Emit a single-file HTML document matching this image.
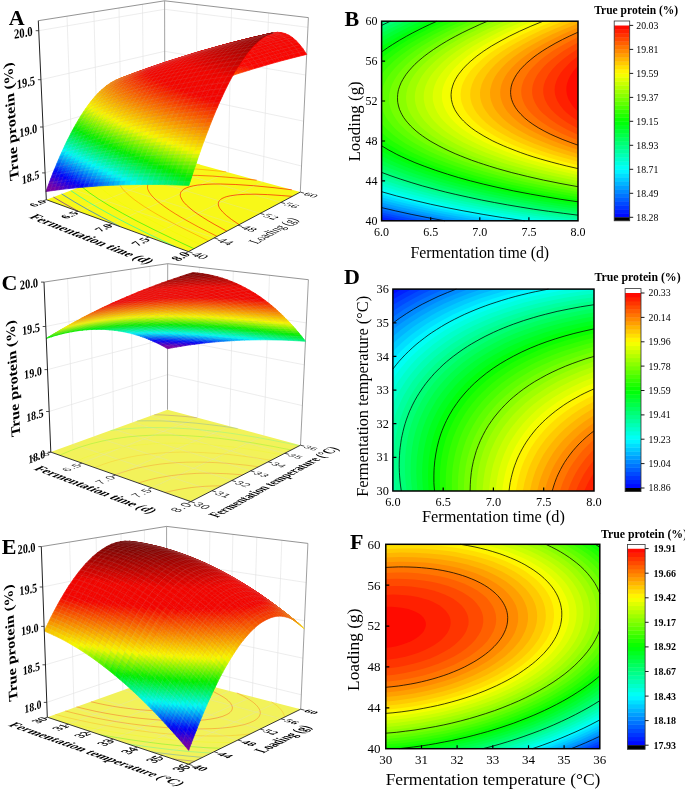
<!DOCTYPE html><html><head><meta charset="utf-8"><style>html,body{margin:0;padding:0;background:#fff}svg{display:block;will-change:transform}</style></head><body><svg width="685" height="789" viewBox="0 0 685 789" font-family="Liberation Serif, serif">
<rect width="685" height="789" fill="#fff"/>
<g>
<rect x="381.6" y="21.2" width="196.4" height="199.6" fill="#000bff"/>
<path d="M381.6,219.1L381.6,219.3 388.9,220.8 578,220.8 578,21.2 381.6,21.2 381.6,217.5Z" fill="#0020ff"/>
<path d="M391.4,219.1L399.5,220.8 578,220.8 578,21.2 381.6,21.2 381.6,217 391.4,219.1Z" fill="#0035ff"/>
<path d="M402.1,219.1L410.5,220.8 578,220.8 578,21.2 381.6,21.2 381.6,214.7 401.2,219Z" fill="#004aff"/>
<path d="M413.1,219.1L421.7,220.8 578,220.8 578,21.2 381.6,21.2 381.6,212.4 396.9,215.8 412.7,219.1Z" fill="#0060ff"/>
<path d="M424.3,219.1L433.2,220.8 578,220.8 578,21.2 381.6,21.2 381.6,210 401.2,214.5 424.2,219.1Z" fill="#0075ff"/>
<path d="M435.8,219.1L445,220.8 578,220.8 578,21.2 381.6,21.2 381.6,207.6 407.8,213.6 435.6,219.1Z" fill="#008aff"/>
<path d="M447.7,219.1L457.2,220.8 578,220.8 578,21.2 381.6,21.2 381.6,205.1 398.5,209.2 413.6,212.5 429.9,215.8 447.1,219Z" fill="#009fff"/>
<path d="M459.9,219.1L469.7,220.8 578,220.8 578,21.2 381.6,21.2 381.6,202.6 399.6,207 417.6,211 437.2,215 458.5,218.9Z" fill="#00b5ff"/>
<path d="M472.5,219.1L482.7,220.8 578,220.8 578,21.2 381.6,21.2 381.6,200 402.9,205.3 424.2,210 447.1,214.6 471.6,219Z" fill="#00caff"/>
<path d="M485.5,219.1L496.2,220.8 578,220.8 578,21.2 381.6,21.2 381.6,197.3 394.7,200.7 406.2,203.6 431.2,209.2 456.5,214.1 484.7,219Z" fill="#00dfff"/>
<path d="M499,219.1L510.1,220.8 578,220.8 578,21.2 381.6,21.2 381.6,194.5 392.4,197.5 406.2,201 419.4,204.2 434.6,207.5 451,210.8 465.1,213.5 479.8,216 497.8,218.9Z" fill="#00f4ff"/>
<path d="M513,219.1L524.7,220.8 578,220.8 578,21.2 381.6,21.2 381.6,191.7 396.3,195.8 409.4,199.2 424.2,202.7 442.2,206.7 458.5,210 476.5,213.3 492.9,216 512.5,219.1Z" fill="#00fff4"/>
<path d="M527.7,219.1L539.9,220.8 578,220.8 578,21.2 381.6,21.2 381.6,188.8 396.3,193.1 413.2,197.5 430.7,201.7 449.7,205.8 466.7,209.2 486.3,212.7 505.2,215.8 527.3,219.1Z" fill="#00ffdf"/>
<path d="M543,219.1L555.9,220.8 578,220.8 578,21.2 381.6,21.2 381.6,185.8 398.6,190.9 416,195.5 434,199.9 453.4,204.2 474.9,208.4 496.2,212.2 519.3,215.8 542,219Z" fill="#00ffca"/>
<path d="M559.1,219.1L572.9,220.8 578,220.8 578,21.2 381.6,21.2 381.6,182.6 399.6,188.2 419.2,193.6 438.9,198.5 460.2,203.1 482.7,207.5 507.6,211.8 533.8,215.8 558.4,219Z" fill="#00ffb5"/>
<path d="M576.1,219.1L578,219.4 578,21.2 381.6,21.2 381.6,179.4 391.1,182.5 401.8,185.9 420.9,191.3 432.2,194.2 445.4,197.4 468.3,202.3 494.5,207.3 519.1,211.4 546.9,215.5 574.7,219Z" fill="#00ff9f"/>
<path d="M565.8,215.8L578,217.3 578,21.2 383,21.2 381.6,21.8 381.6,176 399.6,182.1 417.8,187.5 430,190.9 440.5,193.5 463.4,198.8 486.3,203.4 510.9,207.8 537.1,211.9 564.9,215.7Z" fill="#00ff8a"/>
<path d="M569.4,214.1L578,215.2 578,21.2 390.4,21.2 381.6,25.4 381.6,172.4 391,175.9 399.6,178.9 417.6,184.5 428.4,187.5 440.5,190.7 462,195.9 485.8,200.8 513.1,205.8 540.4,210.2 568.2,214Z" fill="#00ff75"/>
<path d="M573.3,212.5L578,213.1 578,21.2 397.9,21.2 381.6,29.1 381.6,168.7 391.5,172.6 400.7,175.9 410.7,179.2 420.9,182.4 442.2,188.3 465.1,193.9 490,199.2 517.1,204.2 545.3,208.6 573.1,212.5Z" fill="#00ff60"/>
<path d="M577.3,210.8L578,210.9 578,21.2 405.6,21.2 391.6,27.9 381.6,33 381.6,164.8 389.8,168.2 399.6,172 410.7,175.9 419.2,178.7 430.7,182.1 440.5,184.9 450.3,187.5 463.8,190.9 478.2,194.1 489.6,196.5 503,199.2 517.4,201.8 545.3,206.4 576.4,210.7Z" fill="#00ff4a"/>
<path d="M568.9,207.5L578,208.7 578,21.2 413.3,21.2 406.1,24.5 395.9,29.5 381.6,37.2 381.6,160.6 389.8,164.2 397.8,167.6 406.6,170.9 416,174.2 426.1,177.6 437.1,180.9 448.9,184.2 461.8,187.5 474.9,190.7 486.3,193.2 512.5,198.5 538.7,203 568.2,207.4Z" fill="#00ff35"/>
<path d="M573.3,205.8L578,206.5 578,21.2 421.1,21.2 410.4,26.2 400.4,31.2 391.1,36.2 381.6,41.7 381.6,156.1 391.4,160.8 399.3,164.2 407.6,167.6 416.6,170.9 426.2,174.2 436.7,177.6 448,180.9 460.2,184.2 473.5,187.5 486.3,190.5 512.2,195.9 540.4,200.9 556.7,203.4 573.1,205.8Z" fill="#00ff20"/>
<path d="M578,204.2L578,21.2 429,21.2 414.8,27.9 401.8,34.5 390.2,41.2 381.6,46.6 381.6,151.2 389.8,155.5 397.5,159.3 407.8,163.7 417.6,167.6 426.8,170.9 436.7,174.2 447.5,177.6 460.2,181.2 471.8,184.2 485.6,187.5 500.6,190.9 514.2,193.6 528.9,196.4 544.9,199.2 576.4,203.9Z" fill="#00ff0b"/>
<path d="M571.1,200.8L578,201.8 578,21.2 437,21.2 422.5,27.9 412.8,32.8 406.6,36.2 399.6,40.2 392.6,44.5 387.5,47.8 381.6,52 381.6,145.8 388.1,149.7 396.6,154.3 406.2,158.8 414.9,162.6 424.2,166.2 435.6,170.3 447.5,174.2 458.5,177.5 470.6,180.9 483.7,184.2 498,187.5 510.9,190.3 524,192.9 540.1,195.9 569.8,200.6Z" fill="#0bff00"/>
<path d="M576.1,199.2L578,199.5 578,21.2 445.2,21.2 437.2,24.8 427.3,29.5 417.6,34.5 408.7,39.5 400.4,44.5 392.9,49.5 386.1,54.5 381.6,58.1 381.6,139.7 388.2,144.3 396.6,149.3 404.5,153.5 413.2,157.6 422.5,161.6 433.6,165.9 443.8,169.5 456.9,173.7 470,177.6 482.4,180.9 496,184.2 510.9,187.5 527.1,190.9 542,193.6 556.7,196.2 574.7,199Z" fill="#20ff00"/>
<path d="M570.4,195.9L578,197 578,21.2 453.4,21.2 442.3,26.2 432.1,31.2 422.5,36.2 411,42.8 402.9,48.1 394,54.5 387.8,59.5 381.6,65.3 381.6,132.6 386.5,136.7 392.3,141 399.6,145.6 406,149.3 414.3,153.6 423,157.6 430.9,160.9 442.2,165.2 453.6,169.2 463.4,172.3 475.6,175.9 488,179.2 501.1,182.4 512.5,185.1 525.6,187.8 541.2,190.9 569.8,195.8Z" fill="#35ff00"/>
<path d="M575.9,194.2L578,194.5 578,21.2 461.8,21.2 447.1,27.9 433.8,34.5 421.9,41.2 411.3,47.8 401.9,54.5 397.8,57.8 393.9,61.1 390.4,64.4 387.1,67.8 384.2,71.1 381.6,74.4 381.6,123.4 383.8,126 387,129.3 392.5,134.3 399.1,139.3 406.2,143.9 412.5,147.6 420.9,152 429.3,155.9 437.1,159.3 445.6,162.6 454.8,165.9 464.8,169.2 475.6,172.6 487.4,175.9 497.8,178.6 509.3,181.4 521.8,184.2 546.7,189.2 574.7,194Z" fill="#4aff00"/>
<path d="M571.2,190.9L578,192 578,21.2 470.2,21.2 461.8,24.9 451.9,29.5 445.3,32.8 435.9,37.8 429.1,41.7 421.9,46.1 414.5,51.1 407.9,56.1 403.9,59.5 398.4,64.4 394.7,68.3 390.9,72.8 387.4,77.8 385.4,81.1 383.1,86.1 381.6,90.9 381.6,106.9 382.9,111 384.4,114.3 386.2,117.7 388.5,121 391.1,124.3 394.2,127.7 397.7,131 401.6,134.3 406,137.6 410.9,141 416.3,144.3 422.2,147.6 428.7,150.9 435.7,154.3 448.7,159.7 456.3,162.6 465.8,165.9 483.1,171.3 502.7,176.7 524,181.8 545.3,186.2 569.8,190.6Z" fill="#60ff00"/>
<path d="M577.1,189.2L578,189.3 578,21.2 478.8,21.2 468.3,25.8 460.2,29.6 450.4,34.5 441.2,39.5 432.8,44.5 425.1,49.5 418.2,54.5 412,59.5 406.6,64.4 401.8,69.4 397.8,74.4 394.6,79.4 392,84.4 390.3,89.4 389.2,94.4 389,97.7 389.2,102.7 389.9,106 390.9,109.4 392.2,112.7 394,116 396.1,119.3 398.6,122.7 401.2,125.6 406.8,131 410.9,134.3 415.4,137.6 420.4,141 426,144.3 432.1,147.6 437.2,150.2 449.9,155.9 462.6,160.9 478.2,166.3 496.2,171.7 512.5,176 533.5,180.9 555.1,185.3 576.4,189.1Z" fill="#75ff00"/>
<path d="M573.5,185.9L578,186.7 578,21.2 487.6,21.2 479.8,24.5 469,29.5 458.9,34.5 449.7,39.5 441.2,44.5 433.5,49.5 426.5,54.5 420.3,59.5 414.8,64.4 410.1,69.4 406.1,74.4 402.9,79.4 400.4,84.4 398.6,89.4 397.7,94.4 397.5,97.7 397.6,101 398.1,104.4 399,107.7 400.2,111 401.8,114.3 403.8,117.7 406.3,121 409.1,124.3 412.4,127.7 416,130.9 422.6,136 427.5,139.3 432.3,142.3 442.1,147.6 449,150.9 455.2,153.7 469.1,159.3 483.4,164.2 499.4,169.2 515.8,173.6 532.2,177.6 551.8,181.8 573.1,185.8Z" fill="#8aff00"/>
<path d="M570.6,182.5L578,183.9 578,21.2 496.4,21.2 488.6,24.5 479.8,28.5 470.8,32.8 463.4,36.6 455.3,41.2 448.7,45.1 441.9,49.5 434.9,54.5 428.7,59.5 423.2,64.4 418.5,69.4 414.5,74.4 412.3,77.8 409.6,82.7 407.6,87.7 406.5,92.7 406.1,96 406.1,99.4 406.5,102.7 407.2,106 408.3,109.4 409.8,112.7 411.8,116 415.4,121 418.3,124.3 420.9,126.9 423.6,129.3 427.7,132.6 432.2,136 437.3,139.3 447.1,144.9 452.4,147.6 459.5,150.9 471.5,155.9 485,160.9 500.5,165.9 515.8,170.3 532.2,174.4 550.2,178.5 569.8,182.4Z" fill="#9fff00"/>
<path d="M577.1,180.9L578,181 578,21.2 505.4,21.2 490.1,27.9 483,31.2 473.1,36.2 466.7,39.6 458.3,44.5 452,48.5 445.7,52.8 440.5,56.8 435.3,61.1 430.1,66.1 425.6,71.1 421.9,76.1 419.9,79.4 417.4,84.4 416.2,87.7 415.1,92.7 414.8,96 414.9,99.4 415.3,102.7 416.1,106 417.3,109.4 418.9,112.7 420.9,116 424.6,121 427.7,124.3 430.7,127.2 433.1,129.3 437.4,132.6 442.1,136 447.1,139.1 456.3,144.3 466.5,149.3 478.3,154.3 491.8,159.3 507.2,164.2 522.4,168.6 538.7,172.8 556.7,176.8 576.4,180.7Z" fill="#b5ff00"/>
<path d="M575.2,177.6L578,178.1 578,21.2 514.6,21.2 502.7,26.2 488.5,32.8 475.7,39.5 469.9,42.8 461.7,47.8 456.8,51.1 450,56.1 444,61.1 440.4,64.4 435.7,69.4 433,72.8 430.6,76.1 427.7,81.1 425.5,86.1 424.6,89.4 423.9,92.7 423.7,96 423.8,99.4 424.3,102.7 425.1,106 426.4,109.4 429.1,114.4 431.4,117.7 434,120.9 439,126 442.9,129.3 447.1,132.5 454.8,137.6 463.4,142.6 473.7,147.6 485.4,152.6 498.8,157.6 510.9,161.6 525.4,165.9 540.4,169.8 558.4,174.1 574.7,177.5Z" fill="#caff00"/>
<path d="M573.9,174.2L578,175.1 578,21.2 523.9,21.2 507.6,28.1 497.6,32.8 490.9,36.2 478.8,42.8 473.2,46.1 465.6,51.1 461,54.5 456.7,57.8 452,61.8 447.5,66.1 443.8,70.2 440.5,74.4 438.3,77.8 436.5,81.1 434.4,86.1 433.5,89.4 432.9,92.7 432.7,96 432.8,99.4 433.4,102.7 435,107.7 437.4,112.7 440.8,117.7 443.7,121 447,124.3 452.8,129.3 459.8,134.3 468,139.3 477.6,144.3 488.6,149.3 499.4,153.6 510.9,157.7 525.6,162.3 538.7,166 555.1,170.1 573.1,174.1Z" fill="#dfff00"/>
<path d="M573.3,170.9L578,171.9 578,21.2 533.4,21.2 524,25.1 513.9,29.5 503.4,34.5 493.8,39.5 482.3,46.1 477.1,49.5 472.2,52.8 467.7,56.1 463.6,59.5 459.8,62.8 454.9,67.8 452,71.1 449.5,74.4 447.3,77.8 445.5,81.1 444,84.4 442.9,87.7 442.2,91.1 441.9,94.4 441.9,97.7 442.3,101 443.7,106 446,111 448,114.3 450.3,117.4 452,119.4 455.1,122.7 460.8,127.7 467.6,132.6 475.7,137.6 485.1,142.6 496.1,147.6 507.6,152.2 518,155.9 530.5,159.9 545.3,164.1 558.8,167.6 573.1,170.9Z" fill="#f4ff00"/>
<path d="M573.2,167.6L578,168.6 578,21.2 543.1,21.2 530.9,26.2 519.7,31.2 509.3,36.3 497.1,42.8 486.2,49.5 481.3,52.8 476.8,56.1 472.7,59.5 468.9,62.8 465.5,66.1 462.4,69.4 459.7,72.8 457.4,76.1 455.4,79.4 453.8,82.7 452.6,86.1 451.7,89.4 451.1,94.4 451.4,99.4 452.6,104.4 454.7,109.4 457.8,114.3 461.9,119.3 467,124.3 473.3,129.3 480.8,134.3 489.7,139.3 499.9,144.3 510.9,148.9 520.7,152.6 533.8,157 546.9,160.9 559.5,164.2 573.1,167.5Z" fill="#fff400"/>
<path d="M573.8,164.2L578,165.2 578,21.2 553,21.2 536.8,27.9 522.3,34.5 509.4,41.2 498.1,47.8 490.6,52.8 486.1,56.1 481.9,59.5 476.4,64.4 473.2,67.8 470.3,71.1 467.8,74.4 465.6,77.8 463.1,82.7 461.9,86.1 461.1,89.4 460.6,94.4 461,99.4 461.7,102.7 462.3,104.4 464.5,109.4 467.7,114.3 472,119.3 477.4,124.3 483.1,128.7 489,132.6 496.2,136.8 504.3,141 514.2,145.4 523.9,149.3 535.4,153.3 548.5,157.5 560.8,160.9 573.1,164.1Z" fill="#ffdf00"/>
<path d="M575,160.9L578,161.7 578,21.2 563,21.2 558.8,22.9 542.8,29.5 528.6,36.2 515.8,42.9 507.6,47.8 502.5,51.1 495.5,56.1 489.4,61.1 485.8,64.4 483.1,67.2 481.1,69.4 478.4,72.8 476.1,76.1 474.1,79.4 472,84.4 470.6,89.4 470.2,94.4 470.4,97.7 470.7,99.4 471.5,102.7 472.1,104.4 473.3,107 474.5,109.4 476.6,112.7 480.7,117.7 485.9,122.7 491.3,126.9 497.3,131 504.4,135.1 512.4,139.3 520.7,143.1 530.5,147.1 541.2,150.9 551.4,154.3 562.6,157.6 574.7,160.8Z" fill="#ffca00"/>
<path d="M576.8,157.6L578,157.9 578,21.2 573.3,21.2 556.7,27.9 541.9,34.5 531.9,39.5 522.8,44.5 514.6,49.5 507.3,54.5 500.9,59.5 495.3,64.4 490.6,69.4 486.8,74.4 483.8,79.4 481.6,84.4 480.4,89.4 480,92.7 480.1,96 480.3,97.7 481,101 481.5,102.7 482.9,106 483.7,107.7 485.8,111 489.6,115.9 492.9,119.3 497.8,123.6 503.4,127.7 510.9,132.4 517.5,136 524.3,139.3 533.8,143.4 544.6,147.6 554.3,150.9 565,154.3 576.4,157.5Z" fill="#ffb500"/>
<path d="M573.4,152.6L578,153.9 578,23.4 567,27.9 559.3,31.2 551.8,34.6 541.9,39.5 535.4,43 527.1,47.8 519.5,52.8 512.7,57.8 506.8,62.8 501.8,67.8 497.7,72.8 495.4,76.1 492.8,81.1 491.5,84.4 490.3,89.4 490,92.7 490.2,96 490.4,97.7 491.2,101 492.9,105.4 495.1,109.4 497.8,113.1 502,117.7 505.7,121 510.9,125.1 517.3,129.3 523,132.6 529.4,136 536.5,139.3 544.4,142.6 553.1,145.9 562.7,149.3 573.1,152.5Z" fill="#ff9f00"/>
<path d="M576.6,149.3L578,149.7 578,27.6 562.3,34.5 555.1,38 545.8,42.8 540,46.1 531.9,51.1 527.1,54.5 520.6,59.5 515.8,63.7 511.8,67.8 507.6,72.8 505.4,76.1 502.8,81.1 501.5,84.4 501.1,86.1 500.4,89.4 500.2,92.7 500.4,96 500.7,97.7 501.6,101 502.9,104.4 504.7,107.7 507.6,111.9 511.3,116 514.9,119.3 519,122.7 523.7,126 529,129.3 535,132.6 542,136.1 549.1,139.3 557.3,142.6 566.5,145.9 576.4,149.2Z" fill="#ff8a00"/>
<path d="M575.4,144.3L578,145.2 578,32.2 569.3,36.2 562.5,39.5 556.2,42.8 550.3,46.1 544.8,49.5 539.7,52.8 535,56.1 528.8,61.1 524,65.6 520.4,69.4 517.8,72.8 515.6,76.1 513,81.1 511.8,84.4 511,87.7 510.6,91.1 510.7,94.4 510.9,96 511.6,99.4 512.8,102.7 514.5,106 516.7,109.4 519.3,112.7 522.5,116 526.2,119.3 530.6,122.7 535.5,126 541,129.3 547.3,132.6 554.3,136 560,138.4 566.3,141 574.7,144Z" fill="#ff7500"/>
<path d="M575.6,139.3L578,140.2 578,37.1 569.9,41.2 563.7,44.5 558,47.8 552.6,51.1 547.7,54.5 543.2,57.8 539.2,61.1 535.5,64.4 532.3,67.8 529.4,71.1 527,74.4 525,77.8 523.4,81.1 522.3,84.4 521.5,87.7 521.2,91.1 521.4,94.4 522,97.7 523.1,101 524.6,104.4 526.6,107.7 528.9,110.7 530.7,112.7 534,116 537.9,119.3 542,122.3 545.3,124.5 550.5,127.7 556.7,131 561.6,133.4 567.4,136 574.7,139Z" fill="#ff6000"/>
<path d="M577,134.3L578,134.7 578,42.6 568.7,47.8 563.3,51.1 558.4,54.5 551.8,59.5 547.9,62.8 544.4,66.1 541.4,69.4 538.8,72.8 536.6,76.1 534.8,79.4 533.5,82.7 532.6,86.1 532.2,89.4 532.1,91.1 532.3,94.4 533,97.7 533.8,100 535,102.7 536.9,106 539.3,109.4 542,112.4 544,114.3 550,119.3 557.4,124.3 566.3,129.3 576.4,134Z" fill="#ff4a00"/>
<path d="M576.3,127.7L578,128.5 578,48.8 569.3,54.5 562.6,59.5 556.9,64.4 552.2,69.4 548.5,74.4 545.8,79.4 545.1,81.1 544,84.4 543.6,86.1 543.2,89.4 543.3,92.7 543.5,94.4 544.3,97.7 544.9,99.4 546.5,102.7 547.4,104.4 549.8,107.7 551.1,109.4 555.1,113.4 560.1,117.7 567.4,122.7 574.7,126.8Z" fill="#ff3500"/>
<path d="M577.8,121L578,121.1 578,56.2 571.7,61.1 568.1,64.4 563.4,69.4 560.8,72.8 557.7,77.8 556.3,81.1 555.3,84.4 554.9,86.1 554.6,89.4 554.8,92.7 555.1,94.4 556,97.7 557.4,101 560,105.3 563.3,109.4 566.6,112.7 570.6,116 576.4,120.1Z" fill="#ff2000"/>
<path d="M577.5,111L578,111.5 578,65.9 576.2,67.8 573.4,71.1 570.1,76.1 568.4,79.4 567.3,82.7 566.5,86.1 566.4,87.7 566.4,91.1 566.9,94.4 567.9,97.7 568.6,99.4 569.8,101.6 571.6,104.4 574.2,107.7 576.4,109.9Z" fill="#ff0b00"/>
<path d="M381.6,207.6L395.3,210.8 411.1,214.3 427.1,217.5 445,220.8M381.6,191.7L396.4,195.9 412.7,200 430.5,204.2 446.1,207.5 463.1,210.8 483.1,214.4 502.7,217.6 524.7,220.8M381.6,172.4L391,175.9 400.7,179.2 411.1,182.5 422.4,185.9 434.6,189.2 445.4,192 455.2,194.3 468.3,197.2 481.4,200 494.4,202.5 507.6,204.9 520.7,207.1 533.7,209.2 548.5,211.3 563.3,213.3 578,215.2M390.4,21.2L381.6,25.4M381.6,145.8L388.1,149.7 393.1,152.4 396.6,154.3 401.2,156.5 406.2,158.8 414.9,162.6 424.2,166.2 435.6,170.3 447.5,174.2 458.6,177.6 470.6,180.9 483.7,184.2 498,187.5 513.6,190.9 530.5,194.1 545.3,196.7 560.1,199.2 578,201.8M437,21.2L429.7,24.5 422.5,27.9 412.8,32.8 406.6,36.2 399.6,40.2 392.6,44.5 387.5,47.8 381.6,52M487.6,21.2L479.8,24.5 474.9,26.8 469,29.5 462.2,32.8 455.7,36.2 452,38.2 446.7,41.2 441.2,44.5 433.5,49.5 428.8,52.8 424.4,56.1 422.3,57.8 418.4,61.1 414.8,64.4 411.6,67.8 408.7,71.1 406.1,74.4 404.5,76.8 402.9,79.4 401.1,82.7 399.7,86.1 398.6,89.4 398.2,91.1 397.7,94.4 397.5,97.7 397.6,101 397.8,102.7 398.5,106 399.5,109.4 401,112.7 401.8,114.3 403.8,117.7 406.2,120.9 407.8,122.8 410.7,126 412.7,127.9 416.1,131 419.2,133.5 422.6,136 425.8,138.2 430.1,141 434,143.2 438.9,145.9 443.8,148.4 449,150.9 455.2,153.7 460.6,155.9 465.1,157.7 471.6,160.2 478.5,162.6 483.4,164.2 489.6,166.2 497.8,168.7 511.8,172.6 518.3,174.2 527.3,176.4 543.6,180.1 560,183.4 578,186.7M543.1,21.2L530.9,26.2 519.7,31.2 509.4,36.2 500,41.2 491.4,46.1 486.3,49.4 483.7,51.1 481.3,52.8 476.8,56.1 474.7,57.8 470.8,61.1 468.3,63.3 465.5,66.1 463.4,68.3 461.1,71.1 458.5,74.4 457.4,76.1 455.4,79.4 454.6,81.1 453.8,82.7 452.6,86.1 451.7,89.4 451.4,91.1 451.1,94.4 451.1,96 451.4,99.4 452,102.2 452.6,104.4 453.2,106 454.7,109.4 455.6,111 456.9,113 459,116 461.8,119.3 463.5,121 466.7,124 469,126 471.6,128.1 475.7,131 478.2,132.6 483.1,135.6 489.7,139.3 492.9,141 497.8,143.3 503.7,145.9 507.7,147.6 516.2,150.9 520.7,152.6 527.3,154.9 533.8,157 540.4,159 551.8,162.2 559.5,164.2 566.2,165.9 578,168.6M578,32.2L569.3,36.2 562.5,39.5 555.1,43.4 547.5,47.8 542.2,51.1 537.3,54.5 535,56.1 530.8,59.5 526.9,62.8 525.2,64.4 522.4,67.3 520.4,69.4 519.1,71.1 516.6,74.4 514.6,77.8 513,81.1 512.3,82.7 511.3,86.1 511,87.7 510.8,89.4 510.6,91.1 510.6,92.7 510.7,94.4 510.9,96 511.2,97.7 511.6,99.4 512.2,101 512.8,102.7 513.6,104.4 514.5,106 515.5,107.7 516.7,109.4 517.9,111 520.9,114.3 524.3,117.7 528.3,121 532.9,124.3 538.2,127.7 544.1,131 550.2,134.1 555.1,136.3 562.1,139.3 570.8,142.6 578,145.2" fill="none" stroke="#000" stroke-width="0.75"/>
</g>
<rect x="381.6" y="21.2" width="196.4" height="199.6" fill="none" stroke="#000" stroke-width="1.5"/>
<text x="381.6" y="236.3" font-size="12" text-anchor="middle" font-weight="normal" fill="#000" >6.0</text>
<text x="430.7" y="236.3" font-size="12" text-anchor="middle" font-weight="normal" fill="#000" >6.5</text>
<text x="479.8" y="236.3" font-size="12" text-anchor="middle" font-weight="normal" fill="#000" >7.0</text>
<text x="528.9" y="236.3" font-size="12" text-anchor="middle" font-weight="normal" fill="#000" >7.5</text>
<text x="578" y="236.3" font-size="12" text-anchor="middle" font-weight="normal" fill="#000" >8.0</text>
<text x="377.6" y="224.8" font-size="12" text-anchor="end" font-weight="normal" fill="#000" >40</text>
<text x="377.6" y="184.8" font-size="12" text-anchor="end" font-weight="normal" fill="#000" >44</text>
<text x="377.6" y="144.9" font-size="12" text-anchor="end" font-weight="normal" fill="#000" >48</text>
<text x="377.6" y="105" font-size="12" text-anchor="end" font-weight="normal" fill="#000" >52</text>
<text x="377.6" y="65.1" font-size="12" text-anchor="end" font-weight="normal" fill="#000" >56</text>
<text x="377.6" y="25.2" font-size="12" text-anchor="end" font-weight="normal" fill="#000" >60</text>
<path d="M430.7,220.8v-3.5M479.8,220.8v-3.5M528.9,220.8v-3.5M381.6,180.9h3.5M381.6,141h3.5M381.6,101h3.5M381.6,61.1h3.5" stroke="#000" stroke-width="1.2" fill="none"/>
<text x="479.8" y="258" font-size="15.8" text-anchor="middle" font-weight="normal" fill="#000" >Fermentation time (d)</text>
<text transform="translate(360.3,121.4) rotate(-90)" font-size="16.9" text-anchor="middle">Loading (g)</text>
<rect x="614.2" y="213.1" width="15.5" height="4.4" fill="#000bff"/>
<rect x="614.2" y="209.1" width="15.5" height="4.4" fill="#0020ff"/>
<rect x="614.2" y="205.1" width="15.5" height="4.4" fill="#0035ff"/>
<rect x="614.2" y="201.1" width="15.5" height="4.4" fill="#004aff"/>
<rect x="614.2" y="197.1" width="15.5" height="4.4" fill="#0060ff"/>
<rect x="614.2" y="193.1" width="15.5" height="4.4" fill="#0075ff"/>
<rect x="614.2" y="189.1" width="15.5" height="4.4" fill="#008aff"/>
<rect x="614.2" y="185.1" width="15.5" height="4.4" fill="#009fff"/>
<rect x="614.2" y="181.1" width="15.5" height="4.4" fill="#00b5ff"/>
<rect x="614.2" y="177.1" width="15.5" height="4.4" fill="#00caff"/>
<rect x="614.2" y="173.1" width="15.5" height="4.4" fill="#00dfff"/>
<rect x="614.2" y="169.1" width="15.5" height="4.4" fill="#00f4ff"/>
<rect x="614.2" y="165.1" width="15.5" height="4.4" fill="#00fff4"/>
<rect x="614.2" y="161.1" width="15.5" height="4.4" fill="#00ffdf"/>
<rect x="614.2" y="157.1" width="15.5" height="4.4" fill="#00ffca"/>
<rect x="614.2" y="153.1" width="15.5" height="4.4" fill="#00ffb5"/>
<rect x="614.2" y="149.1" width="15.5" height="4.4" fill="#00ff9f"/>
<rect x="614.2" y="145.1" width="15.5" height="4.4" fill="#00ff8a"/>
<rect x="614.2" y="141.1" width="15.5" height="4.4" fill="#00ff75"/>
<rect x="614.2" y="137.1" width="15.5" height="4.4" fill="#00ff60"/>
<rect x="614.2" y="133.1" width="15.5" height="4.4" fill="#00ff4a"/>
<rect x="614.2" y="129.1" width="15.5" height="4.4" fill="#00ff35"/>
<rect x="614.2" y="125.1" width="15.5" height="4.4" fill="#00ff20"/>
<rect x="614.2" y="121.2" width="15.5" height="4.4" fill="#00ff0b"/>
<rect x="614.2" y="117.2" width="15.5" height="4.4" fill="#0bff00"/>
<rect x="614.2" y="113.2" width="15.5" height="4.4" fill="#20ff00"/>
<rect x="614.2" y="109.2" width="15.5" height="4.4" fill="#35ff00"/>
<rect x="614.2" y="105.2" width="15.5" height="4.4" fill="#4aff00"/>
<rect x="614.2" y="101.2" width="15.5" height="4.4" fill="#60ff00"/>
<rect x="614.2" y="97.2" width="15.5" height="4.4" fill="#75ff00"/>
<rect x="614.2" y="93.2" width="15.5" height="4.4" fill="#8aff00"/>
<rect x="614.2" y="89.2" width="15.5" height="4.4" fill="#9fff00"/>
<rect x="614.2" y="85.2" width="15.5" height="4.4" fill="#b5ff00"/>
<rect x="614.2" y="81.2" width="15.5" height="4.4" fill="#caff00"/>
<rect x="614.2" y="77.2" width="15.5" height="4.4" fill="#dfff00"/>
<rect x="614.2" y="73.2" width="15.5" height="4.4" fill="#f4ff00"/>
<rect x="614.2" y="69.2" width="15.5" height="4.4" fill="#fff400"/>
<rect x="614.2" y="65.2" width="15.5" height="4.4" fill="#ffdf00"/>
<rect x="614.2" y="61.2" width="15.5" height="4.4" fill="#ffca00"/>
<rect x="614.2" y="57.2" width="15.5" height="4.4" fill="#ffb500"/>
<rect x="614.2" y="53.2" width="15.5" height="4.4" fill="#ff9f00"/>
<rect x="614.2" y="49.2" width="15.5" height="4.4" fill="#ff8a00"/>
<rect x="614.2" y="45.2" width="15.5" height="4.4" fill="#ff7500"/>
<rect x="614.2" y="41.2" width="15.5" height="4.4" fill="#ff6000"/>
<rect x="614.2" y="37.2" width="15.5" height="4.4" fill="#ff4a00"/>
<rect x="614.2" y="33.2" width="15.5" height="4.4" fill="#ff3500"/>
<rect x="614.2" y="29.2" width="15.5" height="4.4" fill="#ff2000"/>
<rect x="614.2" y="25.2" width="15.5" height="4.4" fill="#ff0b00"/>
<rect x="614.2" y="21" width="15.5" height="4.4" fill="#fff"/>
<rect x="614.2" y="217.3" width="15.5" height="3.5" fill="#000"/>
<rect x="614.2" y="21" width="15.5" height="199.8" fill="none" stroke="#333" stroke-width="0.8"/>
<text x="636.3" y="28.7" font-size="9.8" text-anchor="start" font-weight="normal" fill="#000" >20.03</text>
<text x="636.3" y="52.7" font-size="9.8" text-anchor="start" font-weight="normal" fill="#000" >19.81</text>
<text x="636.3" y="76.7" font-size="9.8" text-anchor="start" font-weight="normal" fill="#000" >19.59</text>
<text x="636.3" y="100.7" font-size="9.8" text-anchor="start" font-weight="normal" fill="#000" >19.37</text>
<text x="636.3" y="124.7" font-size="9.8" text-anchor="start" font-weight="normal" fill="#000" >19.15</text>
<text x="636.3" y="148.7" font-size="9.8" text-anchor="start" font-weight="normal" fill="#000" >18.93</text>
<text x="636.3" y="172.7" font-size="9.8" text-anchor="start" font-weight="normal" fill="#000" >18.71</text>
<text x="636.3" y="196.6" font-size="9.8" text-anchor="start" font-weight="normal" fill="#000" >18.49</text>
<text x="636.3" y="220.6" font-size="9.8" text-anchor="start" font-weight="normal" fill="#000" >18.28</text>
<path d="M629.7,25.4h3.5M629.7,49.4h3.5M629.7,73.4h3.5M629.7,97.4h3.5M629.7,121.3h3.5M629.7,145.3h3.5M629.7,169.3h3.5M629.7,193.3h3.5M629.7,217.3h3.5" stroke="#000" stroke-width="0.9" fill="none"/>
<text x="594.3" y="13.6" font-size="11.5" text-anchor="start" font-weight="bold" fill="#000" >True protein (%)</text>
<text x="344.5" y="26.3" font-size="22" text-anchor="start" font-weight="bold" fill="#000" >B</text>
<g>
<rect x="392.9" y="289.1" width="201.1" height="201.9" fill="#000bff"/>
<path d="M392.9,491L594,491 594,289.1 402.2,289.1 392.9,294.2 392.9,489.3Z" fill="#0020ff"/>
<path d="M392.9,491L594,491 594,289.1 412.2,289.1 402.3,294.1 392.9,299.5 392.9,489.3Z" fill="#0035ff"/>
<path d="M392.9,491L594,491 594,289.1 422.5,289.1 414.7,292.8 406.3,297.2 399.6,301 392.9,305.1 392.9,489.3Z" fill="#004aff"/>
<path d="M392.9,491L594,491 594,289.1 433.2,289.1 422.1,294.1 412.2,299.2 403,304.5 392.9,310.9 392.9,489.3Z" fill="#0060ff"/>
<path d="M392.9,491L594,491 594,289.1 444.5,289.1 436.5,292.4 429.8,295.5 423.1,298.7 416.4,302.2 409.8,305.9 404.2,309.3 399,312.7 392.9,316.9 392.9,489.3Z" fill="#0075ff"/>
<path d="M392.9,491L594,491 594,289.1 456.3,289.1 447.6,292.5 438.1,296.5 429.8,300.5 422.4,304.2 413.4,309.3 406.3,313.7 399.6,318.2 392.9,323.1 392.9,489.3Z" fill="#008aff"/>
<path d="M392.9,491L594,491 594,289.1 468.8,289.1 458.3,292.9 446.9,297.5 436.5,302.3 426.4,307.4 417.1,312.7 409.1,317.7 401.3,323.1 392.9,329.6 392.9,489.3Z" fill="#009fff"/>
<path d="M392.9,491L594,491 594,289.1 482.1,289.1 468.3,293.7 456.6,298.2 444.9,303.3 432.8,309.3 421.4,315.7 411.3,322.2 406.3,325.7 401.3,329.5 392.9,336.5 392.9,489.3Z" fill="#00b5ff"/>
<path d="M392.9,491L594,491 594,289.1 496.4,289.1 488.4,291.4 480,294.1 465,299.6 457.7,302.6 450,305.9 443,309.3 436.5,312.6 430.4,316 424.7,319.4 419.4,322.8 413,327.1 407.6,331.2 403,334.8 397.4,339.6 392.9,343.8 392.9,489.3Z" fill="#00caff"/>
<path d="M392.9,491L594,491 594,289.1 511.9,289.1 495.1,293.7 480,298.6 473.3,301.1 465,304.3 451.6,310.3 444.9,313.6 438.1,317.2 431.4,321 426.4,324.1 416.1,331.2 411.3,334.8 405.5,339.6 401.3,343.3 396.4,348 392.9,351.6 392.9,489.3Z" fill="#00dfff"/>
<path d="M392.9,491L594,491 594,289.1 529.1,289.1 520.3,291.1 510.2,293.7 501.8,296 493.4,298.6 478.4,303.8 465,309.2 453.2,314.6 447.2,317.7 441.1,321.1 430,327.8 425,331.2 419.7,334.9 414.7,338.8 409.8,342.9 406,346.3 401.3,350.8 397.5,354.7 392.9,359.9 392.9,489.3Z" fill="#00f4ff"/>
<path d="M392.9,491L594,491 594,289.1 548.5,289.1 533.7,292.1 518.6,295.7 505.2,299.4 491.8,303.6 478.4,308.6 466.6,313.5 454.3,319.4 443.2,325.5 434.1,331.2 424.5,337.9 416,344.6 411.3,348.8 406.9,353 399.6,360.8 396.2,364.8 392.9,369 392.9,489.3Z" fill="#00fff4"/>
<path d="M392.9,491L594,491 594,289.1 571.6,289.1 560.5,290.8 548.8,292.9 532,296.5 516.9,300.3 503.5,304.3 488.9,309.3 476.7,314.1 465,319.4 454.9,324.5 444.9,330.3 435.7,336.2 426.5,342.9 418.5,349.7 411.3,356.4 406.3,361.7 401.3,367.6 396.9,373.2 392.9,379.1 392.9,489.3Z" fill="#00ffdf"/>
<path d="M392.9,491L594,491 594,289.9 578.9,291.8 565.5,293.8 552.1,296.2 538,299.2 525.3,302.3 512.6,305.9 501.8,309.4 490.1,313.6 480,317.7 468.9,322.8 459.1,327.8 449.9,333.1 441.5,338.5 433.1,344.6 424.8,351.4 417.5,358.1 411.1,364.8 408,368.5 404.2,373.2 398.2,381.6 395.1,386.7 392.9,390.6 392.9,489.3Z" fill="#00ffca"/>
<path d="M392.9,491L594,491 594,293.5 580.6,295.3 566.4,297.5 553.8,299.9 540.4,302.8 527.8,305.9 516.1,309.3 505.2,312.8 493.4,317.1 483.4,321.3 473,326.1 463.3,331.1 454.5,336.2 446.5,341.4 438.1,347.5 431.2,353 423.8,359.8 418.9,364.8 414.3,369.9 410.2,374.9 406.3,380.2 403,385.2 399,391.7 395.5,398.5 392.9,404.3 392.9,489.3Z" fill="#00ffb5"/>
<path d="M392.9,491L594,491 594,297.2 580.6,299 568.9,301 555.5,303.5 543.7,306.2 532,309.1 520.3,312.5 509.5,316 498.5,320.1 487.9,324.4 478.4,328.8 468.3,334 459.9,338.9 451.6,344.3 444.1,349.7 436.5,355.8 430.2,361.4 423.5,368.2 418,374.4 412.5,381.6 408,388.4 404,395.1 399.8,403.5 396.3,411.9 393.5,420.3 392.9,422.6 392.9,489.3Z" fill="#00ff9f"/>
<path d="M396,491L594,491 594,300.9 582.3,302.6 568.9,304.9 555.6,307.6 543.7,310.4 532,313.5 521.9,316.5 510.2,320.5 500.2,324.3 490.1,328.6 481.2,332.8 471.7,337.9 463.3,342.9 455.5,348 448.2,353.3 441.5,358.8 434.8,364.8 429.8,369.9 423.9,376.6 418.6,383.3 414,390.1 409.7,397.3 405.7,405.2 402.8,411.9 399.8,420.3 397.5,428.7 395.7,437.2 394.5,445.6 393.8,454 393.6,462.4 393.8,470.8 394.4,479.2 395.7,489.3Z" fill="#00ff8a"/>
<path d="M401.1,489.3L401.3,491 594,491 594,304.7 580.6,306.8 568.9,309 557.1,311.4 545.4,314.3 533.7,317.5 523.6,320.6 513.6,324.1 504,327.8 495.1,331.6 485.5,336.2 478.4,340 470,344.8 462.5,349.7 454.9,355.1 448.2,360.4 441.3,366.5 436.2,371.5 430.1,378.3 424.7,385 420.1,391.7 415.9,398.5 412.4,405.2 409.3,411.9 406.2,420.3 404.1,427.1 402.1,435.5 400.6,443.9 399.7,452.3 399.3,460.7 399.3,469.1 399.7,477.5 400.8,487.6Z" fill="#00ff75"/>
<path d="M406.7,491L594,491 594,308.6 582.3,310.5 570.5,312.7 558.8,315.3 547.1,318.2 536.9,321.1 526.3,324.4 516.8,327.8 506.9,331.7 496.8,336.2 488.4,340.3 480,344.9 472.1,349.7 464.6,354.7 457.8,359.8 451.6,364.9 444.9,371.1 439.5,376.6 433.6,383.3 428.5,390.1 424.7,395.6 421.1,401.8 417.6,408.6 414.6,415.3 411.5,423.7 409.5,430.4 407.5,438.8 406.1,447.3 405.3,455.7 404.9,464.1 405,472.5 405.5,480.9 406.5,489.3Z" fill="#00ff60"/>
<path d="M412.1,491L594,491 594,312.5 582.3,314.5 570.5,316.9 559.6,319.4 548.8,322.2 538.7,325.1 528.6,328.4 518.6,332.1 510.2,335.5 501.1,339.6 493.4,343.4 485,348 476.7,353 469.3,358.1 462.5,363.1 456.4,368.2 450.9,373.2 444.9,379.4 439.8,385.2 434.7,391.7 430.2,398.5 426.2,405.2 422.8,411.9 419.8,418.7 417.4,425.4 415.3,432.1 413.3,440.5 412.1,447.3 411.1,455.7 410.7,464.1 410.6,472.5 411.1,480.9 411.9,489.3Z" fill="#00ff4a"/>
<path d="M417.6,491L594,491 594,316.5 582.3,318.6 572.2,320.8 562.2,323.1 550.9,326.1 540.4,329.3 530.3,332.7 521.1,336.2 513,339.6 505.2,343.1 496.8,347.4 489.6,351.4 481.4,356.4 474,361.4 467.3,366.5 461.3,371.5 455.8,376.6 449.9,382.7 445,388.4 441.1,393.4 436.4,400.1 432.4,406.9 428.9,413.6 425.9,420.3 423.3,427.1 421.2,433.8 419.2,442.2 418,448.9 416.9,457.4 416.5,464.1 416.3,472.5 416.7,480.9 417.4,489.3Z" fill="#00ff35"/>
<path d="M423,489.3L423.2,491 594,491 594,320.6 583.9,322.5 573.9,324.7 563.8,327.1 553.8,329.9 544.2,332.8 534.4,336.2 525.5,339.6 516.9,343.2 508.5,347.1 500.3,351.4 493.5,355.2 486.1,359.8 478.8,364.8 472.2,369.9 466.2,374.9 460.8,380 454.9,386.1 450.1,391.7 446.2,396.8 441.6,403.5 438.1,409.3 435,415.3 431.9,422 429.3,428.7 427.2,435.5 425.5,442.2 424.1,448.9 423,457.4 422.4,464.1 422.1,472.5 422.3,479.2 422.8,487.6Z" fill="#00ff20"/>
<path d="M428.8,491L594,491 594,324.7 582.3,327.1 572.2,329.5 562.2,332.1 553.8,334.6 543.7,337.9 535.3,340.9 527,344.2 518.6,347.9 511.4,351.4 503.5,355.5 496.2,359.8 490.1,363.7 483.7,368.2 477.1,373.2 471.2,378.3 465.8,383.3 461,388.4 456.6,393.4 451.6,399.9 447.9,405.2 444.8,410.2 441.2,417 438.1,423.7 435.4,430.4 433.2,437.2 431.5,443.9 430.1,450.6 428.8,459 428.3,465.8 428,474.2 428.1,480.9 428.6,489.3Z" fill="#00ff0b"/>
<path d="M434.5,491L594,491 594,328.9 583.9,331.1 573.9,333.5 564.1,336.2 555.5,338.8 547.1,341.6 538.7,344.7 530.7,348 523.1,351.4 515.2,355.2 506.9,359.7 500.2,363.7 493.4,368.1 486.7,372.9 481.7,376.9 476.2,381.6 470.9,386.7 466.1,391.7 461.6,397 456.7,403.5 453.2,408.6 449.9,414.1 446.6,420.3 443.5,427.1 440.9,433.8 438.8,440.5 437.1,447.3 435.8,454 434.8,460.7 434.2,467.4 433.9,474.2 433.9,480.9 434.3,489.3Z" fill="#0bff00"/>
<path d="M440.2,491L594,491 594,333.3 583.9,335.6 574.8,337.9 565.5,340.5 557.1,343.2 548.8,346.1 540.4,349.3 532,352.9 525.3,356 517.8,359.8 511.7,363.1 505.2,367 498.3,371.5 491.8,376.3 486.7,380.3 481.4,385 476.1,390.1 471.4,395.1 466.6,400.7 462,406.9 458.6,411.9 454.9,418.2 452.1,423.7 449.8,428.7 447.1,435.5 445.4,440.5 443.6,447.3 442.1,454 441,460.7 440.3,467.4 439.9,474.2 439.8,480.9 440.1,489.3Z" fill="#20ff00"/>
<path d="M446,491L594,491 594,337.7 585.6,339.7 575.6,342.4 567.2,344.9 558.8,347.6 550.4,350.6 543.7,353.3 536.5,356.4 528.6,360.1 521.9,363.6 515.2,367.3 508.5,371.5 503.4,374.9 496.8,379.7 491.8,383.8 486.6,388.4 481.4,393.4 476.6,398.5 472.4,403.5 468.6,408.6 465,413.8 461.6,419.4 458.4,425.4 456.1,430.4 453.3,437.2 451.6,442.4 449.7,448.9 448.2,455.7 447.1,462.4 446.3,469.1 445.9,475.9 445.7,482.6 445.9,489.3Z" fill="#35ff00"/>
<path d="M451.9,491L594,491 594,342.2 585.6,344.3 577.2,346.7 568.9,349.3 560.5,352.1 553.5,354.7 545.4,358 538.7,361 532,364.3 525.3,367.9 518.9,371.5 513.5,374.9 506.9,379.5 501.7,383.3 495.6,388.4 491.8,391.8 486.7,396.8 482,401.8 477.8,406.9 474,411.9 470.6,417 467.6,422 464.8,427.1 462.4,432.1 459.6,438.8 457.9,443.9 455.9,450.6 454.7,455.7 453.4,462.4 452.5,469.1 452,475.9 451.8,482.6 451.9,489.3Z" fill="#4aff00"/>
<path d="M457.9,491L594,491 594,346.8 585.6,349.1 577.9,351.4 570.5,353.7 563,356.4 555.5,359.3 548.8,362.2 542,365.2 535.3,368.6 529.9,371.5 523.6,375.2 516.9,379.5 511.5,383.3 506.9,386.8 500.9,391.7 496.8,395.5 491.8,400.4 487.4,405.2 483.4,410.1 479.5,415.3 476.7,419.5 473.1,425.4 470.5,430.4 468.1,435.5 466,440.5 464.2,445.6 462.2,452.3 460.9,457.4 459.6,464.1 458.9,469.1 458.2,475.9 457.9,482.6 457.9,489.3Z" fill="#60ff00"/>
<path d="M464,491L594,491 594,351.5 585.6,353.9 577.8,356.4 563.8,361.4 557.1,364.2 550.4,367.1 544.7,369.9 538.2,373.2 532.2,376.6 526.7,380 521.5,383.3 515.2,387.8 510.3,391.7 505.2,396.1 500.9,400.1 496.8,404.3 492.9,408.6 488.8,413.6 485.1,418.7 481.8,423.7 478.8,428.7 476.2,433.8 473.8,438.8 471.8,443.9 470,448.9 468.5,454 467.2,459 465.8,465.8 465,471.7 464.4,477.5 464.1,482.6 463.9,489.3Z" fill="#75ff00"/>
<path d="M470.1,491L594,491 594,356.4 585.6,358.9 578.9,361.2 565.5,366.2 558.8,369.1 552.1,372.2 546.7,374.9 540.5,378.3 534.7,381.6 529.4,385 524.5,388.4 520,391.7 515.2,395.5 510.2,399.9 506.4,403.5 501.8,408.2 498.5,412 494.4,417 491.8,420.6 488.4,425.5 485.5,430.4 482.8,435.5 480.4,440.5 478.3,445.6 476.4,450.6 474.9,455.7 473.3,461.6 472.1,467.4 471.3,472.5 470.7,477.5 470.4,482.6 470.1,489.3Z" fill="#8aff00"/>
<path d="M476.4,491L594,491 594,361.4 580.6,365.9 573.9,368.4 567.2,371.2 555.4,376.6 549,380 543.7,382.9 533.7,389.2 528.6,392.7 523.6,396.6 519.3,400.1 515.2,403.7 510.3,408.6 507.1,411.9 503.5,416.1 500.1,420.3 496.8,424.9 494.3,428.7 491.8,432.9 489.4,437.2 487,442.2 484.8,447.3 482.9,452.3 481.3,457.4 479.9,462.4 478.8,467.4 477.9,472.5 477.2,477.5 476.7,482.6 476.4,489.3Z" fill="#9fff00"/>
<path d="M482.7,491L594,491 594,366.5 580.6,371.3 568.9,376.2 557.7,381.6 547.1,387.6 538,393.4 533.3,396.8 528.6,400.4 524.9,403.5 520.3,407.7 516,411.9 512.8,415.3 509.9,418.7 505.9,423.7 503.4,427.1 500.2,432 498.1,435.5 495.3,440.5 491.4,448.9 489.5,454 487.8,459 486.4,464.1 485.2,469.1 484.3,474.2 483.6,479.2 482.7,489.3Z" fill="#b5ff00"/>
<path d="M489.1,491L594,491 594,371.8 581.5,376.6 570.5,381.4 560.5,386.5 551.4,391.7 542,397.9 533.7,404.3 528.7,408.6 525.3,411.7 518.6,418.7 513,425.4 510.2,429.1 507,433.8 504.9,437.2 502.1,442.2 498.1,450.6 495,459 493.4,464.1 492.1,469.1 491.1,474.2 490.2,479.2 489.6,484.3 489.2,489.3Z" fill="#caff00"/>
<path d="M495.6,491L594,491 594,377.3 583.2,381.6 572.3,386.7 562.8,391.7 553.8,397.2 544.8,403.5 537,409.7 530.3,415.9 523.6,423 517.6,430.4 513,437.2 510.2,441.8 508.1,445.6 504.2,454 501.1,462.4 498.7,470.8 497,479.2 496.3,484.3 495.8,489.3Z" fill="#dfff00"/>
<path d="M502.3,491L594,491 594,383 583.9,387.3 574.9,391.7 565.8,396.8 557.1,402.3 548.8,408.3 542,413.8 535.1,420.3 528.9,427.1 523.6,433.8 519,440.5 515.1,447.3 511,455.7 507.8,464.1 505.4,472.5 503.6,480.9 502.4,489.3Z" fill="#f4ff00"/>
<path d="M509,491L594,491 594,388.9 584.2,393.4 575.6,398 567.2,402.9 560.5,407.4 553.8,412.4 546.4,418.7 540.4,424.5 535,430.4 529.7,437.2 525.3,443.6 521.2,450.6 518,457.4 515.2,464.1 512.5,472.5 510.5,480.9 509.2,489.3Z" fill="#fff400"/>
<path d="M515.9,491L594,491 594,395 585.6,399.2 577.8,403.5 570.5,408.1 563.8,412.7 557.1,418 550.7,423.7 545.6,428.7 540.4,434.7 535.8,440.5 531.3,447.3 527.5,454 524.2,460.7 521.5,467.4 519.4,474.2 517.7,480.9 516.1,489.3Z" fill="#ffdf00"/>
<path d="M522.9,491L594,491 594,401.4 586.9,405.2 578.9,410 572.2,414.5 566.6,418.7 560.5,423.7 555.5,428.4 550.3,433.8 545.9,438.8 542,443.9 537.6,450.6 534.7,455.7 531.3,462.4 528.5,469.1 526.3,475.9 524.5,482.6 523.1,489.3Z" fill="#ffca00"/>
<path d="M530,491L594,491 594,408.1 587.5,411.9 582.2,415.3 575.6,420 570.5,423.9 564.9,428.7 559.7,433.8 555.1,438.8 550.9,443.9 547.2,448.9 543.7,454.3 540.4,460.3 537.7,465.8 535.3,471.5 533.3,477.5 531.8,482.6 530.3,489.3Z" fill="#ffb500"/>
<path d="M537.3,491L594,491 594,415.2 588.6,418.7 583.8,422 578.9,425.7 573.2,430.4 568.9,434.4 564.5,438.8 560.5,443.3 557.1,447.5 553.6,452.3 550.4,457.4 547.5,462.4 545,467.4 542.8,472.5 540.9,477.5 539.3,482.6 537.6,489.3Z" fill="#ff9f00"/>
<path d="M544.7,491L594,491 594,422.8 589,426.3 583.9,430.2 579.7,433.8 576,437.2 572.6,440.5 568.9,444.5 565.5,448.5 562.5,452.3 560.1,455.7 556.9,460.7 554,465.8 552.1,469.6 550.1,474.2 548.1,479.2 546.5,484.3 545.1,489.3Z" fill="#ff8a00"/>
<path d="M552.2,491L594,491 594,430.9 586.2,437.2 579.1,443.9 573.1,450.6 567.9,457.4 563.5,464.1 561.6,467.4 559,472.5 555.4,480.9 552.7,489.3Z" fill="#ff7500"/>
<path d="M560,491L594,491 594,439.6 587.5,445.6 582.7,450.6 578.4,455.7 573.4,462.4 569.2,469.1 565.7,475.9 562.8,482.6 560.5,489.3Z" fill="#ff6000"/>
<path d="M567.9,491L594,491 594,449.2 589.5,454 585.6,458.5 582.3,462.9 578.9,467.7 576,472.5 573.4,477.5 570.5,483.8 568.4,489.3Z" fill="#ff4a00"/>
<path d="M576,491L594,491 594,460.1 590.8,464.1 588.3,467.4 583.9,474.2 580.3,480.9 578.7,484.3 576.6,489.3Z" fill="#ff3500"/>
<path d="M584.3,491L594,491 594,472.7 590.9,477.5 589,480.9 587.3,484.3 585,489.3Z" fill="#ff2000"/>
<path d="M592.9,491L594,491 594,488.5 593.6,489.3Z" fill="#ff0b00"/>
<path d="M456.3,289.1L447.6,292.5 438.1,296.5 429.8,300.5 422.4,304.2 418,306.6 413.4,309.3 406.3,313.7 399.6,318.2 392.9,323.1M548.5,289.1L535.3,291.7 528.6,293.2 521.9,294.8 515.2,296.5 508.5,298.4 501.8,300.4 496.8,302 490.1,304.2 485.3,305.9 480,307.9 475,309.9 470,312 464.7,314.3 459.9,316.6 454.3,319.4 449.9,321.7 445,324.4 441.5,326.5 436.5,329.6 431.5,332.8 428.1,335.2 424.5,337.9 419.7,341.6 416,344.6 412.2,348 408.6,351.4 405.2,354.7 402,358.1 399,361.4 396.2,364.8 392.9,369M594,304.7L580.6,306.8 568.9,309 557.1,311.4 545.4,314.3 538.9,316 533.7,317.5 523.6,320.6 513.6,324.1 508.3,326.1 503.5,328 498.5,330.1 493.4,332.4 485.1,336.4 480,339.1 476.1,341.3 471.7,343.8 467.6,346.3 463.3,349.1 460,351.4 453.2,356.4 449.9,359 446.5,361.8 443.1,364.8 439.6,368.2 434.6,373.2 431.6,376.6 428.7,380 426,383.3 423.5,386.7 421.2,390.1 419,393.4 416.9,396.8 414.7,400.7 412.4,405.2 410.8,408.6 409.3,411.9 408,415.3 406.3,419.9 405.1,423.7 404.1,427.1 403,431.5 402.1,435.5 401.4,438.8 400.9,442.2 400.2,447.3 399.8,450.6 399.5,455.7 399.3,459 399.2,464.1 399.2,467.4 399.4,472.5 399.6,475.9 400,480.9 400.6,486 401.3,491M594,328.9L583.9,331.1 573.9,333.5 564.1,336.2 555.5,338.8 547.1,341.6 538.7,344.7 530.3,348.1 521.9,351.9 513.6,356.1 506.8,359.8 500.2,363.7 493.3,368.2 490.1,370.5 486.4,373.2 480.1,378.3 474.4,383.3 470,387.6 467.7,390.1 465,393 460.4,398.5 456.7,403.5 453.2,408.6 449.9,414.1 448.3,417 446.5,420.5 445,423.7 443.5,427.1 442.2,430.4 440.9,433.8 439.8,437.2 438.8,440.5 437.1,447.3 435.8,454 434.8,460.7 434.2,467.4 434,470.8 433.9,475.9 433.9,482.6 434.1,486 434.5,491M594,356.4L585.6,358.9 578.9,361.2 572.2,363.6 565.5,366.2 558.8,369.1 552.1,372.2 546.7,374.9 540.5,378.3 534.7,381.6 529.4,385 523.6,389 518.6,392.8 513.7,396.8 509.9,400.1 505.2,404.7 501.5,408.6 498.5,412 494.4,417 491.8,420.6 488.4,425.5 485.5,430.4 482.8,435.5 480.4,440.5 478.3,445.6 476.4,450.6 474.9,455.7 473.3,461.6 472.1,467.4 471.3,472.5 470.6,479.2 470.3,484.3 470.1,491M594,388.9L589,391.1 584.2,393.4 580.6,395.2 575.6,398 571.8,400.1 567.2,402.9 563.7,405.2 558.9,408.6 555.5,411.1 552.1,413.8 548.3,417 545.4,419.6 542.8,422 539.5,425.4 536.4,428.7 533.7,432 530.9,435.5 528.5,438.8 526.2,442.2 524.1,445.6 522.2,448.9 520.4,452.3 518.7,455.7 517.2,459 515.9,462.4 514.6,465.8 513.5,469.1 512.1,474.2 511.3,477.5 510.2,482.6 509.7,486 509,491M594,430.9L590.2,433.8 586.2,437.2 582.6,440.5 579.1,443.9 576,447.3 573.1,450.6 570.4,454 567.2,458.4 564.5,462.4 562.5,465.8 560.5,469.5 558.2,474.2 556.7,477.5 554.8,482.6 553.7,486 552.2,491" fill="none" stroke="#000" stroke-width="0.75"/>
</g>
<rect x="392.9" y="289.1" width="201.1" height="201.9" fill="none" stroke="#000" stroke-width="1.5"/>
<text x="392.9" y="505.5" font-size="12.3" text-anchor="middle" font-weight="normal" fill="#000" >6.0</text>
<text x="443.2" y="505.5" font-size="12.3" text-anchor="middle" font-weight="normal" fill="#000" >6.5</text>
<text x="493.4" y="505.5" font-size="12.3" text-anchor="middle" font-weight="normal" fill="#000" >7.0</text>
<text x="543.7" y="505.5" font-size="12.3" text-anchor="middle" font-weight="normal" fill="#000" >7.5</text>
<text x="594" y="505.5" font-size="12.3" text-anchor="middle" font-weight="normal" fill="#000" >8.0</text>
<text x="388.9" y="495.1" font-size="12.3" text-anchor="end" font-weight="normal" fill="#000" >30</text>
<text x="388.9" y="461.4" font-size="12.3" text-anchor="end" font-weight="normal" fill="#000" >31</text>
<text x="388.9" y="427.8" font-size="12.3" text-anchor="end" font-weight="normal" fill="#000" >32</text>
<text x="388.9" y="394.1" font-size="12.3" text-anchor="end" font-weight="normal" fill="#000" >33</text>
<text x="388.9" y="360.5" font-size="12.3" text-anchor="end" font-weight="normal" fill="#000" >34</text>
<text x="388.9" y="326.8" font-size="12.3" text-anchor="end" font-weight="normal" fill="#000" >35</text>
<text x="388.9" y="293.2" font-size="12.3" text-anchor="end" font-weight="normal" fill="#000" >36</text>
<path d="M443.2,491v-3.5M493.4,491v-3.5M543.7,491v-3.5M392.9,457.4h3.5M392.9,423.7h3.5M392.9,390.1h3.5M392.9,356.4h3.5M392.9,322.8h3.5" stroke="#000" stroke-width="1.2" fill="none"/>
<text x="493.4" y="522.2" font-size="16.3" text-anchor="middle" font-weight="normal" fill="#000" >Fermentation time (d)</text>
<text transform="translate(367.6,396.4) rotate(-90)" font-size="16.3" text-anchor="middle">Fermentation temperature (°C)</text>
<rect x="625.1" y="483.7" width="15.9" height="4.5" fill="#000bff"/>
<rect x="625.1" y="479.7" width="15.9" height="4.5" fill="#0020ff"/>
<rect x="625.1" y="475.6" width="15.9" height="4.5" fill="#0035ff"/>
<rect x="625.1" y="471.6" width="15.9" height="4.5" fill="#004aff"/>
<rect x="625.1" y="467.5" width="15.9" height="4.5" fill="#0060ff"/>
<rect x="625.1" y="463.4" width="15.9" height="4.5" fill="#0075ff"/>
<rect x="625.1" y="459.4" width="15.9" height="4.5" fill="#008aff"/>
<rect x="625.1" y="455.3" width="15.9" height="4.5" fill="#009fff"/>
<rect x="625.1" y="451.2" width="15.9" height="4.5" fill="#00b5ff"/>
<rect x="625.1" y="447.2" width="15.9" height="4.5" fill="#00caff"/>
<rect x="625.1" y="443.1" width="15.9" height="4.5" fill="#00dfff"/>
<rect x="625.1" y="439.1" width="15.9" height="4.5" fill="#00f4ff"/>
<rect x="625.1" y="435" width="15.9" height="4.5" fill="#00fff4"/>
<rect x="625.1" y="430.9" width="15.9" height="4.5" fill="#00ffdf"/>
<rect x="625.1" y="426.9" width="15.9" height="4.5" fill="#00ffca"/>
<rect x="625.1" y="422.8" width="15.9" height="4.5" fill="#00ffb5"/>
<rect x="625.1" y="418.7" width="15.9" height="4.5" fill="#00ff9f"/>
<rect x="625.1" y="414.7" width="15.9" height="4.5" fill="#00ff8a"/>
<rect x="625.1" y="410.6" width="15.9" height="4.5" fill="#00ff75"/>
<rect x="625.1" y="406.6" width="15.9" height="4.5" fill="#00ff60"/>
<rect x="625.1" y="402.5" width="15.9" height="4.5" fill="#00ff4a"/>
<rect x="625.1" y="398.4" width="15.9" height="4.5" fill="#00ff35"/>
<rect x="625.1" y="394.4" width="15.9" height="4.5" fill="#00ff20"/>
<rect x="625.1" y="390.3" width="15.9" height="4.5" fill="#00ff0b"/>
<rect x="625.1" y="386.2" width="15.9" height="4.5" fill="#0bff00"/>
<rect x="625.1" y="382.2" width="15.9" height="4.5" fill="#20ff00"/>
<rect x="625.1" y="378.1" width="15.9" height="4.5" fill="#35ff00"/>
<rect x="625.1" y="374.1" width="15.9" height="4.5" fill="#4aff00"/>
<rect x="625.1" y="370" width="15.9" height="4.5" fill="#60ff00"/>
<rect x="625.1" y="365.9" width="15.9" height="4.5" fill="#75ff00"/>
<rect x="625.1" y="361.9" width="15.9" height="4.5" fill="#8aff00"/>
<rect x="625.1" y="357.8" width="15.9" height="4.5" fill="#9fff00"/>
<rect x="625.1" y="353.7" width="15.9" height="4.5" fill="#b5ff00"/>
<rect x="625.1" y="349.7" width="15.9" height="4.5" fill="#caff00"/>
<rect x="625.1" y="345.6" width="15.9" height="4.5" fill="#dfff00"/>
<rect x="625.1" y="341.6" width="15.9" height="4.5" fill="#f4ff00"/>
<rect x="625.1" y="337.5" width="15.9" height="4.5" fill="#fff400"/>
<rect x="625.1" y="333.4" width="15.9" height="4.5" fill="#ffdf00"/>
<rect x="625.1" y="329.4" width="15.9" height="4.5" fill="#ffca00"/>
<rect x="625.1" y="325.3" width="15.9" height="4.5" fill="#ffb500"/>
<rect x="625.1" y="321.2" width="15.9" height="4.5" fill="#ff9f00"/>
<rect x="625.1" y="317.2" width="15.9" height="4.5" fill="#ff8a00"/>
<rect x="625.1" y="313.1" width="15.9" height="4.5" fill="#ff7500"/>
<rect x="625.1" y="309.1" width="15.9" height="4.5" fill="#ff6000"/>
<rect x="625.1" y="305" width="15.9" height="4.5" fill="#ff4a00"/>
<rect x="625.1" y="300.9" width="15.9" height="4.5" fill="#ff3500"/>
<rect x="625.1" y="296.9" width="15.9" height="4.5" fill="#ff2000"/>
<rect x="625.1" y="292.8" width="15.9" height="4.5" fill="#ff0b00"/>
<rect x="625.1" y="288.6" width="15.9" height="4.4" fill="#fff"/>
<rect x="625.1" y="488" width="15.9" height="3.6" fill="#000"/>
<rect x="625.1" y="288.6" width="15.9" height="203" fill="none" stroke="#333" stroke-width="0.8"/>
<text x="648.6" y="296.3" font-size="9.8" text-anchor="start" font-weight="normal" fill="#000" >20.33</text>
<text x="648.6" y="320.7" font-size="9.8" text-anchor="start" font-weight="normal" fill="#000" >20.14</text>
<text x="648.6" y="345.1" font-size="9.8" text-anchor="start" font-weight="normal" fill="#000" >19.96</text>
<text x="648.6" y="369.5" font-size="9.8" text-anchor="start" font-weight="normal" fill="#000" >19.78</text>
<text x="648.6" y="393.8" font-size="9.8" text-anchor="start" font-weight="normal" fill="#000" >19.59</text>
<text x="648.6" y="418.2" font-size="9.8" text-anchor="start" font-weight="normal" fill="#000" >19.41</text>
<text x="648.6" y="442.6" font-size="9.8" text-anchor="start" font-weight="normal" fill="#000" >19.23</text>
<text x="648.6" y="467" font-size="9.8" text-anchor="start" font-weight="normal" fill="#000" >19.04</text>
<text x="648.6" y="491.3" font-size="9.8" text-anchor="start" font-weight="normal" fill="#000" >18.86</text>
<path d="M641,293h3.5M641,317.4h3.5M641,341.8h3.5M641,366.1h3.5M641,390.5h3.5M641,414.9h3.5M641,439.2h3.5M641,463.6h3.5M641,488h3.5" stroke="#000" stroke-width="0.9" fill="none"/>
<text x="594.5" y="281" font-size="11.8" text-anchor="start" font-weight="bold" fill="#000" >True protein (%)</text>
<text x="344" y="284.3" font-size="22" text-anchor="start" font-weight="bold" fill="#000" >D</text>
<g>
<rect x="385.8" y="544.3" width="214" height="204.4" fill="#000bff"/>
<path d="M385.8,748.7L599.1,748.7 599.8,748.4 599.8,544.3 385.8,544.3 385.8,747Z" fill="#0020ff"/>
<path d="M385.8,748.7L593.8,748.7 599.8,746.1 599.8,544.3 385.8,544.3 385.8,747Z" fill="#0035ff"/>
<path d="M385.8,748.7L588.3,748.7 599.8,743.7 599.8,544.3 385.8,544.3 385.8,747Z" fill="#004aff"/>
<path d="M385.8,748.7L582.8,748.7 599.8,741.3 599.8,544.3 385.8,544.3 385.8,747Z" fill="#0060ff"/>
<path d="M385.8,748.7L577.1,748.7 589.1,743.6 599.8,738.8 599.8,544.3 385.8,544.3 385.8,747Z" fill="#0075ff"/>
<path d="M385.8,748.7L571.2,748.7 585.5,742.8 599.8,736.3 599.8,544.3 385.8,544.3 385.8,747Z" fill="#008aff"/>
<path d="M385.8,748.7L565.2,748.7 582,741.9 590.9,737.9 599.8,733.7 599.8,544.3 385.8,544.3 385.8,747Z" fill="#009fff"/>
<path d="M385.8,748.7L559.1,748.7 569.5,744.6 580.1,740.2 590.9,735.3 599.8,731.1 599.8,544.3 385.8,544.3 385.8,747Z" fill="#00b5ff"/>
<path d="M385.8,748.7L552.7,748.7 566,743.6 578.2,738.5 589.6,733.4 599.8,728.4 599.8,544.3 385.8,544.3 385.8,747Z" fill="#00caff"/>
<path d="M385.8,748.7L546.1,748.7 559.8,743.6 573,738.2 587.3,731.8 599.8,725.6 599.8,544.3 385.8,544.3 385.8,747Z" fill="#00dfff"/>
<path d="M385.8,748.7L539.4,748.7 555.2,742.9 570.3,736.8 585.5,730 599.8,722.8 599.8,544.3 385.8,544.3 385.8,747Z" fill="#00f4ff"/>
<path d="M385.8,748.7L532.3,748.7 542.2,745.3 551.4,741.9 568.2,735.1 583.8,728.1 590.9,724.6 599.8,719.9 599.8,544.3 385.8,544.3 385.8,747Z" fill="#00fff4"/>
<path d="M385.8,748.7L525.1,748.7 535.2,745.3 544.7,741.9 553.6,738.5 564.1,734.2 573.8,730 582,726.1 591.4,721.4 599.8,717 599.8,544.3 385.8,544.3 385.8,747Z" fill="#00ffdf"/>
<path d="M385.8,748.7L517.4,748.7 528,745.3 539.2,741.4 549.9,737.4 560.6,733 571.5,728.3 582,723.3 590.9,718.8 599.8,713.9 599.8,544.3 385.8,544.3 385.8,747Z" fill="#00ffca"/>
<path d="M385.8,748.7L509.5,748.7 523.1,744.4 535.5,740.2 546.3,736.1 557.4,731.7 569.1,726.6 579.9,721.4 589.8,716.3 599.8,710.8 599.8,544.3 385.8,544.3 385.8,747Z" fill="#00ffb5"/>
<path d="M385.8,748.7L501.1,748.7 514.2,744.8 528.5,740.1 542.2,735.1 555,730 566.6,724.9 578.4,719.2 590.4,712.9 599.8,707.5 599.8,544.3 385.8,544.3 385.8,747Z" fill="#00ff9f"/>
<path d="M385.8,748.7L492.3,748.7 507.1,744.5 521.3,739.9 535.6,734.9 549.9,729.3 562.4,723.9 574.8,718 587.7,711.2 599.8,704.2 599.8,544.3 385.8,544.3 385.8,747Z" fill="#00ff8a"/>
<path d="M385.8,748.7L482.9,748.7 499.9,744.1 516,739.1 532,733.5 546.3,728 561.4,721.4 575.4,714.6 588,707.8 599.8,700.7 599.8,544.3 385.8,544.3 385.8,747Z" fill="#00ff75"/>
<path d="M385.8,748.7L472.8,748.7 475,748.2 492.7,743.6 509.8,738.5 526.7,732.8 542.8,726.6 558.6,719.7 572.5,712.9 580.2,708.9 587.3,704.8 593.6,701 599.8,697 599.8,544.3 385.8,544.3 385.8,747Z" fill="#00ff60"/>
<path d="M385.8,748.7L461.8,748.7 471.4,746.5 482.1,743.9 499.9,738.9 517.2,733.4 532,728 548,721.4 562.8,714.6 576,707.8 587.8,701 599.8,693.2 599.8,544.3 385.8,544.3 385.8,747Z" fill="#00ff4a"/>
<path d="M385.8,748.7L449.7,748.7 467.8,744.8 478.5,742.2 487.5,739.8 503.6,735.1 519,730 533.8,724.4 548.9,718 563.2,711.2 576,704.4 587.4,697.6 592.7,694.2 599.8,689.3 599.8,544.3 385.8,544.3 385.8,747Z" fill="#00ff35"/>
<path d="M385.8,748.7L436,748.7 451.8,745.7 466,742.6 480.3,739.1 494.7,735.1 510.6,730 525.1,724.9 539.2,719.2 553.1,712.9 566.6,706.1 578.6,699.3 589.4,692.5 599.8,685.1 599.8,544.3 385.8,544.3 385.8,747Z" fill="#00ff20"/>
<path d="M385.8,748.7L419.8,748.7 428.6,747.4 448.2,743.9 466,740 485.2,735.1 501.7,730.1 517.1,724.9 530.4,719.7 542.7,714.5 556.7,707.8 569.4,701 580.2,694.6 590.9,687.4 599.8,680.6 599.8,544.3 385.8,544.3 385.8,747Z" fill="#00ff0b"/>
<path d="M385.8,748.7L398.9,748.7 405.4,748 425,745.3 444.6,741.9 461,738.5 476.7,734.6 492.8,730 507.1,725.4 521.3,720.2 535.1,714.6 548.1,708.7 559.8,702.7 571.8,695.9 582,689.4 591.9,682.3 599.8,675.9 599.8,547.3 595.4,544.3 385.8,544.3 385.8,747Z" fill="#0bff00"/>
<path d="M385.8,747L385.8,747.3 396.5,746.3 416.1,744 432.2,741.5 448.4,738.5 464.3,734.9 480.3,730.8 494.6,726.6 509.8,721.4 523.3,716.3 535.6,711.1 549.7,704.4 560.6,698.6 570.9,692.5 581.2,685.7 590.3,678.9 594.5,675.5 599.8,670.7 599.8,552.4 593.3,547.7 588.1,544.3 385.8,544.3 385.8,745.3Z" fill="#20ff00"/>
<path d="M385.8,743.6L385.8,744.6 403.6,742.9 423.2,740.2 441.1,737.2 457.1,733.8 472.7,730 487.5,725.8 501,721.4 515.1,716.3 527.7,711.2 539.2,706.1 551.6,699.8 561.5,694.2 572.4,687.4 582,680.6 590.9,673.4 596.2,668.6 599.8,665.1 599.8,558 595.5,554.5 591,551.1 586,547.7 580.5,544.3 385.8,544.3 385.8,741.9Z" fill="#35ff00"/>
<path d="M385.8,740.2L385.8,741.9 403.2,740.2 414.3,738.8 425,737.2 435.7,735.3 445.9,733.4 462.5,729.6 480.3,724.9 496.4,719.9 511.1,714.6 524.9,709 538.7,702.7 551.7,695.9 563.2,689.1 573.3,682.3 578.4,678.5 583.7,674.3 592,666.9 595.4,663.5 599.8,658.8 599.8,564.3 594.5,559.4 587.3,553.8 581,549.4 572.5,544.3 385.8,544.3 385.8,738.5Z" fill="#4aff00"/>
<path d="M385.8,738.5L385.8,739.1 391.1,738.6 403.6,737.3 414.3,735.9 432.2,733.1 441.1,731.4 451.8,729.2 469.5,724.9 485.7,720.2 501.7,714.8 515.5,709.5 523.5,706.1 530.2,703.1 542.7,696.8 549.9,692.9 555.2,689.8 565.9,682.9 571.5,678.9 576,675.5 580.2,672 585.5,667.2 592.7,660.1 596.2,656 599.8,651.5 599.8,571.6 596.7,568.1 592.7,564.1 587.6,559.6 583.7,556.6 578.4,552.8 574.8,550.5 570.2,547.7 564.1,544.3 385.8,544.3 385.8,736.8Z" fill="#60ff00"/>
<path d="M385.8,735.1L385.8,736.2 398.3,735 412,733.4 423.2,731.7 432.2,730.2 442.1,728.3 451.8,726.2 460.7,724 470.6,721.4 487.5,716.4 503.5,710.8 511.1,707.8 519.2,704.4 526.7,701 533.7,697.6 546.4,690.8 557.5,684 564.1,679.4 569.4,675.5 573.7,672 578.4,668 583.1,663.5 586.4,660.1 590.9,655.1 593.7,651.6 597.4,646.5 599.8,642.6 599.8,580.5 596.2,575.5 592.7,571.3 588,566.4 582.2,561.3 576.6,557 570.4,552.8 562.4,548 555.2,544.3 385.8,544.3 385.8,733.4Z" fill="#75ff00"/>
<path d="M385.8,731.7L385.8,733.2 398.3,732.1 410.8,730.6 423.2,728.7 434,726.8 444.6,724.7 455.3,722.2 465.1,719.7 475,717 483.9,714.2 492.8,711.2 502.1,707.8 510.6,704.4 518.5,701 524.9,698 532.6,694.2 538.9,690.8 544.8,687.4 551.6,683.1 558,678.9 562.7,675.5 567.7,671.5 573,666.9 578.4,661.8 582,658.1 586.1,653.3 590,648.2 592.7,644.2 595.3,639.7 597.9,634.6 599.8,629.7 599.8,593.4 598.5,590.3 596.9,586.9 593.9,581.8 590.2,576.7 585.8,571.6 580.7,566.4 574.6,561.3 567.7,556.4 562.1,552.8 553.4,548 545.8,544.3 385.8,544.3 385.8,730Z" fill="#8aff00"/>
<path d="M385.8,730L385.8,730.2 389.4,729.9 403.6,728.4 414.3,727 425,725.3 435.7,723.3 444.9,721.4 455.3,719 465.6,716.3 475,713.6 483.9,710.8 492.5,707.8 501.7,704.3 509.8,701 517.8,697.4 526.7,693.1 534.2,689.1 541,685.2 548.3,680.6 553.4,677.1 560.1,672 565.9,667.3 570,663.5 575.2,658.4 579.7,653.3 583.6,648.2 587.1,643.1 590,638 592.3,632.9 594.2,627.8 595.6,622.7 596.4,617.5 596.7,612.4 596.5,607.3 595.8,602.2 594.5,597.1 593.3,593.7 591,588.6 588.1,583.5 585.5,579.8 581.7,575 576.8,569.8 573,566.4 567.7,562.2 561.6,557.9 556.2,554.5 549.9,551 543.3,547.7 535.6,544.3 385.8,544.3 385.8,728.3Z" fill="#9fff00"/>
<path d="M385.8,726.6L385.8,727.1 398.3,725.9 409,724.6 421.5,722.7 432.2,720.8 442.9,718.6 452.7,716.3 462.5,713.8 471.4,711.2 482.1,707.8 491,704.7 498.1,702 505.3,699 514.2,695.1 522.9,690.8 529.3,687.4 535.6,683.8 543.4,678.9 549.9,674.4 555.2,670.3 560.6,665.9 565,661.8 570,656.7 574.4,651.6 578.3,646.5 580.6,643.1 583.5,638 585.9,632.9 587.8,627.8 589.1,622.7 589.9,617.5 590.2,612.4 590,607.3 589.2,602.2 587.8,597.1 585.8,592 583.1,586.9 580.2,582.4 577.1,578.4 573,573.8 569,569.8 564.1,565.8 558.1,561.3 552.9,557.9 547,554.5 540.4,551.1 533,547.7 524.5,544.3 385.8,544.3 385.8,724.9Z" fill="#b5ff00"/>
<path d="M385.8,723.2L385.8,723.8 394.7,723 407.2,721.6 419.7,719.7 429.2,718 439.3,716 450,713.6 459.1,711.2 467.8,708.7 476.7,705.9 486.1,702.7 494.6,699.5 503.3,695.9 510.8,692.5 517.7,689.1 524.9,685.3 532,681.1 538.3,677.2 544.5,672.8 550,668.6 555.2,664.3 559.7,660.1 564.6,655 569,649.9 571.5,646.5 574.9,641.4 577.7,636.3 579.9,631.2 581.6,626.1 582.8,621 583.4,615.8 583.5,612.4 583.2,607.3 582.3,602.2 580.8,597.1 578.6,592 575.8,586.9 572.3,581.8 568,576.7 564.6,573.3 558.8,568.2 554.2,564.7 549.2,561.3 543.5,557.9 537.2,554.5 530,551.1 521.8,547.7 514.2,544.9 512.3,544.3 385.8,544.3 385.8,721.4Z" fill="#caff00"/>
<path d="M385.8,719.7L385.8,720.5 392.9,719.8 405.4,718.4 417.9,716.6 428.6,714.7 437.5,712.9 446.4,710.9 457.1,708.1 466,705.6 475,702.7 489.2,697.6 497.5,694.2 505.2,690.8 512.2,687.4 519.5,683.5 526.7,679.4 532.9,675.5 539.2,671.1 544.5,667 549.9,662.4 554.2,658.4 558.8,653.6 561.9,649.9 564.5,646.5 567.9,641.4 569.9,638 572.4,632.9 573.7,629.5 575.2,624.4 576.2,619.2 576.6,614.1 576.4,609 575.6,603.9 574.7,600.5 572.8,595.4 570.3,590.3 567.7,586.1 564.5,581.8 560.6,577.4 556.2,573.3 552.2,569.8 547.6,566.4 541,562.1 533.8,558.1 528.5,555.4 521.3,552.2 514.2,549.4 507.1,546.9 498.4,544.3 385.8,544.3 385.8,718Z" fill="#dfff00"/>
<path d="M385.8,716.3L385.8,717 393.3,716.3 405.4,714.9 417.9,713.1 428.2,711.2 436.4,709.5 446.4,707.2 455.4,704.9 462.8,702.7 471.4,700 478.5,697.5 487.3,694.2 495.4,690.8 502.9,687.4 509.7,684 516,680.6 521.8,677.2 527.2,673.8 532.1,670.3 538.8,665.2 542.9,661.8 548.3,656.7 551.6,653.3 555.9,648.2 558.8,644.4 561.8,639.7 564.1,635.3 565.9,631.2 567.6,626.1 568.5,622.7 569.2,617.5 569.3,614.1 569.1,609 568.6,605.6 567.7,602 566,597.1 564.1,593.2 561.5,588.6 558.8,584.8 554.7,580.1 549.9,575.3 545.3,571.6 540.7,568.1 535.6,564.9 529.5,561.3 523.1,558.1 517.8,555.7 510.6,552.8 503.5,550.3 496.4,548.1 489.2,546.1 481.9,544.3 385.8,544.3 385.8,714.6Z" fill="#f4ff00"/>
<path d="M385.8,712.9L385.8,713.4 396.5,712.4 407.2,711 417.1,709.5 426.6,707.8 434.8,706.1 442.9,704.2 451.8,701.9 466.2,697.6 475,694.6 482.1,691.9 488.9,689.1 496.6,685.7 503.5,682.3 509.9,678.9 515.7,675.5 521.1,672 526.1,668.6 532,664.1 536.8,660.1 540.5,656.7 544.5,652.6 548.3,648.2 551.6,643.8 554.3,639.7 557,634.6 558.5,631.2 560.2,626.1 561,622.7 561.7,617.5 561.8,614.1 561.5,609 560.9,605.6 559.4,600.5 558.1,597.1 556.4,593.7 553.4,588.9 550.6,585.2 547.6,581.8 544.2,578.4 540.2,575 535.8,571.6 530.7,568.1 524.9,564.7 519.5,561.9 514.2,559.4 507.1,556.4 496.9,552.8 485.2,549.4 473.2,546.6 460.4,544.3 385.8,544.3 385.8,711.2Z" fill="#fff400"/>
<path d="M385.8,709.5L385.8,709.6 391.1,709.2 401.8,708 410.8,706.7 419.7,705.2 435.7,702 444.6,699.8 451.8,697.8 458.9,695.7 467.8,692.8 475,690.2 482,687.4 489.2,684.2 494.6,681.7 500.2,678.9 506.4,675.5 512,672 517.2,668.6 522,665.2 526.4,661.8 530.4,658.4 534,655 537.4,651.6 541.7,646.5 544.2,643.1 546.5,639.7 548.4,636.3 550.8,631.2 552,627.8 553.3,622.7 553.9,617.5 554,614.1 553.6,609 552.9,605.6 551.9,602.2 550.6,598.8 548.9,595.4 546.9,592 544.5,588.6 541,584.4 537.4,580.8 533.8,577.7 530.2,574.9 525.5,571.6 519.9,568.1 516,566 510.6,563.4 505.3,561 498.1,558.2 492.8,556.4 486.8,554.5 480.3,552.7 473.2,551 465.5,549.4 457.1,548 450,546.9 442,546 434,545.3 417.9,544.5 401.8,544.4 385.8,545.1 385.8,707.8Z" fill="#ffdf00"/>
<path d="M385.8,704.4L385.8,705.7 398.3,704.4 409,703 417.9,701.5 426.8,699.8 435.7,697.8 443.3,695.9 450,694 458.9,691.3 466,688.8 473.2,686.1 478.5,684 486.2,680.6 492.8,677.3 498.1,674.4 507.8,668.6 512.9,665.2 517.8,661.6 521.6,658.4 526.7,653.8 530.4,649.9 533.4,646.5 536,643.1 539.2,638.2 541.1,634.6 542.6,631.2 544.4,626.1 545.1,622.7 545.6,619.2 545.8,615.8 545.5,610.7 544.9,607.3 544,603.9 542.7,600.5 541,597.1 539,593.7 536.6,590.3 533.8,586.9 530.4,583.5 526.7,580.1 523.1,577.4 519.7,575 514.3,571.6 510.6,569.5 505.3,566.8 499.9,564.4 492.8,561.6 487.4,559.8 481.5,557.9 475.2,556.2 462.5,553.4 455.4,552.1 448.2,551 433.7,549.4 425,548.8 417.9,548.5 401.8,548.4 385.8,549.1 385.8,702.7Z" fill="#ffca00"/>
<path d="M385.8,701L385.8,701.5 392.9,700.9 403.6,699.6 412.6,698.2 421.5,696.6 428.6,695.1 442.9,691.5 456.4,687.4 462.5,685.3 470.3,682.3 481.9,677.2 487.5,674.4 492.8,671.5 497.7,668.6 503.1,665.2 507.9,661.8 512.3,658.4 516.3,655 519.9,651.6 523.1,648.2 525.9,644.8 528.5,641.4 530.7,638 532.5,634.6 534.1,631.2 535.6,626.8 536.6,622.7 537,619.2 537.2,615.8 537,612.4 536.4,609 535.6,605.6 534.3,602.2 532.7,598.8 530.7,595.4 528.2,592 525.3,588.6 521.9,585.2 518,581.8 514.2,579 510.8,576.7 507.1,574.4 501.8,571.6 492.8,567.4 485.9,564.7 480.8,563 469.6,559.8 457.1,557.1 450,555.8 442.9,554.8 428.6,553.4 414.3,552.7 400.1,552.6 385.8,553.2 385.8,699.3Z" fill="#ffb500"/>
<path d="M385.8,695.9L385.8,697.1 396.5,696 405.4,694.8 412.6,693.7 421.5,692 428.6,690.4 437.5,688.2 444.6,686.2 451.6,684 462.5,680.1 473.4,675.5 480.3,672.1 485.7,669.3 489.7,666.9 495.1,663.5 500,660.1 503.5,657.5 506.5,655 510.3,651.6 513.6,648.2 516.6,644.8 519.3,641.4 521.5,638 523.4,634.6 525,631.2 526.3,627.8 527.2,624.4 527.8,621 528,617.5 527.9,614.1 527.4,610.7 526.6,607.3 525.4,603.9 523.8,600.5 521.8,597.1 517.9,592 514.6,588.6 512.4,586.6 508.6,583.5 505.3,581.1 498.1,576.7 492.8,573.9 487.5,571.5 482.1,569.3 476.7,567.4 466,564.3 460.7,562.9 453.6,561.4 441.1,559.4 427.8,557.9 414.3,557.2 400.1,557.1 385.8,557.6 385.8,694.2Z" fill="#ff9f00"/>
<path d="M385.8,690.8L385.8,692.4 400.1,690.9 409,689.5 416.1,688.2 425,686.3 432.2,684.6 444.6,680.9 455.5,677.2 460.7,675.1 467.7,672 477.9,666.9 483.8,663.5 487.5,661.2 491.5,658.4 495.9,655 501.8,649.9 505.1,646.5 508.1,643.1 510.6,639.7 512.8,636.3 514.6,632.9 516,629.6 517.5,624.4 518.1,621 518.2,617.5 518,614.1 517.5,610.7 515.9,605.6 514.2,602.2 512.4,599.2 510.6,596.7 508.2,593.7 505.3,590.8 502.8,588.6 499.9,586.3 496,583.5 491,580.5 487.5,578.5 479.7,575 475,573.1 469.6,571.2 459,568.1 448.2,565.8 437.5,564 425,562.6 412.5,561.9 400.1,561.8 385.8,562.3 385.8,689.1Z" fill="#ff8a00"/>
<path d="M385.8,685.7L385.8,687.3 396.5,686.2 403.6,685.2 411,684 419.4,682.3 426.8,680.5 438.6,677.2 450,673.2 461,668.6 466,666.2 471.1,663.5 479.5,658.4 486.6,653.3 492.8,647.9 495.8,644.8 498.7,641.4 502.3,636.3 504.1,632.9 505.6,629.5 507.1,624.4 507.6,621 507.7,617.5 507.4,614.1 506.7,610.7 505.5,607.3 504.7,605.6 503.5,603.3 501.7,600.5 499.9,598.1 497.5,595.4 492.8,591.1 487.1,586.9 480.3,582.9 475,580.3 471.4,578.8 462.5,575.5 453.6,572.9 442.9,570.5 432.2,568.8 421.5,567.7 409,567 398.3,566.9 385.8,567.4 385.8,684Z" fill="#ff7500"/>
<path d="M385.8,680.6L385.8,681.8 397,680.6 403.6,679.6 410.8,678.3 423.4,675.5 435.1,672 444.8,668.6 453.6,664.9 463.1,660.1 469.6,656.2 476.2,651.6 482.2,646.5 487,641.4 490.7,636.3 493.5,631.2 494.8,627.8 495.7,624.4 496.1,621 496.2,619.2 495.9,615.8 495.7,614.1 494.7,610.7 494.1,609 492.8,606.3 491.4,603.9 489.2,601 487.4,598.8 485.7,597.1 482.1,594 476.9,590.3 471.1,586.9 463.8,583.5 455.3,580.4 448.2,578.3 439.3,576.2 428.6,574.4 417.9,573.2 407.2,572.6 396.5,572.5 385.8,573 385.8,678.9Z" fill="#ff6000"/>
<path d="M385.8,675.5L385.8,675.6 392.9,674.9 403.6,673.3 414.3,671.1 423.2,668.8 430.4,666.6 438.9,663.5 446.8,660.1 453.6,656.7 460.7,652.4 466.5,648.2 471.4,643.9 475.3,639.7 478.5,635.3 480.8,631.2 482.1,627.8 482.6,626.1 483.2,622.7 483.3,621 483.2,617.5 482.9,615.8 482,612.4 480.5,609 479.5,607.3 476.7,603.5 474,600.5 472.1,598.8 467.6,595.4 462,592 455.3,588.8 448.2,586.1 439.3,583.5 431.6,581.8 423.2,580.4 414.3,579.4 405.4,578.9 396.5,578.8 385.8,579.1 385.8,673.8Z" fill="#ff4a00"/>
<path d="M385.8,666.9L385.8,668.5 391.1,668 398.3,667 403.6,666 414.3,663.6 421.5,661.5 430.3,658.4 438.1,655 444.6,651.6 450.1,648.2 454.7,644.8 458.9,641 461.7,638 463,636.3 464.3,634.5 466,631.4 467.5,627.8 468.4,624.4 468.6,621 468.2,617.5 467.8,615.8 466.5,612.4 464.5,609 461.7,605.6 458,602.2 453.6,599.1 450,597 444.6,594.5 438.1,592 432.3,590.3 425,588.6 417.9,587.4 410.8,586.6 401.8,586 394.7,585.9 385.8,586.2 385.8,665.2Z" fill="#ff3500"/>
<path d="M385.8,658.4L385.8,659.9 396.5,658.5 405.4,656.7 411.5,655 417.9,652.9 425,650 430.4,647.3 434.7,644.8 439.3,641.5 441.5,639.7 444.8,636.3 447.4,632.9 449.2,629.5 450.3,626.1 450.7,622.7 450.4,619.2 449.9,617.5 449.2,615.8 448.2,614 445.8,610.7 442.9,608 439.7,605.6 437,603.9 432.2,601.6 428.6,600.1 423.2,598.4 417.9,597.1 410.8,595.8 405.4,595.2 398.3,594.7 392.9,594.6 385.8,594.9 385.8,656.7Z" fill="#ff2000"/>
<path d="M385.8,646.5L385.8,648 391.1,647.2 396.5,646.2 401.7,644.8 406.6,643.1 410.5,641.4 413.8,639.7 416.6,638 418.9,636.3 420.8,634.6 422.4,632.9 423.7,631.2 425,628.6 425.8,626.1 425.9,624.4 425.8,622.7 425.3,621 424.5,619.2 423.4,617.5 421.8,615.8 419.7,614.1 416.9,612.4 414.3,611.2 412.5,610.4 408.3,609 401.8,607.7 394.7,606.9 391.1,606.7 385.8,606.8 385.8,644.8Z" fill="#ff0b00"/>
<path d="M571.2,748.7L579.6,745.3 585.5,742.8 592.7,739.6 599.8,736.3M532.3,748.7L542.2,745.3 551.4,741.9 560.1,738.5 568.2,735.1 576,731.7 583.8,728.1 590.9,724.6 599.8,719.9M482.9,748.7L491,746.6 499.9,744.1 507.2,741.9 516,739.1 523.1,736.7 532,733.5 539.2,730.8 546.3,728 553.7,724.9 561.4,721.4 568.6,718 575.4,714.6 581.8,711.2 588,707.8 593.8,704.4 599.8,700.7M398.9,748.7L413.4,747 421.5,745.9 428.6,744.8 435.7,743.6 444.6,741.9 451.8,740.5 458.9,738.9 466,737.3 473.2,735.5 480.3,733.6 487.3,731.7 499.9,727.8 507.1,725.4 513.6,723.2 519.5,720.9 526.9,718 533.8,715.2 539,712.9 544.5,710.4 549.9,707.8 556.6,704.4 562.4,701.3 566,699.3 571.8,695.9 577.2,692.5 582.4,689.1 587.3,685.7 591.9,682.3 596.2,678.9 599.8,675.9M599.8,547.3L595.4,544.3M385.8,733.2L396.5,732.3 405.4,731.2 415,730 425,728.4 435.3,726.6 443.8,724.9 451.8,723.1 460.7,720.9 469.6,718.5 477.1,716.3 485.7,713.6 494.6,710.6 502.1,707.8 510.6,704.4 518.5,701 525.8,697.6 532.6,694.2 539.2,690.6 546.3,686.5 553,682.3 558.8,678.3 564.9,673.8 569.5,670 574.8,665.3 578.4,661.8 583.2,656.7 587.3,651.8 590,648.2 592.7,644.2 595.3,639.7 596.2,638 597.9,634.6 599.8,629.7M599.8,593.4L598.5,590.3 596.9,586.9 595,583.5 592.7,580 590.2,576.7 587.4,573.3 584.2,569.8 580.7,566.4 576.7,563 573,560.2 569.5,557.6 564.8,554.5 560.6,551.9 556.1,549.4 551.6,547.1 545.8,544.3M385.8,713.4L392.9,712.8 401.8,711.8 409,710.8 416.1,709.7 423.2,708.4 430.4,707 437.5,705.5 444.6,703.8 451.8,701.9 458.9,699.9 466,697.7 471.4,695.9 478.5,693.3 484.9,690.8 491,688.2 496.6,685.7 501.7,683.2 507.1,680.4 512.9,677.2 518.5,673.8 523.6,670.3 528.4,666.9 532.8,663.5 535.6,661.2 540.5,656.7 543.9,653.3 546.9,649.9 549.7,646.5 552.1,643.1 554.3,639.7 556.2,636.3 557.8,632.9 559.1,629.5 559.7,627.8 560.6,624.7 561.3,621 561.7,617.5 561.8,614.1 561.7,610.7 561.2,607.3 560.5,603.9 559.4,600.5 558.1,597.1 556.4,593.7 554.4,590.3 552,586.9 549.9,584.3 547.6,581.8 544.2,578.4 541,575.6 538.1,573.3 533.8,570.2 530.2,567.9 524.9,564.7 521.3,562.8 516,560.2 510.6,557.9 505.3,555.8 499.9,553.8 492.8,551.6 487.5,550 480.3,548.2 475,547 467.8,545.6 460.4,544.3M385.8,687.3L391.1,686.8 398.3,686 403.6,685.2 410.8,684 416.1,683 421.5,681.8 426.8,680.5 432.9,678.9 438.6,677.2 443.8,675.5 448.6,673.8 453.6,671.8 458.9,669.6 464.3,667.1 467.9,665.2 473.2,662.3 476.9,660.1 482,656.7 485.7,654 488.7,651.6 491,649.6 494.2,646.5 496.4,644.2 498.7,641.4 500,639.7 502.3,636.3 504.1,632.9 505.6,629.5 506.7,626.1 507.1,624.4 507.6,621 507.7,617.5 507.6,615.8 507.4,614.1 507.1,612.4 506.7,610.7 506.1,609 505.5,607.3 504.7,605.6 503.5,603.3 501.7,600.5 499.9,598.1 497.5,595.4 495.8,593.7 492.8,591.1 489.6,588.6 487.1,586.9 484.4,585.2 480.3,582.9 475,580.3 471.4,578.8 466,576.7 462.5,575.5 458.9,574.4 453.6,572.9 448.2,571.6 442.9,570.5 437.5,569.6 432.2,568.8 426.8,568.2 421.5,567.7 416.1,567.3 409,567 403.6,566.9 398.3,566.9 392.9,567.1 385.8,567.4" fill="none" stroke="#000" stroke-width="0.75"/>
</g>
<rect x="385.8" y="544.3" width="214" height="204.4" fill="none" stroke="#000" stroke-width="1.5"/>
<text x="385.8" y="764" font-size="13" text-anchor="middle" font-weight="normal" fill="#000" >30</text>
<text x="421.5" y="764" font-size="13" text-anchor="middle" font-weight="normal" fill="#000" >31</text>
<text x="457.1" y="764" font-size="13" text-anchor="middle" font-weight="normal" fill="#000" >32</text>
<text x="492.8" y="764" font-size="13" text-anchor="middle" font-weight="normal" fill="#000" >33</text>
<text x="528.5" y="764" font-size="13" text-anchor="middle" font-weight="normal" fill="#000" >34</text>
<text x="564.1" y="764" font-size="13" text-anchor="middle" font-weight="normal" fill="#000" >35</text>
<text x="599.8" y="764" font-size="13" text-anchor="middle" font-weight="normal" fill="#000" >36</text>
<text x="380.5" y="753" font-size="13" text-anchor="end" font-weight="normal" fill="#000" >40</text>
<text x="380.5" y="712.1" font-size="13" text-anchor="end" font-weight="normal" fill="#000" >44</text>
<text x="380.5" y="671.2" font-size="13" text-anchor="end" font-weight="normal" fill="#000" >48</text>
<text x="380.5" y="630.3" font-size="13" text-anchor="end" font-weight="normal" fill="#000" >52</text>
<text x="380.5" y="589.5" font-size="13" text-anchor="end" font-weight="normal" fill="#000" >56</text>
<text x="380.5" y="548.6" font-size="13" text-anchor="end" font-weight="normal" fill="#000" >60</text>
<path d="M421.5,748.7v-3.5M457.1,748.7v-3.5M492.8,748.7v-3.5M528.5,748.7v-3.5M564.1,748.7v-3.5M385.8,707.8h3.5M385.8,666.9h3.5M385.8,626.1h3.5M385.8,585.2h3.5" stroke="#000" stroke-width="1.2" fill="none"/>
<text x="493" y="784.6" font-size="17.4" text-anchor="middle" font-weight="normal" fill="#000" >Fermentation temperature (°C)</text>
<text transform="translate(358.8,649.7) rotate(-90)" font-size="17.4" text-anchor="middle">Loading (g)</text>
<rect x="627.4" y="740.9" width="17.7" height="4.5" fill="#000bff"/>
<rect x="627.4" y="736.8" width="17.7" height="4.5" fill="#0020ff"/>
<rect x="627.4" y="732.7" width="17.7" height="4.5" fill="#0035ff"/>
<rect x="627.4" y="728.6" width="17.7" height="4.5" fill="#004aff"/>
<rect x="627.4" y="724.5" width="17.7" height="4.5" fill="#0060ff"/>
<rect x="627.4" y="720.4" width="17.7" height="4.5" fill="#0075ff"/>
<rect x="627.4" y="716.3" width="17.7" height="4.5" fill="#008aff"/>
<rect x="627.4" y="712.2" width="17.7" height="4.5" fill="#009fff"/>
<rect x="627.4" y="708.1" width="17.7" height="4.5" fill="#00b5ff"/>
<rect x="627.4" y="704" width="17.7" height="4.5" fill="#00caff"/>
<rect x="627.4" y="699.9" width="17.7" height="4.5" fill="#00dfff"/>
<rect x="627.4" y="695.9" width="17.7" height="4.5" fill="#00f4ff"/>
<rect x="627.4" y="691.8" width="17.7" height="4.5" fill="#00fff4"/>
<rect x="627.4" y="687.7" width="17.7" height="4.5" fill="#00ffdf"/>
<rect x="627.4" y="683.6" width="17.7" height="4.5" fill="#00ffca"/>
<rect x="627.4" y="679.5" width="17.7" height="4.5" fill="#00ffb5"/>
<rect x="627.4" y="675.4" width="17.7" height="4.5" fill="#00ff9f"/>
<rect x="627.4" y="671.3" width="17.7" height="4.5" fill="#00ff8a"/>
<rect x="627.4" y="667.2" width="17.7" height="4.5" fill="#00ff75"/>
<rect x="627.4" y="663.1" width="17.7" height="4.5" fill="#00ff60"/>
<rect x="627.4" y="659" width="17.7" height="4.5" fill="#00ff4a"/>
<rect x="627.4" y="654.9" width="17.7" height="4.5" fill="#00ff35"/>
<rect x="627.4" y="650.8" width="17.7" height="4.5" fill="#00ff20"/>
<rect x="627.4" y="646.7" width="17.7" height="4.5" fill="#00ff0b"/>
<rect x="627.4" y="642.6" width="17.7" height="4.5" fill="#0bff00"/>
<rect x="627.4" y="638.5" width="17.7" height="4.5" fill="#20ff00"/>
<rect x="627.4" y="634.4" width="17.7" height="4.5" fill="#35ff00"/>
<rect x="627.4" y="630.3" width="17.7" height="4.5" fill="#4aff00"/>
<rect x="627.4" y="626.2" width="17.7" height="4.5" fill="#60ff00"/>
<rect x="627.4" y="622.1" width="17.7" height="4.5" fill="#75ff00"/>
<rect x="627.4" y="618" width="17.7" height="4.5" fill="#8aff00"/>
<rect x="627.4" y="613.9" width="17.7" height="4.5" fill="#9fff00"/>
<rect x="627.4" y="609.8" width="17.7" height="4.5" fill="#b5ff00"/>
<rect x="627.4" y="605.7" width="17.7" height="4.5" fill="#caff00"/>
<rect x="627.4" y="601.6" width="17.7" height="4.5" fill="#dfff00"/>
<rect x="627.4" y="597.5" width="17.7" height="4.5" fill="#f4ff00"/>
<rect x="627.4" y="593.5" width="17.7" height="4.5" fill="#fff400"/>
<rect x="627.4" y="589.4" width="17.7" height="4.5" fill="#ffdf00"/>
<rect x="627.4" y="585.3" width="17.7" height="4.5" fill="#ffca00"/>
<rect x="627.4" y="581.2" width="17.7" height="4.5" fill="#ffb500"/>
<rect x="627.4" y="577.1" width="17.7" height="4.5" fill="#ff9f00"/>
<rect x="627.4" y="573" width="17.7" height="4.5" fill="#ff8a00"/>
<rect x="627.4" y="568.9" width="17.7" height="4.5" fill="#ff7500"/>
<rect x="627.4" y="564.8" width="17.7" height="4.5" fill="#ff6000"/>
<rect x="627.4" y="560.7" width="17.7" height="4.5" fill="#ff4a00"/>
<rect x="627.4" y="556.6" width="17.7" height="4.5" fill="#ff3500"/>
<rect x="627.4" y="552.5" width="17.7" height="4.5" fill="#ff2000"/>
<rect x="627.4" y="548.4" width="17.7" height="4.5" fill="#ff0b00"/>
<rect x="627.4" y="544.5" width="17.7" height="4.1" fill="#fff"/>
<rect x="627.4" y="745.2" width="17.7" height="4.1" fill="#000"/>
<rect x="627.4" y="544.5" width="17.7" height="204.8" fill="none" stroke="#333" stroke-width="0.8"/>
<text x="653.5" y="552" font-size="10" text-anchor="start" font-weight="bold" fill="#000" >19.91</text>
<text x="653.5" y="576.6" font-size="10" text-anchor="start" font-weight="bold" fill="#000" >19.66</text>
<text x="653.5" y="601.1" font-size="10" text-anchor="start" font-weight="bold" fill="#000" >19.42</text>
<text x="653.5" y="625.7" font-size="10" text-anchor="start" font-weight="bold" fill="#000" >19.17</text>
<text x="653.5" y="650.3" font-size="10" text-anchor="start" font-weight="bold" fill="#000" >18.92</text>
<text x="653.5" y="674.9" font-size="10" text-anchor="start" font-weight="bold" fill="#000" >18.67</text>
<text x="653.5" y="699.5" font-size="10" text-anchor="start" font-weight="bold" fill="#000" >18.43</text>
<text x="653.5" y="724" font-size="10" text-anchor="start" font-weight="bold" fill="#000" >18.18</text>
<text x="653.5" y="748.6" font-size="10" text-anchor="start" font-weight="bold" fill="#000" >17.93</text>
<path d="M645.1,548.6h3.5M645.1,573.2h3.5M645.1,597.8h3.5M645.1,622.3h3.5M645.1,646.9h3.5M645.1,671.5h3.5M645.1,696.1h3.5M645.1,720.6h3.5M645.1,745.2h3.5" stroke="#000" stroke-width="0.9" fill="none"/>
<text x="601" y="537.5" font-size="11.8" text-anchor="start" font-weight="bold" fill="#000" >True protein (%)</text>
<text x="350" y="548.7" font-size="22" text-anchor="start" font-weight="bold" fill="#000" >F</text>
<g id="pA">
<path d="M73.1,189.6L67,16.2M98.2,180.1L93.9,12M121.8,171.2L119,8M144,162.8L142.5,4.3M195.6,163.4L197,4.6M228.2,172.3L231.5,8.6M263,181.9L268.6,12.9M45.1,172.9L164.9,131.7M164.9,131.7L301.5,166M43,127L164.8,92M164.8,92L303.6,121.2M40.9,79.7L164.7,51.3M164.7,51.3L305.7,75M38.7,30.7L164.6,9.3M164.6,9.3L307.9,27.3" stroke="#e0e0e0" stroke-width="0.6" fill="none"/>
<path d="M38.3,20.7L164.6,0.8M164.6,0.8L308.4,17.6" stroke="#666" stroke-width="0.7" fill="none"/>
<path d="M164.9,155L164.6,0.8" stroke="#999" stroke-width="0.9" fill="none" />
<path d="M300.3,192.1L308.4,17.6" stroke="#888" stroke-width="0.8" fill="none" />
<path d="M46.3,199.7L188.5,251.6 300.3,192.1 164.9,155Z" fill="#f8f818"/>
<path d="M73.1,189.6L214.2,237.9M98.2,180.1L238.1,225.2M121.8,171.2L260.3,213.4M144,162.8L280.9,202.4M77.9,211.2L195.6,163.4M112,223.6L228.2,172.3M148.7,237L263,181.9" stroke="#dcdcc8" stroke-opacity="0.65" stroke-width="0.5" fill="none"/>
<path d="M53.4,197L64.8,203.8 78,211.2" stroke="#5d00c0" stroke-width="0.7" stroke-opacity="0.9" fill="none"/>
<path d="M61.6,193.9L74.1,201.7 87.4,209.4 101.9,217.2 119.9,226.5" stroke="#005fff" stroke-width="0.7" stroke-opacity="0.9" fill="none"/>
<path d="M70.7,190.5L79.8,196.6 88.7,202.2 99.5,208.5 112.6,215.8 126.3,223 140.3,230 158.5,238.8 175.7,246.9" stroke="#00fdc5" stroke-width="0.7" stroke-opacity="0.9" fill="none"/>
<path d="M81.4,186.4L85.1,189.4 89.6,192.9 98.7,199.1 109.1,205.6 122.7,213.4 137,221.1 154,229.7 172.4,238.6 193.9,248.7M175.8,158L160.5,156.6" stroke="#16f600" stroke-width="0.7" stroke-opacity="0.9" fill="none"/>
<path d="M95.3,181.2L97.5,184.2 100.1,187 102.6,189.4 106.7,192.8 111.4,196.4 115.8,199.5 122.8,204.1 129,207.9 143.1,216.1 160.3,225.2 179.8,234.9 201,244.9M199.7,164.5L185.6,163.2 172.7,162.2 160.8,161.5 148.9,161" stroke="#f0fe00" stroke-width="0.7" stroke-opacity="0.9" fill="none"/>
<path d="M226.3,171.8L202.1,169.5 192.9,168.8 181.4,168.2 173.8,167.9 163.8,167.7 157.6,167.7 149.2,168 141.8,168.6 137.3,169.2 131.5,170.3 128.2,171.2 125.4,172.3 124.1,172.9 122,174.2 121.1,174.9 120.1,176 119.2,177.4 118.9,178.3 118.7,179.3 118.6,180.9 118.9,182.5 119.3,183.7 120.7,186.2 122.7,189.1 125.7,192.3 129.6,195.8 134,199.4 138.5,202.6 144.3,206.6 152.1,211.4 158.9,215.4 167.6,220.2 176.3,224.9 186.3,230 208.6,240.9" stroke="#ff9900" stroke-width="0.7" stroke-opacity="0.9" fill="none"/>
<path d="M256.7,180.2L235.5,177.9 225.8,177.1 212.8,176.1 197.3,175.4 190.4,175.3 181,175.4 172.7,175.8 167.8,176.3 163.5,176.9 159.6,177.7 154.7,179.2 152.1,180.4 150.1,181.8 148.6,183.4 148.1,184.3 147.7,185.2 147.5,186.2 147.5,187.3 147.6,188.4 147.9,189.5 149.1,192.1 151.1,194.9 154,198.1 157.2,201 160.4,203.6 165,207 169.5,210.1 175.1,213.7 182.3,218 189.4,222 198.7,227.1 217.1,236.4" stroke="#fc2f00" stroke-width="0.7" stroke-opacity="0.9" fill="none"/>
<path d="M291.8,189.8L274,187.7 253.5,185.7 235.8,184.5 220.7,184 214,184 208,184.2 202.5,184.6 197.6,185.1 193.3,185.8 189.6,186.7 186.5,187.8 183.9,189.1 182.1,190.6 181.4,191.4 180.8,192.3 180.5,193.4 180.3,194.3 180.3,195.4 180.5,196.5 181,197.7 182.4,200.4 184,202.5 186.5,205.1 190,208.2 193,210.7 197.2,213.7 202.8,217.4 208.1,220.7 214.1,224.2 226.8,231.2" stroke="#f90500" stroke-width="0.7" stroke-opacity="0.9" fill="none"/>
<path d="M292.2,196.4L281.2,195.5 267.7,194.6 256,194.2 245.8,194.3 237.3,194.8 230.2,195.8 226.4,196.7 224.7,197.3 222,198.5 220.6,199.5 219.2,200.9 218.7,201.8 218.4,202.8 218.3,203.8 218.4,204.9 218.7,206.2 219.3,207.5 220.1,208.9 222.6,211.9 226.3,215.4 231.4,219.4 239.1,224.6" stroke="#f70500" stroke-width="0.7" stroke-opacity="0.9" fill="none"/>
<g fill="currentColor" stroke="currentColor" stroke-width="0.7" stroke-linejoin="round">
<path d="M163.5,98.9l2.3-.9 1.2 1.7-2.2 .9z" color="#1cf600"/>
<path d="M162.2,97.3l2.3-.9 1.3 1.6-2.3 .9z" color="#3cf700"/>
<path d="M165.8,98l2.2-1 1.3 1.7-2.3 1z" color="#32f700"/>
<path d="M160.9,95.7l2.3-.9 1.3 1.6-2.3 .9z" color="#5af900"/>
<path d="M164.5,96.4l2.2-1 1.3 1.6-2.2 1z" color="#52f800"/>
<path d="M168,97l2.3-.9 1.3 1.7-2.3 .9z" color="#48f800"/>
<path d="M159,93.5l2.2-.9 2 2.2-2.3 .9z" color="#7ffa00"/>
<path d="M163.2,94.8l2.2-.9 1.3 1.5-2.2 1z" color="#70f900"/>
<path d="M166.7,95.4l2.3-.9 1.3 1.6-2.3 .9z" color="#68f900"/>
<path d="M170.3,96.1l2.3-.9 1.3 1.7-2.3 .9z" color="#5ef900"/>
<path d="M161.2,92.6l2.3-1 1.9 2.3-2.2 .9z" color="#95fb00"/>
<path d="M165.4,93.9l2.3-1 1.3 1.6-2.3 .9z" color="#86fa00"/>
<path d="M157,91.4l2.3-.9 1.9 2.1-2.2 .9z" color="#a9fc00"/>
<path d="M169,94.5l2.3-1 1.3 1.7-2.3 .9z" color="#7efa00"/>
<path d="M172.6,95.2l4.6-1.9 1.3 1.7-4.6 1.9z" color="#7ffa00"/>
<path d="M167.7,92.9l2.3-.9 1.3 1.5-2.3 1z" color="#9cfb00"/>
<path d="M159.3,90.5l2.2-1 2 2.1-2.3 1z" color="#befc00"/>
<path d="M163.5,91.6l4.6-1.9 1.9 2.3-4.6 1.9z" color="#b5fc00"/>
<path d="M171.3,93.5l4.6-1.8 1.3 1.6-4.6 1.9z" color="#9efb00"/>
<path d="M155,89.5l4.5-1.9 2 1.9-4.5 1.9z" color="#dbfe00"/>
<path d="M170,92l4.6-1.9 1.3 1.6-4.6 1.8z" color="#bcfc00"/>
<path d="M161.5,89.5l4.6-1.9 2 2.1-4.6 1.9z" color="#dffe00"/>
<path d="M177.2,93.3l4.7-1.8 1.2 1.7-4.6 1.8z" color="#aafc00"/>
<path d="M153,87.6l4.5-1.9 2 1.9-4.5 1.9z" color="#fffe00"/>
<path d="M168.1,89.7l4.6-1.8 1.9 2.2-4.6 1.9z" color="#e0fe00"/>
<path d="M175.9,91.7l4.7-1.9 1.3 1.7-4.7 1.8z" color="#c9fd00"/>
<path d="M159.5,87.6l4.6-1.9 2 1.9-4.6 1.9z" color="#fffb00"/>
<path d="M151,86l4.5-1.9 2 1.6-4.5 1.9z" color="#ffed00"/>
<path d="M174.6,90.1l4.7-1.8 1.3 1.5-4.7 1.9z" color="#e7fe00"/>
<path d="M166.1,87.6l4.6-1.8 2 2.1-4.6 1.8z" color="#fffa00"/>
<path d="M181.9,91.5l4.7-1.9 1.2 1.7-4.7 1.9z" color="#d5fd00"/>
<path d="M157.5,85.7l4.6-1.8 2 1.8-4.6 1.9z" color="#ffe900"/>
<path d="M149,84.4l4.5-1.9 2 1.6-4.5 1.9z" color="#ffdd00"/>
<path d="M172.7,87.9l4.7-1.9 1.9 2.3-4.7 1.8z" color="#fff900"/>
<path d="M180.6,89.8l4.7-1.8 1.3 1.6-4.7 1.9z" color="#f4ff00"/>
<path d="M164.1,85.7l4.7-1.9 1.9 2-4.6 1.8z" color="#ffe600"/>
<path d="M155.5,84.1l4.6-1.9 2 1.7-4.6 1.8z" color="#ffd800"/>
<path d="M146.9,83l4.6-1.9 2 1.4-4.5 1.9z" color="#ffce00"/>
<path d="M179.3,88.3l4.7-1.9 1.3 1.6-4.7 1.8z" color="#fff600"/>
<path d="M170.7,85.8l4.7-1.9 2 2.1-4.7 1.9z" color="#ffe400"/>
<path d="M186.6,89.6l4.8-1.8 1.2 1.7-4.8 1.8z" color="#ffff00"/>
<path d="M162.1,83.9l4.7-1.9 2 1.8-4.7 1.9z" color="#ffd400"/>
<path d="M153.5,82.5l4.6-1.9 2 1.6-4.6 1.9z" color="#ffc800"/>
<path d="M177.4,86l4.7-1.8 1.9 2.2-4.7 1.9z" color="#ffe400"/>
<path d="M144.9,81.8l4.5-1.9 2.1 1.2-4.6 1.9z" color="#ffc000"/>
<path d="M185.3,88l4.8-1.8 1.3 1.6-4.8 1.8z" color="#fff000"/>
<path d="M168.8,83.8l4.7-1.9 1.9 2-4.7 1.9z" color="#ffd100"/>
<path d="M160.1,82.2l4.7-1.9 2 1.7-4.7 1.9z" color="#ffc300"/>
<path d="M151.5,81.1l4.6-1.8 2 1.3-4.6 1.9z" color="#ffb900"/>
<path d="M184,86.4l4.8-1.8 1.3 1.6-4.8 1.8z" color="#ffe100"/>
<path d="M175.4,83.9l4.8-1.9 1.9 2.2-4.7 1.8z" color="#ffd000"/>
<path d="M142.8,80.7l4.6-1.9 2 1.1-4.5 1.9z" color="#ffb300"/>
<path d="M191.4,87.8l4.8-1.8 1.2 1.7-4.8 1.8z" color="#ffea00"/>
<path d="M166.8,82l4.7-1.9 2 1.8-4.7 1.9z" color="#ffbf00"/>
<path d="M158.1,80.6l4.7-1.8 2 1.5-4.7 1.9z" color="#ffb300"/>
<path d="M182.1,84.2l4.8-1.9 1.9 2.3-4.8 1.8z" color="#ffcf00"/>
<path d="M149.4,79.9l4.6-1.9 2.1 1.3-4.6 1.8z" color="#ffab00"/>
<path d="M190.1,86.2l4.8-1.9 1.3 1.7-4.8 1.8z" color="#ffdb00"/>
<path d="M140.7,79.7l4.6-1.8 2.1 .9-4.6 1.9z" color="#ffa800"/>
<path d="M173.5,81.9l4.7-1.8 2 1.9-4.8 1.9z" color="#ffbc00"/>
<path d="M164.8,80.3l4.7-1.9 2 1.7-4.7 1.9z" color="#ffae00"/>
<path d="M188.8,84.6l4.9-1.8 1.2 1.5-4.8 1.9z" color="#ffcc00"/>
<path d="M156.1,79.3l4.6-1.9 2.1 1.4-4.7 1.8z" color="#ffa400"/>
<path d="M180.2,82l4.8-1.8 1.9 2.1-4.8 1.9z" color="#ffbb00"/>
<path d="M196.2,86l4.9-1.8 1.2 1.7-4.9 1.8z" color="#ffd600"/>
<path d="M147.4,78.8l4.6-1.9 2 1.1-4.6 1.9z" color="#ff9e00"/>
<path d="M171.5,80.1l4.7-1.8 2 1.8-4.7 1.8z" color="#ffaa00"/>
<path d="M162.8,78.8l4.7-1.9 2 1.5-4.7 1.9z" color="#ff9e00"/>
<path d="M186.9,82.3l4.8-1.8 2 2.3-4.9 1.8z" color="#ffbb00"/>
<path d="M136.5,78.3l4.6-1.9 4.2 1.5-4.6 1.8z" color="#ff9900"/>
<path d="M194.9,84.3l4.9-1.8 1.3 1.7-4.9 1.8z" color="#ffc600"/>
<path d="M154,78l4.7-1.9 2 1.3-4.6 1.9z" color="#ff9600"/>
<path d="M178.2,80.1l4.8-1.9 2 2-4.8 1.8z" color="#ffa800"/>
<path d="M145.3,77.9l4.6-1.9 2.1 .9-4.6 1.9z" color="#ff9300"/>
<path d="M169.5,78.4l4.8-1.8 1.9 1.7-4.7 1.8z" color="#ff9900"/>
<path d="M193.7,82.8l4.9-1.9 1.2 1.6-4.9 1.8z" color="#ffb800"/>
<path d="M160.7,77.4l4.8-1.9 2 1.4-4.7 1.9z" color="#ff8f00"/>
<path d="M185,80.2l4.8-1.8 1.9 2.1-4.8 1.8z" color="#ffa600"/>
<path d="M201.1,84.2l4.9-1.8 1.2 1.7-4.9 1.8z" color="#ffc100"/>
<path d="M152,76.9l4.7-1.9 2 1.1-4.7 1.9z" color="#ff8a00"/>
<path d="M176.2,78.3l4.8-1.9 2 1.8-4.8 1.9z" color="#ff9600"/>
<path d="M191.7,80.5l4.9-1.8 2 2.2-4.9 1.9z" color="#ffa600"/>
<path d="M167.5,76.9l4.7-1.9 2.1 1.6-4.8 1.8z" color="#ff8a00"/>
<path d="M199.8,82.5l5-1.8 1.2 1.7-4.9 1.8z" color="#ffb200"/>
<path d="M141.1,76.4l4.6-1.8 4.2 1.4-4.6 1.9z" color="#ff8400"/>
<path d="M158.7,76.1l4.7-1.8 2.1 1.2-4.8 1.9z" color="#ff8200"/>
<path d="M132.3,77.5l4.6-1.9 4.2 .8-4.6 1.9z" color="#ff8900"/>
<path d="M183,78.2l4.9-1.8 1.9 2-4.8 1.8z" color="#ff9300"/>
<path d="M149.9,76l4.7-1.9 2.1 .9-4.7 1.9z" color="#ff7e00"/>
<path d="M174.3,76.6l4.8-1.9 1.9 1.7-4.8 1.9z" color="#ff8500"/>
<path d="M198.6,80.9l4.9-1.8 1.3 1.6-5 1.8z" color="#ffa400"/>
<path d="M206,82.4l5-1.8 1.2 1.7-5 1.8z" color="#ffad00"/>
<path d="M189.8,78.4l4.9-1.8 1.9 2.1-4.9 1.8z" color="#ff9200"/>
<path d="M165.5,75.5l4.7-1.8 2 1.3-4.7 1.9z" color="#ff7b00"/>
<path d="M156.7,75l4.7-1.8 2 1.1-4.7 1.8z" color="#ff7600"/>
<path d="M181,76.4l4.9-1.8 2 1.8-4.9 1.8z" color="#ff8200"/>
<path d="M196.6,78.7l5-1.8 1.9 2.2-4.9 1.8z" color="#ff9200"/>
<path d="M204.8,80.7l5-1.7 1.2 1.6-5 1.8z" color="#ff9e00"/>
<path d="M172.2,75l4.9-1.8 2 1.5-4.8 1.9z" color="#ff7600"/>
<path d="M145.7,74.6l4.7-1.9 4.2 1.4-4.7 1.9z" color="#fe7100"/>
<path d="M163.4,74.3l4.8-1.9 2 1.3-4.7 1.8z" color="#fe6e00"/>
<path d="M187.9,76.4l4.9-1.8 1.9 2-4.9 1.8z" color="#ff7f00"/>
<path d="M136.9,75.6l4.6-1.8 4.2 .8-4.6 1.8z" color="#ff7500"/>
<path d="M154.6,74.1l4.7-1.8 2.1 .9-4.7 1.8z" color="#fe6b00"/>
<path d="M128,77.3l4.6-1.9 4.3 .2-4.6 1.9z" color="#ff7d00"/>
<path d="M203.5,79.1l5-1.7 1.3 1.6-5 1.7z" color="#ff9000"/>
<path d="M179.1,74.7l4.8-1.8 2 1.7-4.9 1.8z" color="#fe7100"/>
<path d="M211,80.6l5.1-1.8 1.2 1.8-5.1 1.7z" color="#ff9900"/>
<path d="M194.7,76.6l5-1.8 1.9 2.1-5 1.8z" color="#ff7e00"/>
<path d="M170.2,73.7l4.9-1.9 2 1.4-4.9 1.8z" color="#fe6800"/>
<path d="M161.4,73.2l4.8-1.9 2 1.1-4.8 1.9z" color="#fe6200"/>
<path d="M185.9,74.6l4.9-1.8 2 1.8-4.9 1.8z" color="#fe6e00"/>
<path d="M201.6,76.9l5-1.8 1.9 2.3-5 1.7z" color="#ff7e00"/>
<path d="M209.8,79l5-1.8 1.3 1.6-5.1 1.8z" color="#ff8a00"/>
<path d="M177.1,73.2l4.8-1.8 2 1.5-4.8 1.8z" color="#fe6200"/>
<path d="M192.8,74.6l5-1.8 1.9 2-5 1.8z" color="#fe6c00"/>
<path d="M168.2,72.4l4.8-1.8 2.1 1.2-4.9 1.9z" color="#fd5b00"/>
<path d="M150.4,72.7l4.8-1.8 4.1 1.4-4.7 1.8z" color="#fe5d00"/>
<path d="M141.5,73.8l4.7-1.9 4.2 .8-4.7 1.9z" color="#fe6100"/>
<path d="M208.5,77.4l5.1-1.8 1.2 1.6-5 1.8z" color="#ff7c00"/>
<path d="M159.3,72.3l4.8-1.9 2.1 .9-4.8 1.9z" color="#fd5800"/>
<path d="M183.9,72.9l5-1.8 1.9 1.7-4.9 1.8z" color="#fe5e00"/>
<path d="M132.6,75.4l4.6-1.8 4.3 .2-4.6 1.8z" color="#fe6a00"/>
<path d="M216.1,78.8l5.1-1.7 1.2 1.7-5.1 1.8z" color="#ff8600"/>
<path d="M123.7,77.7l4.6-1.8 4.3-.5-4.6 1.9z" color="#ff7700"/>
<path d="M199.7,74.8l5-1.8 1.9 2.1-5 1.8z" color="#fe6b00"/>
<path d="M175.1,71.8l4.8-1.8 2 1.4-4.8 1.8z" color="#fd5500"/>
<path d="M190.8,72.8l5-1.8 2 1.8-5 1.8z" color="#fe5b00"/>
<path d="M166.2,71.3l4.8-1.8 2 1.1-4.8 1.8z" color="#fd4f00"/>
<path d="M206.6,75.1l5.1-1.8 1.9 2.3-5.1 1.8z" color="#fe6b00"/>
<path d="M214.8,77.2l5.1-1.8 1.3 1.7-5.1 1.7z" color="#ff7700"/>
<path d="M181.9,71.4l5-1.9 2 1.6-5 1.8z" color="#fd4f00"/>
<path d="M197.8,72.8l5-1.8 1.9 2-5 1.8z" color="#fd5900"/>
<path d="M173,70.6l4.9-1.8 2 1.2-4.8 1.8z" color="#fd4800"/>
<path d="M155.2,70.9l4.7-1.9 4.2 1.4-4.8 1.9z" color="#fd4a00"/>
<path d="M213.6,75.6l5.1-1.8 1.2 1.6-5.1 1.8z" color="#fe6900"/>
<path d="M146.2,71.9l4.7-1.8 4.3 .8-4.8 1.8z" color="#fd4e00"/>
<path d="M164.1,70.4l4.8-1.8 2.1 .9-4.8 1.8z" color="#fd4400"/>
<path d="M188.9,71.1l5-1.8 1.9 1.7-5 1.8z" color="#fd4b00"/>
<path d="M221.2,77.1l5.1-1.8 1.3 1.8-5.2 1.7z" color="#fe7300"/>
<path d="M137.2,73.6l4.7-1.8 4.3 .1-4.7 1.9z" color="#fd5700"/>
<path d="M204.7,73l5.1-1.8 1.9 2.1-5.1 1.8z" color="#fd5800"/>
<path d="M128.3,75.9l4.6-1.8 4.3-.5-4.6 1.8z" color="#fe6300"/>
<path d="M119.3,78.8l4.6-1.8 4.4-1.1-4.6 1.8z" color="#ff7400"/>
<path d="M179.9,70l5-1.8 2 1.3-5 1.9z" color="#fc4200"/>
<path d="M195.8,71l5.1-1.8 1.9 1.8-5 1.8z" color="#fd4800"/>
<path d="M171,69.5l4.9-1.8 2 1.1-4.9 1.8z" color="#fc3c00"/>
<path d="M211.7,73.3l5.1-1.7 1.9 2.2-5.1 1.8z" color="#fd5900"/>
<path d="M219.9,75.4l5.2-1.7 1.2 1.6-5.1 1.8z" color="#fe6500"/>
<path d="M186.9,69.5l5-1.8 2 1.6-5 1.8z" color="#fc3d00"/>
<path d="M202.8,71l5.1-1.8 1.9 2-5.1 1.8z" color="#fd4700"/>
<path d="M177.9,68.8l5-1.9 2 1.3-5 1.8z" color="#fc3500"/>
<path d="M218.7,73.8l5.2-1.7 1.2 1.6-5.2 1.7z" color="#fd5700"/>
<path d="M159.9,69l4.9-1.8 4.1 1.4-4.8 1.8z" color="#fc3700"/>
<path d="M193.9,69.3l5-1.8 2 1.7-5.1 1.8z" color="#fc3900"/>
<path d="M168.9,68.6l4.9-1.8 2.1 .9-4.9 1.8z" color="#fc3200"/>
<path d="M150.9,70.1l4.8-1.8 4.2 .7-4.7 1.9z" color="#fc3b00"/>
<path d="M225.7,74.5l5.3-1.7 1.8 2.6-5.2 1.7z" color="#fe5d00"/>
<path d="M209.8,71.2l5.1-1.8 1.9 2.2-5.1 1.7z" color="#fd4600"/>
<path d="M141.9,71.8l4.8-1.8 4.2 .1-4.7 1.8z" color="#fd4400"/>
<path d="M184.9,68.2l5-1.8 2 1.3-5 1.8z" color="#fc2f00"/>
<path d="M132.9,74.1l4.7-1.8 4.3-.5-4.7 1.8z" color="#fd5000"/>
<path d="M123.9,77l4.6-1.7 4.4-1.2-4.6 1.8z" color="#fe6100"/>
<path d="M114.9,80.6l4.6-1.8 4.4-1.8-4.6 1.8z" color="#f77300"/>
<path d="M200.9,69.2l5.1-1.8 1.9 1.8-5.1 1.8z" color="#fc3600"/>
<path d="M216.8,71.6l5.2-1.8 1.9 2.3-5.2 1.7z" color="#fd4600"/>
<path d="M191.9,67.7l5-1.8 2 1.6-5 1.8z" color="#fc2a00"/>
<path d="M207.9,69.2l5.1-1.8 1.9 2-5.1 1.8z" color="#fc3400"/>
<path d="M223.9,72.1l5.2-1.7 1.9 2.4-5.3 1.7z" color="#fd4800"/>
<path d="M173.8,66.8l5-1.8 4.1 1.9-5 1.9z" color="#fb2500"/>
<path d="M182.9,66.9l5-1.8 2 1.3-5 1.8z" color="#fb2200"/>
<path d="M164.8,67.2l4.9-1.8 4.1 1.4-4.9 1.8z" color="#fb2400"/>
<path d="M198.9,67.5l5.1-1.8 2 1.7-5.1 1.8z" color="#fb2600"/>
<path d="M231,72.8l5.3-1.7 1.8 2.5-5.3 1.8z" color="#fd4b00"/>
<path d="M214.9,69.4l5.2-1.7 1.9 2.1-5.2 1.8z" color="#fc3300"/>
<path d="M155.7,68.3l4.9-1.8 4.2 .7-4.9 1.8z" color="#fb2900"/>
<path d="M146.7,70l4.8-1.8 4.2 .1-4.8 1.8z" color="#fc3100"/>
<path d="M189.9,66.4l5-1.8 2 1.3-5 1.8z" color="#fb1c00"/>
<path d="M137.6,72.3l4.8-1.8 4.3-.5-4.8 1.8z" color="#fc3e00"/>
<path d="M206,67.4l5.1-1.8 1.9 1.8-5.1 1.8z" color="#fb2300"/>
<path d="M222,69.8l5.3-1.7 1.8 2.3-5.2 1.7z" color="#fc3400"/>
<path d="M128.5,75.3l4.7-1.8 4.4-1.2-4.7 1.8z" color="#fd4f00"/>
<path d="M119.5,78.8l4.6-1.7 4.4-1.8-4.6 1.7z" color="#f66100"/>
<path d="M110.5,83l4.6-1.7 4.4-2.5-4.6 1.8z" color="#f77a00"/>
<path d="M196.9,65.9l5.1-1.7 2 1.5-5.1 1.8z" color="#fb1800"/>
<path d="M229.1,70.4l5.3-1.8 1.9 2.5-5.3 1.7z" color="#fc3600"/>
<path d="M213,67.4l5.2-1.7 1.9 2-5.2 1.7z" color="#fb2200"/>
<path d="M178.8,65l5-1.8 4.1 1.9-5 1.8z" color="#fb1200"/>
<path d="M187.9,65.1l5-1.7 2 1.2-5 1.8z" color="#fa1000"/>
<path d="M236.3,71.1l5.3-1.7 1.8 2.6-5.3 1.6z" color="#fc3900"/>
<path d="M204,65.7l5.2-1.8 1.9 1.7-5.1 1.8z" color="#fb1400"/>
<path d="M169.7,65.4l5-1.8 4.1 1.4-5 1.8z" color="#fb1200"/>
<path d="M220.1,67.7l5.3-1.8 1.9 2.2-5.3 1.7z" color="#fb2100"/>
<path d="M160.6,66.5l4.9-1.8 4.2 .7-4.9 1.8z" color="#fb1600"/>
<path d="M194.9,64.6l5.2-1.8 1.9 1.4-5.1 1.7z" color="#fa0a00"/>
<path d="M151.5,68.2l4.8-1.8 4.3 .1-4.9 1.8z" color="#fb1f00"/>
<path d="M227.3,68.1l5.3-1.8 1.8 2.3-5.3 1.8z" color="#fb2200"/>
<path d="M211.1,65.6l5.2-1.7 1.9 1.8-5.2 1.7z" color="#fa1100"/>
<path d="M142.4,70.5l4.8-1.7 4.3-.6-4.8 1.8z" color="#fc2b00"/>
<path d="M133.2,73.5l4.8-1.8 4.4-1.2-4.8 1.8z" color="#fc3c00"/>
<path d="M124.1,77.1l4.7-1.7 4.4-1.9-4.7 1.8z" color="#f64f00"/>
<path d="M234.4,68.6l5.4-1.7 1.8 2.5-5.3 1.7z" color="#fb2400"/>
<path d="M202,64.2l5.2-1.8 2 1.5-5.2 1.8z" color="#fa0500"/>
<path d="M115.1,81.3l4.6-1.7 4.4-2.5-4.6 1.7z" color="#f76800"/>
<path d="M106,86.1l4.6-1.7 4.5-3.1-4.6 1.7z" color="#f78500"/>
<path d="M218.2,65.7l5.3-1.8 1.9 2-5.3 1.8z" color="#fa1000"/>
<path d="M183.8,63.2l5.1-1.8 4 2-5 1.7z" color="#fa0500"/>
<path d="M241.6,69.4l5.5-1.7 1.7 2.6-5.4 1.7z" color="#fb2700"/>
<path d="M192.9,63.4l5.2-1.8 2 1.2-5.2 1.8z" color="#fa0500"/>
<path d="M225.4,65.9l5.3-1.7 1.9 2.1-5.3 1.8z" color="#fa0f00"/>
<path d="M209.2,63.9l5.2-1.7 1.9 1.7-5.2 1.7z" color="#fa0500"/>
<path d="M174.7,63.6l5-1.8 4.1 1.4-5 1.8z" color="#fa0500"/>
<path d="M165.5,64.7l5-1.8 4.2 .7-5 1.8z" color="#fa0500"/>
<path d="M200.1,62.8l5.1-1.8 2 1.4-5.2 1.8z" color="#fa0500"/>
<path d="M232.6,66.3l5.4-1.7 1.8 2.3-5.4 1.7z" color="#fa1000"/>
<path d="M216.3,63.9l5.3-1.8 1.9 1.8-5.3 1.8z" color="#fa0500"/>
<path d="M156.3,66.4l5-1.7 4.2 0-4.9 1.8z" color="#fa0c00"/>
<path d="M147.2,68.8l4.8-1.8 4.3-.6-4.8 1.8z" color="#fb1900"/>
<path d="M239.8,66.9l5.4-1.7 1.9 2.5-5.5 1.7z" color="#fb1200"/>
<path d="M207.2,62.4l5.2-1.8 2 1.6-5.2 1.7z" color="#fa0500"/>
<path d="M223.5,63.9l5.4-1.7 1.8 2-5.3 1.7z" color="#fa0500"/>
<path d="M138,71.7l4.8-1.7 4.4-1.2-4.8 1.7z" color="#fc2a00"/>
<path d="M128.8,75.4l4.8-1.8 4.4-1.9-4.8 1.8z" color="#f53d00"/>
<path d="M119.7,79.6l4.7-1.7 4.4-2.5-4.7 1.7z" color="#f65600"/>
<path d="M110.6,84.4l4.6-1.6 4.5-3.2-4.6 1.7z" color="#f77300"/>
<path d="M101.5,89.9l4.6-1.6 4.5-3.9-4.6 1.7z" color="#f79500"/>
<path d="M247.1,67.7l5.4-1.7 1.8 2.6-5.5 1.7z" color="#fb1500"/>
<path d="M188.9,61.4l5.1-1.8 4.1 2-5.2 1.8z" color="#fa0500"/>
<path d="M198.1,61.6l5.1-1.8 2 1.2-5.1 1.8z" color="#fa0500"/>
<path d="M230.7,64.2l5.4-1.7 1.9 2.1-5.4 1.7z" color="#fa0500"/>
<path d="M214.4,62.2l5.3-1.8 1.9 1.7-5.3 1.8z" color="#fa0500"/>
<path d="M179.7,61.8l5.1-1.7 4.1 1.3-5.1 1.8z" color="#fa0500"/>
<path d="M238,64.6l5.4-1.7 1.8 2.3-5.4 1.7z" color="#fa0500"/>
<path d="M205.2,61l5.3-1.7 1.9 1.3-5.2 1.8z" color="#fa0500"/>
<path d="M170.5,62.9l5-1.7 4.2 .6-5 1.8z" color="#fa0500"/>
<path d="M221.6,62.1l5.4-1.7 1.9 1.8-5.4 1.7z" color="#fa0500"/>
<path d="M161.3,64.7l4.9-1.8 4.3 0-5 1.8z" color="#fa0500"/>
<path d="M245.2,65.2l5.5-1.6 1.8 2.4-5.4 1.7z" color="#fa0500"/>
<path d="M228.9,62.2l5.4-1.7 1.8 2-5.4 1.7z" color="#fa0500"/>
<path d="M212.4,60.6l5.3-1.7 2 1.5-5.3 1.8z" color="#f90500"/>
<path d="M152,67l4.9-1.7 4.4-.6-5 1.7z" color="#fa0700"/>
<path d="M99.2,92.1l4.6-1.6 2.3-2.2-4.6 1.6z" color="#f7a300"/>
<path d="M142.8,70l4.9-1.7 4.3-1.3-4.8 1.8z" color="#fb1800"/>
<path d="M252.5,66l5.6-1.6 1.8 2.6-5.6 1.6z" color="#fa0500"/>
<path d="M133.6,73.6l4.8-1.7 4.4-1.9-4.8 1.7z" color="#f42c00"/>
<path d="M194,59.6l5.2-1.7 4 1.9-5.1 1.8z" color="#f90500"/>
<path d="M236.1,62.5l5.5-1.7 1.8 2.1-5.4 1.7z" color="#fa0500"/>
<path d="M124.4,77.9l4.7-1.7 4.5-2.6-4.8 1.8z" color="#f54500"/>
<path d="M203.2,59.8l5.3-1.7 2 1.2-5.3 1.7z" color="#f90500"/>
<path d="M219.7,60.4l5.3-1.7 2 1.7-5.4 1.7z" color="#f90500"/>
<path d="M115.2,82.8l4.7-1.7 4.5-3.2-4.7 1.7z" color="#f66100"/>
<path d="M106.1,88.3l4.6-1.6 4.5-3.9-4.6 1.6z" color="#f78300"/>
<path d="M184.8,60.1l5.1-1.8 4.1 1.3-5.1 1.8z" color="#f90500"/>
<path d="M243.4,62.9l5.5-1.6 1.8 2.3-5.5 1.6z" color="#fa0500"/>
<path d="M96.9,94.4l4.6-1.5 2.3-2.4-4.6 1.6z" color="#f7ae00"/>
<path d="M227,60.4l5.4-1.7 1.9 1.8-5.4 1.7z" color="#f90500"/>
<path d="M175.5,61.2l5.1-1.8 4.2 .7-5.1 1.7z" color="#f90500"/>
<path d="M250.7,63.6l5.6-1.7 1.8 2.5-5.6 1.6z" color="#fa0500"/>
<path d="M166.2,62.9l5.1-1.7 4.2 0-5 1.7z" color="#fa0500"/>
<path d="M234.3,60.5l5.4-1.7 1.9 2-5.5 1.7z" color="#f90500"/>
<path d="M208.5,58.1l5.3-1.8 3.9 2.6-5.3 1.7z" color="#f90500"/>
<path d="M217.7,58.9l5.4-1.7 1.9 1.5-5.3 1.7z" color="#f90500"/>
<path d="M258.1,64.4l5.6-1.7 1.8 2.6-5.6 1.7z" color="#fa0500"/>
<path d="M156.9,65.3l5-1.7 4.3-.7-4.9 1.8z" color="#fa0500"/>
<path d="M94.7,96.9l4.5-1.5 2.3-2.5-4.6 1.5z" color="#f7bb00"/>
<path d="M241.6,60.8l5.5-1.7 1.8 2.2-5.5 1.6z" color="#f90500"/>
<path d="M103.8,90.5l4.6-1.6 2.3-2.2-4.6 1.6z" color="#f79100"/>
<path d="M147.7,68.3l4.9-1.7 4.3-1.3-4.9 1.7z" color="#fa0600"/>
<path d="M199.2,57.9l5.3-1.8 4 2-5.3 1.7z" color="#f90500"/>
<path d="M138.4,71.9l4.9-1.6 4.4-2-4.9 1.7z" color="#f31b00"/>
<path d="M129.1,76.2l4.9-1.6 4.4-2.7-4.8 1.7z" color="#f43300"/>
<path d="M119.9,81.1l4.8-1.6 4.4-3.3-4.7 1.7z" color="#f65000"/>
<path d="M248.9,61.3l5.6-1.7 1.8 2.3-5.6 1.7z" color="#f90500"/>
<path d="M110.7,86.7l4.7-1.6 4.5-4-4.7 1.7z" color="#f77100"/>
<path d="M189.9,58.3l5.2-1.7 4.1 1.3-5.2 1.7z" color="#f90500"/>
<path d="M232.4,58.7l5.4-1.7 1.9 1.8-5.4 1.7z" color="#f90500"/>
<path d="M223.1,57.2l5.4-1.7 3.9 3.2-5.4 1.7z" color="#f90500"/>
<path d="M256.3,61.9l5.6-1.6 1.8 2.4-5.6 1.7z" color="#f90500"/>
<path d="M92.4,99.6l4.5-1.5 2.3-2.7-4.5 1.5z" color="#f7c800"/>
<path d="M180.6,59.4l5.2-1.7 4.1 .6-5.1 1.8z" color="#f90500"/>
<path d="M101.5,92.9l4.6-1.6 2.3-2.4-4.6 1.6z" color="#f79d00"/>
<path d="M263.7,62.7l5.7-1.6 1.7 2.6-5.6 1.6z" color="#f90500"/>
<path d="M213.8,56.3l5.4-1.7 3.9 2.6-5.4 1.7z" color="#f90500"/>
<path d="M171.3,61.2l5.1-1.8 4.2 0-5.1 1.8z" color="#f90500"/>
<path d="M247.1,59.1l5.6-1.6 1.8 2.1-5.6 1.7z" color="#f90500"/>
<path d="M161.9,63.6l5.1-1.8 4.3-.6-5.1 1.7z" color="#f90500"/>
<path d="M237.8,57l5.6-1.7 3.7 3.8-5.5 1.7z" color="#f90500"/>
<path d="M204.5,56.1l5.3-1.7 4 1.9-5.3 1.8z" color="#f90500"/>
<path d="M152.6,66.6l5-1.7 4.3-1.3-5 1.7z" color="#fa0500"/>
<path d="M90.1,102.5l4.6-1.5 2.2-2.9-4.5 1.5z" color="#f7d700"/>
<path d="M99.2,95.4l4.7-1.5 2.2-2.6-4.6 1.6z" color="#f7a900"/>
<path d="M108.4,88.9l4.7-1.6 2.3-2.2-4.7 1.6z" color="#f78000"/>
<path d="M143.3,70.3l4.9-1.7 4.4-2-4.9 1.7z" color="#f30a00"/>
<path d="M134,74.6l4.8-1.7 4.5-2.6-4.9 1.6z" color="#f42200"/>
<path d="M195.1,56.6l5.3-1.7 4.1 1.2-5.3 1.8z" color="#f90500"/>
<path d="M228.5,55.5l5.5-1.7 3.8 3.2-5.4 1.7z" color="#f90500"/>
<path d="M124.7,79.5l4.8-1.6 4.5-3.3-4.9 1.6z" color="#f53f00"/>
<path d="M261.9,60.3l5.7-1.7 1.8 2.5-5.7 1.6z" color="#f90500"/>
<path d="M115.4,85.1l4.7-1.6 4.6-4-4.8 1.6z" color="#f66000"/>
<path d="M252.7,57.5l5.6-1.7 3.6 4.5-5.6 1.6z" color="#f90500"/>
<path d="M185.8,57.7l5.2-1.7 4.1 .6-5.2 1.7z" color="#f90500"/>
<path d="M87.8,105.6l4.6-1.5 2.3-3.1-4.6 1.5z" color="#f7e700"/>
<path d="M96.9,98.1l4.7-1.5 2.3-2.7-4.7 1.5z" color="#f7b700"/>
<path d="M219.2,54.6l5.4-1.7 3.9 2.6-5.4 1.7z" color="#f90500"/>
<path d="M106.1,91.3l4.7-1.5 2.3-2.5-4.7 1.6z" color="#f78b00"/>
<path d="M176.4,59.4l5.1-1.7 4.3 0-5.2 1.7z" color="#f90500"/>
<path d="M243.4,55.3l5.6-1.7 3.7 3.9-5.6 1.6z" color="#f90500"/>
<path d="M267.6,58.6l5.8-1.6 3.5 5.1-5.8 1.6z" color="#f90500"/>
<path d="M167,61.8l5.1-1.6 4.3-.8-5.1 1.8z" color="#f90500"/>
<path d="M209.8,54.4l5.4-1.7 4 1.9-5.4 1.7z" color="#f90500"/>
<path d="M157.6,64.9l5-1.7 4.4-1.4-5.1 1.8z" color="#f90500"/>
<path d="M85.5,108.8l4.5-1.4 2.4-3.3-4.6 1.5z" color="#f6f700"/>
<path d="M94.7,101l4.6-1.4 2.3-3-4.7 1.5z" color="#f7c600"/>
<path d="M113.1,87.3l4.8-1.5 2.2-2.3-4.7 1.6z" color="#f76f00"/>
<path d="M103.9,93.9l4.6-1.5 2.3-2.6-4.7 1.5z" color="#f79800"/>
<path d="M148.2,68.6l5-1.7 4.4-2-5 1.7z" color="#f20500"/>
<path d="M234,53.8l5.6-1.7 3.8 3.2-5.6 1.7z" color="#f80500"/>
<path d="M200.4,54.9l5.3-1.7 4.1 1.2-5.3 1.7z" color="#f90500"/>
<path d="M138.8,72.9l5-1.6 4.4-2.7-4.9 1.7z" color="#f31200"/>
<path d="M258.3,55.8l5.8-1.6 3.5 4.4-5.7 1.7z" color="#f90500"/>
<path d="M129.5,77.9l4.8-1.6 4.5-3.4-4.8 1.7z" color="#f42e00"/>
<path d="M120.1,83.5l4.8-1.5 4.6-4.1-4.8 1.6z" color="#f64f00"/>
<path d="M191,56l5.3-1.7 4.1 .6-5.3 1.7z" color="#f90500"/>
<path d="M224.6,52.9l5.5-1.7 3.9 2.6-5.5 1.7z" color="#f80500"/>
<path d="M83.2,112.2l4.5-1.4 2.3-3.4-4.5 1.4z" color="#d2f600"/>
<path d="M181.5,57.7l5.3-1.7 4.2 0-5.2 1.7z" color="#f90500"/>
<path d="M273.4,57l5.9-1.6 3.4 5.1-5.8 1.6z" color="#f90500"/>
<path d="M92.4,104.1l4.6-1.4 2.3-3.1-4.6 1.4z" color="#f7d600"/>
<path d="M249,53.6l5.7-1.6 3.6 3.8-5.6 1.7z" color="#f80500"/>
<path d="M101.6,96.6l4.7-1.4 2.2-2.8-4.6 1.5z" color="#f7a600"/>
<path d="M110.8,89.8l4.8-1.6 2.3-2.4-4.8 1.5z" color="#f77a00"/>
<path d="M215.2,52.7l5.5-1.7 3.9 1.9-5.4 1.7z" color="#f80500"/>
<path d="M172.1,60.2l5.2-1.7 4.2-.8-5.1 1.7z" color="#f90500"/>
<path d="M162.6,63.2l5.1-1.6 4.4-1.4-5.1 1.6z" color="#f90500"/>
<path d="M239.6,52.1l5.6-1.6 3.8 3.1-5.6 1.7z" color="#f80500"/>
<path d="M264.1,54.2l5.8-1.6 3.5 4.4-5.8 1.6z" color="#f80500"/>
<path d="M205.7,53.2l5.4-1.7 4.1 1.2-5.4 1.7z" color="#f80500"/>
<path d="M80.9,115.8l4.5-1.3 2.3-3.7-4.5 1.4z" color="#acf400"/>
<path d="M153.2,66.9l5-1.6 4.4-2.1-5 1.7z" color="#f20500"/>
<path d="M90,107.4l4.7-1.4 2.3-3.3-4.6 1.4z" color="#f7e700"/>
<path d="M117.9,85.8l4.8-1.5 2.2-2.3-4.8 1.5z" color="#f65e00"/>
<path d="M99.3,99.6l4.7-1.5 2.3-2.9-4.7 1.4z" color="#f7b400"/>
<path d="M108.5,92.4l4.8-1.5 2.3-2.7-4.8 1.6z" color="#f78700"/>
<path d="M143.8,71.3l4.9-1.6 4.5-2.8-5 1.7z" color="#f20500"/>
<path d="M196.3,54.3l5.3-1.7 4.1 .6-5.3 1.7z" color="#f80500"/>
<path d="M134.3,76.3l5-1.6 4.5-3.4-5 1.6z" color="#f41e00"/>
<path d="M230.1,51.2l5.6-1.6 3.9 2.5-5.6 1.7z" color="#f80500"/>
<path d="M124.9,82l4.9-1.6 4.5-4.1-4.8 1.6z" color="#f53f00"/>
<path d="M279.3,55.4l5.9-1.5 3.4 5.1-5.9 1.5z" color="#f90500"/>
<path d="M254.7,52l5.7-1.6 3.7 3.8-5.8 1.6z" color="#f80500"/>
<path d="M186.8,56l5.3-1.6 4.2-.1-5.3 1.7z" color="#f80500"/>
<path d="M78.6,119.6l4.5-1.3 2.3-3.8-4.5 1.3z" color="#83f300"/>
<path d="M87.7,110.8l4.6-1.3 2.4-3.5-4.7 1.4z" color="#f5f700"/>
<path d="M220.7,51l5.5-1.6 3.9 1.8-5.5 1.7z" color="#f80500"/>
<path d="M97,102.7l4.6-1.4 2.4-3.2-4.7 1.5z" color="#f7c400"/>
<path d="M115.6,88.2l4.8-1.5 2.3-2.4-4.8 1.5z" color="#f76900"/>
<path d="M106.3,95.2l4.7-1.5 2.3-2.8-4.8 1.5z" color="#f79400"/>
<path d="M177.3,58.5l5.2-1.7 4.3-.8-5.3 1.7z" color="#f90500"/>
<path d="M245.2,50.5l5.7-1.7 3.8 3.2-5.7 1.6z" color="#f80500"/>
<path d="M269.9,52.6l5.8-1.6 3.6 4.4-5.9 1.6z" color="#f80500"/>
<path d="M167.7,61.6l5.2-1.7 4.4-1.4-5.2 1.7z" color="#f10500"/>
<path d="M211.1,51.5l5.5-1.7 4.1 1.2-5.5 1.7z" color="#f80500"/>
<path d="M77,122.2l4.5-1.3 1.6-2.6-4.5 1.3z" color="#60f100"/>
<path d="M158.2,65.3l5.2-1.6 4.3-2.1-5.1 1.6z" color="#f20500"/>
<path d="M85.4,114.5l4.6-1.4 2.3-3.6-4.6 1.3z" color="#cef600"/>
<path d="M122.7,84.3l4.8-1.6 2.3-2.3-4.9 1.6z" color="#f54e00"/>
<path d="M285.2,53.9l5.9-1.6 3.4 5.1-5.9 1.6z" color="#f80500"/>
<path d="M94.7,106l4.6-1.4 2.3-3.3-4.6 1.4z" color="#f7d600"/>
<path d="M235.7,49.6l5.7-1.7 3.8 2.6-5.6 1.6z" color="#f80500"/>
<path d="M113.3,90.9l4.8-1.5 2.3-2.7-4.8 1.5z" color="#f77600"/>
<path d="M148.7,69.7l5.1-1.6 4.4-2.8-5 1.6z" color="#f20500"/>
<path d="M104,98.1l4.7-1.4 2.3-3-4.7 1.5z" color="#f7a400"/>
<path d="M201.6,52.6l5.4-1.7 4.1 .6-5.4 1.7z" color="#f80500"/>
<path d="M260.4,50.4l5.8-1.7 3.7 3.9-5.8 1.6z" color="#f80500"/>
<path d="M139.3,74.7l5-1.5 4.4-3.5-4.9 1.6z" color="#f30e00"/>
<path d="M75.5,124.9l4.5-1.3 1.5-2.7-4.5 1.3z" color="#42f000"/>
<path d="M129.8,80.4l4.9-1.5 4.6-4.2-5 1.6z" color="#f42f00"/>
<path d="M192.1,54.4l5.3-1.7 4.2-.1-5.3 1.7z" color="#f80500"/>
<path d="M226.2,49.4l5.6-1.7 3.9 1.9-5.6 1.6z" color="#f80500"/>
<path d="M275.7,51l6-1.6 3.5 4.5-5.9 1.5z" color="#f80500"/>
<path d="M83.1,118.3l4.6-1.3 2.3-3.9-4.6 1.4z" color="#a5f400"/>
<path d="M73.9,127.7l4.5-1.3 1.6-2.8-4.5 1.3z" color="#23ef00"/>
<path d="M250.9,48.8l5.8-1.6 3.7 3.2-5.7 1.6z" color="#f80500"/>
<path d="M182.5,56.8l5.3-1.6 4.3-.8-5.3 1.6z" color="#f80500"/>
<path d="M92.3,109.5l4.7-1.4 2.3-3.5-4.6 1.4z" color="#f7e800"/>
<path d="M120.4,86.7l4.9-1.4 2.2-2.6-4.8 1.6z" color="#f65900"/>
<path d="M101.6,101.3l4.8-1.4 2.3-3.2-4.7 1.4z" color="#f7b400"/>
<path d="M111,93.7l4.8-1.4 2.3-2.9-4.8 1.5z" color="#f78400"/>
<path d="M216.6,49.8l5.5-1.6 4.1 1.2-5.5 1.6z" color="#f80500"/>
<path d="M172.9,59.9l5.3-1.6 4.3-1.5-5.2 1.7z" color="#f10500"/>
<path d="M291.1,52.3l6.1-1.5 3.4 5.1-6.1 1.5z" color="#f80500"/>
<path d="M72.4,130.5l4.5-1.2 1.5-2.9-4.5 1.3z" color="#04ee00"/>
<path d="M163.4,63.7l5.1-1.6 4.4-2.2-5.2 1.7z" color="#f20500"/>
<path d="M241.4,47.9l5.7-1.6 3.8 2.5-5.7 1.7z" color="#f80500"/>
<path d="M81.5,120.9l4.6-1.2 1.6-2.7-4.6 1.3z" color="#81f300"/>
<path d="M266.2,48.7l5.9-1.6 3.6 3.9-5.8 1.6z" color="#f80500"/>
<path d="M207,50.9l5.5-1.6 4.1 .5-5.5 1.7z" color="#f80500"/>
<path d="M153.8,68.1l5.1-1.6 4.5-2.8-5.2 1.6z" color="#f20500"/>
<path d="M127.5,82.7l5-1.5 2.2-2.3-4.9 1.5z" color="#f53d00"/>
<path d="M90,113.1l4.7-1.3 2.3-3.7-4.7 1.4z" color="#eff700"/>
<path d="M118.1,89.4l4.9-1.4 2.3-2.7-4.9 1.4z" color="#f66600"/>
<path d="M99.3,104.6l4.8-1.3 2.3-3.4-4.8 1.4z" color="#f7c500"/>
<path d="M108.7,96.7l4.8-1.4 2.3-3-4.8 1.4z" color="#f79300"/>
<path d="M144.3,73.2l5-1.6 4.5-3.5-5.1 1.6z" color="#f20500"/>
<path d="M70.8,133.5l4.5-1.2 1.6-3-4.5 1.2z" color="#00ef1d"/>
<path d="M197.4,52.7l5.4-1.6 4.2-.2-5.4 1.7z" color="#f80500"/>
<path d="M231.8,47.7l5.6-1.6 4 1.8-5.7 1.7z" color="#f70500"/>
<path d="M134.7,78.9l5-1.5 4.6-4.2-5 1.5z" color="#f41e00"/>
<path d="M80,123.6l4.6-1.2 1.5-2.7-4.6 1.2z" color="#63f200"/>
<path d="M281.7,49.4l6-1.6 3.4 4.5-5.9 1.6z" color="#f80500"/>
<path d="M256.7,47.2l5.8-1.6 3.7 3.1-5.8 1.7z" color="#f70500"/>
<path d="M187.8,55.2l5.4-1.7 4.2-.8-5.3 1.7z" color="#f80500"/>
<path d="M69.3,136.5l4.5-1.1 1.5-3.1-4.5 1.2z" color="#00f03f"/>
<path d="M222.1,48.2l5.7-1.7 4 1.2-5.6 1.7z" color="#f70500"/>
<path d="M297.2,50.8l6.1-1.6 3.4 5.2-6.1 1.5z" color="#f80500"/>
<path d="M87.7,117l4.7-1.3 2.3-3.9-4.7 1.3z" color="#c6f500"/>
<path d="M125.3,85.3l4.9-1.5 2.3-2.6-5 1.5z" color="#f54900"/>
<path d="M78.4,126.4l4.6-1.2 1.6-2.8-4.6 1.2z" color="#45f000"/>
<path d="M97,108.1l4.7-1.3 2.4-3.5-4.8 1.3z" color="#f7d700"/>
<path d="M115.8,92.3l4.9-1.5 2.3-2.8-4.9 1.4z" color="#f77300"/>
<path d="M106.4,99.9l4.8-1.4 2.3-3.2-4.8 1.4z" color="#f7a300"/>
<path d="M178.2,58.3l5.3-1.6 4.3-1.5-5.3 1.6z" color="#f10500"/>
<path d="M247.1,46.3l5.8-1.6 3.8 2.5-5.8 1.6z" color="#f70500"/>
<path d="M272.1,47.1l6-1.5 3.6 3.8-6 1.6z" color="#f70500"/>
<path d="M67.7,139.6l4.5-1.1 1.6-3.1-4.5 1.1z" color="#00f161"/>
<path d="M168.5,62.1l5.3-1.6 4.4-2.2-5.3 1.6z" color="#f10500"/>
<path d="M212.5,49.3l5.5-1.7 4.1 .6-5.5 1.6z" color="#f80500"/>
<path d="M76.9,129.3l4.6-1.1 1.5-3-4.6 1.2z" color="#25ef00"/>
<path d="M86.1,119.7l4.7-1.3 1.6-2.7-4.7 1.3z" color="#a2f400"/>
<path d="M158.9,66.5l5.2-1.5 4.4-2.9-5.1 1.6z" color="#f20500"/>
<path d="M132.5,81.2l5-1.4 2.2-2.4-5 1.5z" color="#f42e00"/>
<path d="M287.7,47.8l6.1-1.5 3.4 4.5-6.1 1.5z" color="#f70500"/>
<path d="M237.4,46.1l5.8-1.7 3.9 1.9-5.7 1.6z" color="#f70500"/>
<path d="M123,88l4.9-1.5 2.3-2.7-4.9 1.5z" color="#f65600"/>
<path d="M94.7,111.8l4.7-1.3 2.3-3.7-4.7 1.3z" color="#f7eb00"/>
<path d="M202.8,51.1l5.5-1.7 4.2-.1-5.5 1.6z" color="#f80500"/>
<path d="M149.3,71.6l5.1-1.5 4.5-3.6-5.1 1.6z" color="#f20500"/>
<path d="M113.5,95.3l4.8-1.4 2.4-3.1-4.9 1.5z" color="#f78200"/>
<path d="M104.1,103.3l4.8-1.4 2.3-3.4-4.8 1.4z" color="#f7b400"/>
<path d="M66.1,142.8l4.6-1.1 1.5-3.2-4.5 1.1z" color="#00f385"/>
<path d="M262.5,45.6l5.9-1.6 3.7 3.1-5.9 1.6z" color="#f70500"/>
<path d="M139.7,77.4l5.1-1.5 4.5-4.3-5 1.6z" color="#f30f00"/>
<path d="M75.3,132.3l4.6-1.1 1.6-3-4.6 1.1z" color="#04ee00"/>
<path d="M84.6,122.4l4.6-1.2 1.6-2.8-4.7 1.3z" color="#84f300"/>
<path d="M193.2,53.5l5.4-1.6 4.2-.8-5.4 1.6z" color="#f80500"/>
<path d="M227.8,46.5l5.6-1.6 4 1.2-5.6 1.6z" color="#f70500"/>
<path d="M64.6,146.1l4.5-1.1 1.6-3.3-4.6 1.1z" color="#00f4aa"/>
<path d="M278.1,45.6l6-1.6 3.6 3.8-6 1.6z" color="#f70500"/>
<path d="M252.9,44.7l5.8-1.6 3.8 2.5-5.8 1.6z" color="#f70500"/>
<path d="M73.8,135.4l4.6-1.2 1.5-3-4.6 1.1z" color="#00ef1e"/>
<path d="M130.2,83.8l5-1.5 2.3-2.5-5 1.4z" color="#f53900"/>
<path d="M183.5,56.7l5.3-1.6 4.4-1.6-5.4 1.7z" color="#eb0500"/>
<path d="M92.4,115.7l4.7-1.2 2.3-4-4.7 1.3z" color="#e7f700"/>
<path d="M120.7,90.8l4.9-1.4 2.3-2.9-4.9 1.5z" color="#f66400"/>
<path d="M101.7,106.8l4.8-1.3 2.4-3.6-4.8 1.4z" color="#f7c700"/>
<path d="M111.2,98.5l4.8-1.3 2.3-3.3-4.8 1.4z" color="#f79300"/>
<path d="M83,125.2l4.7-1.1 1.5-2.9-4.6 1.2z" color="#65f200"/>
<path d="M218,47.6l5.7-1.6 4.1 .5-5.7 1.7z" color="#f70500"/>
<path d="M200.7,51.4l2.8-.8 2.1-.3-2.8 .8z" color="#f80500"/>
<path d="M173.8,60.5l5.3-1.6 4.4-2.2-5.3 1.6z" color="#f10500"/>
<path d="M63,149.4l4.5-1 1.6-3.4-4.5 1.1z" color="#00f6cf"/>
<path d="M293.8,46.3l6.1-1.5 3.4 4.4-6.1 1.6z" color="#f70500"/>
<path d="M72.2,138.5l4.6-1.1 1.6-3.2-4.6 1.2z" color="#00f041"/>
<path d="M243.2,44.4l5.8-1.6 3.9 1.9-5.8 1.6z" color="#f70500"/>
<path d="M164.1,65l5.2-1.6 4.5-2.9-5.3 1.6z" color="#f10500"/>
<path d="M268.4,44l6-1.6 3.7 3.2-6 1.5z" color="#f70500"/>
<path d="M81.5,128.2l4.6-1.2 1.6-2.9-4.7 1.1z" color="#45f000"/>
<path d="M208.3,49.4l5.6-1.6 4.1-.2-5.5 1.7z" color="#f70500"/>
<path d="M137.5,79.8l5-1.5 2.3-2.4-5.1 1.5z" color="#f41e00"/>
<path d="M90.8,118.4l4.7-1.2 1.6-2.7-4.7 1.2z" color="#c3f500"/>
<path d="M154.4,70.1l5.2-1.5 4.5-3.6-5.2 1.5z" color="#f20500"/>
<path d="M127.9,86.5l5-1.4 2.3-2.8-5 1.5z" color="#f54600"/>
<path d="M61.5,152.8l4.5-1 1.5-3.4-4.5 1z" color="#00f7f6"/>
<path d="M118.3,93.9l5-1.4 2.3-3.1-4.9 1.4z" color="#f77200"/>
<path d="M99.4,110.5l4.8-1.2 2.3-3.8-4.8 1.3z" color="#f7db00"/>
<path d="M108.9,101.9l4.8-1.3 2.3-3.4-4.8 1.3z" color="#f7a400"/>
<path d="M203.5,50.6l2.7-.8 2.1-.4-2.7 .9z" color="#f80500"/>
<path d="M144.8,75.9l5.1-1.5 4.5-4.3-5.1 1.5z" color="#f20500"/>
<path d="M191,54.2l5.4-1.6 2.2-.7-5.4 1.6z" color="#e30500"/>
<path d="M70.7,141.7l4.5-1.1 1.6-3.2-4.6 1.1z" color="#00f265"/>
<path d="M233.4,44.9l5.8-1.6 4 1.1-5.8 1.7z" color="#f70500"/>
<path d="M284.1,44l6.1-1.5 3.6 3.8-6.1 1.5z" color="#f70500"/>
<path d="M79.9,131.2l4.7-1.2 1.5-3-4.6 1.2z" color="#24ef00"/>
<path d="M198.6,51.9l2.7-.8 2.2-.5-2.8 .8z" color="#f80500"/>
<path d="M258.7,43.1l5.9-1.6 3.8 2.5-5.9 1.6z" color="#f70500"/>
<path d="M89.2,121.2l4.8-1.2 1.5-2.8-4.7 1.2z" color="#a5f400"/>
<path d="M59.9,156.3l4.5-.9 1.6-3.6-4.5 1z" color="#00d1f7"/>
<path d="M69.1,145l4.6-1 1.5-3.4-4.5 1.1z" color="#00f389"/>
<path d="M135.2,82.3l5-1.4 2.3-2.6-5 1.5z" color="#f42a00"/>
<path d="M223.7,46l5.7-1.6 4 .5-5.6 1.6z" color="#f70500"/>
<path d="M125.6,89.4l5-1.4 2.3-2.9-5 1.4z" color="#f65400"/>
<path d="M78.4,134.2l4.6-1.1 1.6-3.1-4.7 1.2z" color="#02ee00"/>
<path d="M97.1,114.5l4.8-1.3 2.3-3.9-4.8 1.2z" color="#f7ef00"/>
<path d="M116,97.2l4.9-1.4 2.4-3.3-5 1.4z" color="#f78300"/>
<path d="M106.5,105.5l4.9-1.3 2.3-3.6-4.8 1.3z" color="#f7b700"/>
<path d="M87.7,124.1l4.7-1.2 1.6-2.9-4.8 1.2z" color="#86f300"/>
<path d="M179.1,58.9l5.4-1.5 4.3-2.3-5.3 1.6z" color="#ee0500"/>
<path d="M274.4,42.4l6.1-1.6 3.6 3.2-6 1.6z" color="#f70500"/>
<path d="M249,42.8l5.8-1.6 3.9 1.9-5.8 1.6z" color="#f70500"/>
<path d="M58.4,159.9l4.5-.9 1.5-3.6-4.5 .9z" color="#00a8f7"/>
<path d="M206.9,49.7l5.6-1.6 1.4-.3-5.6 1.6z" color="#f70500"/>
<path d="M201.3,51.1l2.8-.8 2.1-.5-2.7 .8z" color="#f80500"/>
<path d="M188.8,55.1l5.5-1.6 2.1-.9-5.4 1.6z" color="#e40500"/>
<path d="M67.5,148.4l4.6-1 1.6-3.4-4.6 1z" color="#00f5af"/>
<path d="M213.9,47.8l5.6-1.6 4.2-.2-5.7 1.6z" color="#f70500"/>
<path d="M169.3,63.4l5.4-1.5 4.4-3-5.3 1.6z" color="#f10500"/>
<path d="M196.4,52.6l2.8-.8 2.1-.7-2.7 .8z" color="#dd0400"/>
<path d="M76.8,137.4l4.6-1.1 1.6-3.2-4.6 1.1z" color="#00ef21"/>
<path d="M142.5,78.3l5.1-1.4 2.3-2.5-5.1 1.5z" color="#f30e00"/>
<path d="M86.1,127l4.7-1.1 1.6-3-4.7 1.2z" color="#66f200"/>
<path d="M159.6,68.6l5.3-1.5 4.4-3.7-5.2 1.6z" color="#f20500"/>
<path d="M290.2,42.5l6.2-1.6 3.5 3.9-6.1 1.5z" color="#f70500"/>
<path d="M56.8,163.6l4.5-.9 1.6-3.7-4.5 .9z" color="#007ef7"/>
<path d="M95.5,117.2l4.8-1.2 1.6-2.8-4.8 1.3z" color="#e3f700"/>
<path d="M132.9,85.1l5-1.4 2.3-2.8-5 1.4z" color="#f53700"/>
<path d="M239.2,43.3l5.8-1.6 4 1.1-5.8 1.6z" color="#f70500"/>
<path d="M123.3,92.5l4.9-1.3 2.4-3.2-5 1.4z" color="#f66300"/>
<path d="M205.5,50l5.6-1.6 1.4-.3-5.6 1.6z" color="#f70500"/>
<path d="M264.6,41.5l6-1.6 3.8 2.5-6 1.6z" color="#f70500"/>
<path d="M149.9,74.4l5.2-1.4 4.5-4.4-5.2 1.5z" color="#f20500"/>
<path d="M113.7,100.6l4.9-1.3 2.3-3.5-4.9 1.4z" color="#f79400"/>
<path d="M104.2,109.3l4.8-1.3 2.4-3.8-4.9 1.3z" color="#f7cb00"/>
<path d="M66,151.8l4.6-.9 1.5-3.5-4.6 1z" color="#00f6d6"/>
<path d="M75.2,140.6l4.7-1 1.5-3.3-4.6 1.1z" color="#00f045"/>
<path d="M199.2,51.8l2.7-.7 2.2-.8-2.8 .8z" color="#d90400"/>
<path d="M84.6,130l4.7-1.1 1.5-3-4.7 1.1z" color="#44f000"/>
<path d="M55.3,167.4l4.4-.9 1.6-3.8-4.5 .9z" color="#0054f7"/>
<path d="M94,120l4.7-1.2 1.6-2.8-4.8 1.2z" color="#c5f500"/>
<path d="M229.4,44.4l5.7-1.6 4.1 .5-5.8 1.6z" color="#f70500"/>
<path d="M194.3,53.5l2.7-.8 2.2-.9-2.8 .8z" color="#de0400"/>
<path d="M280.5,40.8l6.1-1.5 3.6 3.2-6.1 1.5z" color="#f60500"/>
<path d="M64.4,155.4l4.6-1 1.6-3.5-4.6 .9z" color="#00f1f7"/>
<path d="M204.1,50.3l5.6-1.5 1.4-.4-5.6 1.6z" color="#f70500"/>
<path d="M140.2,80.9l5.1-1.4 2.3-2.6-5.1 1.4z" color="#f31a00"/>
<path d="M254.8,41.2l6-1.5 3.8 1.8-5.9 1.6z" color="#f70500"/>
<path d="M73.7,144l4.6-1 1.6-3.4-4.7 1z" color="#00f26a"/>
<path d="M130.6,88l5-1.3 2.3-3-5 1.4z" color="#f54500"/>
<path d="M184.5,57.4l5.4-1.6 4.4-2.3-5.5 1.6z" color="#e60500"/>
<path d="M212.5,48.1l5.6-1.6 1.4-.3-5.6 1.6z" color="#f70500"/>
<path d="M54.1,170.2l4.5-.8 1.1-2.9-4.4 .9z" color="#002df7"/>
<path d="M120.9,95.8l5-1.3 2.3-3.3-4.9 1.3z" color="#f77300"/>
<path d="M101.9,113.2l4.8-1.2 2.3-4-4.8 1.3z" color="#f7df00"/>
<path d="M111.4,104.2l4.9-1.2 2.3-3.7-4.9 1.3z" color="#f7a700"/>
<path d="M83,133.1l4.7-1 1.6-3.2-4.7 1.1z" color="#22ef00"/>
<path d="M92.4,122.9l4.8-1.2 1.5-2.9-4.7 1.2z" color="#a6f400"/>
<path d="M219.5,46.2l5.7-1.5 4.2-.3-5.7 1.6z" color="#f70500"/>
<path d="M63.3,158.1l4.5-.9 1.2-2.8-4.6 1z" color="#00cdf7"/>
<path d="M174.7,61.9l5.3-1.5 4.5-3-5.4 1.5z" color="#f10500"/>
<path d="M52.9,173.1l4.5-.8 1.2-2.9-4.5 .8z" color="#000cf7"/>
<path d="M197,52.7l2.8-.7 2.1-.9-2.7 .7z" color="#da0400"/>
<path d="M245,41.7l5.9-1.6 3.9 1.1-5.8 1.6z" color="#f70500"/>
<path d="M72.1,147.4l4.6-1 1.6-3.4-4.6 1z" color="#00f390"/>
<path d="M270.6,39.9l6.1-1.5 3.8 2.4-6.1 1.6z" color="#f60500"/>
<path d="M147.6,76.9l5.2-1.5 2.3-2.4-5.2 1.4z" color="#f20500"/>
<path d="M164.9,67.1l5.3-1.5 4.5-3.7-5.4 1.5z" color="#f10500"/>
<path d="M81.4,136.3l4.7-1 1.6-3.2-4.7 1z" color="#00ee01"/>
<path d="M62.1,160.8l4.5-.8 1.2-2.8-4.5 .9z" color="#00aef7"/>
<path d="M211.1,48.4l5.6-1.6 1.4-.3-5.6 1.6z" color="#f70500"/>
<path d="M137.9,83.7l5.1-1.4 2.3-2.8-5.1 1.4z" color="#f42700"/>
<path d="M90.8,125.9l4.8-1.2 1.6-3-4.8 1.2z" color="#85f300"/>
<path d="M100.3,116l4.8-1.2 1.6-2.8-4.8 1.2z" color="#f7f200"/>
<path d="M51.8,176.1l4.4-.8 1.2-3-4.5 .8z" color="#1100ec"/>
<path d="M155.1,73l5.2-1.5 4.6-4.4-5.3 1.5z" color="#f20500"/>
<path d="M128.2,91.2l5.1-1.4 2.3-3.1-5 1.3z" color="#f65400"/>
<path d="M118.6,99.3l5-1.3 2.3-3.5-5 1.3z" color="#f78400"/>
<path d="M109,108l4.9-1.2 2.4-3.8-4.9 1.2z" color="#f7bb00"/>
<path d="M70.6,150.9l4.6-1 1.5-3.5-4.6 1z" color="#00f5b7"/>
<path d="M60.9,163.6l4.6-.8 1.1-2.8-4.5 .8z" color="#008ef7"/>
<path d="M286.6,39.3l6.2-1.5 3.6 3.1-6.2 1.6z" color="#f60500"/>
<path d="M235.1,42.8l5.8-1.5 4.1 .4-5.8 1.6z" color="#f70500"/>
<path d="M199.8,52l5.6-1.6 4.3-1.6-5.6 1.5z" color="#d40400"/>
<path d="M79.9,139.6l4.7-1 1.5-3.3-4.7 1z" color="#00ef25"/>
<path d="M260.8,39.7l6-1.6 3.8 1.8-6 1.6z" color="#f60500"/>
<path d="M50.6,179.1l4.5-.8 1.1-3-4.4 .8z" color="#2a00db"/>
<path d="M89.3,128.9l4.7-1.1 1.6-3.1-4.8 1.2z" color="#64f200"/>
<path d="M209.7,48.8l5.6-1.6 1.4-.4-5.6 1.6z" color="#cc0400"/>
<path d="M98.7,118.8l4.9-1.1 1.5-2.9-4.8 1.2z" color="#e4f700"/>
<path d="M218.5,46.4l5.7-1.5 1-.2-5.7 1.5z" color="#f70500"/>
<path d="M59.7,166.5l4.6-.8 1.2-2.9-4.6 .8z" color="#006ef7"/>
<path d="M145.3,79.5l5.2-1.4 2.3-2.7-5.2 1.5z" color="#f30b00"/>
<path d="M189.9,55.8l5.5-1.5 4.4-2.3-5.5 1.5z" color="#de0400"/>
<path d="M69,154.4l4.6-.9 1.6-3.6-4.6 1z" color="#00f6df"/>
<path d="M49.4,182.2l4.5-.8 1.2-3.1-4.5 .8z" color="#4500c9"/>
<path d="M135.6,86.7l5.1-1.4 2.3-3-5.1 1.4z" color="#f43500"/>
<path d="M225.2,44.7l5.8-1.6 4.1-.3-5.7 1.6z" color="#f70500"/>
<path d="M125.9,94.5l5.1-1.3 2.3-3.4-5.1 1.4z" color="#f66400"/>
<path d="M78.3,143l4.7-1 1.6-3.4-4.7 1z" color="#00f14a"/>
<path d="M116.3,103l5-1.3 2.3-3.7-5 1.3z" color="#f79700"/>
<path d="M106.7,112l4.9-1.1 2.3-4.1-4.9 1.2z" color="#f7d000"/>
<path d="M276.7,38.4l6.2-1.6 3.7 2.5-6.1 1.5z" color="#f60500"/>
<path d="M180,60.4l5.5-1.5 4.4-3.1-5.4 1.6z" color="#eb0500"/>
<path d="M87.7,132.1l4.8-1.1 1.5-3.2-4.7 1.1z" color="#42f000"/>
<path d="M58.6,169.4l4.5-.8 1.2-2.9-4.6 .8z" color="#004df7"/>
<path d="M250.9,40.1l5.9-1.5 4 1.1-6 1.5z" color="#f60500"/>
<path d="M217.4,46.6l5.7-1.5 1.1-.2-5.7 1.5z" color="#f70500"/>
<path d="M97.2,121.7l4.8-1.1 1.6-2.9-4.9 1.1z" color="#c5f500"/>
<path d="M48.3,185.2l4.4-.7 1.2-3.1-4.5 .8z" color="#6000b6"/>
<path d="M67.8,157.2l4.6-.9 1.2-2.8-4.6 .9z" color="#00ecf7"/>
<path d="M170.2,65.6l5.4-1.4 4.4-3.8-5.3 1.5z" color="#f10500"/>
<path d="M152.8,75.4l5.2-1.4 2.3-2.5-5.2 1.5z" color="#f20500"/>
<path d="M57.4,172.3l4.5-.8 1.2-2.9-4.5 .8z" color="#002bf7"/>
<path d="M76.7,146.4l4.7-1 1.6-3.4-4.7 1z" color="#00f270"/>
<path d="M143,82.3l5.2-1.3 2.3-2.9-5.2 1.4z" color="#f31800"/>
<path d="M216.4,46.9l5.7-1.6 1-.2-5.7 1.5z" color="#f70500"/>
<path d="M47.1,188.4l4.5-.7 1.1-3.2-4.4 .7z" color="#7400a7"/>
<path d="M86.1,135.3l4.8-1 1.6-3.3-4.8 1.1z" color="#1eef00"/>
<path d="M160.3,71.5l5.3-1.4 4.6-4.5-5.3 1.5z" color="#f20500"/>
<path d="M66.6,160l4.6-.9 1.2-2.8-4.6 .9z" color="#00cdf7"/>
<path d="M240.9,41.3l6-1.6 4 .4-5.9 1.6z" color="#f60500"/>
<path d="M95.6,124.7l4.8-1 1.6-3.1-4.8 1.1z" color="#a5f400"/>
<path d="M133.3,89.8l5.1-1.3 2.3-3.2-5.1 1.4z" color="#f54500"/>
<path d="M114.7,105.5l5-1.2 1.6-2.6-5 1.3z" color="#f7a800"/>
<path d="M105.1,114.8l4.9-1.1 1.6-2.8-4.9 1.1z" color="#f7e200"/>
<path d="M266.8,38.1l6.1-1.5 3.8 1.8-6.1 1.5z" color="#f60500"/>
<path d="M205.4,50.4l5.6-1.5 4.3-1.7-5.6 1.6z" color="#cd0400"/>
<path d="M123.6,98l5-1.2 2.4-3.6-5.1 1.3z" color="#f77500"/>
<path d="M56.2,175.3l4.6-.7 1.1-3.1-4.5 .8z" color="#0009f7"/>
<path d="M45.9,191.6l4.5-.7 1.2-3.2-4.5 .7z" color="#78009e"/>
<path d="M75.2,149.9l4.6-.9 1.6-3.6-4.7 1z" color="#00f497"/>
<path d="M224.2,44.9l5.7-1.6 1.1-.2-5.8 1.6z" color="#f70500"/>
<path d="M215.3,47.2l5.7-1.5 1.1-.4-5.7 1.6z" color="#c40400"/>
<path d="M65.5,162.8l4.6-.9 1.1-2.8-4.6 .9z" color="#00adf7"/>
<path d="M84.6,138.6l4.7-1 1.6-3.3-4.8 1z" color="#00ee06"/>
<path d="M195.4,54.3l5.6-1.5 4.4-2.4-5.6 1.6z" color="#d70400"/>
<path d="M231,43.1l5.8-1.5 4.1-.3-5.8 1.5z" color="#f60500"/>
<path d="M94,127.8l4.9-1 1.5-3.1-4.8 1z" color="#83f300"/>
<path d="M55.1,178.3l4.5-.7 1.2-3-4.6 .7z" color="#1300ea"/>
<path d="M113.2,108.1l4.9-1.1 1.6-2.7-5 1.2z" color="#f7b600"/>
<path d="M150.5,78.1l5.3-1.4 2.2-2.7-5.2 1.4z" color="#f20500"/>
<path d="M103.6,117.7l4.9-1.1 1.5-2.9-4.9 1.1z" color="#f7f100"/>
<path d="M282.9,36.8l6.2-1.5 3.7 2.5-6.2 1.5z" color="#f60500"/>
<path d="M256.8,38.6l6.1-1.6 3.9 1.1-6 1.6z" color="#f60500"/>
<path d="M140.7,85.3l5.2-1.3 2.3-3-5.2 1.3z" color="#f42700"/>
<path d="M64.3,165.7l4.6-.9 1.2-2.9-4.6 .9z" color="#008df7"/>
<path d="M223.1,45.1l5.8-1.6 1-.2-5.7 1.6z" color="#f70500"/>
<path d="M185.5,58.9l5.5-1.5 4.4-3.1-5.5 1.5z" color="#e30500"/>
<path d="M73.6,153.5l4.7-.9 1.5-3.6-4.6 .9z" color="#00f5c0"/>
<path d="M131,93.2l5.1-1.3 2.3-3.4-5.1 1.3z" color="#f65500"/>
<path d="M53.9,181.4l4.5-.7 1.2-3.1-4.5 .7z" color="#2e00d8"/>
<path d="M121.3,101.7l5-1.2 2.3-3.7-5 1.2z" color="#f78800"/>
<path d="M83,142l4.7-1 1.6-3.4-4.7 1z" color="#00ef2b"/>
<path d="M92.5,131l4.8-1 1.6-3.2-4.9 1z" color="#61f100"/>
<path d="M102,120.6l4.9-1.1 1.6-2.9-4.9 1.1z" color="#e4f700"/>
<path d="M111.6,110.9l5-1.2 1.5-2.7-4.9 1.1z" color="#f7c400"/>
<path d="M63.1,168.6l4.6-.8 1.2-3-4.6 .9z" color="#006cf7"/>
<path d="M175.6,64.2l5.4-1.5 4.5-3.8-5.5 1.5z" color="#f10500"/>
<path d="M158,74l5.4-1.3 2.2-2.6-5.3 1.4z" color="#f20500"/>
<path d="M222.1,45.3l5.7-1.5 1.1-.3-5.8 1.6z" color="#f70500"/>
<path d="M52.7,184.5l4.5-.6 1.2-3.2-4.5 .7z" color="#4900c6"/>
<path d="M246.9,39.7l5.9-1.5 4 .4-5.9 1.5z" color="#f60500"/>
<path d="M272.9,36.6l6.2-1.5 3.8 1.7-6.2 1.6z" color="#f60500"/>
<path d="M72.4,156.3l4.7-.9 1.2-2.8-4.7 .9z" color="#00f7e4"/>
<path d="M148.2,81l5.2-1.4 2.4-2.9-5.3 1.4z" color="#f30900"/>
<path d="M165.6,70.1l5.4-1.4 4.6-4.5-5.4 1.4z" color="#f10500"/>
<path d="M211,48.9l5.7-1.5 4.3-1.7-5.7 1.5z" color="#c50400"/>
<path d="M81.4,145.4l4.8-.9 1.5-3.5-4.7 1z" color="#00f151"/>
<path d="M61.9,171.5l4.6-.7 1.2-3-4.6 .8z" color="#004af7"/>
<path d="M138.4,88.5l5.2-1.3 2.3-3.2-5.2 1.3z" color="#f43600"/>
<path d="M90.9,134.3l4.8-1 1.6-3.3-4.8 1z" color="#3df000"/>
<path d="M119.7,104.3l5-1.2 1.6-2.6-5 1.2z" color="#f79800"/>
<path d="M100.4,123.7l4.9-1.1 1.6-3.1-4.9 1.1z" color="#c3f500"/>
<path d="M110,113.7l5-1.2 1.6-2.8-5 1.2z" color="#f7d300"/>
<path d="M51.6,187.7l4.5-.6 1.1-3.2-4.5 .6z" color="#6400b4"/>
<path d="M71.2,159.1l4.7-.8 1.2-2.9-4.7 .9z" color="#00ecf7"/>
<path d="M229.9,43.3l5.9-1.5 1-.2-5.8 1.5z" color="#f60500"/>
<path d="M128.6,96.8l5.1-1.3 2.4-3.6-5.1 1.3z" color="#f66600"/>
<path d="M221,45.7l5.8-1.6 1-.3-5.7 1.5z" color="#bd0400"/>
<path d="M236.8,41.6l5.9-1.5 4.2-.4-6 1.6z" color="#f60500"/>
<path d="M60.8,174.6l4.6-.8 1.1-3-4.6 .7z" color="#0028f7"/>
<path d="M201,52.8l5.6-1.4 4.4-2.5-5.6 1.5z" color="#d00400"/>
<path d="M262.9,37l6.1-1.5 3.9 1.1-6.1 1.5z" color="#f60500"/>
<path d="M79.8,149l4.8-.9 1.6-3.6-4.8 .9z" color="#00f279"/>
<path d="M50.4,190.9l4.5-.6 1.2-3.2-4.5 .6z" color="#7500a5"/>
<path d="M70.1,161.9l4.6-.8 1.2-2.8-4.7 .8z" color="#00ccf7"/>
<path d="M155.8,76.7l5.3-1.3 2.3-2.7-5.4 1.3z" color="#f20500"/>
<path d="M89.3,137.6l4.8-1 1.6-3.3-4.8 1z" color="#19ef00"/>
<path d="M228.9,43.5l5.8-1.5 1.1-.2-5.9 1.5z" color="#f60500"/>
<path d="M118.1,107l5.1-1.2 1.5-2.7-5 1.2z" color="#f7a600"/>
<path d="M98.9,126.8l4.8-1.1 1.6-3.1-4.9 1.1z" color="#a2f400"/>
<path d="M108.5,116.6l4.9-1.1 1.6-3-5 1.2z" color="#f7e200"/>
<path d="M59.6,177.6l4.6-.7 1.2-3.1-4.6 .8z" color="#0005f7"/>
<path d="M145.9,84l5.2-1.3 2.3-3.1-5.2 1.4z" color="#f31800"/>
<path d="M191,57.4l5.6-1.4 4.4-3.2-5.6 1.5z" color="#dc0400"/>
<path d="M136.1,91.9l5.1-1.2 2.4-3.5-5.2 1.3z" color="#f54600"/>
<path d="M68.9,164.8l4.6-.7 1.2-3-4.6 .8z" color="#00abf7"/>
<path d="M126.3,100.5l5.1-1.2 2.3-3.8-5.1 1.3z" color="#f77900"/>
<path d="M279.1,35.1l6.2-1.5 3.8 1.7-6.2 1.5z" color="#f60500"/>
<path d="M78.3,152.6l4.7-.8 1.6-3.7-4.8 .9z" color="#00f4a1"/>
<path d="M252.8,38.2l6.1-1.5 4 .3-6.1 1.6z" color="#f60500"/>
<path d="M227.8,43.8l5.9-1.5 1-.3-5.8 1.5z" color="#b60400"/>
<path d="M181,62.7l5.5-1.4 4.5-3.9-5.5 1.5z" color="#eb0500"/>
<path d="M58.4,180.7l4.6-.7 1.2-3.1-4.6 .7z" color="#1700e8"/>
<path d="M87.7,141l4.8-.9 1.6-3.5-4.8 1z" color="#00ee0d"/>
<path d="M97.3,130l4.9-1 1.5-3.3-4.8 1.1z" color="#7ff300"/>
<path d="M116.6,109.7l5-1.1 1.6-2.8-5.1 1.2z" color="#f7b500"/>
<path d="M163.4,72.7l5.3-1.4 2.3-2.6-5.4 1.4z" color="#f20500"/>
<path d="M106.9,119.5l4.9-1 1.6-3-4.9 1.1z" color="#f7f200"/>
<path d="M67.7,167.8l4.7-.8 1.1-2.9-4.6 .7z" color="#008af7"/>
<path d="M216.7,47.4l5.8-1.5 4.3-1.8-5.8 1.6z" color="#be0400"/>
<path d="M171,68.7l5.5-1.3 4.5-4.7-5.4 1.5z" color="#f10500"/>
<path d="M153.4,79.6l5.4-1.3 2.3-2.9-5.3 1.3z" color="#f20500"/>
<path d="M236,41.7l5.9-1.5 .8-.1-5.9 1.5z" color="#f60500"/>
<path d="M77.1,155.4l4.7-.8 1.2-2.8-4.7 .8z" color="#00f5c5"/>
<path d="M57.2,183.9l4.6-.7 1.2-3.2-4.6 .7z" color="#3200d6"/>
<path d="M226.8,44.1l5.8-1.5 1.1-.3-5.9 1.5z" color="#b60400"/>
<path d="M143.6,87.2l5.2-1.2 2.3-3.3-5.2 1.3z" color="#f42700"/>
<path d="M86.2,144.5l4.8-.9 1.5-3.5-4.8 .9z" color="#00f033"/>
<path d="M242.7,40.1l6-1.5 4.1-.4-5.9 1.5z" color="#f60500"/>
<path d="M124.7,103.1l5.1-1.2 1.6-2.6-5.1 1.2z" color="#f78900"/>
<path d="M269,35.5l6.2-1.5 3.9 1.1-6.2 1.5z" color="#f60500"/>
<path d="M66.5,170.8l4.7-.7 1.2-3.1-4.7 .8z" color="#0068f7"/>
<path d="M95.7,133.3l4.9-1 1.6-3.3-4.9 1z" color="#5cf100"/>
<path d="M133.7,95.5l5.2-1.2 2.3-3.6-5.1 1.2z" color="#f65800"/>
<path d="M115,112.5l5-1.1 1.6-2.8-5 1.1z" color="#f7c400"/>
<path d="M105.3,122.6l5-1.1 1.5-3-4.9 1z" color="#e2f600"/>
<path d="M206.6,51.4l5.8-1.5 4.3-2.5-5.7 1.5z" color="#c80400"/>
<path d="M235.2,41.9l5.9-1.5 .8-.2-5.9 1.5z" color="#f60500"/>
<path d="M75.9,158.3l4.7-.9 1.2-2.8-4.7 .8z" color="#00f7e5"/>
<path d="M56.1,187.1l4.5-.7 1.2-3.2-4.6 .7z" color="#4d00c3"/>
<path d="M161.1,75.4l5.3-1.4 2.3-2.7-5.3 1.4z" color="#f20500"/>
<path d="M65.4,173.8l4.6-.7 1.2-3-4.7 .7z" color="#0046f7"/>
<path d="M84.6,148.1l4.8-.9 1.6-3.6-4.8 .9z" color="#00f15b"/>
<path d="M196.6,56l5.6-1.4 4.4-3.2-5.6 1.4z" color="#d50400"/>
<path d="M234.3,42.1l5.9-1.5 .9-.2-5.9 1.5z" color="#af0400"/>
<path d="M123.2,105.8l5.1-1.2 1.5-2.7-5.1 1.2z" color="#f79700"/>
<path d="M74.7,161.1l4.8-.7 1.1-3-4.7 .9z" color="#00eaf7"/>
<path d="M54.9,190.3l4.6-.6 1.1-3.3-4.5 .7z" color="#6900b0"/>
<path d="M94.1,136.6l4.9-.9 1.6-3.4-4.9 1z" color="#37f000"/>
<path d="M151.1,82.7l5.3-1.3 2.4-3.1-5.4 1.3z" color="#f30900"/>
<path d="M113.4,115.5l5-1.1 1.6-3-5 1.1z" color="#f7d300"/>
<path d="M103.7,125.7l5-1 1.6-3.2-5 1.1z" color="#c0f500"/>
<path d="M258.9,36.7l6.1-1.5 4 .3-6.1 1.5z" color="#f60500"/>
<path d="M141.2,90.7l5.3-1.3 2.3-3.4-5.2 1.2z" color="#f53800"/>
<path d="M64.2,176.9l4.6-.7 1.2-3.1-4.6 .7z" color="#0023f7"/>
<path d="M186.5,61.3l5.6-1.4 4.5-3.9-5.6 1.4z" color="#e40500"/>
<path d="M131.4,99.3l5.2-1.2 2.3-3.8-5.2 1.2z" color="#f76a00"/>
<path d="M233.5,42.4l5.9-1.5 .8-.3-5.9 1.5z" color="#af0400"/>
<path d="M73.5,164.1l4.8-.8 1.2-2.9-4.8 .7z" color="#00c9f7"/>
<path d="M83,151.8l4.8-.9 1.6-3.7-4.8 .9z" color="#00f383"/>
<path d="M222.5,45.9l5.9-1.4 4.2-1.9-5.8 1.5z" color="#b70400"/>
<path d="M241.9,40.2l6-1.5 .8-.1-6 1.5z" color="#f60500"/>
<path d="M92.5,140.1l4.9-.9 1.6-3.5-4.9 .9z" color="#11ee00"/>
<path d="M121.6,108.6l5.1-1.2 1.6-2.8-5.1 1.2z" color="#f7a600"/>
<path d="M102.2,129l4.9-1 1.6-3.3-5 1z" color="#9df400"/>
<path d="M111.8,118.5l5.1-1.1 1.5-3-5 1.1z" color="#f7e300"/>
<path d="M63,180l4.6-.6 1.2-3.2-4.6 .7z" color="#0000f7"/>
<path d="M176.5,67.4l5.5-1.4 4.5-4.7-5.5 1.4z" color="#f10500"/>
<path d="M275.2,34l6.3-1.4 3.8 1-6.2 1.5z" color="#f50500"/>
<path d="M158.8,78.3l5.3-1.3 2.3-3-5.3 1.4z" color="#f20500"/>
<path d="M232.6,42.6l6-1.4 .8-.3-5.9 1.5z" color="#af0400"/>
<path d="M248.7,38.6l6.1-1.5 4.1-.4-6.1 1.5z" color="#f60500"/>
<path d="M72.4,167l4.7-.7 1.2-3-4.8 .8z" color="#00a8f7"/>
<path d="M166.4,74l5.5-1.3 4.6-5.3-5.5 1.3z" color="#f20500"/>
<path d="M148.8,86l5.3-1.3 2.3-3.3-5.3 1.3z" color="#f31900"/>
<path d="M81.8,154.6l4.8-.8 1.2-2.9-4.8 .9z" color="#00f4a7"/>
<path d="M241.1,40.4l6-1.5 .8-.2-6 1.5z" color="#f60500"/>
<path d="M212.4,49.9l5.8-1.4 4.3-2.6-5.8 1.5z" color="#c10400"/>
<path d="M61.8,183.2l4.7-.6 1.1-3.2-4.6 .6z" color="#1b00e5"/>
<path d="M129.8,101.9l5.2-1.1 1.6-2.7-5.2 1.2z" color="#f77b00"/>
<path d="M138.9,94.3l5.2-1.2 2.4-3.7-5.3 1.3z" color="#f54900"/>
<path d="M91,143.6l4.8-.9 1.6-3.5-4.9 .9z" color="#00ee15"/>
<path d="M120,111.4l5.1-1.1 1.6-2.9-5.1 1.2z" color="#f7b500"/>
<path d="M100.6,132.3l4.9-1 1.6-3.3-4.9 1z" color="#79f200"/>
<path d="M110.3,121.5l5-1 1.6-3.1-5.1 1.1z" color="#f7f300"/>
<path d="M71.2,170.1l4.7-.8 1.2-3-4.7 .7z" color="#0086f7"/>
<path d="M240.2,40.6l6-1.4 .9-.3-6 1.5z" color="#a80300"/>
<path d="M80.6,157.4l4.8-.7 1.2-2.9-4.8 .8z" color="#00f5c7"/>
<path d="M202.2,54.6l5.8-1.4 4.4-3.3-5.8 1.5z" color="#ce0400"/>
<path d="M60.6,186.4l4.7-.5 1.2-3.3-4.7 .6z" color="#3700d2"/>
<path d="M265,35.2l6.2-1.5 4 .3-6.2 1.5z" color="#f50500"/>
<path d="M70,173.1l4.7-.7 1.2-3.1-4.7 .8z" color="#0064f7"/>
<path d="M156.4,81.4l5.4-1.2 2.3-3.2-5.3 1.3z" color="#f20500"/>
<path d="M128.3,104.6l5.1-1.1 1.6-2.7-5.2 1.1z" color="#f78900"/>
<path d="M89.4,147.2l4.8-.8 1.6-3.7-4.8 .9z" color="#00f03d"/>
<path d="M118.4,114.4l5.1-1.1 1.6-3-5.1 1.1z" color="#f7c400"/>
<path d="M99,135.7l4.9-.9 1.6-3.5-4.9 1z" color="#55f100"/>
<path d="M239.4,40.9l6-1.5 .8-.2-6 1.4z" color="#a80300"/>
<path d="M108.7,124.7l5-1 1.6-3.2-5 1z" color="#def600"/>
<path d="M79.5,160.4l4.7-.8 1.2-2.9-4.8 .7z" color="#00f7e7"/>
<path d="M192.1,59.9l5.7-1.3 4.4-4-5.6 1.4z" color="#dc0400"/>
<path d="M59.5,189.7l4.6-.6 1.2-3.2-4.7 .5z" color="#5300bf"/>
<path d="M146.5,89.4l5.3-1.2 2.3-3.5-5.3 1.3z" color="#f42a00"/>
<path d="M228.4,44.5l5.9-1.5 4.3-1.8-6 1.4z" color="#b00400"/>
<path d="M248.1,38.7l6-1.5 .7-.1-6.1 1.5z" color="#f60500"/>
<path d="M136.6,98.1l5.2-1.1 2.3-3.9-5.2 1.2z" color="#f65c00"/>
<path d="M68.8,176.2l4.7-.6 1.2-3.2-4.7 .7z" color="#0041f7"/>
<path d="M254.8,37.1l6.2-1.5 4-.4-6.1 1.5z" color="#f60500"/>
<path d="M238.6,41.2l6-1.5 .8-.3-6 1.5z" color="#a80300"/>
<path d="M182,66l5.6-1.3 4.5-4.8-5.6 1.4z" color="#ed0500"/>
<path d="M78.3,163.3l4.7-.7 1.2-3-4.7 .8z" color="#00e7f7"/>
<path d="M87.8,150.9l4.9-.8 1.5-3.7-4.8 .8z" color="#00f266"/>
<path d="M247.4,38.9l6-1.5 .7-.2-6 1.5z" color="#f60500"/>
<path d="M126.7,107.4l5.1-1 1.6-2.9-5.1 1.1z" color="#f79700"/>
<path d="M97.4,139.2l4.9-.9 1.6-3.5-4.9 .9z" color="#2fef00"/>
<path d="M116.9,117.4l5-1 1.6-3.1-5.1 1.1z" color="#f7d400"/>
<path d="M164.1,77l5.5-1.3 2.3-3-5.5 1.3z" color="#f20500"/>
<path d="M107.1,128l5-1 1.6-3.3-5 1z" color="#bbf500"/>
<path d="M218.2,48.5l5.8-1.5 4.4-2.5-5.9 1.4z" color="#ba0400"/>
<path d="M67.6,179.4l4.7-.6 1.2-3.2-4.7 .6z" color="#001df7"/>
<path d="M171.9,72.7l5.5-1.3 4.6-5.4-5.5 1.4z" color="#f10500"/>
<path d="M154.1,84.7l5.4-1.2 2.3-3.3-5.4 1.2z" color="#f30b00"/>
<path d="M246.7,39l6-1.4 .7-.2-6 1.5z" color="#a10300"/>
<path d="M77.1,166.3l4.8-.7 1.1-3-4.7 .7z" color="#00c5f7"/>
<path d="M86.6,153.8l4.9-.8 1.2-2.9-4.9 .8z" color="#00f38a"/>
<path d="M135,100.8l5.2-1.1 1.6-2.7-5.2 1.1z" color="#f76c00"/>
<path d="M144.1,93.1l5.3-1.2 2.4-3.7-5.3 1.2z" color="#f53b00"/>
<path d="M271.2,33.7l6.3-1.4 4 .3-6.3 1.4z" color="#f50500"/>
<path d="M125.1,110.3l5.2-1 1.5-2.9-5.1 1z" color="#f7a600"/>
<path d="M66.5,182.6l4.6-.6 1.2-3.2-4.7 .6z" color="#0500f4"/>
<path d="M95.8,142.7l5-.8 1.5-3.6-4.9 .9z" color="#08ee00"/>
<path d="M115.3,120.5l5.1-1 1.5-3.1-5 1z" color="#f7e500"/>
<path d="M208,53.2l5.8-1.4 4.4-3.3-5.8 1.4z" color="#c70400"/>
<path d="M105.5,131.3l5-.9 1.6-3.4-5 1z" color="#97f400"/>
<path d="M246,39.2l6-1.4 .7-.2-6 1.4z" color="#a10300"/>
<path d="M75.9,169.3l4.8-.6 1.2-3.1-4.8 .7z" color="#00a3f7"/>
<path d="M85.4,156.7l4.9-.8 1.2-2.9-4.9 .8z" color="#00f4aa"/>
<path d="M161.8,80.2l5.5-1.3 2.3-3.2-5.5 1.3z" color="#f20500"/>
<path d="M245.3,39.5l6.1-1.5 .6-.2-6 1.4z" color="#a10300"/>
<path d="M65.3,185.9l4.7-.6 1.1-3.3-4.6 .6z" color="#2100e1"/>
<path d="M254.1,37.2l6.2-1.4 .7-.2-6.2 1.5z" color="#f60500"/>
<path d="M133.4,103.5l5.2-1.1 1.6-2.7-5.2 1.1z" color="#f77a00"/>
<path d="M234.3,43l6-1.4 4.3-1.9-6 1.5z" color="#a90300"/>
<path d="M197.8,58.6l5.7-1.4 4.5-4-5.8 1.4z" color="#d50400"/>
<path d="M123.5,113.3l5.2-1 1.6-3-5.2 1z" color="#f7b600"/>
<path d="M74.7,172.4l4.8-.6 1.2-3.1-4.8 .6z" color="#0081f7"/>
<path d="M94.2,146.4l5-.8 1.6-3.7-5 .8z" color="#00ef20"/>
<path d="M151.8,88.2l5.3-1.2 2.4-3.5-5.4 1.2z" color="#f31c00"/>
<path d="M261,35.6l6.2-1.4 4-.5-6.2 1.5z" color="#f50500"/>
<path d="M113.7,123.7l5.1-.9 1.6-3.3-5.1 1z" color="#f7f600"/>
<path d="M103.9,134.8l5-.9 1.6-3.5-5 .9z" color="#72f200"/>
<path d="M84.2,159.6l4.9-.7 1.2-3-4.9 .8z" color="#00f6ca"/>
<path d="M244.6,39.7l6.1-1.4 .7-.3-6.1 1.5z" color="#a10300"/>
<path d="M253.4,37.4l6.2-1.4 .7-.2-6.2 1.4z" color="#9a0300"/>
<path d="M141.8,97l5.3-1.2 2.3-3.9-5.3 1.2z" color="#f54e00"/>
<path d="M64.1,189.1l4.7-.5 1.2-3.3-4.7 .6z" color="#3d00ce"/>
<path d="M187.6,64.7l5.6-1.3 4.6-4.8-5.7 1.3z" color="#e60500"/>
<path d="M73.5,175.6l4.8-.6 1.2-3.2-4.8 .6z" color="#005ef7"/>
<path d="M224,47l6-1.4 4.3-2.6-5.9 1.5z" color="#b40400"/>
<path d="M169.6,75.7l5.5-1.2 2.3-3.1-5.5 1.3z" color="#f20500"/>
<path d="M131.8,106.4l5.3-1.1 1.5-2.9-5.2 1.1z" color="#f78900"/>
<path d="M252.7,37.6l6.2-1.5 .7-.1-6.2 1.4z" color="#9a0300"/>
<path d="M83,162.6l4.9-.7 1.2-3-4.9 .7z" color="#00f7eb"/>
<path d="M92.7,150.1l4.9-.8 1.6-3.7-5 .8z" color="#00f049"/>
<path d="M121.9,116.4l5.2-1 1.6-3.1-5.2 1z" color="#f7c600"/>
<path d="M102.3,138.3l5-.9 1.6-3.5-5 .9z" color="#4cf100"/>
<path d="M112.1,127l5.1-.9 1.6-3.3-5.1 .9z" color="#d8f600"/>
<path d="M177.4,71.4l5.6-1.2 4.6-5.5-5.6 1.3z" color="#f10500"/>
<path d="M159.5,83.5l5.4-1.2 2.4-3.4-5.5 1.3z" color="#f20500"/>
<path d="M72.3,178.8l4.8-.6 1.2-3.2-4.8 .6z" color="#003af7"/>
<path d="M252,37.8l6.2-1.4 .7-.3-6.2 1.5z" color="#9a0300"/>
<path d="M149.4,91.9l5.4-1.1 2.3-3.8-5.3 1.2z" color="#f42d00"/>
<path d="M213.8,51.8l5.8-1.4 4.4-3.4-5.8 1.5z" color="#c00400"/>
<path d="M140.2,99.7l5.3-1.1 1.6-2.8-5.3 1.2z" color="#f65e00"/>
<path d="M81.9,165.6l4.8-.7 1.2-3-4.9 .7z" color="#00e2f7"/>
<path d="M91.5,153l4.9-.8 1.2-2.9-4.9 .8z" color="#00f26d"/>
<path d="M130.3,109.3l5.2-1.1 1.6-2.9-5.3 1.1z" color="#f79800"/>
<path d="M120.4,119.5l5.1-.9 1.6-3.2-5.2 1z" color="#f7d600"/>
<path d="M100.8,141.9l4.9-.8 1.6-3.7-5 .9z" color="#25ef00"/>
<path d="M251.4,38l6.1-1.4 .7-.2-6.2 1.4z" color="#9b0300"/>
<path d="M110.5,130.4l5.1-.9 1.6-3.4-5.1 .9z" color="#b4f500"/>
<path d="M260.3,35.8l6.2-1.4 .7-.2-6.2 1.4z" color="#f50500"/>
<path d="M71.1,182l4.8-.6 1.2-3.2-4.8 .6z" color="#0016f7"/>
<path d="M240.3,41.6l6.1-1.4 4.3-1.9-6.1 1.4z" color="#a30300"/>
<path d="M267.2,34.2l6.3-1.4 4-.5-6.3 1.4z" color="#f50500"/>
<path d="M80.7,168.7l4.8-.7 1.2-3.1-4.8 .7z" color="#00c0f7"/>
<path d="M167.3,78.9l5.5-1.2 2.3-3.2-5.5 1.2z" color="#f20500"/>
<path d="M203.5,57.2l5.8-1.3 4.5-4.1-5.8 1.4z" color="#ce0400"/>
<path d="M90.3,155.9l4.9-.7 1.2-3-4.9 .8z" color="#00f38d"/>
<path d="M250.7,38.3l6.1-1.5 .7-.2-6.1 1.4z" color="#9b0300"/>
<path d="M259.6,36l6.2-1.5 .7-.1-6.2 1.4z" color="#940300"/>
<path d="M138.6,102.4l5.3-1 1.6-2.8-5.3 1.1z" color="#f76c00"/>
<path d="M70,185.3l4.7-.5 1.2-3.4-4.8 .6z" color="#0b00f0"/>
<path d="M157.1,87l5.5-1.1 2.3-3.6-5.4 1.2z" color="#f30e00"/>
<path d="M128.7,112.3l5.2-1 1.6-3.1-5.2 1.1z" color="#f7a700"/>
<path d="M118.8,122.8l5.1-1 1.6-3.2-5.1 .9z" color="#f7e700"/>
<path d="M99.2,145.6l4.9-.8 1.6-3.7-4.9 .8z" color="#00ee03"/>
<path d="M108.9,133.9l5.1-.9 1.6-3.5-5.1 .9z" color="#8ff300"/>
<path d="M79.5,171.8l4.8-.6 1.2-3.2-4.8 .7z" color="#009ef7"/>
<path d="M193.2,63.4l5.8-1.3 4.5-4.9-5.7 1.4z" color="#df0500"/>
<path d="M147.1,95.8l5.3-1.1 2.4-3.9-5.4 1.1z" color="#f54000"/>
<path d="M230,45.6l6-1.3 4.3-2.7-6 1.4z" color="#ad0400"/>
<path d="M258.9,36.1l6.2-1.4 .7-.2-6.2 1.5z" color="#940300"/>
<path d="M89.1,158.9l4.9-.7 1.2-3-4.9 .7z" color="#00f4ad"/>
<path d="M68.8,188.6l4.7-.5 1.2-3.3-4.7 .5z" color="#2700dd"/>
<path d="M137.1,105.3l5.2-1.1 1.6-2.8-5.3 1z" color="#f77a00"/>
<path d="M183,70.2l5.7-1.3 4.5-5.5-5.6 1.3z" color="#f10500"/>
<path d="M78.3,175l4.8-.6 1.2-3.2-4.8 .6z" color="#007af7"/>
<path d="M258.2,36.4l6.2-1.5 .7-.2-6.2 1.4z" color="#940300"/>
<path d="M127.1,115.4l5.2-1 1.6-3.1-5.2 1z" color="#f7b800"/>
<path d="M164.9,82.3l5.5-1.2 2.4-3.4-5.5 1.2z" color="#f20500"/>
<path d="M87.9,161.9l4.9-.7 1.2-3-4.9 .7z" color="#00f6ce"/>
<path d="M97.6,149.3l5-.7 1.5-3.8-4.9 .8z" color="#00ef2c"/>
<path d="M117.2,126.1l5.1-.9 1.6-3.4-5.1 1z" color="#f4f700"/>
<path d="M107.3,137.4l5.1-.8 1.6-3.6-5.1 .9z" color="#68f200"/>
<path d="M219.6,50.4l6-1.3 4.4-3.5-6 1.4z" color="#b90400"/>
<path d="M172.8,77.7l5.6-1.2 4.6-6.3-5.6 1.2z" color="#f20500"/>
<path d="M266.6,34.3l6.3-1.4 .6-.1-6.3 1.4z" color="#8d0300"/>
<path d="M154.8,90.8l5.4-1.1 2.4-3.8-5.5 1.1z" color="#f42000"/>
<path d="M257.5,36.6l6.3-1.4 .6-.3-6.2 1.5z" color="#940300"/>
<path d="M145.5,98.6l5.4-1.1 1.5-2.8-5.3 1.1z" color="#f65100"/>
<path d="M77.1,178.2l4.8-.6 1.2-3.2-4.8 .6z" color="#0057f7"/>
<path d="M246.4,40.2l6.2-1.4 4.2-2-6.1 1.5z" color="#9c0300"/>
<path d="M86.7,164.9l4.9-.6 1.2-3.1-4.9 .7z" color="#00f7f0"/>
<path d="M135.5,108.2l5.3-1 1.5-3-5.2 1.1z" color="#f78a00"/>
<path d="M96.4,152.2l5-.7 1.2-2.9-5 .7z" color="#00f151"/>
<path d="M266,34.5l6.3-1.4 .6-.2-6.3 1.4z" color="#8d0300"/>
<path d="M125.5,118.6l5.2-1 1.6-3.2-5.2 1z" color="#f7c800"/>
<path d="M209.3,55.9l5.9-1.3 4.4-4.2-5.8 1.4z" color="#c80400"/>
<path d="M256.8,36.8l6.3-1.4 .7-.2-6.3 1.4z" color="#940300"/>
<path d="M115.6,129.5l5.1-.9 1.6-3.4-5.1 .9z" color="#d0f600"/>
<path d="M105.7,141.1l5.1-.8 1.6-3.7-5.1 .8z" color="#41f000"/>
<path d="M75.9,181.4l4.8-.5 1.2-3.3-4.8 .6z" color="#0032f7"/>
<path d="M265.4,34.6l6.3-1.4 .6-.1-6.3 1.4z" color="#8d0300"/>
<path d="M85.5,168l4.9-.6 1.2-3.1-4.9 .6z" color="#00ddf7"/>
<path d="M143.9,101.4l5.4-1.1 1.6-2.8-5.4 1.1z" color="#f65f00"/>
<path d="M95.2,155.2l5-.7 1.2-3-5 .7z" color="#00f271"/>
<path d="M162.6,85.9l5.5-1.2 2.3-3.6-5.5 1.2z" color="#f20500"/>
<path d="M236,44.3l6.1-1.4 4.3-2.7-6.1 1.4z" color="#a60300"/>
<path d="M199,62.1l5.8-1.3 4.5-4.9-5.8 1.3z" color="#d80400"/>
<path d="M133.9,111.3l5.3-1 1.6-3.1-5.3 1z" color="#f79900"/>
<path d="M264.8,34.8l6.4-1.4 .5-.2-6.3 1.4z" color="#8d0300"/>
<path d="M123.9,121.8l5.2-.9 1.6-3.3-5.2 1z" color="#f7d900"/>
<path d="M74.7,184.8l4.8-.6 1.2-3.3-4.8 .5z" color="#000df7"/>
<path d="M152.4,94.7l5.5-1 2.3-4-5.4 1.1z" color="#f43300"/>
<path d="M114,133l5.1-.8 1.6-3.6-5.1 .9z" color="#abf400"/>
<path d="M104.1,144.8l5.1-.8 1.6-3.7-5.1 .8z" color="#19ef00"/>
<path d="M84.3,171.2l4.9-.6 1.2-3.2-4.9 .6z" color="#00baf7"/>
<path d="M94,158.2l5-.7 1.2-3-5 .7z" color="#00f391"/>
<path d="M264.2,35l6.4-1.4 .6-.2-6.4 1.4z" color="#8e0300"/>
<path d="M188.7,68.9l5.7-1.2 4.6-5.6-5.8 1.3z" color="#eb0500"/>
<path d="M142.3,104.2l5.4-1 1.6-2.9-5.4 1.1z" color="#f76d00"/>
<path d="M225.6,49.1l6-1.3 4.4-3.5-6 1.3z" color="#b30400"/>
<path d="M73.5,188.1l4.8-.5 1.2-3.4-4.8 .6z" color="#1200eb"/>
<path d="M170.4,81.1l5.6-1.1 2.4-3.5-5.6 1.2z" color="#f20500"/>
<path d="M132.3,114.4l5.3-1 1.6-3.1-5.3 1z" color="#f7aa00"/>
<path d="M263.7,35.2l6.3-1.4 .6-.2-6.4 1.4z" color="#8e0300"/>
<path d="M83.1,174.4l4.9-.6 1.2-3.2-4.9 .6z" color="#0096f7"/>
<path d="M122.3,125.2l5.2-.9 1.6-3.4-5.2 .9z" color="#f7eb00"/>
<path d="M178.4,76.5l5.6-1.2 4.7-6.4-5.7 1.3z" color="#f10500"/>
<path d="M102.6,148.6l5-.7 1.6-3.9-5.1 .8z" color="#00ee10"/>
<path d="M112.4,136.6l5.1-.8 1.6-3.6-5.1 .8z" color="#85f300"/>
<path d="M252.6,38.8l6.2-1.3 4.3-2.1-6.3 1.4z" color="#960300"/>
<path d="M92.8,161.2l5-.7 1.2-3-5 .7z" color="#00f5b2"/>
<path d="M160.2,89.7l5.5-1.1 2.4-3.9-5.5 1.2z" color="#f31200"/>
<path d="M150.9,97.5l5.4-1.1 1.6-2.7-5.5 1z" color="#f54300"/>
<path d="M263.1,35.4l6.3-1.3 .6-.3-6.3 1.4z" color="#8e0300"/>
<path d="M215.2,54.6l5.9-1.3 4.5-4.2-6 1.3z" color="#c10400"/>
<path d="M140.8,107.2l5.3-1 1.6-3-5.4 1z" color="#f77c00"/>
<path d="M81.9,177.6l4.9-.5 1.2-3.3-4.9 .6z" color="#0073f7"/>
<path d="M91.6,164.3l5-.6 1.2-3.2-5 .7z" color="#00f6d4"/>
<path d="M130.7,117.6l5.3-.9 1.6-3.3-5.3 1z" color="#f7ba00"/>
<path d="M101.4,151.5l5-.7 1.2-2.9-5 .7z" color="#00f035"/>
<path d="M120.7,128.6l5.2-.8 1.6-3.5-5.2 .9z" color="#ecf700"/>
<path d="M110.8,140.3l5.1-.8 1.6-3.7-5.1 .8z" color="#5df100"/>
<path d="M242.1,42.9l6.2-1.3 4.3-2.8-6.2 1.4z" color="#a00300"/>
<path d="M204.8,60.8l5.9-1.2 4.5-5-5.9 1.3z" color="#d20400"/>
<path d="M80.7,180.9l4.9-.5 1.2-3.3-4.9 .5z" color="#004ef7"/>
<path d="M168.1,84.7l5.6-1.1 2.3-3.6-5.6 1.1z" color="#f20500"/>
<path d="M149.3,100.3l5.4-1 1.6-2.9-5.4 1.1z" color="#f65100"/>
<path d="M90.4,167.4l4.9-.6 1.3-3.1-5 .6z" color="#00f7f6"/>
<path d="M100.2,154.5l5-.7 1.2-3-5 .7z" color="#00f155"/>
<path d="M139.2,110.3l5.3-1 1.6-3.1-5.3 1z" color="#f78b00"/>
<path d="M157.9,93.7l5.5-1.1 2.3-4-5.5 1.1z" color="#f42500"/>
<path d="M129.1,120.9l5.3-.9 1.6-3.3-5.3 .9z" color="#f7cb00"/>
<path d="M119.1,132.2l5.2-.9 1.6-3.5-5.2 .8z" color="#c7f500"/>
<path d="M109.2,144l5.1-.7 1.6-3.8-5.1 .8z" color="#35f000"/>
<path d="M194.4,67.7l5.8-1.2 4.6-5.7-5.8 1.3z" color="#e50500"/>
<path d="M79.5,184.2l4.9-.4 1.2-3.4-4.9 .5z" color="#0029f7"/>
<path d="M231.6,47.8l6.1-1.3 4.4-3.6-6.1 1.4z" color="#ac0300"/>
<path d="M89.2,170.6l4.9-.6 1.2-3.2-4.9 .6z" color="#00d6f7"/>
<path d="M99,157.5l5-.7 1.2-3-5 .7z" color="#00f275"/>
<path d="M258.8,37.5l6.4-1.4 4.2-2-6.3 1.3z" color="#8f0300"/>
<path d="M147.7,103.2l5.4-1 1.6-2.9-5.4 1z" color="#f66000"/>
<path d="M176,80l5.7-1.2 2.3-3.5-5.6 1.2z" color="#f20500"/>
<path d="M137.6,113.4l5.3-.9 1.6-3.2-5.3 1z" color="#f79c00"/>
<path d="M184,75.3l5.8-1.1 4.6-6.5-5.7 1.2z" color="#f10500"/>
<path d="M78.3,187.6l4.9-.4 1.2-3.4-4.9 .4z" color="#0004f7"/>
<path d="M127.5,124.3l5.3-.9 1.6-3.4-5.3 .9z" color="#f7dd00"/>
<path d="M165.7,88.6l5.6-1.1 2.4-3.9-5.6 1.1z" color="#f30500"/>
<path d="M88,173.8l4.9-.5 1.2-3.3-4.9 .6z" color="#00b2f7"/>
<path d="M117.5,135.8l5.2-.8 1.6-3.7-5.2 .9z" color="#a0f400"/>
<path d="M107.6,147.9l5.1-.7 1.6-3.9-5.1 .7z" color="#0cee00"/>
<path d="M221.1,53.3l6.1-1.3 4.4-4.2-6 1.3z" color="#bb0400"/>
<path d="M97.8,160.5l5-.6 1.2-3.1-5 .7z" color="#00f497"/>
<path d="M156.3,96.4l5.5-1 1.6-2.8-5.5 1.1z" color="#f53600"/>
<path d="M146.1,106.2l5.4-.9 1.6-3.1-5.4 1z" color="#f76e00"/>
<path d="M248.3,41.6l6.3-1.3 4.2-2.8-6.2 1.3z" color="#990300"/>
<path d="M86.8,177.1l4.9-.5 1.2-3.3-4.9 .5z" color="#008ef7"/>
<path d="M136,116.7l5.3-.9 1.6-3.3-5.3 .9z" color="#f7ad00"/>
<path d="M96.6,163.7l5-.6 1.2-3.2-5 .6z" color="#00f5b8"/>
<path d="M125.9,127.8l5.3-.8 1.6-3.6-5.3 .9z" color="#f7ef00"/>
<path d="M106.4,150.8l5.1-.7 1.2-2.9-5.1 .7z" color="#00ef19"/>
<path d="M210.7,59.6l5.9-1.3 4.5-5-5.9 1.3z" color="#cb0400"/>
<path d="M115.9,139.5l5.2-.8 1.6-3.7-5.2 .8z" color="#79f200"/>
<path d="M173.7,83.6l5.6-1.1 2.4-3.7-5.7 1.2z" color="#f20500"/>
<path d="M154.7,99.3l5.5-1 1.6-2.9-5.5 1z" color="#f54400"/>
<path d="M85.6,180.4l4.9-.5 1.2-3.3-4.9 .5z" color="#006af7"/>
<path d="M144.5,109.3l5.4-.9 1.6-3.1-5.4 .9z" color="#f77e00"/>
<path d="M163.4,92.6l5.6-1 2.3-4.1-5.6 1.1z" color="#f31800"/>
<path d="M95.3,166.8l5.1-.6 1.2-3.1-5 .6z" color="#00f6db"/>
<path d="M237.7,46.5l6.2-1.3 4.4-3.6-6.2 1.3z" color="#a60300"/>
<path d="M105.2,153.8l5.1-.7 1.2-3-5.1 .7z" color="#00f039"/>
<path d="M200.2,66.5l5.9-1.1 4.6-5.8-5.9 1.2z" color="#de0400"/>
<path d="M134.4,120l5.3-.8 1.6-3.4-5.3 .9z" color="#f7be00"/>
<path d="M124.3,131.3l5.3-.7 1.6-3.6-5.3 .8z" color="#e2f700"/>
<path d="M114.3,143.3l5.2-.7 1.6-3.9-5.2 .8z" color="#50f100"/>
<path d="M84.4,183.8l4.9-.5 1.2-3.4-4.9 .5z" color="#0044f7"/>
<path d="M181.7,78.8l5.7-1.1 2.4-3.5-5.8 1.1z" color="#f20500"/>
<path d="M153.1,102.2l5.5-.9 1.6-3-5.5 1z" color="#f65300"/>
<path d="M94.1,170l5.1-.5 1.2-3.3-5.1 .6z" color="#00f1f7"/>
<path d="M189.8,74.2l5.8-1.1 4.6-6.6-5.8 1.2z" color="#f10500"/>
<path d="M104,156.8l5.1-.6 1.2-3.1-5.1 .7z" color="#00f15a"/>
<path d="M142.9,112.5l5.4-.9 1.6-3.2-5.4 .9z" color="#f78e00"/>
<path d="M227.2,52l6.1-1.2 4.4-4.3-6.1 1.3z" color="#b40400"/>
<path d="M171.3,87.5l5.7-1.1 2.3-3.9-5.6 1.1z" color="#f20500"/>
<path d="M132.8,123.4l5.3-.8 1.6-3.4-5.3 .8z" color="#f7d000"/>
<path d="M83.2,187.2l4.9-.4 1.2-3.5-4.9 .5z" color="#001ff7"/>
<path d="M161.8,95.4l5.6-1 1.6-2.8-5.6 1z" color="#f42900"/>
<path d="M254.6,40.3l6.3-1.3 4.3-2.9-6.4 1.4z" color="#930300"/>
<path d="M122.7,135l5.3-.8 1.6-3.6-5.3 .7z" color="#bbf500"/>
<path d="M112.7,147.2l5.2-.7 1.6-3.9-5.2 .7z" color="#27ef00"/>
<path d="M92.9,173.3l5.1-.5 1.2-3.3-5.1 .5z" color="#00cdf7"/>
<path d="M102.8,159.9l5.1-.6 1.2-3.1-5.1 .6z" color="#00f27b"/>
<path d="M151.5,105.3l5.5-1 1.6-3-5.5 .9z" color="#f66100"/>
<path d="M216.6,58.3l6.1-1.2 4.5-5.1-6.1 1.3z" color="#c50400"/>
<path d="M141.3,115.8l5.4-.9 1.6-3.3-5.4 .9z" color="#f79f00"/>
<path d="M91.7,176.6l5.1-.5 1.2-3.3-5.1 .5z" color="#00a9f7"/>
<path d="M179.3,82.5l5.8-1 2.3-3.8-5.7 1.1z" color="#f20500"/>
<path d="M131.2,127l5.3-.8 1.6-3.6-5.3 .8z" color="#f7e200"/>
<path d="M101.6,163.1l5.1-.6 1.2-3.2-5.1 .6z" color="#00f49d"/>
<path d="M111.5,150.1l5.2-.6 1.2-3-5.2 .7z" color="#02ee00"/>
<path d="M121.1,138.7l5.3-.7 1.6-3.8-5.3 .8z" color="#94f300"/>
<path d="M160.2,98.3l5.6-1 1.6-2.9-5.6 1z" color="#f53700"/>
<path d="M243.9,45.2l6.3-1.3 4.4-3.6-6.3 1.3z" color="#a00300"/>
<path d="M206.1,65.4l5.9-1.2 4.6-5.9-5.9 1.3z" color="#d80400"/>
<path d="M169,91.6l5.6-1 2.4-4.2-5.7 1.1z" color="#f30b00"/>
<path d="M149.9,108.4l5.5-.9 1.6-3.2-5.5 1z" color="#f77100"/>
<path d="M90.5,179.9l5-.4 1.3-3.4-5.1 .5z" color="#0085f7"/>
<path d="M100.4,166.2l5.1-.5 1.2-3.2-5.1 .6z" color="#00f5c0"/>
<path d="M139.7,119.2l5.4-.9 1.6-3.4-5.4 .9z" color="#f7b000"/>
<path d="M110.3,153.1l5.2-.6 1.2-3-5.2 .6z" color="#00ef1e"/>
<path d="M129.6,130.6l5.3-.8 1.6-3.6-5.3 .8z" color="#f7f500"/>
<path d="M119.5,142.6l5.2-.7 1.7-3.9-5.3 .7z" color="#6bf200"/>
<path d="M195.6,73.1l5.8-1.1 4.7-6.6-5.9 1.1z" color="#ec0500"/>
<path d="M158.6,101.3l5.6-1 1.6-3-5.6 1z" color="#f54600"/>
<path d="M233.3,50.8l6.2-1.2 4.4-4.4-6.2 1.3z" color="#ae0400"/>
<path d="M89.3,183.3l5-.4 1.2-3.4-5 .4z" color="#005ff7"/>
<path d="M99.2,169.5l5-.5 1.3-3.3-5.1 .5z" color="#00f7e3"/>
<path d="M148.3,111.6l5.5-.9 1.6-3.2-5.5 .9z" color="#f78100"/>
<path d="M109.1,156.2l5.2-.6 1.2-3.1-5.2 .6z" color="#00f03f"/>
<path d="M177,86.4l5.7-1 2.4-3.9-5.8 1z" color="#f20500"/>
<path d="M185.1,81.5l5.8-1.1 4.7-7.3-5.8 1.1z" color="#f10500"/>
<path d="M167.4,94.4l5.6-1 1.6-2.8-5.6 1z" color="#f31c00"/>
<path d="M138.1,122.6l5.4-.8 1.6-3.5-5.4 .9z" color="#f7c200"/>
<path d="M128,134.2l5.3-.7 1.6-3.7-5.3 .8z" color="#d6f600"/>
<path d="M222.7,57.1l6.1-1.1 4.5-5.2-6.1 1.2z" color="#bf0400"/>
<path d="M88.1,186.8l5-.4 1.2-3.5-5 .4z" color="#0039f7"/>
<path d="M117.9,146.5l5.2-.7 1.6-3.9-5.2 .7z" color="#42f000"/>
<path d="M157,104.3l5.6-.9 1.6-3.1-5.6 1z" color="#f65500"/>
<path d="M98,172.8l5-.5 1.2-3.3-5 .5z" color="#00e8f7"/>
<path d="M107.9,159.3l5.1-.5 1.3-3.2-5.2 .6z" color="#00f161"/>
<path d="M250.2,43.9l6.4-1.2 4.3-3.7-6.3 1.3z" color="#990300"/>
<path d="M146.7,114.9l5.5-.8 1.6-3.4-5.5 .9z" color="#f79200"/>
<path d="M136.5,126.2l5.4-.8 1.6-3.6-5.4 .8z" color="#f7d500"/>
<path d="M165.8,97.3l5.6-.9 1.6-3-5.6 1z" color="#f42a00"/>
<path d="M212,64.2l6.1-1.1 4.6-6-6.1 1.2z" color="#d10400"/>
<path d="M96.8,176.1l5-.4 1.2-3.4-5 .5z" color="#00c4f7"/>
<path d="M116.7,149.5l5.2-.6 1.2-3.1-5.2 .7z" color="#1def00"/>
<path d="M126.4,138l5.3-.7 1.6-3.8-5.3 .7z" color="#aef400"/>
<path d="M106.7,162.5l5.1-.5 1.2-3.2-5.1 .5z" color="#00f383"/>
<path d="M174.6,90.6l5.7-1 2.4-4.2-5.7 1z" color="#f20500"/>
<path d="M155.4,107.5l5.6-.9 1.6-3.2-5.6 .9z" color="#f66400"/>
<path d="M239.5,49.6l6.3-1.2 4.4-4.5-6.3 1.3z" color="#a80300"/>
<path d="M145.1,118.3l5.5-.8 1.6-3.4-5.5 .8z" color="#f7a300"/>
<path d="M95.5,179.5l5.1-.4 1.2-3.4-5 .4z" color="#009ff7"/>
<path d="M201.4,72l6-1.1 4.6-6.7-5.9 1.2z" color="#e60500"/>
<path d="M115.5,152.5l5.2-.6 1.2-3-5.2 .6z" color="#00ee04"/>
<path d="M105.5,165.7l5.1-.5 1.2-3.2-5.1 .5z" color="#00f4a5"/>
<path d="M134.9,129.8l5.4-.7 1.6-3.7-5.4 .8z" color="#f7e800"/>
<path d="M164.2,100.3l5.6-.9 1.6-3-5.6 .9z" color="#f53900"/>
<path d="M124.7,141.9l5.4-.7 1.6-3.9-5.3 .7z" color="#86f300"/>
<path d="M182.7,85.4l5.8-1 2.4-4-5.8 1.1z" color="#f20500"/>
<path d="M153.8,110.7l5.6-.8 1.6-3.3-5.6 .9z" color="#f77400"/>
<path d="M94.3,182.9l5.1-.4 1.2-3.4-5.1 .4z" color="#007af7"/>
<path d="M190.9,80.4l5.8-1 4.7-7.4-5.8 1.1z" color="#f10500"/>
<path d="M114.3,155.6l5.2-.5 1.2-3.2-5.2 .6z" color="#00ef25"/>
<path d="M104.2,169l5.2-.5 1.2-3.3-5.1 .5z" color="#00f6c9"/>
<path d="M173,93.4l5.7-.9 1.6-2.9-5.7 1z" color="#f31000"/>
<path d="M228.8,56l6.2-1.2 4.5-5.2-6.2 1.2z" color="#b80400"/>
<path d="M143.5,121.8l5.5-.8 1.6-3.5-5.5 .8z" color="#f7b500"/>
<path d="M133.3,133.5l5.4-.7 1.6-3.7-5.4 .7z" color="#f0f700"/>
<path d="M162.6,103.4l5.6-.9 1.6-3.1-5.6 .9z" color="#f54800"/>
<path d="M123.1,145.8l5.3-.6 1.7-4-5.4 .7z" color="#5cf100"/>
<path d="M93.1,186.4l5.1-.4 1.2-3.5-5.1 .4z" color="#0054f7"/>
<path d="M103,172.3l5.2-.4 1.2-3.4-5.2 .5z" color="#00f7ec"/>
<path d="M113,158.8l5.3-.6 1.2-3.1-5.2 .5z" color="#00f047"/>
<path d="M152.2,114.1l5.6-.8 1.6-3.4-5.6 .8z" color="#f78500"/>
<path d="M218.1,63.1l6.1-1.1 4.6-6-6.1 1.1z" color="#cb0400"/>
<path d="M171.4,96.4l5.8-1 1.5-2.9-5.7 .9z" color="#f41e00"/>
<path d="M141.9,125.4l5.5-.7 1.6-3.7-5.5 .8z" color="#f7c800"/>
<path d="M180.3,89.6l5.8-1 2.4-4.2-5.8 1z" color="#f20500"/>
<path d="M131.7,137.3l5.4-.6 1.6-3.9-5.4 .7z" color="#c8f600"/>
<path d="M121.9,148.9l5.3-.6 1.2-3.1-5.3 .6z" color="#37f000"/>
<path d="M101.8,175.7l5.2-.4 1.2-3.4-5.2 .4z" color="#00def7"/>
<path d="M111.8,162l5.3-.5 1.2-3.3-5.3 .6z" color="#00f269"/>
<path d="M245.8,48.4l6.3-1.2 4.5-4.5-6.4 1.2z" color="#a20300"/>
<path d="M161,106.6l5.6-.8 1.6-3.3-5.6 .9z" color="#f65800"/>
<path d="M207.4,70.9l6-1 4.7-6.8-6.1 1.1z" color="#e00500"/>
<path d="M150.6,117.5l5.6-.8 1.6-3.4-5.6 .8z" color="#f79600"/>
<path d="M169.8,99.4l5.8-.9 1.6-3.1-5.8 1z" color="#f42d00"/>
<path d="M120.7,151.9l5.3-.5 1.2-3.1-5.3 .6z" color="#16ef00"/>
<path d="M100.6,179.1l5.2-.4 1.2-3.4-5.2 .4z" color="#00b9f7"/>
<path d="M140.3,129.1l5.5-.7 1.6-3.7-5.5 .7z" color="#f7db00"/>
<path d="M110.6,165.2l5.2-.5 1.3-3.2-5.3 .5z" color="#00f38b"/>
<path d="M188.5,84.4l5.9-.9 2.3-4.1-5.8 1z" color="#f20500"/>
<path d="M130.1,141.2l5.3-.6 1.7-3.9-5.4 .6z" color="#9ff400"/>
<path d="M235,54.8l6.3-1.1 4.5-5.3-6.3 1.2z" color="#b20400"/>
<path d="M196.7,79.4l6-1 4.7-7.5-6 1.1z" color="#f10500"/>
<path d="M159.4,109.9l5.6-.8 1.6-3.3-5.6 .8z" color="#f76800"/>
<path d="M178.7,92.5l5.8-1 1.6-2.9-5.8 1z" color="#f20500"/>
<path d="M119.5,155.1l5.3-.6 1.2-3.1-5.3 .5z" color="#00ee0b"/>
<path d="M99.4,182.5l5.1-.3 1.3-3.5-5.2 .4z" color="#0094f7"/>
<path d="M149,121l5.6-.7 1.6-3.6-5.6 .8z" color="#f7a800"/>
<path d="M109.4,168.5l5.2-.4 1.2-3.4-5.2 .5z" color="#00f5af"/>
<path d="M168.2,102.5l5.8-.8 1.6-3.2-5.8 .9z" color="#f53c00"/>
<path d="M138.7,132.8l5.5-.6 1.6-3.8-5.5 .7z" color="#f7ee00"/>
<path d="M128.4,145.2l5.4-.5 1.6-4.1-5.3 .6z" color="#76f200"/>
<path d="M224.2,62l6.2-1.1 4.6-6.1-6.2 1.2z" color="#c50400"/>
<path d="M157.8,113.3l5.6-.8 1.6-3.4-5.6 .8z" color="#f77800"/>
<path d="M98.2,186l5.1-.3 1.2-3.5-5.1 .3z" color="#006ef7"/>
<path d="M118.3,158.2l5.3-.4 1.2-3.3-5.3 .6z" color="#00ef2d"/>
<path d="M108.2,171.9l5.2-.5 1.2-3.3-5.2 .4z" color="#00f6d3"/>
<path d="M177.2,95.4l5.7-.8 1.6-3.1-5.8 1z" color="#f31200"/>
<path d="M147.4,124.7l5.5-.7 1.7-3.7-5.6 .7z" color="#f7bb00"/>
<path d="M186.1,88.6l5.9-.9 2.4-4.2-5.9 .9z" color="#f20500"/>
<path d="M137.1,136.7l5.4-.6 1.7-3.9-5.5 .6z" color="#e2f700"/>
<path d="M166.6,105.8l5.7-.9 1.7-3.2-5.8 .8z" color="#f54b00"/>
<path d="M127.2,148.3l5.4-.6 1.2-3-5.4 .5z" color="#50f100"/>
<path d="M213.4,69.9l6.2-1.1 4.6-6.8-6.1 1.1z" color="#da0400"/>
<path d="M117.1,161.5l5.2-.5 1.3-3.2-5.3 .4z" color="#00f14f"/>
<path d="M107,175.3l5.2-.4 1.2-3.5-5.2 .5z" color="#00f7f7"/>
<path d="M156.2,116.7l5.6-.7 1.6-3.5-5.6 .8z" color="#f78a00"/>
<path d="M175.6,98.5l5.7-.8 1.6-3.1-5.7 .8z" color="#f42100"/>
<path d="M241.3,53.7l6.3-1.1 4.5-5.4-6.3 1.2z" color="#ac0400"/>
<path d="M194.4,83.5l5.9-1 2.4-4.1-6 1z" color="#f20500"/>
<path d="M145.8,128.4l5.5-.7 1.6-3.7-5.5 .7z" color="#f7ce00"/>
<path d="M126,151.4l5.4-.5 1.2-3.2-5.4 .6z" color="#30f000"/>
<path d="M202.7,78.4l6-.9 4.7-7.6-6 1z" color="#f10500"/>
<path d="M115.8,164.7l5.3-.4 1.2-3.3-5.2 .5z" color="#00f272"/>
<path d="M105.8,178.7l5.2-.4 1.2-3.4-5.2 .4z" color="#00d3f7"/>
<path d="M135.4,140.6l5.5-.6 1.6-3.9-5.4 .6z" color="#b9f500"/>
<path d="M165,109.1l5.7-.8 1.6-3.4-5.7 .9z" color="#f65c00"/>
<path d="M184.5,91.5l5.9-.8 1.6-3-5.9 .9z" color="#f20500"/>
<path d="M154.6,120.3l5.6-.7 1.6-3.6-5.6 .7z" color="#f79c00"/>
<path d="M124.8,154.5l5.4-.4 1.2-3.2-5.4 .5z" color="#0eee00"/>
<path d="M174,101.7l5.7-.8 1.6-3.2-5.7 .8z" color="#f43000"/>
<path d="M114.6,168.1l5.3-.4 1.2-3.4-5.3 .4z" color="#00f495"/>
<path d="M230.4,60.9l6.3-1 4.6-6.2-6.3 1.1z" color="#bf0400"/>
<path d="M104.5,182.2l5.2-.3 1.3-3.6-5.2 .4z" color="#00adf7"/>
<path d="M144.2,132.2l5.5-.7 1.6-3.8-5.5 .7z" color="#f7e200"/>
<path d="M133.8,144.7l5.5-.6 1.6-4.1-5.5 .6z" color="#8ff300"/>
<path d="M163.4,112.5l5.7-.8 1.6-3.4-5.7 .8z" color="#f76c00"/>
<path d="M182.9,94.6l5.9-.9 1.6-3-5.9 .8z" color="#f30600"/>
<path d="M123.6,157.8l5.3-.5 1.3-3.2-5.4 .4z" color="#00ee14"/>
<path d="M192,87.7l6-.9 2.3-4.3-5.9 1z" color="#f20500"/>
<path d="M103.3,185.7l5.2-.3 1.2-3.5-5.2 .3z" color="#0087f7"/>
<path d="M113.4,171.4l5.3-.3 1.2-3.4-5.3 .4z" color="#00f5b9"/>
<path d="M152.9,124l5.7-.7 1.6-3.7-5.6 .7z" color="#f7ae00"/>
<path d="M219.6,68.8l6.2-1 4.6-6.9-6.2 1.1z" color="#d40400"/>
<path d="M172.3,104.9l5.8-.7 1.6-3.3-5.7 .8z" color="#f53f00"/>
<path d="M142.5,136.1l5.6-.6 1.6-4-5.5 .7z" color="#f7f600"/>
<path d="M132.6,147.7l5.4-.5 1.3-3.1-5.5 .6z" color="#69f200"/>
<path d="M122.3,161l5.4-.4 1.2-3.3-5.3 .5z" color="#00f036"/>
<path d="M112.2,174.9l5.3-.4 1.2-3.4-5.3 .3z" color="#00f6de"/>
<path d="M161.8,116l5.7-.7 1.6-3.6-5.7 .8z" color="#f77d00"/>
<path d="M181.3,97.7l5.9-.9 1.6-3.1-5.9 .9z" color="#f31500"/>
<path d="M208.7,77.5l6.2-1 4.7-7.7-6.2 1.1z" color="#eb0500"/>
<path d="M151.3,127.7l5.6-.6 1.7-3.8-5.7 .7z" color="#f7c200"/>
<path d="M131.4,150.9l5.4-.5 1.2-3.2-5.4 .5z" color="#49f000"/>
<path d="M190.4,90.7l6-.9 1.6-3-6 .9z" color="#f20500"/>
<path d="M170.7,108.3l5.8-.8 1.6-3.3-5.8 .7z" color="#f65000"/>
<path d="M121.1,164.3l5.4-.4 1.2-3.3-5.4 .4z" color="#00f159"/>
<path d="M140.9,140l5.5-.5 1.7-4-5.6 .6z" color="#d2f600"/>
<path d="M111,178.3l5.2-.3 1.3-3.5-5.3 .4z" color="#00ecf7"/>
<path d="M236.7,59.9l6.4-1 4.5-6.3-6.3 1.1z" color="#b90400"/>
<path d="M198,86.8l6-.9 4.7-8.4-6 .9z" color="#f10500"/>
<path d="M160.2,119.6l5.7-.7 1.6-3.6-5.7 .7z" color="#f79000"/>
<path d="M179.7,100.9l5.9-.8 1.6-3.3-5.9 .9z" color="#f42400"/>
<path d="M130.2,154.1l5.4-.5 1.2-3.2-5.4 .5z" color="#27ef00"/>
<path d="M119.9,167.7l5.4-.4 1.2-3.4-5.4 .4z" color="#00f37d"/>
<path d="M149.7,131.5l5.6-.6 1.6-3.8-5.6 .6z" color="#f7d500"/>
<path d="M109.7,181.9l5.3-.3 1.2-3.6-5.2 .3z" color="#00c6f7"/>
<path d="M188.8,93.7l6-.8 1.6-3.1-6 .9z" color="#f20500"/>
<path d="M169.1,111.7l5.8-.7 1.6-3.5-5.8 .8z" color="#f66000"/>
<path d="M139.3,144.1l5.5-.5 1.6-4.1-5.5 .5z" color="#a8f400"/>
<path d="M225.8,67.8l6.2-.9 4.7-7-6.3 1z" color="#ce0400"/>
<path d="M217.2,72.6l6.2-1 2.4-3.8-6.2 1z" color="#e10500"/>
<path d="M128.9,157.3l5.5-.4 1.2-3.3-5.4 .5z" color="#05ee00"/>
<path d="M158.6,123.3l5.7-.7 1.6-3.7-5.7 .7z" color="#f7a200"/>
<path d="M118.7,171.1l5.3-.4 1.3-3.4-5.4 .4z" color="#00f4a1"/>
<path d="M108.5,185.4l5.3-.2 1.2-3.6-5.3 .3z" color="#00a0f7"/>
<path d="M178.1,104.2l5.9-.8 1.6-3.3-5.9 .8z" color="#f43400"/>
<path d="M148.1,135.5l5.6-.6 1.6-4-5.6 .6z" color="#f7e900"/>
<path d="M138,147.2l5.6-.5 1.2-3.1-5.5 .5z" color="#82f300"/>
<path d="M187.2,96.8l6-.8 1.6-3.1-6 .8z" color="#f30900"/>
<path d="M167.5,115.3l5.8-.7 1.6-3.6-5.8 .7z" color="#f77200"/>
<path d="M127.7,160.6l5.4-.4 1.3-3.3-5.5 .4z" color="#00ef1d"/>
<path d="M117.5,174.5l5.3-.3 1.2-3.5-5.3 .4z" color="#00f5c5"/>
<path d="M156.9,127.1l5.7-.7 1.7-3.8-5.7 .7z" color="#f7b500"/>
<path d="M196.4,89.8l6-.8 1.6-3.1-6 .9z" color="#f20500"/>
<path d="M176.5,107.5l5.9-.7 1.6-3.4-5.9 .8z" color="#f54400"/>
<path d="M136.8,150.4l5.5-.5 1.3-3.2-5.6 .5z" color="#61f100"/>
<path d="M146.4,139.5l5.6-.6 1.7-4-5.6 .6z" color="#eaf700"/>
<path d="M204,85.9l6.1-.8 4.8-8.6-6.2 1z" color="#f10500"/>
<path d="M126.5,163.9l5.4-.4 1.2-3.3-5.4 .4z" color="#00f040"/>
<path d="M214.9,76.5l6.2-.9 2.3-4-6.2 1z" color="#ea0500"/>
<path d="M116.2,178l5.4-.2 1.2-3.6-5.3 .3z" color="#00f7eb"/>
<path d="M165.9,118.9l5.8-.6 1.6-3.7-5.8 .7z" color="#f78300"/>
<path d="M185.6,100.1l6-.8 1.6-3.3-6 .8z" color="#f31800"/>
<path d="M135.6,153.6l5.5-.4 1.2-3.3-5.5 .5z" color="#40f000"/>
<path d="M155.3,130.9l5.7-.5 1.6-4-5.7 .7z" color="#f7c900"/>
<path d="M194.8,92.9l6-.8 1.6-3.1-6 .8z" color="#f20500"/>
<path d="M125.3,167.3l5.4-.3 1.2-3.5-5.4 .4z" color="#00f264"/>
<path d="M232,66.9l6.4-.9 4.7-7.1-6.4 1z" color="#c80400"/>
<path d="M174.9,111l5.9-.7 1.6-3.5-5.9 .7z" color="#f65500"/>
<path d="M115,181.6l5.3-.3 1.3-3.5-5.4 .2z" color="#00def7"/>
<path d="M223.4,71.6l6.3-.9 2.3-3.8-6.2 .9z" color="#db0400"/>
<path d="M144.8,143.6l5.6-.5 1.6-4.2-5.6 .6z" color="#c0f500"/>
<path d="M164.3,122.6l5.7-.6 1.7-3.7-5.8 .6z" color="#f79600"/>
<path d="M184,103.4l5.9-.7 1.7-3.4-6 .8z" color="#f42800"/>
<path d="M134.4,156.9l5.5-.4 1.2-3.3-5.5 .4z" color="#1def00"/>
<path d="M124,170.7l5.4-.3 1.3-3.4-5.4 .3z" color="#00f388"/>
<path d="M113.8,185.2l5.3-.2 1.2-3.7-5.3 .3z" color="#00b8f7"/>
<path d="M153.7,134.9l5.6-.5 1.7-4-5.7 .5z" color="#f7dd00"/>
<path d="M193.2,96l6-.7 1.6-3.2-6 .8z" color="#f20500"/>
<path d="M143.6,146.7l5.6-.4 1.2-3.2-5.6 .5z" color="#9af400"/>
<path d="M173.3,114.6l5.8-.7 1.7-3.6-5.9 .7z" color="#f66600"/>
<path d="M133.1,160.2l5.5-.4 1.3-3.3-5.5 .4z" color="#00ee05"/>
<path d="M202.4,89l6.1-.9 1.6-3-6.1 .8z" color="#f20500"/>
<path d="M122.8,174.2l5.4-.3 1.2-3.5-5.4 .3z" color="#00f4ad"/>
<path d="M162.6,126.4l5.8-.5 1.6-3.9-5.7 .6z" color="#f7a900"/>
<path d="M182.4,106.8l5.9-.7 1.6-3.4-5.9 .7z" color="#f53800"/>
<path d="M221.1,75.6l6.2-.8 2.4-4.1-6.3 .9z" color="#e40500"/>
<path d="M210.1,85.1l6.2-.8 4.8-8.7-6.2 .9z" color="#f10500"/>
<path d="M142.3,149.9l5.6-.4 1.3-3.2-5.6 .4z" color="#79f200"/>
<path d="M152,138.9l5.7-.4 1.6-4.1-5.6 .5z" color="#f7f200"/>
<path d="M131.9,163.5l5.5-.3 1.2-3.4-5.5 .4z" color="#00ef28"/>
<path d="M191.6,99.3l6-.7 1.6-3.3-6 .7z" color="#f30d00"/>
<path d="M171.7,118.3l5.8-.7 1.6-3.7-5.8 .7z" color="#f77800"/>
<path d="M121.6,177.8l5.4-.3 1.2-3.6-5.4 .3z" color="#00f6d2"/>
<path d="M200.8,92.1l6.1-.8 1.6-3.2-6.1 .9z" color="#f20500"/>
<path d="M229.7,70.7l6.4-.9 2.3-3.8-6.4 .9z" color="#d50400"/>
<path d="M161,130.4l5.7-.6 1.7-3.9-5.8 .5z" color="#f7bd00"/>
<path d="M141.1,153.2l5.6-.4 1.2-3.3-5.6 .4z" color="#58f100"/>
<path d="M180.8,110.3l5.9-.6 1.6-3.6-5.9 .7z" color="#f54900"/>
<path d="M130.7,167l5.5-.3 1.2-3.5-5.5 .3z" color="#00f14c"/>
<path d="M120.3,181.3l5.4-.2 1.3-3.6-5.4 .3z" color="#00f6f7"/>
<path d="M150.4,143.1l5.7-.5 1.6-4.1-5.7 .4z" color="#d8f600"/>
<path d="M189.9,102.7l6.1-.7 1.6-3.4-6 .7z" color="#f31d00"/>
<path d="M170,122l5.9-.6 1.6-3.8-5.8 .7z" color="#f78a00"/>
<path d="M139.9,156.5l5.6-.4 1.2-3.3-5.6 .4z" color="#35f000"/>
<path d="M199.2,95.3l6.1-.8 1.6-3.2-6.1 .8z" color="#f20500"/>
<path d="M129.4,170.4l5.5-.2 1.3-3.5-5.5 .3z" color="#00f270"/>
<path d="M159.3,134.4l5.8-.5 1.6-4.1-5.7 .6z" color="#f7d100"/>
<path d="M119.1,185l5.4-.2 1.2-3.7-5.4 .2z" color="#00d0f7"/>
<path d="M179.1,113.9l6-.6 1.6-3.6-5.9 .6z" color="#f65b00"/>
<path d="M149.2,146.3l5.6-.5 1.3-3.2-5.7 .5z" color="#b2f500"/>
<path d="M138.6,159.8l5.6-.3 1.3-3.4-5.6 .4z" color="#13ee00"/>
<path d="M227.3,74.8l6.4-.9 2.4-4.1-6.4 .9z" color="#de0400"/>
<path d="M207.7,89.7l6.2-.8 2.4-4.6-6.2 .8z" color="#f20500"/>
<path d="M216.3,84.3l6.3-.8 4.7-8.7-6.2 .8z" color="#f10500"/>
<path d="M188.3,106.1l6-.6 1.7-3.5-6.1 .7z" color="#f42d00"/>
<path d="M168.4,125.9l5.8-.6 1.7-3.9-5.9 .6z" color="#f79e00"/>
<path d="M128.2,173.9l5.5-.2 1.2-3.5-5.5 .2z" color="#00f495"/>
<path d="M147.9,149.5l5.7-.4 1.2-3.3-5.6 .5z" color="#91f300"/>
<path d="M197.6,98.6l6.1-.7 1.6-3.4-6.1 .8z" color="#f20500"/>
<path d="M157.7,138.5l5.8-.5 1.6-4.1-5.8 .5z" color="#f7e600"/>
<path d="M177.5,117.6l5.9-.5 1.7-3.8-6 .6z" color="#f76c00"/>
<path d="M137.4,163.2l5.6-.3 1.2-3.4-5.6 .3z" color="#00ee11"/>
<path d="M127,177.5l5.5-.2 1.2-3.6-5.5 .2z" color="#00f5bb"/>
<path d="M186.7,109.7l6-.7 1.6-3.5-6 .6z" color="#f53e00"/>
<path d="M166.7,129.8l5.9-.5 1.6-4-5.8 .6z" color="#f7b200"/>
<path d="M146.7,152.8l5.7-.4 1.2-3.3-5.7 .4z" color="#6ff200"/>
<path d="M136.2,166.7l5.5-.3 1.3-3.5-5.6 .3z" color="#00f035"/>
<path d="M156.1,142.6l5.7-.4 1.7-4.2-5.8 .5z" color="#eff700"/>
<path d="M196,102l6.1-.7 1.6-3.4-6.1 .7z" color="#f31200"/>
<path d="M125.7,181.1l5.5-.1 1.3-3.7-5.5 .2z" color="#00f6e1"/>
<path d="M205.3,94.5l6.2-.7 2.4-4.9-6.2 .8z" color="#f20500"/>
<path d="M175.9,121.4l5.9-.5 1.6-3.8-5.9 .5z" color="#f77f00"/>
<path d="M145.5,156.1l5.6-.3 1.3-3.4-5.7 .4z" color="#4df100"/>
<path d="M165.1,133.9l5.8-.5 1.7-4.1-5.9 .5z" color="#f7c600"/>
<path d="M185.1,113.3l6-.6 1.6-3.7-6 .7z" color="#f65000"/>
<path d="M134.9,170.2l5.6-.3 1.2-3.5-5.5 .3z" color="#00f159"/>
<path d="M124.5,184.8l5.5-.1 1.2-3.7-5.5 .1z" color="#00e7f7"/>
<path d="M154.8,145.8l5.8-.3 1.2-3.3-5.7 .4z" color="#c9f600"/>
<path d="M222.6,83.5l6.3-.7 4.8-8.9-6.4 .9z" color="#ed0500"/>
<path d="M213.9,88.9l6.3-.7 2.4-4.7-6.3 .8z" color="#f10500"/>
<path d="M194.3,105.5l6.1-.7 1.7-3.5-6.1 .7z" color="#f42200"/>
<path d="M174.2,125.3l5.9-.5 1.7-3.9-5.9 .5z" color="#f79200"/>
<path d="M144.2,159.5l5.7-.3 1.2-3.4-5.6 .3z" color="#2aef00"/>
<path d="M133.7,173.7l5.6-.2 1.2-3.6-5.6 .3z" color="#00f37e"/>
<path d="M203.7,97.9l6.2-.7 1.6-3.4-6.2 .7z" color="#f20500"/>
<path d="M163.5,138l5.8-.4 1.6-4.2-5.8 .5z" color="#f7db00"/>
<path d="M153.6,149.1l5.7-.4 1.3-3.2-5.8 .3z" color="#a8f400"/>
<path d="M183.4,117.1l6-.6 1.7-3.8-6 .6z" color="#f66100"/>
<path d="M143,162.9l5.6-.3 1.3-3.4-5.7 .3z" color="#06ee00"/>
<path d="M192.7,109l6.1-.6 1.6-3.6-6.1 .7z" color="#f43300"/>
<path d="M132.5,177.3l5.5-.2 1.3-3.6-5.6 .2z" color="#00f4a4"/>
<path d="M172.6,129.3l5.9-.5 1.6-4-5.9 .5z" color="#f7a600"/>
<path d="M152.4,152.4l5.7-.3 1.2-3.4-5.7 .4z" color="#86f300"/>
<path d="M202.1,101.3l6.1-.6 1.7-3.5-6.2 .7z" color="#f30700"/>
<path d="M211.5,93.8l6.3-.7 2.4-4.9-6.3 .7z" color="#f20500"/>
<path d="M161.8,142.2l5.8-.4 1.7-4.2-5.8 .4z" color="#f7f000"/>
<path d="M141.7,166.4l5.7-.2 1.2-3.6-5.6 .3z" color="#00ef1e"/>
<path d="M181.8,120.9l6-.5 1.6-3.9-6 .6z" color="#f77400"/>
<path d="M131.2,181l5.6-.2 1.2-3.7-5.5 .2z" color="#00f6ca"/>
<path d="M171.4,132.4l5.9-.5 1.2-3.1-5.9 .5z" color="#f7b800"/>
<path d="M151.1,155.8l5.7-.3 1.3-3.4-5.7 .3z" color="#64f200"/>
<path d="M191.1,112.7l6.1-.5 1.6-3.8-6.1 .6z" color="#f54500"/>
<path d="M140.5,169.9l5.6-.2 1.3-3.5-5.7 .2z" color="#00f042"/>
<path d="M160.6,145.5l5.8-.4 1.2-3.3-5.8 .4z" color="#e0f600"/>
<path d="M200.4,104.8l6.2-.6 1.6-3.5-6.1 .6z" color="#f31700"/>
<path d="M130,184.7l5.5-.1 1.3-3.8-5.6 .2z" color="#00f7f1"/>
<path d="M180.1,124.8l6-.5 1.7-3.9-6 .5z" color="#f78700"/>
<path d="M170.1,135.5l5.9-.4 1.3-3.2-5.9 .5z" color="#f7c700"/>
<path d="M149.9,159.2l5.7-.3 1.2-3.4-5.7 .3z" color="#41f000"/>
<path d="M209.9,97.2l6.2-.6 1.7-3.5-6.3 .7z" color="#f20500"/>
<path d="M139.3,173.5l5.6-.2 1.2-3.6-5.6 .2z" color="#00f267"/>
<path d="M217.8,93.1l6.3-.6 4.8-9.7-6.3 .7z" color="#f10500"/>
<path d="M189.4,116.5l6.1-.5 1.7-3.8-6.1 .5z" color="#f65700"/>
<path d="M159.3,148.7l5.9-.3 1.2-3.3-5.8 .4z" color="#bef500"/>
<path d="M198.8,108.4l6.2-.5 1.6-3.7-6.2 .6z" color="#f42800"/>
<path d="M168.9,138.6l5.9-.4 1.2-3.1-5.9 .4z" color="#f7d700"/>
<path d="M148.6,162.6l5.8-.2 1.2-3.5-5.7 .3z" color="#1def00"/>
<path d="M178.5,128.8l6-.4 1.6-4.1-6 .5z" color="#f79b00"/>
<path d="M138,177.1l5.7-.1 1.2-3.7-5.6 .2z" color="#00f38d"/>
<path d="M208.2,100.7l6.3-.6 1.6-3.5-6.2 .6z" color="#f20500"/>
<path d="M158.1,152.1l5.8-.3 1.3-3.4-5.9 .3z" color="#9df400"/>
<path d="M187.8,120.4l6.1-.5 1.6-3.9-6.1 .5z" color="#f76900"/>
<path d="M147.4,166.2l5.7-.2 1.3-3.6-5.8 .2z" color="#00ee07"/>
<path d="M167.6,141.8l5.9-.3 1.3-3.3-5.9 .4z" color="#f7e800"/>
<path d="M136.8,180.8l5.6-.1 1.3-3.7-5.7 .1z" color="#00f5b3"/>
<path d="M197.2,112.2l6.1-.6 1.7-3.7-6.2 .5z" color="#f53a00"/>
<path d="M177.3,131.9l6-.4 1.2-3.1-6 .4z" color="#f7ad00"/>
<path d="M156.8,155.5l5.9-.3 1.2-3.4-5.8 .3z" color="#7af200"/>
<path d="M206.6,104.2l6.3-.5 1.6-3.6-6.3 .6z" color="#f30d00"/>
<path d="M146.1,169.7l5.8-.1 1.2-3.6-5.7 .2z" color="#00ef2c"/>
<path d="M166.4,145.1l5.9-.3 1.2-3.3-5.9 .3z" color="#f6f700"/>
<path d="M186.1,124.3l6.1-.4 1.7-4-6.1 .5z" color="#f77c00"/>
<path d="M216.1,96.6l6.4-.7 1.6-3.4-6.3 .6z" color="#f20500"/>
<path d="M135.5,184.6l5.7-.1 1.2-3.8-5.6 .1z" color="#00f6da"/>
<path d="M176,135.1l6-.4 1.3-3.2-6 .4z" color="#f7bc00"/>
<path d="M155.6,158.9l5.8-.2 1.3-3.5-5.9 .3z" color="#57f100"/>
<path d="M195.5,116l6.2-.5 1.6-3.9-6.1 .6z" color="#f54c00"/>
<path d="M144.9,173.3l5.7-.1 1.3-3.6-5.8 .1z" color="#00f151"/>
<path d="M165.2,148.4l5.8-.3 1.3-3.3-5.9 .3z" color="#d5f600"/>
<path d="M205,107.9l6.2-.5 1.7-3.7-6.3 .5z" color="#f41e00"/>
<path d="M174.8,138.2l6-.3 1.2-3.2-6 .4z" color="#f7cc00"/>
<path d="M154.4,162.4l5.8-.2 1.2-3.5-5.8 .2z" color="#33f000"/>
<path d="M184.5,128.4l6.1-.4 1.6-4.1-6.1 .4z" color="#f79000"/>
<path d="M214.5,100.1l6.4-.6 1.6-3.6-6.4 .7z" color="#f20500"/>
<path d="M143.7,177l5.7-.1 1.2-3.7-5.7 .1z" color="#00f277"/>
<path d="M163.9,151.8l5.9-.3 1.2-3.4-5.8 .3z" color="#b3f500"/>
<path d="M193.9,119.9l6.1-.5 1.7-3.9-6.2 .5z" color="#f65f00"/>
<path d="M173.5,141.5l6-.3 1.3-3.3-6 .3z" color="#f7dd00"/>
<path d="M153.1,166l5.8-.2 1.3-3.6-5.8 .2z" color="#0fee00"/>
<path d="M203.3,111.6l6.3-.5 1.6-3.7-6.2 .5z" color="#f43000"/>
<path d="M183.3,131.5l6-.4 1.3-3.1-6.1 .4z" color="#f7a200"/>
<path d="M142.4,180.7l5.7 0 1.3-3.8-5.7 .1z" color="#00f49d"/>
<path d="M162.7,155.2l5.8-.2 1.3-3.5-5.9 .3z" color="#90f300"/>
<path d="M212.9,103.7l6.3-.6 1.7-3.6-6.4 .6z" color="#f20500"/>
<path d="M172.3,144.8l6-.3 1.2-3.3-6 .3z" color="#f7ed00"/>
<path d="M151.9,169.6l5.8-.2 1.2-3.6-5.8 .2z" color="#00ef16"/>
<path d="M192.2,123.9l6.2-.4 1.6-4.1-6.1 .5z" color="#f77200"/>
<path d="M182,134.7l6.1-.4 1.2-3.2-6 .4z" color="#f7b200"/>
<path d="M141.2,184.5l5.7 0 1.2-3.8-5.7 0z" color="#00f5c4"/>
<path d="M201.7,115.5l6.3-.5 1.6-3.9-6.3 .5z" color="#f54200"/>
<path d="M161.4,158.7l5.9-.2 1.2-3.5-5.8 .2z" color="#6df200"/>
<path d="M211.2,107.4l6.4-.5 1.6-3.8-6.3 .6z" color="#f31400"/>
<path d="M171,148.1l6-.2 1.3-3.4-6 .3z" color="#eaf700"/>
<path d="M150.6,173.2l5.8-.1 1.3-3.7-5.8 .2z" color="#00f03b"/>
<path d="M180.8,137.9l6-.3 1.3-3.3-6.1 .4z" color="#f7c200"/>
<path d="M190.6,128l6.1-.4 1.7-4.1-6.2 .4z" color="#f78500"/>
<path d="M160.2,162.2l5.8-.1 1.3-3.6-5.9 .2z" color="#49f100"/>
<path d="M200,119.4l6.3-.4 1.7-4-6.3 .5z" color="#f65400"/>
<path d="M169.8,151.5l6-.2 1.2-3.4-6 .2z" color="#c8f500"/>
<path d="M149.4,176.9l5.7 0 1.3-3.8-5.8 .1z" color="#00f161"/>
<path d="M179.5,141.2l6.1-.3 1.2-3.3-6 .3z" color="#f7d200"/>
<path d="M209.6,111.1l6.3-.4 1.7-3.8-6.4 .5z" color="#f42500"/>
<path d="M158.9,165.8l5.9-.1 1.2-3.6-5.8 .1z" color="#25ef00"/>
<path d="M189.3,131.1l6.2-.3 1.2-3.2-6.1 .4z" color="#f79700"/>
<path d="M148.1,180.7l5.8-.1 1.2-3.7-5.7 0z" color="#00f388"/>
<path d="M168.5,155l6-.2 1.3-3.5-6 .2z" color="#a5f400"/>
<path d="M198.4,123.5l6.2-.4 1.7-4.1-6.3 .4z" color="#f76700"/>
<path d="M178.3,144.5l6-.2 1.3-3.4-6.1 .3z" color="#f7e200"/>
<path d="M157.7,169.4l5.8-.1 1.3-3.6-5.9 .1z" color="#00ee00"/>
<path d="M188.1,134.3l6.1-.3 1.3-3.2-6.2 .3z" color="#f7a700"/>
<path d="M208,115l6.3-.4 1.6-3.9-6.3 .4z" color="#f53800"/>
<path d="M146.9,184.5l5.7 0 1.3-3.9-5.8 .1z" color="#00f4af"/>
<path d="M167.3,158.5l6-.1 1.2-3.6-6 .2z" color="#82f300"/>
<path d="M177,147.9l6.1-.2 1.2-3.4-6 .2z" color="#f7f300"/>
<path d="M156.4,173.1l5.9 0 1.2-3.8-5.8 .1z" color="#00ef26"/>
<path d="M186.8,137.6l6.2-.3 1.2-3.3-6.1 .3z" color="#f7b700"/>
<path d="M196.7,127.6l6.3-.3 1.6-4.2-6.2 .4z" color="#f77b00"/>
<path d="M166,162.1l6-.2 1.3-3.5-6 .1z" color="#5ef100"/>
<path d="M206.3,119l6.3-.3 1.7-4.1-6.3 .4z" color="#f54a00"/>
<path d="M175.8,151.3l6-.2 1.3-3.4-6.1 .2z" color="#ddf600"/>
<path d="M155.1,176.9l5.9-.1 1.3-3.7-5.9 0z" color="#00f14c"/>
<path d="M185.6,140.9l6.1-.2 1.3-3.4-6.2 .3z" color="#f7c700"/>
<path d="M195.5,130.8l6.2-.3 1.3-3.2-6.3 .3z" color="#f78d00"/>
<path d="M164.8,165.7l5.9-.1 1.3-3.7-6 .2z" color="#3af000"/>
<path d="M174.5,154.8l6.1-.1 1.2-3.6-6 .2z" color="#baf500"/>
<path d="M153.9,180.6l5.8 .1 1.3-3.9-5.9 .1z" color="#00f272"/>
<path d="M204.6,123.1l6.4-.3 1.6-4.1-6.3 .3z" color="#f65d00"/>
<path d="M184.3,144.3l6.2-.2 1.2-3.4-6.1 .2z" color="#f7d800"/>
<path d="M194.2,134l6.3-.2 1.2-3.3-6.2 .3z" color="#f79d00"/>
<path d="M163.5,169.3l6 0 1.2-3.7-5.9 .1z" color="#15ee00"/>
<path d="M173.3,158.4l6-.2 1.3-3.5-6.1 .1z" color="#97f400"/>
<path d="M152.6,184.5l5.9 0 1.2-3.8-5.8-.1z" color="#00f49a"/>
<path d="M183.1,147.7l6.1-.2 1.3-3.4-6.2 .2z" color="#f7e900"/>
<path d="M203,127.3l6.3-.3 1.7-4.2-6.4 .3z" color="#f77100"/>
<path d="M193,137.3l6.2-.2 1.3-3.3-6.3 .2z" color="#f7ad00"/>
<path d="M162.3,173.1l5.9 0 1.3-3.8-6 0z" color="#00ee11"/>
<path d="M172,161.9l6 0 1.3-3.7-6 .2z" color="#73f200"/>
<path d="M181.8,151.1l6.2-.1 1.2-3.5-6.1 .2z" color="#f2f700"/>
<path d="M161,176.8l5.9 .1 1.3-3.8-5.9 0z" color="#00f037"/>
<path d="M191.7,140.7l6.3-.2 1.2-3.4-6.2 .2z" color="#f7bd00"/>
<path d="M201.7,130.5l6.4-.2 1.2-3.3-6.3 .3z" color="#f78300"/>
<path d="M170.7,165.6l6.1 0 1.2-3.7-6 0z" color="#4ef100"/>
<path d="M180.6,154.7l6.1-.1 1.3-3.6-6.2 .1z" color="#cff600"/>
<path d="M159.7,180.7l6 0 1.2-3.8-5.9-.1z" color="#00f15e"/>
<path d="M190.5,144.1l6.2-.2 1.3-3.4-6.3 .2z" color="#f7ce00"/>
<path d="M200.5,133.8l6.3-.2 1.3-3.3-6.4 .2z" color="#f79300"/>
<path d="M169.5,169.3l6 0 1.3-3.7-6.1 0z" color="#29ef00"/>
<path d="M179.3,158.2l6.1 0 1.3-3.6-6.1 .1z" color="#abf400"/>
<path d="M158.5,184.5l5.9 .1 1.3-3.9-6 0z" color="#00f385"/>
<path d="M189.2,147.5l6.2-.1 1.3-3.5-6.2 .2z" color="#f7df00"/>
<path d="M199.2,137.1l6.3-.2 1.3-3.3-6.3 .2z" color="#f7a300"/>
<path d="M168.2,173.1l6 0 1.3-3.8-6 0z" color="#03ee00"/>
<path d="M178,161.9l6.2-.1 1.2-3.6-6.1 0z" color="#87f300"/>
<path d="M188,151l6.2-.1 1.2-3.5-6.2 .1z" color="#f7f000"/>
<path d="M198,140.5l6.3-.2 1.2-3.4-6.3 .2z" color="#f7b300"/>
<path d="M166.9,176.9l6.1 0 1.2-3.8-6 0z" color="#00ef23"/>
<path d="M176.8,165.6l6.1 0 1.3-3.8-6.2 .1z" color="#62f200"/>
<path d="M186.7,154.6l6.2-.1 1.3-3.6-6.2 .1z" color="#e3f700"/>
<path d="M196.7,143.9l6.3-.1 1.3-3.5-6.3 .2z" color="#f7c400"/>
<path d="M165.7,180.7l6 .1 1.3-3.9-6.1 0z" color="#00f14a"/>
<path d="M175.5,169.3l6.1 0 1.3-3.7-6.1 0z" color="#3df000"/>
<path d="M185.4,158.2l6.2-.1 1.3-3.6-6.2 .1z" color="#bff500"/>
<path d="M195.4,147.4l6.3-.1 1.3-3.5-6.3 .1z" color="#f7d500"/>
<path d="M164.4,184.6l6 .2 1.3-4-6-.1z" color="#00f271"/>
<path d="M174.2,173.1l6.1 .1 1.3-3.9-6.1 0z" color="#17ef00"/>
<path d="M184.2,161.8l6.2 0 1.2-3.7-6.2 .1z" color="#9bf400"/>
<path d="M194.2,150.9l6.3-.1 1.2-3.5-6.3 .1z" color="#f7e600"/>
<path d="M173,176.9l6.1 .1 1.2-3.8-6.1-.1z" color="#00ee0f"/>
<path d="M182.9,165.6l6.2 0 1.3-3.8-6.2 0z" color="#76f200"/>
<path d="M192.9,154.5l6.3 0 1.3-3.7-6.3 .1z" color="#f6f700"/>
<path d="M171.7,180.8l6.1 .2 1.3-4-6.1-.1z" color="#00f036"/>
<path d="M181.6,169.3l6.2 .1 1.3-3.8-6.2 0z" color="#51f100"/>
<path d="M191.6,158.1l6.3 .1 1.3-3.7-6.3 0z" color="#d3f600"/>
<path d="M170.4,184.8l6.1 .2 1.3-4-6.1-.2z" color="#00f15d"/>
<path d="M180.3,173.2l6.2 .1 1.3-3.9-6.2-.1z" color="#2bef00"/>
<path d="M190.4,161.8l6.3 .1 1.2-3.7-6.3-.1z" color="#aef400"/>
<path d="M179.1,177l6.2 .2 1.2-3.9-6.2-.1z" color="#04ee00"/>
<path d="M189.1,165.6l6.3 .1 1.3-3.8-6.3-.1z" color="#89f300"/>
<path d="M177.8,181l6.2 .2 1.3-4-6.2-.2z" color="#00ef23"/>
<path d="M187.8,169.4l6.3 .1 1.3-3.8-6.3-.1z" color="#64f200"/>
<path d="M176.5,185l6.2 .2 1.3-4-6.2-.2z" color="#00f14a"/>
<path d="M186.5,173.3l6.3 .1 1.3-3.9-6.3-.1z" color="#3ef000"/>
<path d="M185.3,177.2l6.2 .2 1.3-4-6.3-.1z" color="#17ef00"/>
<path d="M184,181.2l6.2 .2 1.3-4-6.2-.2z" color="#00ee10"/>
<path d="M182.7,185.2l6.2 .3 1.3-4.1-6.2-.2z" color="#00f038"/>
</g>
<path d="M49.9,191L58.5,168.7 67,148.7 71.2,139.7 75.5,131.3 79.7,123.5 85.4,114 89.6,107.6 93.8,101.8 97.9,96.5 102.1,91.9 106.2,87.9 110.3,84.5 114.4,81.6 119.8,78.6M54,190.4L62.5,167.9 66.8,157.6 72.5,144.7 76.8,135.8 81,127.5 85.3,119.8 90.9,110.6 95.1,104.3 99.3,98.6 103.5,93.6 109,87.7 113.1,84.1 118.6,80.1 122.6,77.7 128,75.5M58.1,189.9L66.7,167.2 75.2,147 79.5,137.8 83.8,129.2 88,121.2 93.7,111.6 97.9,105.1 102.1,99.1 106.3,93.8 111.8,87.7 116,83.8 120.1,80.4 124.1,77.7 129.5,74.9M62.2,189.4L70.8,166.5 79.4,146.1 83.7,136.8 88,128.2 92.2,120.2 97.9,110.4 102.1,103.8 106.4,97.9 110.5,92.5 114.7,87.7 118.8,83.6 123,80 127,77 132.4,74M135.1,72.8L136.4,72.3M66.4,188.9L75,165.8 79.4,155.2 85.1,142.1 89.4,132.9 93.7,124.4 97.9,116.5 103.6,107 107.8,100.5 112,94.7 116.2,89.5 121.8,83.5 125.9,79.7 130,76.5 134,73.8 139.4,71.2M70.7,188.4L79.3,165.2 83.6,154.5 89.4,141.2 93.7,132 98,123.4 102.3,115.5 107.9,105.8 112.2,99.3 116.4,93.4 120.6,88.2 126.1,82.1 130.2,78.3 135.7,74 139.7,71.6 145.1,69.2M75,188L83.6,164.5 88,153.8 93.7,140.4 98,131.1 102.3,122.4 106.6,114.4 112.3,104.7 116.6,98.1 120.8,92.2 125,86.9 130.5,80.7 134.6,76.8 140.1,72.6 144.1,70.1 149.5,67.6M79.3,187.5L88,163.9 92.3,153.1 98.1,139.6 102.5,130.2 108.2,118.7 112.5,110.8 118.2,101.3 122.4,94.9 128,87.3 132.2,82.3 137.7,76.7 141.8,73.1 147.3,69.4 151.3,67.2 156.6,65.3M83.7,187.1L92.4,163.3 96.8,152.4 102.6,138.8 106.9,129.3 111.2,120.5 115.5,112.4 121.2,102.5 125.5,95.8 129.7,89.7 133.9,84.3 139.5,78 143.6,74 149,69.7 153.1,67.1 158.4,64.6M88.1,186.8L96.9,162.8 101.3,151.7 107.1,138 111.4,128.5 117.2,116.8 121.5,108.8 127.2,99 131.4,92.5 137.1,84.8 141.2,79.7 146.8,73.9 150.9,70.3 156.3,66.4 160.3,64.2 165.6,62.2M92.6,186.4L101.4,162.2 105.8,151.1 111.6,137.3 116,127.7 121.7,115.9 126.1,107.7 131.8,98 136,91.4 140.3,85.4 144.5,80.1 150,73.9 154.1,70.1 159.6,65.9 163.6,63.4 168.9,61.1M97.2,186.1L106,161.7 110.4,150.5 116.2,136.6 120.6,126.9 126.4,114.9 130.7,106.8 136.4,96.9 140.7,90.2 146.3,82.3 150.5,77.2 156,71.3 160.1,67.5 165.6,63.6 169.6,61.3 174.9,59.2M101.8,185.8L110.6,161.2 115,149.9 120.9,135.8 125.2,126.1 131,114 135.4,105.8 141.1,95.8 145.4,89.1 149.6,83 153.8,77.6 159.4,71.3 163.5,67.4 168.9,63.1 172.9,60.5 178.2,58.1M106.4,185.6L115.3,160.8 119.7,149.4 125.6,135.2 130,125.3 135.8,113.2 140.1,104.9 145.9,94.8 150.1,88 155.8,80 160,74.7 165.5,68.6 169.6,64.8 175,60.8 180.4,57.8 183,56.7 185.6,55.8M111.1,185.3L120,160.3 124.5,148.8 130.3,134.5 134.7,124.6 140.6,112.3 144.9,103.9 150.7,93.8 154.9,86.9 160.6,78.8 164.8,73.5 170.3,67.3 174.4,63.5 179.8,59.4 183.8,57 189.1,54.8M115.9,185.1L124.8,159.9 129.3,148.3 135.2,133.9 139.6,123.8 145.4,111.5 149.8,103 155.5,92.8 159.8,85.8 165.4,77.6 169.6,72.3 175.2,66.1 179.3,62.2 184.7,58 190,54.9 192.7,53.8 195.3,52.9M120.7,184.9L129.7,159.5 134.1,147.8 140,133.3 144.5,123.1 150.3,110.7 154.7,102.1 160.4,91.8 164.7,84.8 170.4,76.5 174.6,71.1 180.1,64.8 184.2,60.9 189.6,56.6 194.9,53.5 197.6,52.3 200.2,51.5M237.5,70L239.7,73.1M125.6,184.8L134.6,159.2 139,147.4 145,132.7 149.4,122.5 155.3,109.9 159.6,101.3 165.4,90.8 169.7,83.8 175.3,75.4 179.6,69.9 185.1,63.6 189.2,59.6 194.6,55.3 199.9,52.1 202.5,50.9 205.1,50M240.1,65.6L244.5,71.6M130.5,184.7L135,171.4 141,154.8 145.5,143.1 151.5,128.6 155.9,118.5 161.7,106.2 166.1,97.7 171.9,87.4 176.1,80.5 181.8,72.4 186,67 191.5,60.9 195.6,57.1 201,53.1 206.3,50.1 208.9,49 211.5,48.3M242.8,61.4L246.1,65.5 249.4,70.1M135.5,184.6L140.1,171.2 146.1,154.4 150.6,142.7 156.5,128 160.9,117.9 166.8,105.4 171.2,96.8 177,86.5 181.2,79.5 186.9,71.3 191.1,65.9 196.6,59.7 200.7,55.9 206.1,51.7 211.3,48.7 213.9,47.7 216.5,46.8M245.5,57.4L250,62.6 254.3,68.6M140.6,184.5L145.1,171 151.2,154.1 155.7,142.3 161.6,127.5 166.1,117.3 172,104.7 176.3,96 182.1,85.6 186.4,78.5 192,70.2 196.2,64.8 201.8,58.5 205.8,54.6 211.2,50.4 216.5,47.4 219.1,46.3 221.7,45.5M248.3,53.7L250.6,55.9 253.9,59.7 259.3,67.1M145.7,184.5L150.3,170.9 156.3,153.8 160.8,141.9 166.8,127 171.3,116.6 177.1,103.9 181.5,95.2 187.3,84.7 191.6,77.6 197.3,69.2 201.5,63.6 207,57.3 211.1,53.4 216.4,49.1 221.7,46 224.3,44.9 226.9,44.1M251.1,50.2L254.5,53.3 257.9,56.9 261.1,61 264.3,65.7M150.9,184.5L160,157.8 164.5,145.5 170.6,130.1 175,119.5 180.9,106.3 185.3,97.3 191.1,86.3 195.5,78.9 201.1,70.1 205.3,64.3 210.9,57.7 215,53.4 220.4,48.8 225.6,45.4 228.2,44.1 230.8,43.1M254,47L257.4,49.7 261.9,54.2 265.2,58.1 269.4,64.2M156.1,184.5L165.3,157.6 169.8,145.2 175.8,129.7 180.3,118.9 186.3,105.7 190.7,96.6 196.5,85.5 200.8,78 206.5,69.1 210.7,63.3 216.2,56.5 220.3,52.3 225.7,47.6 231,44.1 233.6,42.8 236.1,41.8M256.9,44L261.5,47.3 266,51.5 270.3,56.7 274.6,62.8M161.4,184.6L166,170.7 172.1,153.2 176.7,140.9 182.7,125.6 187.2,115 193.1,101.9 197.5,93 203.3,82.1 207.6,74.8 213.3,66.1 217.5,60.4 223,53.9 227.1,49.8 232.4,45.4 237.6,42.1 240.2,40.9 242.8,40M259.9,41.3L264.5,44.1 266.8,45.8 270.1,48.9 274.5,53.9 279.8,61.3M166.8,184.7L171.4,170.6 177.5,153 182.1,140.6 188.1,125.2 192.6,114.5 198.6,101.3 203,92.2 208.8,81.3 213.1,73.9 218.8,65.1 222.9,59.4 228.5,52.8 232.5,48.6 237.9,44.2 243.1,40.9 245.7,39.6 248.2,38.7M262.9,39L265.3,39.9 268.7,41.9 271,43.5 274.4,46.4 276.6,48.6 279.8,52.4 285,59.9M172.2,184.8L176.9,170.7 183,152.9 187.6,140.4 193.6,124.8 198.1,114 204.1,100.7 208.5,91.6 214.3,80.5 218.6,73 224.3,64.2 228.5,58.4 234,51.7 238,47.5 243.4,43 248.6,39.6 251.2,38.4 253.7,37.4M266,36.9L268.4,37.6 271.9,39.1 275.3,41.2 278.6,44 280.8,46.1 284.1,49.7 287.3,53.8 290.4,58.5M177.7,185L182.4,170.7 188.6,152.8 193.1,140.2 199.2,124.5 203.7,113.6 209.7,100.1 214.1,90.9 219.9,79.7 224.2,72.2 229.9,63.3 235.5,55.6 240.9,49.1 245,45.1 250.3,40.8 255.5,37.7 258,36.6 260.5,35.7M269.1,35.1L272.7,35.8 276.2,37.1 279.6,39.1 283,41.6 286.3,44.7 289.5,48.3 292.7,52.4 295.7,57.1M183.3,185.2L188,170.8 194.2,152.7 198.8,140 204.8,124.2 209.4,113.1 215.3,99.6 221.2,87.3 227,76.4 231.3,69 237,60.3 242.5,52.8 248,46.6 253.3,41.7 258.5,37.9 261.1,36.5 263.6,35.3 266.2,34.5 268.6,33.9M272.3,33.6L275.9,33.9 279.4,34.8 282.9,36.4 287.4,39.3 290.7,42.2 293.9,45.6 297.1,49.6 301.2,55.7M49.1,183.1L65.6,180.6 82.9,178.4 99.5,176.8 116.8,175.6 134.9,174.7 153.9,174.3 173.6,174.2 192.4,174.6M52.2,174.9L68.8,172.1 86.1,169.7 102.8,167.9 120.1,166.3 138.3,165.2 157.2,164.4 177.1,164.1 195.9,164.2M55.4,167.1L72,164 89.4,161.4 106,159.2 123.4,157.5 141.6,156 160.6,155 180.5,154.3 199.3,154.1M58.5,159.6L75.2,156.3 92.6,153.4 109.3,151 126.7,148.9 144.9,147.2 164,145.9 183.9,144.9 202.8,144.5M61.7,152.4L78.4,148.9 95.8,145.7 112.6,143.1 130,140.8 148.3,138.8 167.3,137.2 187.3,136 206.2,135.2M64.8,145.6L81.5,141.8 99,138.4 115.8,135.5 133.3,133 151.6,130.8 170.7,128.9 190.6,127.4 209.6,126.4M68,139.1L84.7,135.1 102.2,131.4 119,128.3 136.6,125.6 154.9,123.1 174,121 194,119.2 212.9,117.9M71.1,132.9L87.9,128.7 105.4,124.8 122.3,121.5 139.8,118.5 158.1,115.8 177.3,113.4 197.3,111.4 216.3,109.9M74.3,127L91.1,122.7 108.6,118.5 125.5,115.1 143,111.8 161.4,108.9 180.6,106.3 200.6,104 219.6,102.3M77.4,121.5L94.2,116.9 111.8,112.6 128.7,108.9 146.3,105.5 164.6,102.4 183.8,99.5 203.9,97 222.9,95.1M80.5,116.4L97.4,111.6 113.5,107.4 131.9,103.2 149.5,99.6 167.9,96.2 187.1,93.2 207.1,90.4 226.2,88.3M83.6,111.5L100.5,106.6 116.6,102.2 135,97.8 152.7,94 171.1,90.4 190.3,87.2 210.4,84.2 229.4,81.8M86.8,107L103.6,101.9 119.8,97.4 138.2,92.8 155.9,88.8 174.3,85 193.5,81.6 213.6,78.4 232.6,75.8M89.9,102.8L106.8,97.5 122.9,92.9 141.4,88.1 159,83.9 177.4,80 196.7,76.3 216.8,73 235.8,70.2M92.9,99L109.9,93.5 126,88.7 144.5,83.7 162.2,79.4 180.6,75.3 199.8,71.5 219.9,68 239,65M96,95.4L113,89.8 129.1,84.9 147.6,79.7 165.3,75.3 183.7,71 203,67 223.1,63.3 242.1,60.2M99.1,92.2L116,86.5 132.2,81.4 150.7,76.1 168.4,71.5 186.8,67.1 206.1,62.9 226.2,59.1 245.2,55.8M102.2,89.3L119.1,83.4 135.3,78.3 153.8,72.8 171.5,68.1 189.9,63.5 209.2,59.2 229.3,55.2 248.3,51.8M105.2,86.7L122.2,80.7 138.4,75.4 156.8,69.9 174.5,65 193,60.3 212.2,55.9 232.3,51.7 251.3,48.1M108.2,84.5L125.2,78.4 141.4,73 159.9,67.3 177.6,62.3 196,57.5 215.2,52.9 235.3,48.6 254.4,44.9M111.3,82.5L128.2,76.3 144.4,70.8 162.9,65 180.6,59.9 199,55 218.2,50.3 238.3,45.8 257.3,42M114.2,80.9L131.2,74.6 147.4,69 165.9,63.1 183.6,57.8 202,52.8 221.2,48 241.3,43.4 260.3,39.5M128.5,75.3L131.3,74.2M134.2,73.2L138.5,71.6M141.5,70.6L156.5,65.5 170.4,61 184.9,56.6 199.8,52.4 215.3,48.3 231.3,44.4 247.9,40.6 263.2,37.4M134.3,73.1L135.7,72.6M141.5,70.5L143,70M151.9,66.8L162.5,63.2M165.6,62.2L189.5,54.8 214.7,47.7 239.7,41.5 266,35.7M181.1,57.2L190.7,54.3M194,53.3L199,51.8M202.3,50.9L219.4,46.1 235.3,42 251.8,38.1 268.9,34.3M241.7,40.2L243.6,39.8M252.7,37.6L254.6,37.1M258.3,36.3L260.2,35.8M264,35L267.8,34.1M261.1,35.7L263,35.2M272.5,33L274.4,32.6M271.4,33.6L277.1,32.3M268.4,35L279.8,32.4M265.5,36.8L282.4,32.7M262.6,39L285,33.5M258,42L287.6,34.5M257.1,44.4L273.3,40.1 290.1,35.9M252.6,48.1L272.2,42.8 292.6,37.6M249.9,51.7L272.9,45.3 295.1,39.7M247.3,55.5L271.7,48.6 297.5,42M243.1,60.2L270.6,52.2 299.8,44.7M240.6,64.7L255.7,60.1 271.3,55.7 302.1,47.6M238.2,69.4L254.7,64.3 270.1,59.8 287.9,55 304.4,50.8" fill="none" stroke="#b4b4b4" stroke-opacity="0.3" stroke-width="0.4"/>
<path d="M46.3,199.7L38.3,20.7" stroke="#222" stroke-width="1" fill="none" />
<path d="M46.3,199.7L188.5,251.6" stroke="#222" stroke-width="0.9" fill="none" />
<path d="M188.5,251.6L300.3,192.1" stroke="#222" stroke-width="0.9" fill="none" />
<path d="M45.1,172.9h-3M43,127h-3M40.9,79.7h-3M38.7,30.7h-3M46.3,199.7L42.8,201M77.9,211.2L74.4,212.6M112,223.6L108.5,225.1M148.7,237L145.3,238.7M188.5,251.6L185.2,253.3M188.5,251.6L192.7,253.1M214.2,237.9L218.4,239.3M238.1,225.2L242.1,226.5M260.3,213.4L264.3,214.6M280.9,202.4L284.9,203.5M300.3,192.1L304.1,193.2" stroke="#222" stroke-width="0.8" fill="none"/>
<text transform="matrix(1.053 -0.400 0.923 0.339 47.516 201.936)" font-size="10" text-anchor="end" font-weight="bold" fill="#000" >6.0</text>
<text transform="matrix(1.050 -0.431 0.993 0.364 79.421 213.644)" font-size="10" text-anchor="end" font-weight="bold" fill="#000" >6.5</text>
<text transform="matrix(1.043 -0.465 1.071 0.393 113.791 226.255)" font-size="10" text-anchor="end" font-weight="bold" fill="#000" >7.0</text>
<text transform="matrix(1.032 -0.503 1.159 0.425 150.921 239.880)" font-size="10" text-anchor="end" font-weight="bold" fill="#000" >7.5</text>
<text transform="matrix(1.015 -0.546 1.258 0.461 191.159 254.645)" font-size="10" text-anchor="end" font-weight="bold" fill="#000" >8.0</text>
<text transform="matrix(1.275 0.469 -1.031 0.555 190.142 255.192)" font-size="10" text-anchor="start" font-weight="normal" fill="#000" >40</text>
<text transform="matrix(1.258 0.434 -0.954 0.514 216.054 241.242)" font-size="10" text-anchor="start" font-weight="normal" fill="#000" >44</text>
<text transform="matrix(1.240 0.403 -0.885 0.477 240.061 228.317)" font-size="10" text-anchor="start" font-weight="normal" fill="#000" >48</text>
<text transform="matrix(1.222 0.375 -0.824 0.443 262.367 216.309)" font-size="10" text-anchor="start" font-weight="normal" fill="#000" >52</text>
<text transform="matrix(1.203 0.350 -0.768 0.414 283.146 205.122)" font-size="10" text-anchor="start" font-weight="normal" fill="#000" >56</text>
<text transform="matrix(1.184 0.327 -0.718 0.387 302.550 194.676)" font-size="10" text-anchor="start" font-weight="normal" fill="#000" >60</text>
<text transform="matrix(1.001 -0.348 0.057 1.225 39.565 178.325)" font-size="10" text-anchor="end" font-weight="bold" fill="#000" >18.5</text>
<text transform="matrix(1.020 -0.298 0.059 1.265 37.406 132.321)" font-size="10" text-anchor="end" font-weight="bold" fill="#000" >19.0</text>
<text transform="matrix(1.040 -0.243 0.061 1.308 35.174 84.779)" font-size="10" text-anchor="end" font-weight="bold" fill="#000" >19.5</text>
<text transform="matrix(1.060 -0.185 0.064 1.353 32.866 35.619)" font-size="10" text-anchor="end" font-weight="bold" fill="#000" >20.0</text>
<text transform="matrix(1.260 0.497 -1.307 0.588 87.384 241.052)" font-size="10" text-anchor="middle" font-weight="bold" fill="#000" >Fermentation time (d)</text>
<text transform="matrix(0.885 -0.513 1.367 0.433 278.030 232.085)" font-size="10" text-anchor="middle" font-weight="normal" fill="#000" >Loading (g)</text>
<text transform="matrix(-0.088 -1.611 1.327 -0.359 15.509 120.260)" font-size="10" text-anchor="middle" font-weight="bold" fill="#000" >True protein (%)</text>
</g>
<g id="pC">
<path d="M72.9,444.1L67.6,278.6M93.9,436.5L89.9,275.3M113.7,429.3L111,272.1M132.6,422.5L130.9,269.2M150.5,416L149.8,266.3M197.7,417.8L199.4,267.3M229.7,426.4L233.3,271.2M263.9,435.5L269.5,275.3M49.1,411.5L167.6,374.6M167.6,374.6L302.4,405.6M47.5,369.6L167.6,338.5M167.6,338.5L304.3,364.8M45.7,326.5L167.7,301.6M167.7,301.6L306.3,322.9" stroke="#e0e0e0" stroke-width="0.6" fill="none"/>
<path d="M44,282.1L167.7,263.7M167.7,263.7L308.4,279.7" stroke="#666" stroke-width="0.7" fill="none"/>
<path d="M167.5,409.8L167.7,263.7" stroke="#999" stroke-width="0.9" fill="none" />
<path d="M300.5,445.2L308.4,279.7" stroke="#888" stroke-width="0.8" fill="none" />
<path d="M50.8,452.1L190.8,501.6 300.5,445.2 167.5,409.8Z" fill="#f2f25a"/>
<path d="M72.9,444.1L212,490.7M93.9,436.5L231.9,480.5M113.7,429.3L250.6,470.8M132.6,422.5L268.2,461.8M150.5,416L284.8,453.3M81.9,463.1L197.7,417.8M115.4,475L229.7,426.4M151.6,487.8L263.9,435.5" stroke="#dcdcc8" stroke-opacity="0.65" stroke-width="0.5" fill="none"/>
<path d="M197,417.7L185.4,416.5 174.7,415.7 163.5,415 154.2,414.7" stroke="#5d00c0" stroke-width="0.7" stroke-opacity="0.3" fill="none"/>
<path d="M237.7,428.5L223.8,426.4 209.7,424.7 196.2,423.2 183.9,422.2 170.8,421.3 160.1,420.9 147.9,420.8 136.9,420.9" stroke="#005fff" stroke-width="0.7" stroke-opacity="0.3" fill="none"/>
<path d="M299.5,445.7L285.3,442.8 270.5,439.9 257,437.4 243.4,435.2 230.2,433.2 217.5,431.6 206.5,430.4 193.2,429.1 181.6,428.4 169.4,427.8 158.7,427.6 149.3,427.6 139.2,427.9 129.6,428.5 120.2,429.3 110.4,430.5" stroke="#00fdc5" stroke-width="0.7" stroke-opacity="0.3" fill="none"/>
<path d="M291.2,450L272.4,446.3 253.4,443 236.2,440.5 218.6,438.3 202.6,436.7 185.8,435.6 170.3,435.1 155.6,435.1 141.5,435.7 128.7,436.8 121.7,437.7 115,438.7 108.6,439.8 102.5,441 91,443.8 80.4,447 70.5,450.6 65.8,452.6 59.7,455.3" stroke="#16f600" stroke-width="0.7" stroke-opacity="0.3" fill="none"/>
<path d="M281.8,454.8L264.4,451.7 248.9,449.2 233.1,447.1 217,445.3 203,444.2 189.5,443.5 176.1,443.2 163.2,443.3 151.2,443.9 138.5,445 126.7,446.6 115.8,448.6 105.8,450.9 100.1,452.5 94.7,454.1 86,457.1 81.1,459.1 76.3,461.2" stroke="#f0fe00" stroke-width="0.7" stroke-opacity="0.3" fill="none"/>
<path d="M271.2,460.3L257.4,458.1 243.3,456.2 228.9,454.5 216.5,453.4 204.5,452.7 192.5,452.2 180.9,452.1 169.3,452.5 157.8,453.2 147.3,454.3 137.6,455.6 128.7,457.3 120.3,459.2 110.5,461.9 103.2,464.3 94.6,467.6" stroke="#ff9900" stroke-width="0.7" stroke-opacity="0.3" fill="none"/>
<path d="M258.6,466.8L246.5,465.2 235.4,464.1 225.5,463.2 214.9,462.6 204.2,462.2 194.6,462.1 186.5,462.2 177,462.6 168.3,463.3 160.2,464.1 152.7,465.2 143.2,466.9 136.6,468.3 128.4,470.5 122.5,472.3 115.1,474.9" stroke="#fc2f00" stroke-width="0.7" stroke-opacity="0.3" fill="none"/>
<path d="M243,474.8L226.6,473.7 211.3,473.2 203.1,473.2 196.3,473.4 183.9,474.2 178.1,474.8 171.4,475.6 160,477.5 155.3,478.4 148.6,480 142.3,481.8 138.3,483.1" stroke="#f90500" stroke-width="0.7" stroke-opacity="0.3" fill="none"/>
<path d="M221.6,485.8L212,486 205.3,486.3 199,486.8 191.7,487.5 184.7,488.5 177.2,489.8 171.3,491 165.1,492.5" stroke="#f70500" stroke-width="0.7" stroke-opacity="0.3" fill="none"/>
<g fill="currentColor" stroke="currentColor" stroke-width="0.7" stroke-linejoin="round">
<path d="M165.7,347.6l4.5-.9 1.9 1.1-4.5 .9z" color="#7a009a"/>
<path d="M163.8,346.5l4.5-.9 1.9 1.1-4.5 .9z" color="#7600a2"/>
<path d="M170.2,346.7l4.5-.8 1.8 1.1-4.4 .8z" color="#7600a3"/>
<path d="M161.9,345.5l4.5-1 1.9 1.1-4.5 .9z" color="#7100ab"/>
<path d="M168.3,345.6l4.5-.9 1.9 1.2-4.5 .8z" color="#6e00ad"/>
<path d="M160,344.5l4.4-1 2 1-4.5 1z" color="#5a00ba"/>
<path d="M174.7,345.9l4.5-.8 1.9 1.2-4.6 .7z" color="#6d00ad"/>
<path d="M166.4,344.5l4.5-.9 1.9 1.1-4.5 .9z" color="#5700bd"/>
<path d="M158,343.5l4.5-1 1.9 1-4.4 1z" color="#4400c9"/>
<path d="M172.8,344.7l4.5-.8 1.9 1.2-4.5 .8z" color="#5500be"/>
<path d="M164.4,343.5l4.5-.9 2 1-4.5 .9z" color="#3f00cc"/>
<path d="M156.1,342.6l4.4-1.1 2 1-4.5 1z" color="#2e00d8"/>
<path d="M179.2,345.1l4.6-.8 1.9 1.2-4.6 .8z" color="#5500be"/>
<path d="M170.9,343.6l4.5-.8 1.9 1.1-4.5 .8z" color="#3d00ce"/>
<path d="M162.5,342.5l4.5-1 1.9 1.1-4.5 .9z" color="#2900dc"/>
<path d="M154.1,341.7l4.5-1.1 1.9 .9-4.4 1.1z" color="#1900e7"/>
<path d="M177.3,343.9l4.6-.8 1.9 1.2-4.6 .8z" color="#3c00cf"/>
<path d="M168.9,342.6l4.6-.9 1.9 1.1-4.5 .8z" color="#2500de"/>
<path d="M160.5,341.5l4.6-1 1.9 1-4.5 1z" color="#1200eb"/>
<path d="M183.8,344.3l4.6-.7 1.9 1.2-4.6 .7z" color="#3d00ce"/>
<path d="M152.1,340.8l4.5-1.2 2 1-4.5 1.1z" color="#0400f5"/>
<path d="M175.4,342.8l4.6-.9 1.9 1.2-4.6 .8z" color="#2300df"/>
<path d="M167,341.5l4.6-.9 1.9 1.1-4.6 .9z" color="#0e00ee"/>
<path d="M158.6,340.6l4.5-1.1 2 1-4.6 1z" color="#0004f7"/>
<path d="M181.9,343.1l4.7-.8 1.8 1.3-4.6 .7z" color="#2400df"/>
<path d="M150.1,339.9l4.5-1.1 2 .8-4.5 1.2z" color="#0015f7"/>
<path d="M173.5,341.7l4.6-.9 1.9 1.1-4.6 .9z" color="#0b00f0"/>
<path d="M188.4,343.6l4.7-.7 1.9 1.3-4.7 .6z" color="#2600dd"/>
<path d="M165.1,340.5l4.5-1 2 1.1-4.6 .9z" color="#000bf7"/>
<path d="M156.6,339.6l4.5-1 2 .9-4.5 1.1z" color="#0020f7"/>
<path d="M180,341.9l4.7-.8 1.9 1.2-4.7 .8z" color="#0b00f0"/>
<path d="M148.1,339.1l4.5-1.2 2 .9-4.5 1.1z" color="#0030f7"/>
<path d="M171.6,340.6l4.6-.9 1.9 1.1-4.6 .9z" color="#0010f7"/>
<path d="M163.1,339.5l4.6-1 1.9 1-4.5 1z" color="#0029f7"/>
<path d="M186.6,342.3l4.6-.7 1.9 1.3-4.7 .7z" color="#0c00ef"/>
<path d="M154.6,338.8l4.5-1.2 2 1-4.5 1z" color="#003cf7"/>
<path d="M178.1,340.8l4.7-.8 1.9 1.1-4.7 .8z" color="#0012f7"/>
<path d="M146.1,338.3l4.5-1.2 2 .8-4.5 1.2z" color="#0049f7"/>
<path d="M193.1,342.9l4.8-.6 1.8 1.3-4.7 .6z" color="#1000ed"/>
<path d="M169.6,339.5l4.6-.9 2 1.1-4.6 .9z" color="#002ff7"/>
<path d="M161.1,338.6l4.6-1.1 2 1-4.6 1z" color="#0045f7"/>
<path d="M184.7,341.1l4.7-.7 1.8 1.2-4.6 .7z" color="#0011f7"/>
<path d="M152.6,337.9l4.5-1.2 2 .9-4.5 1.2z" color="#0057f7"/>
<path d="M176.2,339.7l4.6-.9 2 1.2-4.7 .8z" color="#0032f7"/>
<path d="M144.1,337.5l4.5-1.2 2 .8-4.5 1.2z" color="#0062f7"/>
<path d="M191.2,341.6l4.8-.6 1.9 1.3-4.8 .6z" color="#000ef7"/>
<path d="M167.7,338.5l4.6-1 1.9 1.1-4.6 .9z" color="#004cf7"/>
<path d="M159.1,337.6l4.6-1.1 2 1-4.6 1.1z" color="#0061f7"/>
<path d="M182.8,340l4.7-.8 1.9 1.2-4.7 .7z" color="#0032f7"/>
<path d="M150.6,337.1l4.5-1.2 2 .8-4.5 1.2z" color="#0071f7"/>
<path d="M197.9,342.3l4.7-.6 1.9 1.3-4.8 .6z" color="#0007f7"/>
<path d="M174.2,338.6l4.7-.9 1.9 1.1-4.6 .9z" color="#0051f7"/>
<path d="M142,336.8l4.5-1.3 2.1 .8-4.5 1.2z" color="#007af7"/>
<path d="M189.4,340.4l4.7-.7 1.9 1.3-4.8 .6z" color="#0030f7"/>
<path d="M165.7,337.5l4.6-1 2 1-4.6 1z" color="#0069f7"/>
<path d="M157.1,336.7l4.6-1.1 2 .9-4.6 1.1z" color="#007df7"/>
<path d="M180.8,338.8l4.8-.8 1.9 1.2-4.7 .8z" color="#0052f7"/>
<path d="M148.6,336.3l4.5-1.3 2 .9-4.5 1.2z" color="#008af7"/>
<path d="M196,341l4.8-.7 1.8 1.4-4.7 .6z" color="#002bf7"/>
<path d="M140,336.1l4.5-1.3 2 .7-4.5 1.3z" color="#0091f7"/>
<path d="M172.3,337.5l4.7-.9 1.9 1.1-4.7 .9z" color="#006ff7"/>
<path d="M187.5,339.2l4.7-.8 1.9 1.3-4.7 .7z" color="#0051f7"/>
<path d="M163.7,336.5l4.7-1 1.9 1-4.6 1z" color="#0086f7"/>
<path d="M202.6,341.7l4.9-.6 1.8 1.4-4.8 .5z" color="#0023f7"/>
<path d="M137.9,335.4l2.2-.7 2.1 .7-2.2 .7z" color="#009ef7"/>
<path d="M155.1,335.9l4.6-1.2 2 .9-4.6 1.1z" color="#0097f7"/>
<path d="M178.9,337.7l4.7-.9 2 1.2-4.8 .8z" color="#0072f7"/>
<path d="M146.5,335.5l4.6-1.3 2 .8-4.5 1.3z" color="#00a3f7"/>
<path d="M194.1,339.7l4.8-.7 1.9 1.3-4.8 .7z" color="#004ef7"/>
<path d="M170.3,336.5l4.7-1 2 1.1-4.7 .9z" color="#008df7"/>
<path d="M161.7,335.6l4.7-1.1 2 1-4.7 1z" color="#00a2f7"/>
<path d="M185.6,338l4.7-.8 1.9 1.2-4.7 .8z" color="#0072f7"/>
<path d="M140.1,334.7l2.3-.6 2.1 .7-2.3 .6z" color="#00b3f7"/>
<path d="M135.8,334.8l2.3-.7 2 .6-2.2 .7z" color="#00b4f7"/>
<path d="M200.8,340.3l4.8-.6 1.9 1.4-4.9 .6z" color="#0047f7"/>
<path d="M153.1,335l4.6-1.2 2 .9-4.6 1.2z" color="#00b1f7"/>
<path d="M177,336.6l4.7-.9 1.9 1.1-4.7 .9z" color="#0091f7"/>
<path d="M144.5,334.8l4.5-1.3 2.1 .7-4.6 1.3z" color="#00baf7"/>
<path d="M192.2,338.4l4.8-.7 1.9 1.3-4.8 .7z" color="#006ff7"/>
<path d="M168.4,335.5l4.6-1 2 1-4.7 1z" color="#00aaf7"/>
<path d="M207.5,341.1l4.9-.5 1.8 1.4-4.9 .5z" color="#003ef7"/>
<path d="M159.7,334.7l4.7-1.1 2 .9-4.7 1.1z" color="#00bdf7"/>
<path d="M183.6,336.8l4.8-.8 1.9 1.2-4.7 .8z" color="#0092f7"/>
<path d="M138.1,334.1l2.2-.7 2.1 .7-2.3 .6z" color="#00c9f7"/>
<path d="M198.9,339l4.9-.6 1.8 1.3-4.8 .6z" color="#006af7"/>
<path d="M151.1,334.2l4.6-1.2 2 .8-4.6 1.2z" color="#00caf7"/>
<path d="M175,335.5l4.7-.9 2 1.1-4.7 .9z" color="#00aff7"/>
<path d="M142.4,334.1l4.6-1.4 2 .8-4.5 1.3z" color="#00d2f7"/>
<path d="M131.6,333.6l2.3-.7 4.2 1.2-2.3 .7z" color="#00d3f7"/>
<path d="M190.3,337.2l4.8-.8 1.9 1.3-4.8 .7z" color="#0091f7"/>
<path d="M166.4,334.5l4.7-1 1.9 1-4.6 1z" color="#00c6f7"/>
<path d="M205.6,339.7l4.9-.5 1.9 1.4-4.9 .5z" color="#0063f7"/>
<path d="M157.7,333.8l4.7-1.1 2 .9-4.7 1.1z" color="#00d7f7"/>
<path d="M181.7,335.7l4.8-.9 1.9 1.2-4.8 .8z" color="#00b1f7"/>
<path d="M149,333.5l4.6-1.3 2.1 .8-4.6 1.2z" color="#00e2f7"/>
<path d="M197,337.7l4.9-.7 1.9 1.4-4.9 .6z" color="#008df7"/>
<path d="M212.4,340.6l4.9-.5 1.8 1.5-4.9 .4z" color="#0058f7"/>
<path d="M173,334.5l4.8-1 1.9 1.1-4.7 .9z" color="#00ccf7"/>
<path d="M140.3,333.4l4.6-1.4 2.1 .7-4.6 1.4z" color="#00e8f7"/>
<path d="M133.9,332.9l2.2-.7 4.2 1.2-2.2 .7z" color="#00e9f7"/>
<path d="M188.4,336l4.8-.8 1.9 1.2-4.8 .8z" color="#00b1f7"/>
<path d="M164.4,333.6l4.7-1.1 2 1-4.7 1z" color="#00e1f7"/>
<path d="M203.8,338.4l4.9-.6 1.8 1.4-4.9 .5z" color="#0086f7"/>
<path d="M138.2,332.8l2.3-.8 2.1 .7-2.3 .7z" color="#00f4f7"/>
<path d="M155.7,333l4.6-1.2 2.1 .9-4.7 1.1z" color="#00f1f7"/>
<path d="M179.7,334.6l4.8-.9 2 1.1-4.8 .9z" color="#00d0f7"/>
<path d="M147,332.7l4.6-1.3 2 .8-4.6 1.3z" color="#00f7f4"/>
<path d="M195.1,336.4l4.9-.7 1.9 1.3-4.9 .7z" color="#00aff7"/>
<path d="M210.5,339.2l5-.5 1.8 1.4-4.9 .5z" color="#007df7"/>
<path d="M171.1,333.5l4.7-1 2 1-4.8 1z" color="#00e9f7"/>
<path d="M127.3,332.6l2.3-.8 4.3 1.1-2.3 .7z" color="#00f7f4"/>
<path d="M162.4,332.7l4.7-1.1 2 .9-4.7 1.1z" color="#00f7f3"/>
<path d="M186.5,334.8l4.8-.8 1.9 1.2-4.8 .8z" color="#00d1f7"/>
<path d="M140.5,332l2.3-.7 2.1 .7-2.3 .7z" color="#00f7e6"/>
<path d="M201.9,337l4.9-.6 1.9 1.4-4.9 .6z" color="#00a9f7"/>
<path d="M136.1,332.2l2.3-.8 2.1 .6-2.3 .8z" color="#00f7e6"/>
<path d="M217.3,340.1l5-.4 1.8 1.5-5 .4z" color="#0071f7"/>
<path d="M153.6,332.2l4.7-1.2 2 .8-4.6 1.2z" color="#00f7e5"/>
<path d="M177.8,333.5l4.8-.9 1.9 1.1-4.8 .9z" color="#00eef7"/>
<path d="M144.9,332l4.6-1.3 2.1 .7-4.6 1.3z" color="#00f6dd"/>
<path d="M193.2,335.2l4.9-.7 1.9 1.2-4.9 .7z" color="#00d0f7"/>
<path d="M169.1,332.5l4.7-1 2 1-4.7 1z" color="#00f7ea"/>
<path d="M129.6,331.8l2.3-.8 4.2 1.2-2.2 .7z" color="#00f6de"/>
<path d="M208.7,337.8l4.9-.6 1.9 1.5-5 .5z" color="#00a1f7"/>
<path d="M160.3,331.8l4.7-1.1 2.1 .9-4.7 1.1z" color="#00f6d8"/>
<path d="M184.5,333.7l4.9-.9 1.9 1.2-4.8 .8z" color="#00f0f7"/>
<path d="M138.4,331.4l2.3-.7 2.1 .6-2.3 .7z" color="#00f6d1"/>
<path d="M200,335.7l4.9-.6 1.9 1.3-4.9 .6z" color="#00ccf7"/>
<path d="M151.6,331.4l4.6-1.2 2.1 .8-4.7 1.2z" color="#00f6cd"/>
<path d="M215.5,338.7l5-.5 1.8 1.5-5 .4z" color="#0097f7"/>
<path d="M175.8,332.5l4.8-1 2 1.1-4.8 .9z" color="#00f7e3"/>
<path d="M142.8,331.3l4.6-1.3 2.1 .7-4.6 1.3z" color="#00f5c7"/>
<path d="M131.9,331l2.2-.7 4.3 1.1-2.3 .8z" color="#00f6c8"/>
<path d="M191.3,334l4.9-.8 1.9 1.3-4.9 .7z" color="#00f0f7"/>
<path d="M167.1,331.6l4.7-1.1 2 1-4.7 1z" color="#00f6ce"/>
<path d="M123,331.7l2.3-.8 4.3 .9-2.3 .8z" color="#00f6cf"/>
<path d="M222.3,339.7l5-.4 1.8 1.6-5 .3z" color="#0089f7"/>
<path d="M206.8,336.4l5-.6 1.8 1.4-4.9 .6z" color="#00c5f7"/>
<path d="M158.3,331l4.7-1.2 2 .9-4.7 1.1z" color="#00f5bf"/>
<path d="M182.6,332.6l4.8-.9 2 1.1-4.9 .9z" color="#00f6e0"/>
<path d="M149.5,330.7l4.6-1.3 2.1 .8-4.6 1.2z" color="#00f5b5"/>
<path d="M198.1,334.5l4.9-.7 1.9 1.3-4.9 .6z" color="#00edf7"/>
<path d="M213.6,337.2l5-.5 1.9 1.5-5 .5z" color="#00bbf7"/>
<path d="M173.8,331.5l4.8-1 2 1-4.8 1z" color="#00f5c7"/>
<path d="M140.7,330.7l4.6-1.4 2.1 .7-4.6 1.3z" color="#00f5b1"/>
<path d="M134.1,330.3l2.3-.8 4.3 1.2-2.3 .7z" color="#00f5b3"/>
<path d="M125.3,330.9l2.2-.8 4.4 .9-2.3 .8z" color="#00f5b9"/>
<path d="M189.4,332.8l4.8-.8 2 1.2-4.9 .8z" color="#00f6df"/>
<path d="M165,330.7l4.8-1.2 2 1-4.7 1.1z" color="#00f5b4"/>
<path d="M204.9,335.1l5-.6 1.9 1.3-5 .6z" color="#00e8f7"/>
<path d="M220.5,338.2l5-.4 1.8 1.5-5 .4z" color="#00aff7"/>
<path d="M156.2,330.2l4.7-1.3 2.1 .9-4.7 1.2z" color="#00f4a6"/>
<path d="M180.6,331.5l4.8-.9 2 1.1-4.8 .9z" color="#00f5c2"/>
<path d="M147.4,330l4.7-1.4 2 .8-4.6 1.3z" color="#00f49e"/>
<path d="M196.2,333.2l4.9-.7 1.9 1.3-4.9 .7z" color="#00f6e1"/>
<path d="M227.3,339.3l5.1-.3 1.8 1.6-5.1 .3z" color="#00a1f7"/>
<path d="M211.8,335.8l5-.5 1.8 1.4-5 .5z" color="#00dff7"/>
<path d="M171.8,330.5l4.8-1.1 2 1.1-4.8 1z" color="#00f4ab"/>
<path d="M136.4,329.5l2.3-.7 4.3 1.2-2.3 .7z" color="#00f49d"/>
<path d="M127.5,330.1l2.3-.8 4.3 1-2.2 .7z" color="#00f4a2"/>
<path d="M118.6,330.9l2.3-.8 4.4 .8-2.3 .8z" color="#00f4ad"/>
<path d="M187.4,331.7l4.9-.9 1.9 1.2-4.8 .8z" color="#00f5c0"/>
<path d="M163,329.8l4.7-1.2 2.1 .9-4.8 1.2z" color="#00f49a"/>
<path d="M203,333.8l5-.7 1.9 1.4-5 .6z" color="#00f7e5"/>
<path d="M218.6,336.7l5.1-.4 1.8 1.5-5 .4z" color="#00d5f7"/>
<path d="M154.1,329.4l4.8-1.3 2 .8-4.7 1.3z" color="#00f38e"/>
<path d="M178.6,330.5l4.9-1 1.9 1.1-4.8 .9z" color="#00f4a5"/>
<path d="M145.3,329.3l4.7-1.4 2.1 .7-4.7 1.4z" color="#00f388"/>
<path d="M138.7,328.8l2.3-.8 4.3 1.3-2.3 .7z" color="#00f388"/>
<path d="M194.2,332l5-.8 1.9 1.3-4.9 .7z" color="#00f5c0"/>
<path d="M225.5,337.8l5.1-.4 1.8 1.6-5.1 .3z" color="#00c7f7"/>
<path d="M169.8,329.5l4.8-1 2 .9-4.8 1.1z" color="#00f390"/>
<path d="M209.9,334.5l5-.6 1.9 1.4-5 .5z" color="#00f7ec"/>
<path d="M129.8,329.3l2.3-.8 4.3 1-2.3 .8z" color="#00f38c"/>
<path d="M120.9,330.1l2.3-.9 4.3 .9-2.2 .8z" color="#00f496"/>
<path d="M160.9,328.9l4.8-1.2 2 .9-4.7 1.2z" color="#00f380"/>
<path d="M185.4,330.6l4.9-.9 2 1.1-4.9 .9z" color="#00f4a2"/>
<path d="M232.4,339l5.2-.3 1.8 1.6-5.2 .3z" color="#00b7f7"/>
<path d="M201.1,332.5l5-.7 1.9 1.3-5 .7z" color="#00f5c4"/>
<path d="M216.8,335.3l5.1-.5 1.8 1.5-5.1 .4z" color="#00f7f6"/>
<path d="M152.1,328.6l4.7-1.3 2.1 .8-4.8 1.3z" color="#00f277"/>
<path d="M176.6,329.4l4.9-1 2 1.1-4.9 1z" color="#00f389"/>
<path d="M192.3,330.8l4.9-.8 2 1.2-5 .8z" color="#00f4a1"/>
<path d="M132.1,328.5l2.3-.8 4.3 1.1-2.3 .7z" color="#00f276"/>
<path d="M167.7,328.6l4.9-1.1 2 1-4.8 1z" color="#00f275"/>
<path d="M223.7,336.3l5.1-.4 1.8 1.5-5.1 .4z" color="#00edf7"/>
<path d="M123.2,329.2l2.3-.8 4.3 .9-2.3 .8z" color="#00f37f"/>
<path d="M208,333.1l5-.6 1.9 1.4-5 .6z" color="#00f6c9"/>
<path d="M114.2,330.3l2.3-.9 4.4 .7-2.3 .8z" color="#00f38e"/>
<path d="M141,328l4.7-1.4 4.3 1.3-4.7 1.4z" color="#00f269"/>
<path d="M158.9,328.1l4.7-1.2 2.1 .8-4.8 1.2z" color="#00f268"/>
<path d="M183.5,329.5l4.9-.9 1.9 1.1-4.9 .9z" color="#00f384"/>
<path d="M230.6,337.4l5.2-.3 1.8 1.6-5.2 .3z" color="#00def7"/>
<path d="M150,327.9l4.7-1.3 2.1 .7-4.7 1.3z" color="#00f160"/>
<path d="M199.2,331.2l5-.7 1.9 1.3-5 .7z" color="#00f4a3"/>
<path d="M214.9,333.9l5.1-.5 1.9 1.4-5.1 .5z" color="#00f6d2"/>
<path d="M174.6,328.5l4.9-1.1 2 1-4.9 1z" color="#00f26d"/>
<path d="M134.4,327.7l2.3-.8 4.3 1.1-2.3 .8z" color="#00f161"/>
<path d="M125.5,328.4l2.2-.8 4.4 .9-2.3 .8z" color="#00f269"/>
<path d="M190.3,329.7l5-.9 1.9 1.2-4.9 .8z" color="#00f382"/>
<path d="M237.6,338.7l5.2-.2 1.8 1.6-5.2 .2z" color="#00ccf7"/>
<path d="M165.7,327.7l4.8-1.1 2.1 .9-4.9 1.1z" color="#00f15c"/>
<path d="M116.5,329.4l2.2-.8 4.5 .6-2.3 .9z" color="#00f277"/>
<path d="M206.1,331.8l5-.6 1.9 1.3-5 .6z" color="#00f4a7"/>
<path d="M221.9,334.8l5.1-.4 1.8 1.5-5.1 .4z" color="#00f6dd"/>
<path d="M156.8,327.3l4.8-1.2 2 .8-4.7 1.2z" color="#00f150"/>
<path d="M181.5,328.4l4.9-.9 2 1.1-4.9 .9z" color="#00f267"/>
<path d="M147.9,327.2l4.7-1.3 2.1 .7-4.7 1.3z" color="#00f14a"/>
<path d="M197.2,330l5.1-.7 1.9 1.2-5 .7z" color="#00f383"/>
<path d="M228.8,335.9l5.2-.4 1.8 1.6-5.2 .3z" color="#00f7ea"/>
<path d="M213,332.5l5.1-.6 1.9 1.5-5.1 .5z" color="#00f4af"/>
<path d="M172.6,327.5l4.8-1.1 2.1 1-4.9 1.1z" color="#00f152"/>
<path d="M136.7,326.9l2.4-.7 4.3 1.1-2.4 .7z" color="#00f14b"/>
<path d="M127.7,327.6l2.4-.8 4.3 .9-2.3 .8z" color="#00f152"/>
<path d="M118.7,328.6l2.3-.9 4.5 .7-2.3 .8z" color="#00f15f"/>
<path d="M109.7,329.9l2.3-1 4.5 .5-2.3 .9z" color="#00f272"/>
<path d="M188.4,328.6l4.9-.9 2 1.1-5 .9z" color="#00f264"/>
<path d="M163.6,326.9l4.9-1.2 2 .9-4.8 1.1z" color="#00f043"/>
<path d="M235.8,337.1l5.2-.3 1.8 1.7-5.2 .2z" color="#00f4f7"/>
<path d="M204.2,330.5l5-.7 1.9 1.4-5 .6z" color="#00f386"/>
<path d="M220,333.4l5.1-.5 1.9 1.5-5.1 .4z" color="#00f5b8"/>
<path d="M154.7,326.6l4.8-1.3 2.1 .8-4.8 1.2z" color="#00f039"/>
<path d="M179.5,327.4l4.9-1 2 1.1-4.9 .9z" color="#00f14b"/>
<path d="M242.8,338.5l5.3-.2 1.7 1.7-5.2 .1z" color="#00e1f7"/>
<path d="M145.7,326.6l4.8-1.4 2.1 .7-4.7 1.3z" color="#00f035"/>
<path d="M195.3,328.8l5-.8 2 1.3-5.1 .7z" color="#00f264"/>
<path d="M139.1,326.2l2.3-.8 4.3 1.2-2.3 .7z" color="#00f036"/>
<path d="M227,334.4l5.2-.4 1.8 1.5-5.2 .4z" color="#00f5c5"/>
<path d="M211.1,331.2l5.1-.7 1.9 1.4-5.1 .6z" color="#00f38c"/>
<path d="M170.5,326.6l4.9-1.1 2 .9-4.8 1.1z" color="#00f038"/>
<path d="M130.1,326.8l2.3-.8 4.3 .9-2.3 .8z" color="#00f03c"/>
<path d="M121,327.7l2.3-.9 4.4 .8-2.2 .8z" color="#00f048"/>
<path d="M112,328.9l2.3-.9 4.4 .6-2.2 .8z" color="#00f15a"/>
<path d="M161.6,326.1l4.8-1.3 2.1 .9-4.9 1.2z" color="#00ef2a"/>
<path d="M186.4,327.5l4.9-1 2 1.2-4.9 .9z" color="#00f047"/>
<path d="M234,335.5l5.2-.3 1.8 1.6-5.2 .3z" color="#00f6d4"/>
<path d="M202.3,329.3l5-.8 1.9 1.3-5 .7z" color="#00f266"/>
<path d="M218.1,331.9l5.2-.5 1.8 1.5-5.1 .5z" color="#00f395"/>
<path d="M152.6,325.9l4.8-1.4 2.1 .8-4.8 1.3z" color="#00ef22"/>
<path d="M177.4,326.4l5-1 2 1-4.9 1z" color="#00f02f"/>
<path d="M241,336.8l5.3-.2 1.8 1.7-5.3 .2z" color="#00f7e6"/>
<path d="M193.3,327.7l5-.9 2 1.2-5 .8z" color="#00f045"/>
<path d="M132.4,326l2.3-.8 4.4 1-2.4 .7z" color="#00ef26"/>
<path d="M168.5,325.7l4.8-1.2 2.1 1-4.9 1.1z" color="#00ef1e"/>
<path d="M225.1,332.9l5.2-.5 1.9 1.6-5.2 .4z" color="#00f4a0"/>
<path d="M209.2,329.8l5.1-.6 1.9 1.3-5.1 .7z" color="#00f26a"/>
<path d="M123.3,326.8l2.3-.8 4.5 .8-2.4 .8z" color="#00f031"/>
<path d="M114.3,328l2.2-.9 4.5 .6-2.3 .9z" color="#00f042"/>
<path d="M105.2,329.5l2.2-.9 4.6 .3-2.3 1z" color="#00f158"/>
<path d="M141.4,325.4l4.8-1.5 4.3 1.3-4.8 1.4z" color="#00ef17"/>
<path d="M248.1,338.3l5.3-.2 1.7 1.8-5.3 .1z" color="#00f4f7"/>
<path d="M159.5,325.3l4.8-1.3 2.1 .8-4.8 1.3z" color="#00ee12"/>
<path d="M184.4,326.4l5-1 1.9 1.1-4.9 1z" color="#00ef2a"/>
<path d="M232.2,334l5.2-.4 1.8 1.6-5.2 .3z" color="#00f4ae"/>
<path d="M200.3,328l5.1-.7 1.9 1.2-5 .8z" color="#00f046"/>
<path d="M150.5,325.2l4.7-1.4 2.2 .7-4.8 1.4z" color="#00ee0d"/>
<path d="M216.2,330.5l5.2-.5 1.9 1.4-5.2 .5z" color="#00f272"/>
<path d="M175.4,325.5l4.9-1.1 2.1 1-5 1z" color="#00ee15"/>
<path d="M134.7,325.2l2.4-.8 4.3 1-2.3 .8z" color="#00ee10"/>
<path d="M239.2,335.2l5.3-.3 1.8 1.7-5.3 .2z" color="#00f5bf"/>
<path d="M191.3,326.5l5.1-.8 1.9 1.1-5 .9z" color="#00ef27"/>
<path d="M125.6,326l2.4-.9 4.4 .9-2.3 .8z" color="#00ef1a"/>
<path d="M166.4,324.8l4.9-1.2 2 .9-4.8 1.2z" color="#00ee05"/>
<path d="M116.5,327.1l2.3-.9 4.5 .6-2.3 .9z" color="#00ef2a"/>
<path d="M223.3,331.4l5.2-.5 1.8 1.5-5.2 .5z" color="#00f37c"/>
<path d="M107.4,328.6l2.3-1 4.6 .4-2.3 .9z" color="#00f03f"/>
<path d="M207.3,328.5l5.1-.7 1.9 1.4-5.1 .6z" color="#00f149"/>
<path d="M157.4,324.5l4.8-1.3 2.1 .8-4.8 1.3z" color="#05ee00"/>
<path d="M246.3,336.6l5.3-.2 1.8 1.7-5.3 .2z" color="#00f6d2"/>
<path d="M182.4,325.4l4.9-1 2.1 1-5 1z" color="#00ee0e"/>
<path d="M230.3,332.4l5.3-.4 1.8 1.6-5.2 .4z" color="#00f389"/>
<path d="M198.3,326.8l5.1-.8 2 1.3-5.1 .7z" color="#00ef27"/>
<path d="M214.3,329.2l5.2-.6 1.9 1.4-5.2 .5z" color="#00f150"/>
<path d="M173.3,324.5l5-1.1 2 1-4.9 1.1z" color="#05ee00"/>
<path d="M253.4,338.1l5.3-.1 1.8 1.8-5.4 .1z" color="#00f7e8"/>
<path d="M137.1,324.4l2.3-.8 4.4 1.1-2.4 .7z" color="#05ee00"/>
<path d="M128,325.1l2.3-.8 4.4 .9-2.3 .8z" color="#00ee04"/>
<path d="M118.8,326.2l2.4-.9 4.4 .7-2.3 .8z" color="#00ee12"/>
<path d="M189.4,325.4l5-.9 2 1.2-5.1 .8z" color="#00ee0a"/>
<path d="M100.6,329.4l2.3-1 4.5 .2-2.2 .9z" color="#00f041"/>
<path d="M109.7,327.6l2.3-.9 4.5 .4-2.2 .9z" color="#00ef27"/>
<path d="M237.4,333.6l5.3-.3 1.8 1.6-5.3 .3z" color="#00f498"/>
<path d="M146.2,323.9l4.8-1.4 4.2 1.3-4.7 1.4z" color="#13ee00"/>
<path d="M164.3,324l4.9-1.2 2.1 .8-4.9 1.2z" color="#13ee00"/>
<path d="M205.4,327.3l5.1-.8 1.9 1.3-5.1 .7z" color="#00ef29"/>
<path d="M221.4,330l5.2-.5 1.9 1.4-5.2 .5z" color="#00f158"/>
<path d="M155.2,323.8l4.9-1.3 2.1 .7-4.8 1.3z" color="#1bef00"/>
<path d="M180.3,324.4l5-1.1 2 1.1-4.9 1z" color="#0dee00"/>
<path d="M244.5,334.9l5.3-.2 1.8 1.7-5.3 .2z" color="#00f4aa"/>
<path d="M196.4,325.7l5.1-.9 1.9 1.2-5.1 .8z" color="#00ee08"/>
<path d="M228.5,330.9l5.2-.4 1.9 1.5-5.3 .4z" color="#00f264"/>
<path d="M139.4,323.6l2.4-.8 4.4 1.1-2.4 .8z" color="#1bef00"/>
<path d="M212.4,327.8l5.2-.6 1.9 1.4-5.2 .6z" color="#00ef2e"/>
<path d="M171.3,323.6l4.9-1.1 2.1 .9-5 1.1z" color="#1fef00"/>
<path d="M130.3,324.3l2.4-.8 4.4 .9-2.4 .8z" color="#13ee00"/>
<path d="M251.6,336.4l5.4-.1 1.7 1.7-5.3 .1z" color="#00f5bf"/>
<path d="M121.2,325.3l2.3-.9 4.5 .7-2.4 .9z" color="#05ee00"/>
<path d="M112,326.7l2.3-.9 4.5 .4-2.3 .9z" color="#00ee0f"/>
<path d="M102.9,328.4l2.2-1 4.6 .2-2.3 1z" color="#00ef28"/>
<path d="M162.2,323.2l4.9-1.3 2.1 .9-4.9 1.2z" color="#2bef00"/>
<path d="M187.3,324.4l5.1-1 2 1.1-5 .9z" color="#13ee00"/>
<path d="M235.6,332l5.3-.3 1.8 1.6-5.3 .3z" color="#00f272"/>
<path d="M203.4,326l5.2-.7 1.9 1.2-5.1 .8z" color="#00ee09"/>
<path d="M219.5,328.6l5.2-.6 1.9 1.5-5.2 .5z" color="#00f036"/>
<path d="M258.7,338l5.5 0 1.7 1.8-5.4 0z" color="#00f6d6"/>
<path d="M178.3,323.4l5-1.1 2 1-5 1.1z" color="#28ef00"/>
<path d="M242.7,333.3l5.3-.3 1.8 1.7-5.3 .2z" color="#00f383"/>
<path d="M194.4,324.5l5.1-.9 2 1.2-5.1 .9z" color="#15ee00"/>
<path d="M132.7,323.5l2.3-.9 4.4 1-2.3 .8z" color="#29ef00"/>
<path d="M226.6,329.5l5.3-.5 1.8 1.5-5.2 .4z" color="#00f040"/>
<path d="M169.2,322.8l4.9-1.2 2.1 .9-4.9 1.1z" color="#38f000"/>
<path d="M210.5,326.5l5.2-.6 1.9 1.3-5.2 .6z" color="#00ee0d"/>
<path d="M151,322.5l4.8-1.5 4.3 1.5-4.9 1.3z" color="#3bf000"/>
<path d="M123.5,324.4l2.3-.8 4.5 .7-2.3 .8z" color="#1cef00"/>
<path d="M95.9,329.4l2.3-1.1 4.7 .1-2.3 1z" color="#00ef2d"/>
<path d="M114.3,325.8l2.3-1 4.6 .5-2.4 .9z" color="#09ee00"/>
<path d="M105.1,327.4l2.3-1 4.6 .3-2.3 .9z" color="#00ee0f"/>
<path d="M249.8,334.7l5.4-.2 1.8 1.8-5.4 .1z" color="#00f496"/>
<path d="M141.8,322.8l4.8-1.5 4.4 1.2-4.8 1.4z" color="#3af000"/>
<path d="M160.1,322.5l4.9-1.3 2.1 .7-4.9 1.3z" color="#41f000"/>
<path d="M185.3,323.3l5.1-1 2 1.1-5.1 1z" color="#2fef00"/>
<path d="M233.7,330.5l5.3-.4 1.9 1.6-5.3 .3z" color="#00f14d"/>
<path d="M201.5,324.8l5.1-.8 2 1.3-5.2 .7z" color="#16ee00"/>
<path d="M217.6,327.2l5.2-.6 1.9 1.4-5.2 .6z" color="#00ee14"/>
<path d="M257,336.3l5.4-.1 1.8 1.8-5.5 0z" color="#00f4ac"/>
<path d="M176.2,322.5l5-1.1 2.1 .9-5 1.1z" color="#42f000"/>
<path d="M135,322.6l2.4-.8 4.4 1-2.4 .8z" color="#3ef000"/>
<path d="M240.9,331.7l5.3-.3 1.8 1.6-5.3 .3z" color="#00f15d"/>
<path d="M264.2,338l5.5 0 1.7 1.9-5.5-.1z" color="#00f5c5"/>
<path d="M192.4,323.4l5.1-.9 2 1.1-5.1 .9z" color="#33f000"/>
<path d="M125.8,323.6l2.4-.9 4.5 .8-2.4 .8z" color="#33f000"/>
<path d="M167.1,321.9l5-1.2 2 .9-4.9 1.2z" color="#50f100"/>
<path d="M224.7,328l5.3-.5 1.9 1.5-5.3 .5z" color="#00ef1d"/>
<path d="M116.6,324.8l2.4-.9 4.5 .5-2.3 .9z" color="#21ef00"/>
<path d="M208.6,325.3l5.1-.7 2 1.3-5.2 .6z" color="#13ee00"/>
<path d="M98.2,328.3l2.3-1 4.6 .1-2.2 1z" color="#00ee13"/>
<path d="M107.4,326.4l2.3-1 4.6 .4-2.3 .9z" color="#0aee00"/>
<path d="M158,321.7l4.9-1.3 2.1 .8-4.9 1.3z" color="#57f100"/>
<path d="M248,333l5.5-.2 1.7 1.7-5.4 .2z" color="#00f26f"/>
<path d="M183.3,322.3l5-1 2.1 1-5.1 1z" color="#4af100"/>
<path d="M231.9,329l5.3-.4 1.8 1.5-5.3 .4z" color="#00ef28"/>
<path d="M199.5,323.6l5.1-.8 2 1.2-5.1 .8z" color="#34f000"/>
<path d="M215.7,325.9l5.2-.7 1.9 1.4-5.2 .6z" color="#0eee00"/>
<path d="M255.2,334.5l5.5-.1 1.7 1.8-5.4 .1z" color="#00f384"/>
<path d="M174.1,321.6l5-1.2 2.1 1-5 1.1z" color="#5bf100"/>
<path d="M137.4,321.8l2.4-.8 4.4 1-2.4 .8z" color="#54f100"/>
<path d="M128.2,322.7l2.4-.9 4.4 .8-2.3 .9z" color="#49f100"/>
<path d="M239,330.1l5.4-.3 1.8 1.6-5.3 .3z" color="#00f037"/>
<path d="M91.2,329.5l2.3-1 4.7-.2-2.3 1.1z" color="#00ef1c"/>
<path d="M119,323.9l2.3-.9 4.5 .6-2.3 .8z" color="#39f000"/>
<path d="M190.4,322.3l5.1-.9 2 1.1-5.1 .9z" color="#4ff100"/>
<path d="M146.6,321.3l4.9-1.5 4.3 1.2-4.8 1.5z" color="#63f200"/>
<path d="M165,321.2l4.9-1.3 2.2 .8-5 1.2z" color="#67f200"/>
<path d="M100.5,327.3l2.3-1 4.6 .1-2.3 1z" color="#06ee00"/>
<path d="M109.7,325.4l2.3-.9 4.6 .3-2.3 1z" color="#22ef00"/>
<path d="M262.4,336.2l5.5 0 1.8 1.8-5.5 0z" color="#00f49b"/>
<path d="M222.8,326.6l5.3-.5 1.9 1.4-5.3 .5z" color="#06ee00"/>
<path d="M206.6,324l5.2-.7 1.9 1.3-5.1 .7z" color="#32f000"/>
<path d="M270.2,338.6l5.6 .1 1.1 1.3-5.5-.1z" color="#00f5bc"/>
<path d="M155.8,321l4.9-1.3 2.2 .7-4.9 1.3z" color="#6df200"/>
<path d="M181.2,321.4l5.1-1.1 2 1-5 1z" color="#64f200"/>
<path d="M246.2,331.4l5.5-.2 1.8 1.6-5.5 .2z" color="#00f048"/>
<path d="M197.5,322.5l5.1-.9 2 1.2-5.1 .8z" color="#51f100"/>
<path d="M230,327.5l5.3-.4 1.9 1.5-5.3 .4z" color="#00ee05"/>
<path d="M139.8,321l2.4-.8 4.4 1.1-2.4 .7z" color="#69f200"/>
<path d="M213.7,324.6l5.3-.7 1.9 1.3-5.2 .7z" color="#2eef00"/>
<path d="M172.1,320.7l5-1.2 2 .9-5 1.2z" color="#74f200"/>
<path d="M253.5,332.8l5.4-.1 1.8 1.7-5.5 .1z" color="#00f15c"/>
<path d="M130.6,321.8l2.3-.8 4.5 .8-2.4 .8z" color="#5ff100"/>
<path d="M121.3,323l2.4-.9 4.5 .6-2.4 .9z" color="#50f100"/>
<path d="M269.1,337.4l5.5 0 1.2 1.3-5.6-.1z" color="#00f4a0"/>
<path d="M93.5,328.5l2.3-1.1 4.7-.1-2.3 1z" color="#00ee02"/>
<path d="M112,324.5l2.4-1 4.6 .4-2.4 .9z" color="#3af000"/>
<path d="M102.8,326.3l2.3-1 4.6 .1-2.3 1z" color="#1fef00"/>
<path d="M188.3,321.3l5.1-1 2.1 1.1-5.1 .9z" color="#6af200"/>
<path d="M162.9,320.4l4.9-1.3 2.1 .8-4.9 1.3z" color="#7ef300"/>
<path d="M237.2,328.6l5.4-.4 1.8 1.6-5.4 .3z" color="#00ee12"/>
<path d="M260.7,334.4l5.5 0 1.7 1.8-5.5 0z" color="#00f272"/>
<path d="M204.6,322.8l5.2-.8 2 1.3-5.2 .7z" color="#51f100"/>
<path d="M220.9,325.2l5.3-.6 1.9 1.5-5.3 .5z" color="#28ef00"/>
<path d="M179.1,320.4l5.1-1.1 2.1 1-5.1 1.1z" color="#7ef300"/>
<path d="M244.4,329.8l5.4-.3 1.9 1.7-5.5 .2z" color="#00ef22"/>
<path d="M275.8,338.7l5.6 .1 1.1 1.3-5.6-.1z" color="#00f4ae"/>
<path d="M195.5,321.4l5.1-.9 2 1.1-5.1 .9z" color="#6ef200"/>
<path d="M267.9,336.2l5.6 0 1.1 1.2-5.5 0z" color="#00f384"/>
<path d="M228.1,326.1l5.4-.5 1.8 1.5-5.3 .4z" color="#1eef00"/>
<path d="M132.9,321l2.4-.9 4.5 .9-2.4 .8z" color="#76f200"/>
<path d="M211.8,323.3l5.2-.7 2 1.3-5.3 .7z" color="#4ef100"/>
<path d="M169.9,319.9l5.1-1.3 2.1 .9-5 1.2z" color="#8cf300"/>
<path d="M151.5,319.8l4.9-1.5 4.3 1.4-4.9 1.3z" color="#8bf300"/>
<path d="M86.5,329.8l2.2-1.1 4.8-.2-2.3 1z" color="#00ee0d"/>
<path d="M123.7,322.1l2.3-.9 4.6 .6-2.4 .9z" color="#67f200"/>
<path d="M95.8,327.4l2.2-1.1 4.8 0-2.3 1z" color="#18ef00"/>
<path d="M251.7,331.2l5.4-.2 1.8 1.7-5.4 .1z" color="#00f034"/>
<path d="M114.4,323.5l2.3-.9 4.6 .4-2.3 .9z" color="#52f100"/>
<path d="M105.1,325.3l2.3-1 4.6 .2-2.3 .9z" color="#38f000"/>
<path d="M142.2,320.2l4.9-1.6 4.4 1.2-4.9 1.5z" color="#89f300"/>
<path d="M160.7,319.7l5-1.4 2.1 .8-4.9 1.3z" color="#94f300"/>
<path d="M186.3,320.3l5.1-1 2 1-5.1 1z" color="#85f300"/>
<path d="M235.3,327.1l5.4-.5 1.9 1.6-5.4 .4z" color="#12ee00"/>
<path d="M202.6,321.6l5.2-.8 2 1.2-5.2 .8z" color="#6ff200"/>
<path d="M219,323.9l5.3-.7 1.9 1.4-5.3 .6z" color="#49f100"/>
<path d="M258.9,332.7l5.5-.1 1.8 1.8-5.5 0z" color="#00f149"/>
<path d="M274.6,337.4l5.7 .1 1.1 1.3-5.6-.1z" color="#00f391"/>
<path d="M177.1,319.5l5-1.1 2.1 .9-5.1 1.1z" color="#97f400"/>
<path d="M242.6,328.2l5.4-.3 1.8 1.6-5.4 .3z" color="#04ee00"/>
<path d="M266.2,334.4l5.6-.1 1.7 1.9-5.6 0z" color="#00f161"/>
<path d="M135.3,320.1l2.5-.8 4.4 .9-2.4 .8z" color="#8bf300"/>
<path d="M193.4,320.3l5.2-1 2 1.2-5.1 .9z" color="#8af300"/>
<path d="M126,321.2l2.4-.9 4.5 .7-2.3 .8z" color="#7ef300"/>
<path d="M226.2,324.6l5.4-.5 1.9 1.5-5.4 .5z" color="#41f000"/>
<path d="M167.8,319.1l5-1.3 2.2 .8-5.1 1.3z" color="#a3f400"/>
<path d="M88.7,328.7l2.3-1.1 4.8-.2-2.3 1.1z" color="#0dee00"/>
<path d="M209.8,322l5.3-.7 1.9 1.3-5.2 .7z" color="#6ef200"/>
<path d="M116.7,322.6l2.4-1 4.6 .5-2.4 .9z" color="#6af200"/>
<path d="M98,326.3l2.3-1 4.8 0-2.3 1z" color="#32f000"/>
<path d="M107.4,324.3l2.3-1 4.7 .2-2.4 1z" color="#51f100"/>
<path d="M249.8,329.5l5.5-.2 1.8 1.7-5.4 .2z" color="#00ee0d"/>
<path d="M281.4,338.8l5.6 .2 1.2 1.3-5.7-.2z" color="#00f4a0"/>
<path d="M184.2,319.3l5.1-1.1 2.1 1.1-5.1 1z" color="#a0f400"/>
<path d="M273.5,336.2l5.6 .1 1.2 1.2-5.7-.1z" color="#00f274"/>
<path d="M233.5,325.6l5.4-.5 1.8 1.5-5.4 .5z" color="#36f000"/>
<path d="M200.6,320.5l5.2-.9 2 1.2-5.2 .8z" color="#8df300"/>
<path d="M217,322.6l5.4-.7 1.9 1.3-5.3 .7z" color="#69f200"/>
<path d="M257.1,331l5.6-.2 1.7 1.8-5.5 .1z" color="#00ef21"/>
<path d="M175,318.6l5-1.1 2.1 .9-5 1.1z" color="#aff500"/>
<path d="M137.8,319.3l2.4-.8 4.4 .9-2.4 .8z" color="#a1f400"/>
<path d="M156.4,318.3l5-1.4 4.3 1.4-5 1.4z" color="#b3f500"/>
<path d="M81.6,330.3l2.3-1.1 4.8-.5-2.2 1.1z" color="#00ee02"/>
<path d="M128.4,320.3l2.4-.9 4.5 .7-2.4 .9z" color="#94f300"/>
<path d="M240.7,326.6l5.5-.3 1.8 1.6-5.4 .3z" color="#29ef00"/>
<path d="M264.4,332.6l5.6-.1 1.8 1.8-5.6 .1z" color="#00f038"/>
<path d="M191.4,319.3l5.2-1 2 1-5.2 1z" color="#a6f400"/>
<path d="M91,327.6l2.3-1.1 4.7-.2-2.2 1.1z" color="#28ef00"/>
<path d="M119.1,321.6l2.3-.9 4.6 .5-2.3 .9z" color="#82f300"/>
<path d="M165.7,318.3l5-1.3 2.1 .8-5 1.3z" color="#b9f500"/>
<path d="M147.1,318.6l4.9-1.5 4.4 1.2-4.9 1.5z" color="#b2f500"/>
<path d="M280.3,337.5l5.6 .2 1.1 1.3-5.6-.2z" color="#00f382"/>
<path d="M100.3,325.3l2.4-1 4.7 0-2.3 1z" color="#4cf100"/>
<path d="M109.7,323.3l2.4-1 4.6 .3-2.3 .9z" color="#6af200"/>
<path d="M224.3,323.2l5.4-.5 1.9 1.4-5.4 .5z" color="#62f200"/>
<path d="M207.8,320.8l5.3-.8 2 1.3-5.3 .7z" color="#8cf300"/>
<path d="M271.8,334.3l5.6 .1 1.7 1.9-5.6-.1z" color="#00f151"/>
<path d="M248,327.9l5.5-.3 1.8 1.7-5.5 .2z" color="#19ef00"/>
<path d="M182.1,318.4l5.2-1.1 2 .9-5.1 1.1z" color="#b9f500"/>
<path d="M231.6,324.1l5.4-.5 1.9 1.5-5.4 .5z" color="#59f100"/>
<path d="M198.6,319.3l5.2-.9 2 1.2-5.2 .9z" color="#a9f400"/>
<path d="M215.1,321.3l5.3-.7 2 1.3-5.4 .7z" color="#89f300"/>
<path d="M140.2,318.5l2.4-.8 4.5 .9-2.5 .8z" color="#b6f500"/>
<path d="M287,339l5.8 .2 1.1 1.4-5.7-.3z" color="#00f393"/>
<path d="M172.8,317.8l5.1-1.2 2.1 .9-5 1.1z" color="#c7f500"/>
<path d="M255.3,329.3l5.6-.2 1.8 1.7-5.6 .2z" color="#06ee00"/>
<path d="M279.1,336.3l5.7 .1 1.1 1.3-5.6-.2z" color="#00f266"/>
<path d="M130.8,319.4l2.4-.9 4.6 .8-2.5 .8z" color="#abf400"/>
<path d="M83.9,329.2l2.3-1.2 4.8-.4-2.3 1.1z" color="#1aef00"/>
<path d="M121.4,320.7l2.4-.9 4.6 .5-2.4 .9z" color="#99f400"/>
<path d="M93.3,326.5l2.3-1 4.7-.2-2.3 1z" color="#42f000"/>
<path d="M112.1,322.3l2.3-1 4.7 .3-2.4 1z" color="#82f300"/>
<path d="M102.7,324.3l2.3-1.1 4.7 .1-2.3 1z" color="#65f200"/>
<path d="M189.3,318.2l5.2-1 2.1 1.1-5.2 1z" color="#c1f500"/>
<path d="M238.9,325.1l5.4-.4 1.9 1.6-5.5 .3z" color="#4df100"/>
<path d="M163.5,317.6l5.1-1.4 2.1 .8-5 1.3z" color="#cff600"/>
<path d="M262.7,330.8l5.6-.1 1.7 1.8-5.6 .1z" color="#00ee0f"/>
<path d="M205.8,319.6l5.3-.8 2 1.2-5.3 .8z" color="#aaf400"/>
<path d="M222.4,321.9l5.3-.6 2 1.4-5.4 .5z" color="#83f300"/>
<path d="M180,317.5l5.2-1.2 2.1 1-5.2 1.1z" color="#d2f600"/>
<path d="M270,332.5l5.7 0 1.7 1.9-5.6-.1z" color="#00ef27"/>
<path d="M285.9,337.7l5.8 .2 1.1 1.3-5.8-.2z" color="#00f275"/>
<path d="M246.2,326.3l5.5-.3 1.8 1.6-5.5 .3z" color="#3ef000"/>
<path d="M278,335l5.7 .1 1.1 1.3-5.7-.1z" color="#00f149"/>
<path d="M142.6,317.7l2.5-.9 4.4 1.1-2.4 .7z" color="#ccf600"/>
<path d="M196.6,318.3l5.2-1 2 1.1-5.2 .9z" color="#c5f500"/>
<path d="M229.7,322.7l5.4-.6 1.9 1.5-5.4 .5z" color="#7bf200"/>
<path d="M213.1,320l5.3-.8 2 1.4-5.3 .7z" color="#a8f400"/>
<path d="M76.8,330.9l2.2-1.1 4.9-.6-2.3 1.1z" color="#07ee00"/>
<path d="M133.2,318.5l2.5-.8 4.5 .8-2.4 .8z" color="#c1f500"/>
<path d="M170.7,317l5.1-1.3 2.1 .9-5.1 1.2z" color="#def600"/>
<path d="M152,317.1l5-1.5 4.4 1.3-5 1.4z" color="#dbf600"/>
<path d="M253.5,327.6l5.6-.2 1.8 1.7-5.6 .2z" color="#2cef00"/>
<path d="M86.2,328l2.2-1.1 4.9-.4-2.3 1.1z" color="#35f000"/>
<path d="M123.8,319.8l2.4-.9 4.6 .5-2.4 .9z" color="#b0f500"/>
<path d="M95.6,325.5l2.3-1.1 4.8-.1-2.4 1z" color="#5cf100"/>
<path d="M114.4,321.3l2.4-.9 4.6 .3-2.3 .9z" color="#9af400"/>
<path d="M105,323.2l2.3-1 4.8 .1-2.4 1z" color="#7ef300"/>
<path d="M161.4,316.9l5-1.4 2.2 .7-5.1 1.4z" color="#e4f700"/>
<path d="M187.3,317.3l5.2-1.1 2 1-5.2 1z" color="#dbf600"/>
<path d="M292.8,339.2l5.7 .3 1.1 1.4-5.7-.3z" color="#00f387"/>
<path d="M237,323.6l5.5-.4 1.8 1.5-5.4 .4z" color="#70f200"/>
<path d="M284.8,336.4l5.7 .2 1.2 1.3-5.8-.2z" color="#00f158"/>
<path d="M260.9,329.1l5.6-.2 1.8 1.8-5.6 .1z" color="#18ef00"/>
<path d="M203.8,318.4l5.3-.8 2 1.2-5.3 .8z" color="#c7f500"/>
<path d="M220.4,320.6l5.4-.7 1.9 1.4-5.3 .6z" color="#a4f400"/>
<path d="M276.8,333.7l5.7 .1 1.2 1.3-5.7-.1z" color="#00ef2d"/>
<path d="M177.9,316.6l5.2-1.2 2.1 .9-5.2 1.2z" color="#eaf700"/>
<path d="M145.1,316.8l2.5-.8 4.4 1.1-2.5 .8z" color="#e1f600"/>
<path d="M244.3,324.7l5.6-.4 1.8 1.7-5.5 .3z" color="#63f200"/>
<path d="M268.3,330.7l5.6 0 1.8 1.8-5.7 0z" color="#02ee00"/>
<path d="M135.7,317.7l2.4-.9 4.5 .9-2.4 .8z" color="#d7f600"/>
<path d="M194.5,317.2l5.3-1 2 1.1-5.2 1z" color="#e1f600"/>
<path d="M79,329.8l2.3-1.2 4.9-.6-2.3 1.2z" color="#23ef00"/>
<path d="M227.7,321.3l5.5-.6 1.9 1.4-5.4 .6z" color="#9df400"/>
<path d="M126.2,318.9l2.4-1 4.6 .6-2.4 .9z" color="#c7f500"/>
<path d="M168.6,316.2l5.1-1.3 2.1 .8-5.1 1.3z" color="#f4f700"/>
<path d="M211.1,318.8l5.4-.8 1.9 1.2-5.3 .8z" color="#c7f500"/>
<path d="M88.4,326.9l2.3-1.1 4.9-.3-2.3 1z" color="#50f100"/>
<path d="M291.7,337.9l5.7 .3 1.1 1.3-5.7-.3z" color="#00f269"/>
<path d="M116.8,320.4l2.4-1 4.6 .4-2.4 .9z" color="#b2f500"/>
<path d="M97.9,324.4l2.3-1.1 4.8-.1-2.3 1.1z" color="#76f200"/>
<path d="M107.3,322.2l2.4-1 4.7 .1-2.3 1z" color="#97f400"/>
<path d="M251.7,326l5.6-.3 1.8 1.7-5.6 .2z" color="#52f100"/>
<path d="M283.7,335.1l5.7 .2 1.1 1.3-5.7-.2z" color="#00f03b"/>
<path d="M275.7,332.5l5.7 .1 1.1 1.2-5.7-.1z" color="#00ee11"/>
<path d="M185.2,316.3l5.2-1.1 2.1 1-5.2 1.1z" color="#f4f700"/>
<path d="M235.1,322.1l5.5-.5 1.9 1.6-5.5 .4z" color="#93f300"/>
<path d="M201.8,317.3l5.3-.9 2 1.2-5.3 .8z" color="#e4f700"/>
<path d="M218.4,319.2l5.4-.7 2 1.4-5.4 .7z" color="#c3f500"/>
<path d="M259.1,327.4l5.6-.2 1.8 1.7-5.6 .2z" color="#3ff000"/>
<path d="M298.5,339.5l5.9 .4 1.1 1.4-5.9-.4z" color="#00f27b"/>
<path d="M175.8,315.7l5.2-1.2 2.1 .9-5.2 1.2z" color="#f7f200"/>
<path d="M71.8,331.8l2.3-1.3 4.9-.7-2.2 1.1z" color="#0eee00"/>
<path d="M138.1,316.8l2.5-.8 4.5 .8-2.5 .9z" color="#ecf700"/>
<path d="M157,315.6l5-1.5 4.4 1.4-5 1.4z" color="#f7f200"/>
<path d="M290.5,336.6l5.8 .2 1.1 1.4-5.7-.3z" color="#00f14b"/>
<path d="M242.5,323.2l5.5-.4 1.9 1.5-5.6 .4z" color="#86f300"/>
<path d="M266.5,328.9l5.7 0 1.7 1.8-5.6 0z" color="#2aef00"/>
<path d="M81.3,328.6l2.3-1.2 4.8-.5-2.2 1.1z" color="#3ff000"/>
<path d="M128.6,317.9l2.5-.9 4.6 .7-2.5 .8z" color="#def600"/>
<path d="M282.5,333.8l5.8 .2 1.1 1.3-5.7-.2z" color="#00ef1e"/>
<path d="M192.5,316.2l5.2-1.1 2.1 1.1-5.3 1z" color="#f7f500"/>
<path d="M90.7,325.8l2.4-1.1 4.8-.3-2.3 1.1z" color="#6af200"/>
<path d="M119.2,319.4l2.4-1 4.6 .5-2.4 .9z" color="#caf600"/>
<path d="M166.4,315.5l5.1-1.4 2.2 .8-5.1 1.3z" color="#f7ee00"/>
<path d="M147.6,316l5-1.5 4.4 1.1-5 1.5z" color="#f7f300"/>
<path d="M225.8,319.9l5.4-.6 2 1.4-5.5 .6z" color="#bdf500"/>
<path d="M100.2,323.3l2.4-1 4.7-.1-2.3 1z" color="#90f300"/>
<path d="M109.7,321.2l2.4-1 4.7 .2-2.4 .9z" color="#b0f500"/>
<path d="M209.1,317.6l5.4-.9 2 1.3-5.4 .8z" color="#e4f700"/>
<path d="M273.9,330.7l5.8 0 1.7 1.9-5.7-.1z" color="#12ee00"/>
<path d="M249.9,324.3l5.5-.3 1.9 1.7-5.6 .3z" color="#77f200"/>
<path d="M183.1,315.4l5.2-1.2 2.1 1-5.2 1.1z" color="#f7ed00"/>
<path d="M297.4,338.2l5.9 .3 1.1 1.4-5.9-.4z" color="#00f15d"/>
<path d="M233.2,320.7l5.5-.5 1.9 1.4-5.5 .5z" color="#b5f500"/>
<path d="M199.8,316.2l5.3-.9 2 1.1-5.3 .9z" color="#f7f300"/>
<path d="M289.4,335.3l5.8 .2 1.1 1.3-5.8-.2z" color="#00ef2e"/>
<path d="M216.5,318l5.4-.8 1.9 1.3-5.4 .7z" color="#e2f700"/>
<path d="M257.3,325.7l5.6-.2 1.8 1.7-5.6 .2z" color="#66f200"/>
<path d="M140.6,316l2.4-.9 4.6 .9-2.5 .8z" color="#f7f200"/>
<path d="M281.4,332.6l5.8 .1 1.1 1.3-5.8-.2z" color="#00ee02"/>
<path d="M173.7,314.9l5.1-1.2 2.2 .8-5.2 1.2z" color="#f7e700"/>
<path d="M74.1,330.5l2.2-1.2 5-.7-2.3 1.2z" color="#2aef00"/>
<path d="M131.1,317l2.4-.9 4.6 .7-2.4 .9z" color="#f4f700"/>
<path d="M83.6,327.4l2.3-1.1 4.8-.5-2.3 1.1z" color="#5af100"/>
<path d="M121.6,318.4l2.4-.9 4.6 .4-2.4 1z" color="#e1f600"/>
<path d="M93.1,324.7l2.3-1.1 4.8-.3-2.3 1.1z" color="#84f300"/>
<path d="M240.6,321.6l5.5-.4 1.9 1.6-5.5 .4z" color="#aaf400"/>
<path d="M112.1,320.2l2.4-1 4.7 .2-2.4 1z" color="#c8f500"/>
<path d="M102.6,322.3l2.3-1.1 4.8 0-2.4 1z" color="#a9f400"/>
<path d="M190.4,315.2l5.2-1.1 2.1 1-5.2 1.1z" color="#f7e900"/>
<path d="M264.7,327.2l5.7-.1 1.8 1.8-5.7 0z" color="#51f100"/>
<path d="M223.8,318.5l5.5-.6 1.9 1.4-5.4 .6z" color="#def600"/>
<path d="M207.1,316.4l5.4-.9 2 1.2-5.4 .9z" color="#f7f200"/>
<path d="M296.3,336.8l5.9 .3 1.1 1.4-5.9-.3z" color="#00f03f"/>
<path d="M288.3,334l5.8 .1 1.1 1.4-5.8-.2z" color="#00ee11"/>
<path d="M272.2,328.9l5.7-.1 1.8 1.9-5.8 0z" color="#3af000"/>
<path d="M248,322.8l5.6-.4 1.8 1.6-5.5 .3z" color="#9cf400"/>
<path d="M181,314.5l5.2-1.2 2.1 .9-5.2 1.2z" color="#f7e100"/>
<path d="M162,314.1l5.1-1.4 4.4 1.4-5.1 1.4z" color="#f7df00"/>
<path d="M66.8,332.7l2.3-1.2 5-1-2.3 1.3z" color="#11ee00"/>
<path d="M143,315.1l2.5-.8 4.5 1-2.4 .7z" color="#f7e700"/>
<path d="M231.2,319.3l5.6-.6 1.9 1.5-5.5 .5z" color="#d6f600"/>
<path d="M197.7,315.1l5.3-.9 2.1 1.1-5.3 .9z" color="#f7e600"/>
<path d="M279.7,330.7l5.7 0 1.8 2-5.8-.1z" color="#21ef00"/>
<path d="M214.5,316.7l5.4-.7 2 1.2-5.4 .8z" color="#f7f300"/>
<path d="M76.3,329.3l2.3-1.1 5-.8-2.3 1.2z" color="#46f000"/>
<path d="M133.5,316.1l2.5-.8 4.6 .7-2.5 .8z" color="#f7ee00"/>
<path d="M171.5,314.1l5.2-1.3 2.1 .9-5.1 1.2z" color="#f7dc00"/>
<path d="M255.4,324l5.7-.2 1.8 1.7-5.6 .2z" color="#8bf300"/>
<path d="M152.6,314.5l5-1.6 4.4 1.2-5 1.5z" color="#f7df00"/>
<path d="M85.9,326.3l2.3-1.2 4.9-.4-2.4 1.1z" color="#75f200"/>
<path d="M124,317.5l2.4-1 4.7 .5-2.5 .9z" color="#f7f700"/>
<path d="M95.4,323.6l2.3-1.1 4.9-.2-2.4 1z" color="#9ff400"/>
<path d="M114.5,319.2l2.4-1 4.7 .2-2.4 1z" color="#e0f600"/>
<path d="M104.9,321.2l2.4-1 4.8 0-2.4 1z" color="#c2f500"/>
<path d="M295.2,335.5l5.9 .2 1.1 1.4-5.9-.3z" color="#00ef22"/>
<path d="M188.3,314.2l5.2-1.1 2.1 1-5.2 1.1z" color="#f7dc00"/>
<path d="M238.7,320.2l5.5-.5 1.9 1.5-5.5 .4z" color="#ccf600"/>
<path d="M287.2,332.7l5.8 .1 1.1 1.3-5.8-.1z" color="#0cee00"/>
<path d="M262.9,325.5l5.7-.2 1.8 1.8-5.7 .1z" color="#78f200"/>
<path d="M205.1,315.3l5.3-1 2.1 1.2-5.4 .9z" color="#f7e400"/>
<path d="M221.9,317.2l5.4-.7 2 1.4-5.5 .6z" color="#f7f500"/>
<path d="M178.8,313.7l5.2-1.3 2.2 .9-5.2 1.2z" color="#f7d500"/>
<path d="M145.5,314.3l2.5-.8 4.6 1-2.6 .8z" color="#f7dd00"/>
<path d="M270.4,327.1l5.8-.1 1.7 1.8-5.7 .1z" color="#63f200"/>
<path d="M246.1,321.2l5.6-.4 1.9 1.6-5.6 .4z" color="#c0f500"/>
<path d="M69.1,331.5l2.2-1.2 5-1-2.2 1.2z" color="#2eef00"/>
<path d="M136,315.3l2.5-.9 4.5 .7-2.4 .9z" color="#f7e300"/>
<path d="M195.6,314.1l5.4-1 2 1.1-5.3 .9z" color="#f7d900"/>
<path d="M229.3,317.9l5.5-.6 2 1.4-5.6 .6z" color="#f7f700"/>
<path d="M78.6,328.2l2.3-1.2 5-.7-2.3 1.1z" color="#62f100"/>
<path d="M294.1,334.1l5.9 .3 1.1 1.3-5.9-.2z" color="#00ee04"/>
<path d="M212.5,315.5l5.4-.8 2 1.3-5.4 .7z" color="#f7e400"/>
<path d="M126.4,316.5l2.5-.9 4.6 .5-2.4 .9z" color="#f7ec00"/>
<path d="M277.9,328.8l5.8 0 1.7 1.9-5.7 0z" color="#4af100"/>
<path d="M88.2,325.1l2.3-1.1 4.9-.4-2.3 1.1z" color="#90f300"/>
<path d="M116.9,318.2l2.4-1 4.7 .3-2.4 .9z" color="#f7f700"/>
<path d="M97.7,322.5l2.4-1.1 4.8-.2-2.3 1.1z" color="#b8f500"/>
<path d="M253.6,322.4l5.7-.3 1.8 1.7-5.7 .2z" color="#b0f500"/>
<path d="M107.3,320.2l2.4-1.1 4.8 .1-2.4 1z" color="#dbf600"/>
<path d="M285.4,330.7l5.9 .2 1.7 1.9-5.8-.1z" color="#2fef00"/>
<path d="M186.2,313.3l5.2-1.1 2.1 .9-5.2 1.1z" color="#f7d000"/>
<path d="M236.8,318.7l5.5-.5 1.9 1.5-5.5 .5z" color="#eef700"/>
<path d="M261.1,323.8l5.7-.2 1.8 1.7-5.7 .2z" color="#9ef400"/>
<path d="M203,314.2l5.4-1 2 1.1-5.3 1z" color="#f7d600"/>
<path d="M219.9,316l5.5-.8 1.9 1.3-5.4 .7z" color="#f7e500"/>
<path d="M167.1,312.7l5.2-1.4 4.4 1.5-5.2 1.3z" color="#f7cc00"/>
<path d="M61.8,333.9l2.2-1.3 5.1-1.1-2.3 1.2z" color="#12ee00"/>
<path d="M176.7,312.8l5.2-1.2 2.1 .8-5.2 1.3z" color="#f7ca00"/>
<path d="M293,332.8l5.9 .2 1.1 1.4-5.9-.3z" color="#19ef00"/>
<path d="M71.3,330.3l2.3-1.3 5-.8-2.3 1.1z" color="#4af100"/>
<path d="M138.5,314.4l2.5-.9 4.5 .8-2.5 .8z" color="#f7d800"/>
<path d="M157.6,312.9l5.1-1.5 4.4 1.3-5.1 1.4z" color="#f7cb00"/>
<path d="M244.2,319.7l5.7-.4 1.8 1.5-5.6 .4z" color="#e3f700"/>
<path d="M268.6,325.3l5.8-.1 1.8 1.8-5.8 .1z" color="#8af300"/>
<path d="M80.9,327l2.3-1.2 5-.7-2.3 1.2z" color="#7df300"/>
<path d="M128.9,315.6l2.5-.9 4.6 .6-2.5 .8z" color="#f7e000"/>
<path d="M193.5,313.1l5.4-1.1 2.1 1.1-5.4 1z" color="#f7cc00"/>
<path d="M227.3,316.5l5.6-.6 1.9 1.4-5.5 .6z" color="#f7e800"/>
<path d="M90.5,324l2.3-1.1 4.9-.4-2.3 1.1z" color="#abf400"/>
<path d="M119.3,317.2l2.4-1 4.7 .3-2.4 1z" color="#f7eb00"/>
<path d="M148,313.5l5.1-1.6 4.5 1-5 1.6z" color="#f7ce00"/>
<path d="M210.4,314.3l5.5-.8 2 1.2-5.4 .8z" color="#f7d600"/>
<path d="M100.1,321.4l2.4-1.1 4.8-.1-2.4 1z" color="#d2f600"/>
<path d="M109.7,319.1l2.4-1 4.8 .1-2.4 1z" color="#f4f700"/>
<path d="M276.2,327l5.8 0 1.7 1.8-5.8 0z" color="#73f200"/>
<path d="M251.7,320.8l5.7-.3 1.9 1.6-5.7 .3z" color="#d5f600"/>
<path d="M184,312.4l5.3-1.2 2.1 1-5.2 1.1z" color="#f7c400"/>
<path d="M283.7,328.8l5.9 .1 1.7 2-5.9-.2z" color="#59f100"/>
<path d="M291.9,331.5l5.9 .2 1.1 1.3-5.9-.2z" color="#35f000"/>
<path d="M234.8,317.3l5.6-.6 1.9 1.5-5.5 .5z" color="#f7eb00"/>
<path d="M201,313.1l5.3-1 2.1 1.1-5.4 1z" color="#f7c900"/>
<path d="M64,332.6l2.3-1.2 5-1.1-2.2 1.2z" color="#2fef00"/>
<path d="M217.9,314.7l5.5-.8 2 1.3-5.5 .8z" color="#f7d600"/>
<path d="M259.3,322.1l5.7-.2 1.8 1.7-5.7 .2z" color="#c4f500"/>
<path d="M141,313.5l2.5-.9 4.5 .9-2.5 .8z" color="#f7cd00"/>
<path d="M174.5,312.1l5.2-1.4 2.2 .9-5.2 1.2z" color="#f7bf00"/>
<path d="M73.6,329l2.3-1.2 5-.8-2.3 1.2z" color="#67f200"/>
<path d="M131.4,314.7l2.4-.9 4.7 .6-2.5 .9z" color="#f7d500"/>
<path d="M83.2,325.8l2.3-1.2 5-.6-2.3 1.1z" color="#99f400"/>
<path d="M242.3,318.2l5.7-.5 1.9 1.6-5.7 .4z" color="#f7f100"/>
<path d="M121.7,316.2l2.5-1 4.7 .4-2.5 .9z" color="#f7e000"/>
<path d="M266.8,323.6l5.8-.2 1.8 1.8-5.8 .1z" color="#b1f500"/>
<path d="M92.8,322.9l2.4-1.2 4.9-.3-2.4 1.1z" color="#c5f500"/>
<path d="M191.4,312.2l5.4-1.2 2.1 1-5.4 1.1z" color="#f7bf00"/>
<path d="M112.1,318.1l2.4-1 4.8 .1-2.4 1z" color="#f7ed00"/>
<path d="M102.5,320.3l2.4-1.1 4.8-.1-2.4 1.1z" color="#ebf700"/>
<path d="M225.4,315.2l5.5-.7 2 1.4-5.6 .6z" color="#f7d800"/>
<path d="M208.4,313.2l5.4-.9 2.1 1.2-5.5 .8z" color="#f7c800"/>
<path d="M290.7,330.2l5.9 .2 1.2 1.3-5.9-.2z" color="#52f100"/>
<path d="M274.4,325.2l5.8-.1 1.8 1.9-5.8 0z" color="#9bf400"/>
<path d="M249.9,319.3l5.6-.4 1.9 1.6-5.7 .3z" color="#f7f700"/>
<path d="M56.6,335.2l2.3-1.3 5.1-1.3-2.2 1.3z" color="#0fee00"/>
<path d="M181.9,311.6l5.3-1.3 2.1 .9-5.3 1.2z" color="#f7b800"/>
<path d="M162.7,311.4l5.2-1.5 4.4 1.4-5.2 1.4z" color="#f7b800"/>
<path d="M282,327l5.9 0 1.7 1.9-5.9-.1z" color="#82f300"/>
<path d="M232.9,315.9l5.6-.6 1.9 1.4-5.6 .6z" color="#f7db00"/>
<path d="M66.3,331.4l2.2-1.3 5.1-1.1-2.3 1.3z" color="#4cf100"/>
<path d="M143.5,312.6l2.5-.8 4.6 .9-2.6 .8z" color="#f7c300"/>
<path d="M198.9,312l5.4-1 2 1.1-5.3 1z" color="#f7bc00"/>
<path d="M215.9,313.5l5.5-.8 2 1.2-5.5 .8z" color="#f7c800"/>
<path d="M257.4,320.5l5.8-.3 1.8 1.7-5.7 .2z" color="#e9f700"/>
<path d="M75.9,327.8l2.3-1.2 5-.8-2.3 1.2z" color="#83f300"/>
<path d="M133.8,313.8l2.5-.9 4.7 .6-2.5 .9z" color="#f7ca00"/>
<path d="M172.3,311.3l5.3-1.3 2.1 .7-5.2 1.4z" color="#f7b400"/>
<path d="M153.1,311.9l5.1-1.6 4.5 1.1-5.1 1.5z" color="#f7b900"/>
<path d="M85.5,324.6l2.4-1.2 4.9-.5-2.3 1.1z" color="#b4f500"/>
<path d="M124.2,315.2l2.5-.9 4.7 .4-2.5 .9z" color="#f7d400"/>
<path d="M95.2,321.7l2.4-1.1 4.9-.3-2.4 1.1z" color="#dff600"/>
<path d="M114.5,317.1l2.5-1.1 4.7 .2-2.4 1z" color="#f7e100"/>
<path d="M104.9,319.2l2.4-1 4.8-.1-2.4 1z" color="#f7f100"/>
<path d="M289.6,328.9l5.9 .2 1.1 1.3-5.9-.2z" color="#6ef200"/>
<path d="M240.4,316.7l5.7-.5 1.9 1.5-5.7 .5z" color="#f7e000"/>
<path d="M189.3,311.2l5.4-1.1 2.1 .9-5.4 1.2z" color="#f7b300"/>
<path d="M265,321.9l5.8-.2 1.8 1.7-5.8 .2z" color="#d7f600"/>
<path d="M223.4,313.9l5.5-.7 2 1.3-5.5 .7z" color="#f7c900"/>
<path d="M206.3,312.1l5.5-1 2 1.2-5.4 .9z" color="#f7ba00"/>
<path d="M58.9,333.9l2.2-1.3 5.2-1.2-2.3 1.2z" color="#2def00"/>
<path d="M272.6,323.4l5.8-.1 1.8 1.8-5.8 .1z" color="#c2f500"/>
<path d="M179.7,310.7l5.3-1.2 2.2 .8-5.3 1.3z" color="#f7ad00"/>
<path d="M248,317.7l5.7-.4 1.8 1.6-5.6 .4z" color="#f7e600"/>
<path d="M146,311.8l2.6-.9 4.5 1-2.5 .8z" color="#f7b800"/>
<path d="M68.5,330.1l2.3-1.3 5.1-1-2.3 1.2z" color="#69f200"/>
<path d="M196.8,311l5.4-1 2.1 1-5.4 1z" color="#f7af00"/>
<path d="M136.3,312.9l2.6-.9 4.6 .6-2.5 .9z" color="#f7bf00"/>
<path d="M230.9,314.5l5.6-.6 2 1.4-5.6 .6z" color="#f7cb00"/>
<path d="M280.2,325.1l5.9 0 1.8 1.9-5.9 0z" color="#aaf400"/>
<path d="M78.2,326.6l2.3-1.2 5-.8-2.3 1.2z" color="#9ff400"/>
<path d="M213.8,312.3l5.5-.9 2.1 1.3-5.5 .8z" color="#f7b900"/>
<path d="M126.7,314.3l2.4-1 4.7 .5-2.4 .9z" color="#f7c900"/>
<path d="M255.5,318.9l5.8-.4 1.9 1.7-5.8 .3z" color="#f7ed00"/>
<path d="M87.9,323.4l2.3-1.1 5-.6-2.4 1.2z" color="#cff600"/>
<path d="M117,316l2.4-1 4.8 .2-2.5 1z" color="#f7d500"/>
<path d="M97.6,320.6l2.4-1.1 4.9-.3-2.4 1.1z" color="#f7f700"/>
<path d="M107.3,318.2l2.4-1.1 4.8 0-2.4 1z" color="#f7e400"/>
<path d="M287.9,327l5.9 .1 1.7 2-5.9-.2z" color="#90f300"/>
<path d="M187.2,310.3l5.3-1.2 2.2 1-5.4 1.1z" color="#f7a700"/>
<path d="M238.5,315.3l5.6-.6 2 1.5-5.7 .5z" color="#f7cf00"/>
<path d="M51.5,336.8l2.2-1.4 5.2-1.5-2.3 1.3z" color="#0bee00"/>
<path d="M263.2,320.2l5.8-.2 1.8 1.7-5.8 .2z" color="#f7f500"/>
<path d="M204.3,311l5.4-1 2.1 1.1-5.5 1z" color="#f7ad00"/>
<path d="M221.4,312.7l5.5-.8 2 1.3-5.5 .7z" color="#f7ba00"/>
<path d="M167.9,309.9l5.3-1.4 4.4 1.5-5.3 1.3z" color="#f7a500"/>
<path d="M61.1,332.6l2.3-1.3 5.1-1.2-2.2 1.3z" color="#4bf100"/>
<path d="M177.6,310l5.3-1.4 2.1 .9-5.3 1.2z" color="#f7a200"/>
<path d="M270.8,321.7l5.8-.2 1.8 1.8-5.8 .1z" color="#e8f700"/>
<path d="M246.1,316.2l5.7-.5 1.9 1.6-5.7 .4z" color="#f7d400"/>
<path d="M70.8,328.8l2.3-1.2 5.1-1-2.3 1.2z" color="#85f300"/>
<path d="M138.9,312l2.5-.9 4.6 .7-2.5 .8z" color="#f7b400"/>
<path d="M158.2,310.3l5.2-1.6 4.5 1.2-5.2 1.5z" color="#f7a600"/>
<path d="M80.5,325.4l2.4-1.2 5-.8-2.4 1.2z" color="#baf500"/>
<path d="M129.1,313.3l2.5-.9 4.7 .5-2.5 .9z" color="#f7bd00"/>
<path d="M194.7,310.1l5.4-1.1 2.1 1-5.4 1z" color="#f7a300"/>
<path d="M228.9,313.2l5.6-.7 2 1.4-5.6 .6z" color="#f7bc00"/>
<path d="M90.2,322.3l2.4-1.2 5-.5-2.4 1.1z" color="#e9f700"/>
<path d="M119.4,315l2.5-1 4.8 .3-2.5 .9z" color="#f7c900"/>
<path d="M211.8,311.1l5.5-.9 2 1.2-5.5 .9z" color="#f7ab00"/>
<path d="M148.6,310.9l5.1-1.6 4.5 1-5.1 1.6z" color="#f7a900"/>
<path d="M278.4,323.3l5.9 0 1.8 1.8-5.9 0z" color="#d2f600"/>
<path d="M100,319.5l2.4-1.1 4.9-.2-2.4 1z" color="#f7ea00"/>
<path d="M109.7,317.1l2.4-1.1 4.9 0-2.5 1.1z" color="#f7d800"/>
<path d="M253.7,317.3l5.7-.4 1.9 1.6-5.8 .4z" color="#f7db00"/>
<path d="M286.1,325.1l6 .1 1.7 1.9-5.9-.1z" color="#b9f500"/>
<path d="M185,309.5l5.4-1.3 2.1 .9-5.3 1.2z" color="#f79c00"/>
<path d="M53.7,335.4l2.2-1.3 5.2-1.5-2.2 1.3z" color="#29ef00"/>
<path d="M236.5,313.9l5.7-.6 1.9 1.4-5.6 .6z" color="#f7bf00"/>
<path d="M202.2,310l5.4-1.1 2.1 1.1-5.4 1z" color="#f7a000"/>
<path d="M261.3,318.5l5.8-.2 1.9 1.7-5.8 .2z" color="#f7e300"/>
<path d="M219.3,311.4l5.6-.8 2 1.3-5.5 .8z" color="#f7ab00"/>
<path d="M63.4,331.3l2.3-1.3 5.1-1.2-2.3 1.3z" color="#68f200"/>
<path d="M141.4,311.1l2.5-.9 4.7 .7-2.6 .9z" color="#f7a900"/>
<path d="M73.1,327.6l2.4-1.3 5-.9-2.3 1.2z" color="#a2f400"/>
<path d="M131.6,312.4l2.6-1 4.7 .6-2.6 .9z" color="#f7b200"/>
<path d="M244.1,314.7l5.8-.5 1.9 1.5-5.7 .5z" color="#f7c400"/>
<path d="M269,320l5.8-.2 1.8 1.7-5.8 .2z" color="#f7ec00"/>
<path d="M82.9,324.2l2.3-1.2 5-.7-2.3 1.1z" color="#d6f600"/>
<path d="M121.9,314l2.5-1 4.7 .3-2.4 1z" color="#f7bd00"/>
<path d="M192.5,309.1l5.4-1.1 2.2 1-5.4 1.1z" color="#f79700"/>
<path d="M92.6,321.1l2.4-1.1 5-.5-2.4 1.1z" color="#f7f100"/>
<path d="M112.1,316l2.5-1 4.8 0-2.4 1z" color="#f7cc00"/>
<path d="M102.4,318.4l2.4-1.1 4.9-.2-2.4 1.1z" color="#f7dd00"/>
<path d="M226.9,311.9l5.7-.7 1.9 1.3-5.6 .7z" color="#f7ad00"/>
<path d="M209.7,310l5.5-.9 2.1 1.1-5.5 .9z" color="#f79e00"/>
<path d="M46.2,338.5l2.2-1.4 5.3-1.7-2.2 1.4z" color="#03ee00"/>
<path d="M276.6,321.5l6-.1 1.7 1.9-5.9 0z" color="#f7f600"/>
<path d="M173.2,308.5l5.3-1.4 4.4 1.5-5.3 1.4z" color="#f79300"/>
<path d="M251.8,315.7l5.7-.4 1.9 1.6-5.7 .4z" color="#f7ca00"/>
<path d="M55.9,334.1l2.3-1.3 5.2-1.5-2.3 1.3z" color="#47f000"/>
<path d="M182.9,308.6l5.3-1.2 2.2 .8-5.4 1.3z" color="#f79100"/>
<path d="M284.3,323.3l6 0 1.8 1.9-6-.1z" color="#e1f600"/>
<path d="M234.5,312.5l5.7-.6 2 1.4-5.7 .6z" color="#f7af00"/>
<path d="M163.4,308.7l5.3-1.5 4.5 1.3-5.3 1.4z" color="#f79200"/>
<path d="M200.1,309l5.4-1.1 2.1 1-5.4 1.1z" color="#f79300"/>
<path d="M65.7,330l2.3-1.2 5.1-1.2-2.3 1.2z" color="#85f300"/>
<path d="M143.9,310.2l2.6-.9 4.6 .8-2.5 .8z" color="#f79f00"/>
<path d="M217.3,310.2l5.6-.8 2 1.2-5.6 .8z" color="#f79d00"/>
<path d="M259.4,316.9l5.9-.3 1.8 1.7-5.8 .2z" color="#f7d100"/>
<path d="M75.5,326.3l2.3-1.2 5.1-.9-2.4 1.2z" color="#bef500"/>
<path d="M134.2,311.4l2.5-.9 4.7 .6-2.5 .9z" color="#f7a700"/>
<path d="M153.7,309.3l5.2-1.7 4.5 1.1-5.2 1.6z" color="#f79400"/>
<path d="M85.2,323l2.4-1.2 5-.7-2.4 1.2z" color="#f1f700"/>
<path d="M124.4,313l2.5-1 4.7 .4-2.5 .9z" color="#f7b200"/>
<path d="M95,320l2.4-1.2 5-.4-2.4 1.1z" color="#f7e400"/>
<path d="M114.6,315l2.5-1 4.8 0-2.5 1z" color="#f7c000"/>
<path d="M242.2,313.3l5.7-.6 2 1.5-5.8 .5z" color="#f7b300"/>
<path d="M104.8,317.3l2.4-1.1 4.9-.2-2.4 1.1z" color="#f7d000"/>
<path d="M267.1,318.3l5.9-.3 1.8 1.8-5.8 .2z" color="#f7d900"/>
<path d="M190.4,308.2l5.4-1.2 2.1 1-5.4 1.1z" color="#f78b00"/>
<path d="M48.4,337.1l2.3-1.4 5.2-1.6-2.2 1.3z" color="#22ef00"/>
<path d="M224.9,310.6l5.7-.7 2 1.3-5.7 .7z" color="#f79e00"/>
<path d="M207.6,308.9l5.6-.9 2 1.1-5.5 .9z" color="#f79100"/>
<path d="M274.8,319.8l6-.2 1.8 1.8-6 .1z" color="#f7e300"/>
<path d="M58.2,332.8l2.3-1.4 5.2-1.4-2.3 1.3z" color="#65f200"/>
<path d="M249.9,314.2l5.7-.4 1.9 1.5-5.7 .4z" color="#f7b900"/>
<path d="M146.5,309.3l2.6-.9 4.6 .9-2.6 .8z" color="#f79400"/>
<path d="M68,328.8l2.3-1.3 5.2-1.2-2.4 1.3z" color="#a2f400"/>
<path d="M282.6,321.4l6 0 1.7 1.9-6 0z" color="#f7ef00"/>
<path d="M232.6,311.2l5.7-.7 1.9 1.4-5.7 .6z" color="#f7a000"/>
<path d="M197.9,308l5.5-1.1 2.1 1-5.4 1.1z" color="#f78700"/>
<path d="M136.7,310.5l2.5-.9 4.7 .6-2.5 .9z" color="#f79c00"/>
<path d="M215.2,309.1l5.6-.9 2.1 1.2-5.6 .8z" color="#f78f00"/>
<path d="M77.8,325.1l2.4-1.2 5-.9-2.3 1.2z" color="#daf600"/>
<path d="M257.5,315.3l5.9-.3 1.9 1.6-5.9 .3z" color="#f7bf00"/>
<path d="M126.9,312l2.5-.9 4.8 .3-2.6 1z" color="#f7a600"/>
<path d="M87.6,321.8l2.4-1.2 5-.6-2.4 1.1z" color="#f7ed00"/>
<path d="M117.1,314l2.4-1.1 4.9 .1-2.5 1z" color="#f7b400"/>
<path d="M97.4,318.8l2.4-1.1 5-.4-2.4 1.1z" color="#f7d700"/>
<path d="M107.2,316.2l2.5-1.1 4.9-.1-2.5 1z" color="#f7c400"/>
<path d="M178.5,307.1l5.3-1.4 4.4 1.7-5.3 1.2z" color="#f78100"/>
<path d="M240.2,311.9l5.8-.6 1.9 1.4-5.7 .6z" color="#f7a300"/>
<path d="M188.2,307.4l5.5-1.3 2.1 .9-5.4 1.2z" color="#f78000"/>
<path d="M265.3,316.6l5.9-.3 1.8 1.7-5.9 .3z" color="#f7c700"/>
<path d="M50.7,335.7l2.3-1.3 5.2-1.6-2.3 1.3z" color="#40f000"/>
<path d="M222.9,309.4l5.6-.8 2.1 1.3-5.7 .7z" color="#f79000"/>
<path d="M205.5,307.9l5.6-1 2.1 1.1-5.6 .9z" color="#f78400"/>
<path d="M168.7,307.2l5.3-1.5 4.5 1.4-5.3 1.4z" color="#f77f00"/>
<path d="M60.5,331.4l2.3-1.3 5.2-1.3-2.3 1.2z" color="#82f300"/>
<path d="M273,318l6-.1 1.8 1.7-6 .2z" color="#f7d100"/>
<path d="M247.9,312.7l5.8-.5 1.9 1.6-5.7 .4z" color="#f7a800"/>
<path d="M70.3,327.5l2.4-1.3 5.1-1.1-2.3 1.2z" color="#bff500"/>
<path d="M139.2,309.6l2.6-.9 4.7 .6-2.6 .9z" color="#f79100"/>
<path d="M158.9,307.6l5.3-1.6 4.5 1.2-5.3 1.5z" color="#f78100"/>
<path d="M195.8,307l5.5-1.1 2.1 1-5.5 1.1z" color="#f77b00"/>
<path d="M230.6,309.9l5.7-.8 2 1.4-5.7 .7z" color="#f79100"/>
<path d="M80.2,323.9l2.3-1.3 5.1-.8-2.4 1.2z" color="#f6f700"/>
<path d="M129.4,311.1l2.5-1 4.8 .4-2.5 .9z" color="#f79b00"/>
<path d="M280.8,319.6l6 0 1.8 1.8-6 0z" color="#f7db00"/>
<path d="M213.2,308l5.6-1 2 1.2-5.6 .9z" color="#f78200"/>
<path d="M90,320.6l2.4-1.2 5-.6-2.4 1.2z" color="#f7e000"/>
<path d="M119.5,312.9l2.6-1 4.8 .1-2.5 1z" color="#f7a800"/>
<path d="M149.1,308.4l5.2-1.7 4.6 .9-5.2 1.7z" color="#f78500"/>
<path d="M99.8,317.7l2.5-1.1 4.9-.4-2.4 1.1z" color="#f7ca00"/>
<path d="M109.7,315.1l2.5-1.1 4.9 0-2.5 1z" color="#f7b800"/>
<path d="M255.6,313.8l5.9-.4 1.9 1.6-5.9 .3z" color="#f7ae00"/>
<path d="M186,306.5l5.5-1.2 2.2 .8-5.5 1.3z" color="#f77500"/>
<path d="M53,334.4l2.2-1.4 5.3-1.6-2.3 1.4z" color="#5ff100"/>
<path d="M238.3,310.5l5.7-.6 2 1.4-5.8 .6z" color="#f79400"/>
<path d="M263.4,315l5.9-.3 1.9 1.6-5.9 .3z" color="#f7b600"/>
<path d="M203.4,306.9l5.6-1.1 2.1 1.1-5.6 1z" color="#f77700"/>
<path d="M220.8,308.2l5.7-.9 2 1.3-5.6 .8z" color="#f78100"/>
<path d="M62.8,330.1l2.3-1.3 5.2-1.3-2.3 1.3z" color="#a0f400"/>
<path d="M141.8,308.7l2.6-1 4.7 .7-2.6 .9z" color="#f78600"/>
<path d="M72.7,326.2l2.3-1.3 5.2-1-2.4 1.2z" color="#dbf600"/>
<path d="M271.2,316.3l5.9-.2 1.9 1.8-6 .1z" color="#f7be00"/>
<path d="M246,311.3l5.8-.6 1.9 1.5-5.8 .5z" color="#f79800"/>
<path d="M131.9,310.1l2.6-1 4.7 .5-2.5 .9z" color="#f79000"/>
<path d="M82.5,322.6l2.4-1.2 5.1-.8-2.4 1.2z" color="#f7eb00"/>
<path d="M122.1,311.9l2.5-1 4.8 .2-2.5 .9z" color="#f79c00"/>
<path d="M193.7,306.1l5.5-1.2 2.1 1-5.5 1.1z" color="#f77000"/>
<path d="M92.4,319.4l2.4-1.2 5-.5-2.4 1.1z" color="#f7d300"/>
<path d="M228.5,308.6l5.8-.8 2 1.3-5.7 .8z" color="#f78200"/>
<path d="M112.2,314l2.5-1 4.8-.1-2.4 1.1z" color="#f7ab00"/>
<path d="M102.3,316.6l2.4-1.2 5-.3-2.5 1.1z" color="#f7be00"/>
<path d="M211.1,306.9l5.6-1 2.1 1.1-5.6 1z" color="#f77500"/>
<path d="M279,317.9l6-.1 1.8 1.8-6 0z" color="#f7c800"/>
<path d="M253.7,312.2l5.9-.4 1.9 1.6-5.9 .4z" color="#f79d00"/>
<path d="M174,305.7l5.4-1.4 4.4 1.4-5.3 1.4z" color="#f76d00"/>
<path d="M55.2,333l2.3-1.3 5.3-1.6-2.3 1.3z" color="#7df300"/>
<path d="M183.8,305.7l5.5-1.3 2.2 .9-5.5 1.2z" color="#f76b00"/>
<path d="M236.3,309.1l5.7-.6 2 1.4-5.7 .6z" color="#f78500"/>
<path d="M164.2,306l5.3-1.5 4.5 1.2-5.3 1.5z" color="#f76e00"/>
<path d="M201.3,305.9l5.6-1.1 2.1 1-5.6 1.1z" color="#f76b00"/>
<path d="M261.5,313.4l5.9-.4 1.9 1.7-5.9 .3z" color="#f7a400"/>
<path d="M65.1,328.8l2.3-1.3 5.3-1.3-2.4 1.3z" color="#bdf500"/>
<path d="M144.4,307.7l2.6-.9 4.7 .8-2.6 .8z" color="#f77b00"/>
<path d="M218.8,307l5.6-.9 2.1 1.2-5.7 .9z" color="#f77400"/>
<path d="M75,324.9l2.4-1.2 5.1-1.1-2.3 1.3z" color="#f7f700"/>
<path d="M134.5,309.1l2.6-.9 4.7 .5-2.6 .9z" color="#f78500"/>
<path d="M154.3,306.7l5.3-1.7 4.6 1-5.3 1.6z" color="#f77100"/>
<path d="M84.9,321.4l2.4-1.2 5.1-.8-2.4 1.2z" color="#f7dd00"/>
<path d="M124.6,310.9l2.5-1 4.8 .2-2.5 1z" color="#f79000"/>
<path d="M244,309.9l5.8-.6 2 1.4-5.8 .6z" color="#f78800"/>
<path d="M269.3,314.7l6-.3 1.8 1.7-5.9 .2z" color="#f7ac00"/>
<path d="M94.8,318.2l2.5-1.1 5-.5-2.5 1.1z" color="#f7c600"/>
<path d="M114.7,313l2.5-1.1 4.9 0-2.6 1z" color="#f79f00"/>
<path d="M104.7,315.4l2.5-1.1 5-.3-2.5 1.1z" color="#f7b100"/>
<path d="M191.5,305.3l5.5-1.3 2.2 .9-5.5 1.2z" color="#f66500"/>
<path d="M226.5,307.3l5.7-.8 2.1 1.3-5.8 .8z" color="#f77400"/>
<path d="M209,305.8l5.6-1 2.1 1.1-5.6 1z" color="#f76900"/>
<path d="M277.1,316.1l6.1-.1 1.8 1.8-6 .1z" color="#f7b600"/>
<path d="M251.8,310.7l5.9-.5 1.9 1.6-5.9 .4z" color="#f78d00"/>
<path d="M57.5,331.7l2.4-1.4 5.2-1.5-2.3 1.3z" color="#9bf400"/>
<path d="M147,306.8l2.6-.9 4.7 .8-2.6 .9z" color="#f77100"/>
<path d="M234.3,307.8l5.7-.7 2 1.4-5.7 .6z" color="#f77600"/>
<path d="M67.4,327.5l2.4-1.3 5.2-1.3-2.3 1.3z" color="#daf600"/>
<path d="M199.2,304.9l5.5-1.1 2.2 1-5.6 1.1z" color="#f66000"/>
<path d="M137.1,308.2l2.5-1 4.8 .5-2.6 1z" color="#f77a00"/>
<path d="M216.7,305.9l5.7-1 2 1.2-5.6 .9z" color="#f66700"/>
<path d="M259.6,311.8l5.9-.4 1.9 1.6-5.9 .4z" color="#f79300"/>
<path d="M77.4,323.7l2.4-1.3 5.1-1-2.4 1.2z" color="#f7e900"/>
<path d="M127.1,309.9l2.6-1 4.8 .2-2.6 1z" color="#f78500"/>
<path d="M87.3,320.2l2.4-1.2 5.1-.8-2.4 1.2z" color="#f7cf00"/>
<path d="M117.2,311.9l2.5-1.1 4.9 .1-2.5 1z" color="#f79300"/>
<path d="M97.3,317.1l2.4-1.2 5-.5-2.4 1.2z" color="#f7b900"/>
<path d="M107.2,314.3l2.5-1.1 5-.2-2.5 1z" color="#f7a400"/>
<path d="M179.4,304.3l5.5-1.4 4.4 1.5-5.5 1.3z" color="#f65c00"/>
<path d="M242,308.5l5.9-.7 1.9 1.5-5.8 .6z" color="#f77900"/>
<path d="M267.4,313l6-.3 1.9 1.7-6 .3z" color="#f79a00"/>
<path d="M189.3,304.4l5.5-1.2 2.2 .8-5.5 1.3z" color="#f65a00"/>
<path d="M224.4,306.1l5.8-.8 2 1.2-5.7 .8z" color="#f66700"/>
<path d="M206.9,304.8l5.6-1.1 2.1 1.1-5.6 1z" color="#f65d00"/>
<path d="M169.5,304.5l5.4-1.5 4.5 1.3-5.4 1.4z" color="#f65b00"/>
<path d="M275.3,314.4l6-.2 1.9 1.8-6.1 .1z" color="#f7a300"/>
<path d="M59.9,330.3l2.3-1.4 5.2-1.4-2.3 1.3z" color="#b8f500"/>
<path d="M249.8,309.3l5.9-.6 2 1.5-5.9 .5z" color="#f77d00"/>
<path d="M69.8,326.2l2.4-1.3 5.2-1.2-2.4 1.2z" color="#f7f700"/>
<path d="M159.6,305l5.3-1.6 4.6 1.1-5.3 1.5z" color="#f65d00"/>
<path d="M139.6,307.2l2.6-.9 4.8 .5-2.6 .9z" color="#f76f00"/>
<path d="M232.2,306.5l5.8-.7 2 1.3-5.7 .7z" color="#f76800"/>
<path d="M197,304l5.6-1.2 2.1 1-5.5 1.1z" color="#f65500"/>
<path d="M79.8,322.4l2.4-1.3 5.1-.9-2.4 1.2z" color="#f7db00"/>
<path d="M129.7,308.9l2.5-1 4.9 .3-2.6 .9z" color="#f77a00"/>
<path d="M214.6,304.8l5.7-1 2.1 1.1-5.7 1z" color="#f65a00"/>
<path d="M257.7,310.2l5.9-.4 1.9 1.6-5.9 .4z" color="#f78200"/>
<path d="M89.7,319l2.5-1.2 5.1-.7-2.5 1.1z" color="#f7c200"/>
<path d="M119.7,310.8l2.5-1 4.9 .1-2.5 1z" color="#f78700"/>
<path d="M149.6,305.9l5.3-1.7 4.7 .8-5.3 1.7z" color="#f66200"/>
<path d="M99.7,315.9l2.5-1.2 5-.4-2.5 1.1z" color="#f7ac00"/>
<path d="M109.7,313.2l2.5-1.1 5-.2-2.5 1.1z" color="#f79800"/>
<path d="M240,307.1l5.9-.7 2 1.4-5.9 .7z" color="#f76a00"/>
<path d="M265.5,311.4l6.1-.3 1.8 1.6-6 .3z" color="#f78900"/>
<path d="M204.7,303.8l5.7-1.1 2.1 1-5.6 1.1z" color="#f65100"/>
<path d="M222.4,304.9l5.7-.9 2.1 1.3-5.8 .8z" color="#f65900"/>
<path d="M62.2,328.9l2.3-1.3 5.3-1.4-2.4 1.3z" color="#d6f600"/>
<path d="M142.2,306.3l2.7-1 4.7 .6-2.6 .9z" color="#f66500"/>
<path d="M273.4,312.7l6.1-.2 1.8 1.7-6 .2z" color="#f79100"/>
<path d="M247.9,307.8l5.9-.5 1.9 1.4-5.9 .6z" color="#f76d00"/>
<path d="M72.2,324.9l2.3-1.3 5.3-1.2-2.4 1.3z" color="#f7e900"/>
<path d="M184.9,302.9l5.5-1.4 4.4 1.7-5.5 1.2z" color="#f54b00"/>
<path d="M132.2,307.9l2.6-1 4.8 .3-2.5 1z" color="#f76f00"/>
<path d="M82.2,321.1l2.4-1.2 5.1-.9-2.4 1.2z" color="#f7ce00"/>
<path d="M194.8,303.2l5.6-1.3 2.2 .9-5.6 1.2z" color="#f54a00"/>
<path d="M122.2,309.8l2.6-1 4.9 .1-2.6 1z" color="#f77c00"/>
<path d="M230.2,305.3l5.8-.8 2 1.3-5.8 .7z" color="#f65a00"/>
<path d="M92.2,317.8l2.4-1.2 5.1-.7-2.4 1.2z" color="#f7b500"/>
<path d="M112.2,312.1l2.5-1.1 5-.2-2.5 1.1z" color="#f78c00"/>
<path d="M212.5,303.7l5.7-1 2.1 1.1-5.7 1z" color="#f54e00"/>
<path d="M102.2,314.7l2.5-1.1 5-.4-2.5 1.1z" color="#f79f00"/>
<path d="M255.7,308.7l6-.4 1.9 1.5-5.9 .4z" color="#f77200"/>
<path d="M174.9,303l5.5-1.5 4.5 1.4-5.5 1.4z" color="#f54900"/>
<path d="M238,305.8l5.9-.7 2 1.3-5.9 .7z" color="#f65b00"/>
<path d="M263.6,309.8l6.1-.4 1.9 1.7-6.1 .3z" color="#f77800"/>
<path d="M202.6,302.8l5.6-1.1 2.2 1-5.7 1.1z" color="#f54500"/>
<path d="M164.9,303.4l5.4-1.6 4.6 1.2-5.4 1.5z" color="#f54b00"/>
<path d="M220.3,303.8l5.7-.9 2.1 1.1-5.7 .9z" color="#f54d00"/>
<path d="M64.5,327.6l2.4-1.3 5.3-1.4-2.4 1.3z" color="#f3f700"/>
<path d="M144.9,305.3l2.6-.9 4.7 .7-2.6 .8z" color="#f65a00"/>
<path d="M74.5,323.6l2.4-1.3 5.3-1.2-2.4 1.3z" color="#f7db00"/>
<path d="M134.8,306.9l2.6-1 4.8 .4-2.6 .9z" color="#f66400"/>
<path d="M154.9,304.2l5.3-1.7 4.7 .9-5.3 1.6z" color="#f54e00"/>
<path d="M271.6,311.1l6-.3 1.9 1.7-6.1 .2z" color="#f78000"/>
<path d="M245.9,306.4l5.9-.6 2 1.5-5.9 .5z" color="#f65e00"/>
<path d="M84.6,319.9l2.4-1.3 5.2-.8-2.5 1.2z" color="#f7c000"/>
<path d="M124.8,308.8l2.5-1.1 4.9 .2-2.5 1z" color="#f77000"/>
<path d="M94.6,316.6l2.5-1.2 5.1-.7-2.5 1.2z" color="#f7a800"/>
<path d="M114.7,311l2.6-1.1 4.9-.1-2.5 1z" color="#f78000"/>
<path d="M104.7,313.6l2.5-1.1 5-.4-2.5 1.1z" color="#f79200"/>
<path d="M192.6,302.3l5.6-1.3 2.2 .9-5.6 1.3z" color="#f54000"/>
<path d="M228.1,304l5.8-.8 2.1 1.3-5.8 .8z" color="#f54c00"/>
<path d="M210.4,302.7l5.7-1.1 2.1 1.1-5.7 1z" color="#f54200"/>
<path d="M253.8,307.3l6-.6 1.9 1.6-6 .4z" color="#f66300"/>
<path d="M147.5,304.4l2.7-.9 4.7 .7-2.7 .9z" color="#f65000"/>
<path d="M236,304.5l5.9-.8 2 1.4-5.9 .7z" color="#f54d00"/>
<path d="M66.9,326.3l2.4-1.4 5.2-1.3-2.3 1.3z" color="#f7eb00"/>
<path d="M200.4,301.9l5.6-1.2 2.2 1-5.6 1.1z" color="#f53a00"/>
<path d="M261.7,308.3l6.1-.5 1.9 1.6-6.1 .4z" color="#f76800"/>
<path d="M218.2,302.7l5.8-1 2 1.2-5.7 .9z" color="#f54000"/>
<path d="M137.4,305.9l2.7-1 4.8 .4-2.7 1z" color="#f65900"/>
<path d="M76.9,322.3l2.5-1.3 5.2-1.1-2.4 1.2z" color="#f7cd00"/>
<path d="M127.3,307.7l2.6-1 4.9 .2-2.6 1z" color="#f66500"/>
<path d="M87,318.6l2.5-1.2 5.1-.8-2.4 1.2z" color="#f7b300"/>
<path d="M117.3,309.9l2.5-1.1 5 0-2.6 1z" color="#f77400"/>
<path d="M180.4,301.5l5.5-1.5 4.5 1.5-5.5 1.4z" color="#f53800"/>
<path d="M97.1,315.4l2.5-1.2 5.1-.6-2.5 1.1z" color="#f79b00"/>
<path d="M107.2,312.5l2.5-1.2 5-.3-2.5 1.1z" color="#f78600"/>
<path d="M243.9,305.1l5.9-.7 2 1.4-5.9 .6z" color="#f65000"/>
<path d="M269.7,309.4l6.1-.3 1.8 1.7-6 .3z" color="#f76f00"/>
<path d="M190.4,301.5l5.6-1.3 2.2 .8-5.6 1.3z" color="#f43500"/>
<path d="M226,302.9l5.9-.9 2 1.2-5.8 .8z" color="#f53f00"/>
<path d="M208.2,301.7l5.7-1.1 2.2 1-5.7 1.1z" color="#f53600"/>
<path d="M170.3,301.8l5.5-1.6 4.6 1.3-5.5 1.5z" color="#f53800"/>
<path d="M251.8,305.8l6-.6 2 1.5-6 .6z" color="#f65300"/>
<path d="M160.2,302.5l5.5-1.7 4.6 1-5.4 1.6z" color="#f53b00"/>
<path d="M69.3,324.9l2.4-1.3 5.2-1.3-2.4 1.3z" color="#f7dd00"/>
<path d="M140.1,304.9l2.6-1 4.8 .5-2.6 .9z" color="#f54f00"/>
<path d="M233.9,303.2l5.9-.8 2.1 1.3-5.9 .8z" color="#f54000"/>
<path d="M198.2,301l5.7-1.2 2.1 .9-5.6 1.2z" color="#f43000"/>
<path d="M216.1,301.6l5.7-1 2.2 1.1-5.8 1z" color="#f43400"/>
<path d="M79.4,321l2.4-1.3 5.2-1.1-2.4 1.3z" color="#f7c000"/>
<path d="M129.9,306.7l2.6-1 4.9 .2-2.6 1z" color="#f65a00"/>
<path d="M259.8,306.7l6-.4 2 1.5-6.1 .5z" color="#f65800"/>
<path d="M89.5,317.4l2.4-1.2 5.2-.8-2.5 1.2z" color="#f7a500"/>
<path d="M150.2,303.5l5.3-1.8 4.7 .8-5.3 1.7z" color="#f54100"/>
<path d="M119.8,308.8l2.6-1.1 4.9 0-2.5 1.1z" color="#f76800"/>
<path d="M99.6,314.2l2.5-1.2 5.1-.5-2.5 1.1z" color="#f78e00"/>
<path d="M109.7,311.3l2.5-1.1 5.1-.3-2.6 1.1z" color="#f77900"/>
<path d="M241.9,303.7l5.9-.7 2 1.4-5.9 .7z" color="#f54100"/>
<path d="M267.8,307.8l6.1-.3 1.9 1.6-6.1 .3z" color="#f65e00"/>
<path d="M224,301.7l5.8-.9 2.1 1.2-5.9 .9z" color="#f43200"/>
<path d="M206,300.7l5.8-1.1 2.1 1-5.7 1.1z" color="#f42b00"/>
<path d="M249.8,304.4l6-.6 2 1.4-6 .6z" color="#f54400"/>
<path d="M142.7,303.9l2.6-.9 4.9 .5-2.7 .9z" color="#f54400"/>
<path d="M71.7,323.6l2.4-1.3 5.3-1.3-2.5 1.3z" color="#f7ce00"/>
<path d="M185.9,300l5.6-1.4 4.5 1.6-5.6 1.3z" color="#f42700"/>
<path d="M132.5,305.7l2.7-1 4.9 .2-2.7 1z" color="#f64f00"/>
<path d="M81.8,319.7l2.4-1.3 5.3-1-2.5 1.2z" color="#f7b200"/>
<path d="M196,300.2l5.7-1.3 2.2 .9-5.7 1.2z" color="#f42500"/>
<path d="M231.9,302l5.9-.9 2 1.3-5.9 .8z" color="#f43200"/>
<path d="M122.4,307.7l2.6-1 4.9 0-2.6 1z" color="#f65d00"/>
<path d="M213.9,300.6l5.8-1.1 2.1 1.1-5.7 1z" color="#f42800"/>
<path d="M91.9,316.2l2.5-1.3 5.2-.7-2.5 1.2z" color="#f79800"/>
<path d="M112.2,310.2l2.6-1.1 5-.3-2.5 1.1z" color="#f76e00"/>
<path d="M102.1,313l2.5-1.2 5.1-.5-2.5 1.2z" color="#f78100"/>
<path d="M257.8,305.2l6.1-.5 1.9 1.6-6 .4z" color="#f54900"/>
<path d="M175.8,300.2l5.6-1.5 4.5 1.3-5.5 1.5z" color="#f42600"/>
<path d="M239.8,302.4l6-.7 2 1.3-5.9 .7z" color="#f43300"/>
<path d="M265.8,306.3l6.2-.5 1.9 1.7-6.1 .3z" color="#f54e00"/>
<path d="M203.9,299.8l5.7-1.2 2.2 1-5.8 1.1z" color="#f42000"/>
<path d="M221.8,300.6l5.9-1 2.1 1.2-5.8 .9z" color="#f42600"/>
<path d="M165.7,300.8l5.5-1.7 4.6 1.1-5.5 1.6z" color="#f42800"/>
<path d="M145.3,303l2.7-1 4.8 .6-2.6 .9z" color="#f53a00"/>
<path d="M74.1,322.3l2.4-1.3 5.3-1.3-2.4 1.3z" color="#f7c000"/>
<path d="M135.2,304.7l2.6-1.1 4.9 .3-2.6 1z" color="#f54400"/>
<path d="M247.8,303l6-.7 2 1.5-6 .6z" color="#f43600"/>
<path d="M155.5,301.7l5.4-1.8 4.8 .9-5.5 1.7z" color="#f42d00"/>
<path d="M84.2,318.4l2.5-1.2 5.2-1-2.4 1.2z" color="#f7a400"/>
<path d="M125,306.7l2.6-1.1 4.9 .1-2.6 1z" color="#f65200"/>
<path d="M94.4,314.9l2.5-1.2 5.2-.7-2.5 1.2z" color="#f78b00"/>
<path d="M114.8,309.1l2.6-1.1 5-.3-2.6 1.1z" color="#f66200"/>
<path d="M104.6,311.8l2.5-1.1 5.1-.5-2.5 1.1z" color="#f77500"/>
<path d="M229.8,300.8l5.9-.9 2.1 1.2-5.9 .9z" color="#f42500"/>
<path d="M211.8,299.6l5.8-1.1 2.1 1-5.8 1.1z" color="#f31c00"/>
<path d="M255.8,303.8l6.1-.6 2 1.5-6.1 .5z" color="#f53a00"/>
<path d="M237.8,301.1l5.9-.8 2.1 1.4-6 .7z" color="#f42600"/>
<path d="M148,302l2.7-.9 4.8 .6-2.7 .9z" color="#f42f00"/>
<path d="M191.5,298.6l5.7-1.4 4.5 1.7-5.7 1.3z" color="#f31700"/>
<path d="M263.9,304.7l6.1-.4 2 1.5-6.2 .5z" color="#f53f00"/>
<path d="M201.7,298.9l5.7-1.2 2.2 .9-5.7 1.2z" color="#f31600"/>
<path d="M219.7,299.5l5.9-1 2.1 1.1-5.9 1z" color="#f31a00"/>
<path d="M137.8,303.6l2.7-1 4.8 .4-2.6 .9z" color="#f53a00"/>
<path d="M76.5,321l2.5-1.3 5.2-1.3-2.4 1.3z" color="#f7b200"/>
<path d="M127.6,305.6l2.6-1 5 .1-2.7 1z" color="#f54600"/>
<path d="M86.7,317.2l2.5-1.3 5.2-1-2.5 1.3z" color="#f79700"/>
<path d="M117.4,308l2.6-1.2 5-.1-2.6 1z" color="#f65600"/>
<path d="M181.4,298.7l5.6-1.5 4.5 1.4-5.6 1.4z" color="#f31500"/>
<path d="M245.8,301.7l6-.7 2 1.3-6 .7z" color="#f42800"/>
<path d="M96.9,313.7l2.6-1.2 5.1-.7-2.5 1.2z" color="#f77e00"/>
<path d="M107.1,310.7l2.6-1.2 5.1-.4-2.6 1.1z" color="#f76900"/>
<path d="M227.7,299.6l5.9-.9 2.1 1.2-5.9 .9z" color="#f31900"/>
<path d="M209.6,298.6l5.8-1.2 2.2 1.1-5.8 1.1z" color="#f31100"/>
<path d="M171.2,299.1l5.5-1.6 4.7 1.2-5.6 1.5z" color="#f31600"/>
<path d="M253.8,302.3l6.1-.6 2 1.5-6.1 .6z" color="#f42b00"/>
<path d="M160.9,299.9l5.6-1.7 4.7 .9-5.5 1.7z" color="#f31a00"/>
<path d="M235.7,299.9l6-.8 2 1.2-5.9 .8z" color="#f31900"/>
<path d="M140.5,302.6l2.7-.9 4.8 .3-2.7 1z" color="#f42f00"/>
<path d="M261.9,303.2l6.2-.5 1.9 1.6-6.1 .4z" color="#f42f00"/>
<path d="M217.6,298.5l5.8-1.1 2.2 1.1-5.9 1z" color="#f30e00"/>
<path d="M79,319.7l2.4-1.4 5.3-1.1-2.5 1.2z" color="#f7a400"/>
<path d="M130.2,304.6l2.7-1.1 4.9 .1-2.6 1.1z" color="#f53b00"/>
<path d="M150.7,301.1l5.5-1.9 4.7 .7-5.4 1.8z" color="#f42000"/>
<path d="M89.2,315.9l2.5-1.3 5.2-.9-2.5 1.2z" color="#f78900"/>
<path d="M120,306.8l2.6-1.1 5-.1-2.6 1.1z" color="#f54b00"/>
<path d="M99.5,312.5l2.5-1.2 5.1-.6-2.5 1.1z" color="#f77100"/>
<path d="M109.7,309.5l2.6-1.2 5.1-.3-2.6 1.1z" color="#f65d00"/>
<path d="M243.7,300.3l6.1-.7 2 1.4-6 .7z" color="#f31a00"/>
<path d="M197.2,297.2l5.8-1.3 4.4 1.8-5.7 1.2z" color="#f30600"/>
<path d="M225.6,298.5l5.9-1 2.1 1.2-5.9 .9z" color="#f30c00"/>
<path d="M207.4,297.7l5.8-1.2 2.2 .9-5.8 1.2z" color="#f30600"/>
<path d="M251.8,301l6.1-.7 2 1.4-6.1 .6z" color="#f31c00"/>
<path d="M143.2,301.7l2.7-1 4.8 .4-2.7 .9z" color="#f42400"/>
<path d="M187,297.2l5.7-1.5 4.5 1.5-5.7 1.4z" color="#f20500"/>
<path d="M132.9,303.5l2.6-1 5 .1-2.7 1z" color="#f43000"/>
<path d="M233.6,298.7l6-.9 2.1 1.3-6 .8z" color="#f30c00"/>
<path d="M81.4,318.3l2.5-1.3 5.3-1.1-2.5 1.3z" color="#f79700"/>
<path d="M215.4,297.4l5.9-1.1 2.1 1.1-5.8 1.1z" color="#f20500"/>
<path d="M122.6,305.7l2.6-1.1 5 0-2.6 1z" color="#f53f00"/>
<path d="M259.9,301.7l6.2-.5 2 1.5-6.2 .5z" color="#f42000"/>
<path d="M91.7,314.6l2.5-1.2 5.3-.9-2.6 1.2z" color="#f77c00"/>
<path d="M112.3,308.3l2.6-1.1 5.1-.4-2.6 1.2z" color="#f65100"/>
<path d="M102,311.3l2.5-1.2 5.2-.6-2.6 1.2z" color="#f66500"/>
<path d="M176.7,297.5l5.7-1.6 4.6 1.3-5.6 1.5z" color="#f20500"/>
<path d="M241.7,299.1l6-.8 2.1 1.3-6.1 .7z" color="#f30c00"/>
<path d="M223.4,297.4l6-1 2.1 1.1-5.9 1z" color="#f20500"/>
<path d="M205.2,296.8l5.8-1.3 2.2 1-5.8 1.2z" color="#f20500"/>
<path d="M166.5,298.2l5.5-1.7 4.7 1-5.5 1.6z" color="#f30700"/>
<path d="M145.9,300.7l2.7-1 4.8 .5-2.7 .9z" color="#f31a00"/>
<path d="M249.8,299.6l6.1-.7 2 1.4-6.1 .7z" color="#f30e00"/>
<path d="M135.5,302.5l2.7-1.1 5 .3-2.7 .9z" color="#f42600"/>
<path d="M156.2,299.2l5.5-1.8 4.8 .8-5.6 1.7z" color="#f30c00"/>
<path d="M83.9,317l2.5-1.3 5.3-1.1-2.5 1.3z" color="#f78900"/>
<path d="M125.2,304.6l2.7-1 5-.1-2.7 1.1z" color="#f43400"/>
<path d="M231.5,297.5l6-.9 2.1 1.2-6 .9z" color="#f20500"/>
<path d="M94.2,313.4l2.6-1.3 5.2-.8-2.5 1.2z" color="#f76f00"/>
<path d="M114.9,307.2l2.6-1.2 5.1-.3-2.6 1.1z" color="#f54500"/>
<path d="M104.5,310.1l2.6-1.2 5.2-.6-2.6 1.2z" color="#f65900"/>
<path d="M213.2,296.5l5.9-1.2 2.2 1-5.9 1.1z" color="#f20500"/>
<path d="M257.9,300.3l6.2-.6 2 1.5-6.2 .5z" color="#f31100"/>
<path d="M239.6,297.8l6.1-.8 2 1.3-6 .8z" color="#f20500"/>
<path d="M192.7,295.7l5.8-1.4 4.5 1.6-5.8 1.3z" color="#f20500"/>
<path d="M148.6,299.7l2.7-1 4.9 .5-2.8 1z" color="#f31000"/>
<path d="M203,295.9l5.8-1.3 2.2 .9-5.8 1.3z" color="#f20500"/>
<path d="M221.3,296.3l5.9-1 2.2 1.1-6 1z" color="#f20500"/>
<path d="M138.2,301.4l2.7-1 5 .3-2.7 1z" color="#f31b00"/>
<path d="M127.9,303.6l2.6-1.1 5 0-2.6 1z" color="#f42900"/>
<path d="M247.7,298.3l6.2-.8 2 1.4-6.1 .7z" color="#f20500"/>
<path d="M86.4,315.7l2.5-1.2 5.3-1.1-2.5 1.2z" color="#f77b00"/>
<path d="M182.4,295.9l5.7-1.5 4.6 1.3-5.7 1.5z" color="#f20500"/>
<path d="M117.5,306l2.6-1.1 5.1-.3-2.6 1.1z" color="#f53900"/>
<path d="M96.8,312.1l2.5-1.2 5.2-.8-2.5 1.2z" color="#f66300"/>
<path d="M107.1,308.9l2.6-1.2 5.2-.5-2.6 1.1z" color="#f54c00"/>
<path d="M229.4,296.4l6-1 2.1 1.2-6 .9z" color="#f20500"/>
<path d="M211,295.5l5.9-1.2 2.2 1-5.9 1.2z" color="#f20500"/>
<path d="M255.9,298.9l6.2-.6 2 1.4-6.2 .6z" color="#f20500"/>
<path d="M172,296.5l5.7-1.7 4.7 1.1-5.7 1.6z" color="#f20500"/>
<path d="M237.5,296.6l6.1-.9 2.1 1.3-6.1 .8z" color="#f20500"/>
<path d="M161.7,297.4l5.6-1.8 4.7 .9-5.5 1.7z" color="#f20500"/>
<path d="M140.9,300.4l2.7-1 5 .3-2.7 1z" color="#f31000"/>
<path d="M219.1,295.3l6-1.1 2.1 1.1-5.9 1z" color="#f20500"/>
<path d="M130.5,302.5l2.7-1.1 5 0-2.7 1.1z" color="#f41d00"/>
<path d="M151.3,298.7l5.5-1.9 4.9 .6-5.5 1.8z" color="#f20500"/>
<path d="M88.9,314.5l2.6-1.3 5.3-1.1-2.6 1.3z" color="#f76e00"/>
<path d="M120.1,304.9l2.7-1.1 5.1-.2-2.7 1z" color="#f42e00"/>
<path d="M99.3,310.9l2.6-1.2 5.2-.8-2.6 1.2z" color="#f65600"/>
<path d="M109.7,307.7l2.6-1.2 5.2-.5-2.6 1.2z" color="#f54000"/>
<path d="M245.7,297l6.1-.8 2.1 1.3-6.2 .8z" color="#f20500"/>
<path d="M198.5,294.3l5.8-1.3 4.5 1.6-5.8 1.3z" color="#f20500"/>
<path d="M227.2,295.3l6.1-1 2.1 1.1-6 1z" color="#f20500"/>
<path d="M208.8,294.6l5.9-1.2 2.2 .9-5.9 1.2z" color="#f20500"/>
<path d="M253.9,297.5l6.2-.7 2 1.5-6.2 .6z" color="#f20500"/>
<path d="M143.6,299.4l2.8-1 4.9 .3-2.7 1z" color="#f30600"/>
<path d="M188.1,294.4l5.8-1.5 4.6 1.4-5.8 1.4z" color="#f20500"/>
<path d="M235.4,295.4l6.1-.9 2.1 1.2-6.1 .9z" color="#f20500"/>
<path d="M133.2,301.4l2.7-1.1 5 .1-2.7 1z" color="#f31200"/>
<path d="M216.9,294.3l6-1.1 2.2 1-6 1.1z" color="#f20500"/>
<path d="M122.8,303.8l2.6-1.1 5.1-.2-2.6 1.1z" color="#f42200"/>
<path d="M91.5,313.2l2.5-1.3 5.3-1-2.5 1.2z" color="#f66200"/>
<path d="M112.3,306.5l2.7-1.1 5.1-.5-2.6 1.1z" color="#f43400"/>
<path d="M101.9,309.7l2.6-1.3 5.2-.7-2.6 1.2z" color="#f54a00"/>
<path d="M177.7,294.8l5.7-1.6 4.7 1.2-5.7 1.5z" color="#f20500"/>
<path d="M243.6,295.7l6.2-.8 2 1.3-6.1 .8z" color="#f20500"/>
<path d="M225.1,294.2l6-1 2.2 1.1-6.1 1z" color="#f20500"/>
<path d="M167.3,295.6l5.6-1.7 4.8 .9-5.7 1.7z" color="#f20500"/>
<path d="M146.4,298.4l2.7-1 5 .4-2.8 .9z" color="#f20500"/>
<path d="M251.8,296.2l6.3-.7 2 1.3-6.2 .7z" color="#f20500"/>
<path d="M135.9,300.3l2.7-1 5 .1-2.7 1z" color="#f30800"/>
<path d="M156.8,296.8l5.6-1.8 4.9 .6-5.6 1.8z" color="#f20500"/>
<path d="M125.4,302.7l2.7-1.1 5.1-.2-2.7 1.1z" color="#f31700"/>
<path d="M94,311.9l2.6-1.3 5.3-.9-2.6 1.2z" color="#f65500"/>
<path d="M115,305.4l2.6-1.2 5.2-.4-2.7 1.1z" color="#f42900"/>
<path d="M204.3,293l5.9-1.4 4.5 1.8-5.9 1.2z" color="#f20500"/>
<path d="M104.5,308.4l2.6-1.2 5.2-.7-2.6 1.2z" color="#f53d00"/>
<path d="M214.7,293.4l6-1.2 2.2 1-6 1.1z" color="#f20500"/>
<path d="M241.5,294.5l6.2-.9 2.1 1.3-6.2 .8z" color="#f20500"/>
<path d="M193.9,292.9l5.8-1.5 4.6 1.6-5.8 1.3z" color="#f20500"/>
<path d="M231.1,293.2l6.1-1.1 4.3 2.4-6.1 .9z" color="#f20500"/>
<path d="M149.1,297.4l2.8-1 4.9 .4-2.7 1z" color="#f20500"/>
<path d="M138.6,299.3l2.8-1.1 5 .2-2.8 1z" color="#f20500"/>
<path d="M249.8,294.9l6.2-.8 2.1 1.4-6.3 .7z" color="#f20500"/>
<path d="M128.1,301.6l2.7-1.2 5.1-.1-2.7 1.1z" color="#f30b00"/>
<path d="M183.4,293.2l5.8-1.6 4.7 1.3-5.8 1.5z" color="#f20500"/>
<path d="M117.6,304.2l2.7-1.2 5.1-.3-2.6 1.1z" color="#f31d00"/>
<path d="M96.6,310.6l2.6-1.2 5.3-1-2.6 1.3z" color="#f54800"/>
<path d="M107.1,307.2l2.6-1.2 5.3-.6-2.7 1.1z" color="#f43100"/>
<path d="M220.7,292.2l6.1-1.1 4.3 2.1-6 1z" color="#f20500"/>
<path d="M172.9,293.9l5.8-1.7 4.7 1-5.7 1.6z" color="#f20500"/>
<path d="M162.4,295l5.7-1.9 4.8 .8-5.6 1.7z" color="#f20500"/>
<path d="M141.4,298.2l2.7-1 5 .2-2.7 1z" color="#f20500"/>
<path d="M210.2,291.6l6-1.3 4.5 1.9-6 1.2z" color="#f10500"/>
<path d="M130.8,300.4l2.7-1 5.1-.1-2.7 1z" color="#f20500"/>
<path d="M151.9,296.4l5.6-1.9 4.9 .5-5.6 1.8z" color="#f20500"/>
<path d="M120.3,303l2.7-1.1 5.1-.3-2.7 1.1z" color="#f31100"/>
<path d="M247.7,293.6l6.2-.8 2.1 1.3-6.2 .8z" color="#f20500"/>
<path d="M109.7,306l2.7-1.2 5.2-.6-2.6 1.2z" color="#f42500"/>
<path d="M99.2,309.4l2.6-1.3 5.3-.9-2.6 1.2z" color="#f53c00"/>
<path d="M237.2,292.1l6.2-.9 4.3 2.4-6.2 .9z" color="#f20500"/>
<path d="M199.7,291.4l6-1.4 4.5 1.6-5.9 1.4z" color="#f10500"/>
<path d="M144.1,297.2l2.8-1 5 .2-2.8 1z" color="#f20500"/>
<path d="M189.2,291.6l5.9-1.5 4.6 1.3-5.8 1.5z" color="#f10500"/>
<path d="M226.8,291.1l6.1-1.1 4.3 2.1-6.1 1.1z" color="#f10500"/>
<path d="M133.5,299.4l2.8-1.1 5.1-.1-2.8 1.1z" color="#f20500"/>
<path d="M123,301.9l2.7-1.2 5.1-.3-2.7 1.2z" color="#f30600"/>
<path d="M112.4,304.8l2.6-1.2 5.3-.6-2.7 1.2z" color="#f31900"/>
<path d="M101.8,308.1l2.6-1.3 5.3-.8-2.6 1.2z" color="#f42f00"/>
<path d="M178.7,292.2l5.8-1.7 4.7 1.1-5.8 1.6z" color="#f10500"/>
<path d="M216.2,290.3l6.1-1.2 4.5 2-6.1 1.1z" color="#f10500"/>
<path d="M168.1,293.1l5.7-1.8 4.9 .9-5.8 1.7z" color="#f20500"/>
<path d="M243.4,291.2l6.3-.9 4.2 2.5-6.2 .8z" color="#f10500"/>
<path d="M136.3,298.3l2.7-1.1 5.1 0-2.7 1z" color="#f20500"/>
<path d="M157.5,294.5l5.7-2 4.9 .6-5.7 1.9z" color="#f20500"/>
<path d="M125.7,300.7l2.7-1.1 5.1-.2-2.7 1z" color="#f20500"/>
<path d="M205.7,290l6-1.4 4.5 1.7-6 1.3z" color="#f10500"/>
<path d="M115,303.6l2.7-1.2 5.3-.5-2.7 1.1z" color="#f30d00"/>
<path d="M104.4,306.8l2.7-1.2 5.3-.8-2.7 1.2z" color="#f42300"/>
<path d="M146.9,296.2l5.6-2.1 5 .4-5.6 1.9z" color="#f20500"/>
<path d="M232.9,290l6.2-1.1 4.3 2.3-6.2 .9z" color="#f10500"/>
<path d="M195.1,290.1l6-1.5 4.6 1.4-6 1.4z" color="#f10500"/>
<path d="M139,297.2l2.8-1.1 5.1 .1-2.8 1z" color="#f20500"/>
<path d="M128.4,299.6l2.7-1.1 5.2-.2-2.8 1.1z" color="#f20500"/>
<path d="M184.5,290.5l5.9-1.6 4.7 1.2-5.9 1.5z" color="#f10500"/>
<path d="M117.7,302.4l2.7-1.2 5.3-.5-2.7 1.2z" color="#f20500"/>
<path d="M107.1,305.6l2.6-1.2 5.3-.8-2.6 1.2z" color="#f31700"/>
<path d="M222.3,289.1l6.2-1.2 4.4 2.1-6.1 1.1z" color="#f10500"/>
<path d="M173.8,291.3l5.9-1.7 4.8 .9-5.8 1.7z" color="#f10500"/>
<path d="M163.2,292.5l5.7-1.9 4.9 .7-5.7 1.8z" color="#f10500"/>
<path d="M211.7,288.6l6.1-1.3 4.5 1.8-6.1 1.2z" color="#f10500"/>
<path d="M131.1,298.5l2.8-1.2 5.1-.1-2.7 1.1z" color="#f20500"/>
<path d="M152.5,294.1l5.7-2 5 .4-5.7 2z" color="#f10500"/>
<path d="M120.4,301.2l2.8-1.2 5.2-.4-2.7 1.1z" color="#f20500"/>
<path d="M109.7,304.4l2.7-1.3 5.3-.7-2.7 1.2z" color="#f30b00"/>
<path d="M239.1,288.9l6.3-1 4.3 2.4-6.3 .9z" color="#f10500"/>
<path d="M141.8,296.1l5.6-2.1 5.1 .1-5.6 2.1z" color="#f20500"/>
<path d="M201.1,288.6l6-1.5 4.6 1.5-6 1.4z" color="#f10500"/>
<path d="M190.4,288.9l6-1.6 4.7 1.3-6 1.5z" color="#f10500"/>
<path d="M228.5,287.9l6.2-1.1 4.4 2.1-6.2 1.1z" color="#f10500"/>
<path d="M133.9,297.3l2.8-1.1 5.1-.1-2.8 1.1z" color="#f20500"/>
<path d="M123.2,300l2.7-1.1 5.2-.4-2.7 1.1z" color="#f20500"/>
<path d="M112.4,303.1l2.7-1.2 5.3-.7-2.7 1.2z" color="#f20500"/>
<path d="M179.7,289.6l5.9-1.8 4.8 1.1-5.9 1.6z" color="#f10500"/>
<path d="M217.8,287.3l6.2-1.3 4.5 1.9-6.2 1.2z" color="#f10500"/>
<path d="M168.9,290.6l5.9-1.8 4.9 .8-5.9 1.7z" color="#f10500"/>
<path d="M158.2,292.1l5.8-2 4.9 .5-5.7 1.9z" color="#f10500"/>
<path d="M125.9,298.9l2.8-1.2 5.2-.4-2.8 1.2z" color="#f20500"/>
<path d="M207.1,287.1l6.1-1.4 4.6 1.6-6.1 1.3z" color="#f10500"/>
<path d="M115.1,301.9l2.8-1.2 5.3-.7-2.8 1.2z" color="#f20500"/>
<path d="M147.4,294l5.7-2.1 5.1 .2-5.7 2z" color="#f10500"/>
<path d="M136.7,296.2l5.6-2.2 5.1 0-5.6 2.1z" color="#f20500"/>
<path d="M234.7,286.8l6.4-1.1 4.3 2.2-6.3 1z" color="#f10500"/>
<path d="M196.4,287.3l6-1.6 4.7 1.4-6 1.5z" color="#f10500"/>
<path d="M128.7,297.7l2.8-1.2 5.2-.3-2.8 1.1z" color="#f20500"/>
<path d="M185.6,287.8l6-1.7 4.8 1.2-6 1.6z" color="#f10500"/>
<path d="M117.9,300.7l2.7-1.2 5.3-.6-2.7 1.1z" color="#f20500"/>
<path d="M224,286l6.3-1.2 4.4 2-6.2 1.1z" color="#ec0500"/>
<path d="M174.8,288.8l5.9-1.8 4.9 .8-5.9 1.8z" color="#f10500"/>
<path d="M164,290.1l5.8-1.9 5 .6-5.9 1.8z" color="#f10500"/>
<path d="M213.2,285.7l6.2-1.4 4.6 1.7-6.2 1.3z" color="#e80500"/>
<path d="M153.1,291.9l5.8-2.1 5.1 .3-5.8 2z" color="#f10500"/>
<path d="M142.3,294l5.7-2.2 5.1 .1-5.7 2.1z" color="#f10500"/>
<path d="M202.4,285.7l6.2-1.5 4.6 1.5-6.1 1.4z" color="#e70500"/>
<path d="M131.5,296.5l5.6-2.3 5.2-.2-5.6 2.2z" color="#f10500"/>
<path d="M120.6,299.5l5.6-2.4 5.3-.6-5.6 2.4z" color="#f20500"/>
<path d="M191.6,286.1l6.1-1.6 4.7 1.2-6 1.6z" color="#e80500"/>
<path d="M230.3,284.8l6.3-1.2 4.5 2.1-6.4 1.1z" color="#e10500"/>
<path d="M180.7,287l6-1.8 4.9 .9-6 1.7z" color="#eb0500"/>
<path d="M219.4,284.3l6.3-1.3 4.6 1.8-6.3 1.2z" color="#dd0400"/>
<path d="M169.8,288.2l6-1.9 4.9 .7-5.9 1.8z" color="#ef0500"/>
<path d="M158.9,289.8l5.9-2 5 .4-5.8 1.9z" color="#f10500"/>
<path d="M208.6,284.2l6.2-1.5 4.6 1.6-6.2 1.4z" color="#db0400"/>
<path d="M148,291.8l5.8-2.1 5.1 .1-5.8 2.1z" color="#f10500"/>
<path d="M137.1,294.2l5.7-2.2 5.2-.2-5.7 2.2z" color="#f10500"/>
<path d="M126.2,297.1l5.6-2.4 5.3-.5-5.6 2.3z" color="#f10500"/>
<path d="M197.7,284.5l6.1-1.6 4.8 1.3-6.2 1.5z" color="#db0400"/>
<path d="M186.7,285.2l6.1-1.7 4.9 1-6.1 1.6z" color="#dd0400"/>
<path d="M225.7,283l6.4-1.3 4.5 1.9-6.3 1.2z" color="#d20400"/>
<path d="M175.8,286.3l6-1.9 4.9 .8-6 1.8z" color="#e10500"/>
<path d="M214.8,282.7l6.3-1.4 4.6 1.7-6.3 1.3z" color="#d00400"/>
<path d="M164.8,287.8l5.9-2 5.1 .5-6 1.9z" color="#e80500"/>
<path d="M153.8,289.7l5.9-2.1 5.1 .2-5.9 2z" color="#f00500"/>
<path d="M203.8,282.9l6.3-1.6 4.7 1.4-6.2 1.5z" color="#cf0400"/>
<path d="M142.8,292l5.8-2.3 5.2 0-5.8 2.1z" color="#f10500"/>
<path d="M131.8,294.7l5.7-2.4 5.3-.3-5.7 2.2z" color="#f10500"/>
<path d="M192.8,283.5l6.2-1.7 4.8 1.1-6.1 1.6z" color="#d00400"/>
<path d="M181.8,284.4l6.1-1.8 4.9 .9-6.1 1.7z" color="#d40400"/>
<path d="M221.1,281.3l6.4-1.4 4.6 1.8-6.4 1.3z" color="#c50400"/>
<path d="M170.7,285.8l6.1-2 5 .6-6 1.9z" color="#d90400"/>
<path d="M159.7,287.6l5.9-2.1 5.1 .3-5.9 2z" color="#e10500"/>
<path d="M210.1,281.3l6.3-1.5 4.7 1.5-6.3 1.4z" color="#c30400"/>
<path d="M148.6,289.7l5.9-2.2 5.2 .1-5.9 2.1z" color="#eb0500"/>
<path d="M137.5,292.3l5.8-2.3 5.3-.3-5.8 2.3z" color="#f10500"/>
<path d="M199,281.8l6.3-1.7 4.8 1.2-6.3 1.6z" color="#c40400"/>
<path d="M187.9,282.6l6.2-1.8 4.9 1-6.2 1.7z" color="#c70400"/>
<path d="M176.8,283.8l6.1-1.9 5 .7-6.1 1.8z" color="#cb0400"/>
<path d="M216.4,279.8l6.4-1.5 4.7 1.6-6.4 1.4z" color="#b80400"/>
<path d="M165.6,285.5l6.1-2.1 5.1 .4-6.1 2z" color="#d20400"/>
<path d="M154.5,287.5l5.9-2.1 5.2 .1-5.9 2.1z" color="#db0400"/>
<path d="M205.3,280.1l6.3-1.6 4.8 1.3-6.3 1.5z" color="#b80400"/>
<path d="M143.3,290l5.9-2.3 5.3-.2-5.9 2.2z" color="#e60500"/>
<path d="M194.1,280.8l6.3-1.7 4.9 1-6.3 1.7z" color="#ba0400"/>
<path d="M182.9,281.9l6.2-1.9 5 .8-6.2 1.8z" color="#be0400"/>
<path d="M171.7,283.4l6.1-2 5.1 .5-6.1 1.9z" color="#c40400"/>
<path d="M160.4,285.4l6.1-2.2 5.2 .2-6.1 2.1z" color="#cc0400"/>
<path d="M211.6,278.5l6.5-1.6 4.7 1.4-6.4 1.5z" color="#ac0300"/>
<path d="M149.2,287.7l6-2.3 5.2 0-5.9 2.1z" color="#d70400"/>
<path d="M200.4,279.1l6.3-1.7 4.9 1.1-6.3 1.6z" color="#ad0400"/>
<path d="M189.1,280l6.3-1.8 5 .9-6.3 1.7z" color="#b10400"/>
<path d="M177.8,281.4l6.2-1.9 5.1 .5-6.2 1.9z" color="#b60400"/>
<path d="M166.5,283.2l6.1-2.1 5.2 .3-6.1 2z" color="#be0400"/>
<path d="M155.2,285.4l6-2.2 5.3 0-6.1 2.2z" color="#c70400"/>
<path d="M206.7,277.4l6.5-1.7 4.9 1.2-6.5 1.6z" color="#a10300"/>
<path d="M195.4,278.2l6.4-1.8 4.9 1-6.3 1.7z" color="#a40300"/>
<path d="M184,279.5l6.3-2 5.1 .7-6.3 1.8z" color="#a90300"/>
<path d="M172.6,281.1l6.3-2 5.1 .4-6.2 1.9z" color="#af0400"/>
<path d="M161.2,283.2l6.2-2.2 5.2 .1-6.1 2.1z" color="#b80400"/>
<path d="M201.8,276.4l6.5-1.8 4.9 1.1-6.5 1.7z" color="#970300"/>
<path d="M190.3,277.5l6.4-1.9 5.1 .8-6.4 1.8z" color="#9b0300"/>
<path d="M178.9,279.1l6.3-2.1 5.1 .5-6.3 2z" color="#a10300"/>
<path d="M167.4,281l6.2-2.1 5.3 .2-6.3 2z" color="#aa0300"/>
<path d="M196.7,275.6l6.6-1.8 5 .8-6.5 1.8z" color="#8e0300"/>
<path d="M185.2,277l6.4-2 5.1 .6-6.4 1.9z" color="#940300"/>
<path d="M173.6,278.9l6.4-2.2 5.2 .3-6.3 2.1z" color="#9b0300"/>
<path d="M191.6,275l6.5-1.9 5.2 .7-6.6 1.8z" color="#870300"/>
<path d="M180,276.7l6.4-2.1 5.2 .4-6.4 2z" color="#8d0300"/>
<path d="M186.4,274.6l6.5-2 5.2 .5-6.5 1.9z" color="#800300"/>
</g>
<path d="M50.2,336L58.2,333.6 66,331.6 73.6,330 82.6,328.6 90,327.9 98.6,327.5 105.7,327.6 114,328.2 120.8,329.1 128.7,330.6 135.2,332.2 142.9,334.5 150.3,337.2 157.6,340.4 164.7,344 171.6,347.9M54.3,333.6L62.3,331.2 70.1,329.3 77.7,327.8 86.8,326.5 94.1,325.9 102.8,325.7 109.8,325.9 118.1,326.6 124.9,327.6 132.8,329.2 139.3,330.9 146.9,333.3 154.4,336.2 161.6,339.5 168.7,343.1 175.6,347.2M58.5,331.1L66.4,328.9 74.2,327 81.9,325.6 90.9,324.5 98.3,324 106.9,323.9 114,324.2 122.3,325 129.1,326.1 137,327.8 143.5,329.6 151.1,332.1 158.5,335.1 165.7,338.5 172.8,342.3 179.7,346.5M62.6,328.7L70.6,326.5 78.4,324.8 86.1,323.5 95.1,322.5 102.5,322.1 109.7,322 116.8,322.4 125.1,323.2 131.9,324.3 139.9,326.1 147.7,328.3 155.3,331 162.7,334.1 169.9,337.6 176.9,341.5 183.8,345.8M66.9,326.3L74.9,324.2 82.7,322.6 90.4,321.4 99.4,320.5 106.8,320.2 114,320.2 121.1,320.7 129.4,321.7 136.2,322.9 144.1,324.8 151.9,327.1 159.5,329.9 166.9,333.1 174.1,336.8 181.1,340.8 188,345.2M71.2,323.9L79.2,321.9 87,320.4 94.7,319.3 103.7,318.5 111.1,318.3 118.3,318.5 125.4,319 133.7,320.1 140.5,321.4 148.4,323.4 156.2,325.9 163.7,328.8 171.1,332.2 178.3,335.9 185.3,340.1 192.2,344.6M75.5,321.5L83.5,319.6 91.4,318.2 99.1,317.2 108.1,316.6 115.4,316.4 122.7,316.7 129.7,317.4 138,318.6 144.8,320 152.7,322.1 160.5,324.7 168,327.8 175.4,331.2 182.6,335.1 189.6,339.4 196.4,344M79.9,319.1L87.9,317.4 95.8,316.1 103.5,315.2 112.5,314.6 119.9,314.6 127.1,315 134.2,315.7 142.4,317.1 149.2,318.6 157.1,320.9 164.9,323.6 172.4,326.8 179.7,330.3 186.9,334.3 193.9,338.7 200.7,343.5M84.4,316.8L92.4,315.1 100.3,313.9 107.9,313.1 117,312.7 124.3,312.8 131.5,313.3 138.6,314.1 146.9,315.6 153.6,317.3 161.6,319.6 169.3,322.5 176.8,325.8 184.1,329.5 191.2,333.6 198.2,338.1 205,343M88.9,314.5L96.9,312.9 104.8,311.8 112.5,311.1 121.5,310.8 128.9,311 136.1,311.6 143.1,312.6 151.4,314.2 158.1,315.9 166,318.4 173.7,321.4 181.2,324.8 188.5,328.7 195.6,332.9 202.6,337.5 209.3,342.5M93.5,312.2L101.5,310.7 109.4,309.7 117.1,309.1 126.1,309 133.4,309.3 140.6,310 147.7,311 155.9,312.8 162.7,314.6 170.5,317.3 178.2,320.4 185.7,323.9 193,327.9 200.1,332.2 207,337 213.7,342.1M98.1,309.9L106.2,308.5 114,307.6 121.7,307.2 130.7,307.1 138.1,307.6 145.3,308.4 152.3,309.5 160.5,311.4 167.3,313.3 175.1,316.1 182.8,319.3 190.2,323 197.5,327.1 204.6,331.6 211.4,336.4 218.1,341.7M102.8,307.6L110.9,306.4 118.7,305.6 126.4,305.2 135.4,305.3 142.8,305.9 149.9,306.8 157,308 165.2,310.1 171.9,312.1 179.7,315 187.4,318.4 194.8,322.1 202,326.4 209.1,331 215.9,336 222.6,341.3M107.6,305.3L115.6,304.2 123.5,303.6 131.2,303.3 140.2,303.5 147.5,304.2 154.7,305.2 161.7,306.6 169.9,308.7 176.6,310.9 184.4,313.9 192,317.4 199.4,321.3 206.6,325.7 213.7,330.4 220.5,335.5 227.1,341M112.4,303.1L120.4,302.1 128.3,301.5 136,301.4 145,301.8 152.3,302.5 159.5,303.7 166.5,305.2 174.7,307.4 181.3,309.7 189.1,312.9 196.7,316.5 204.1,320.5 211.3,325 218.3,329.9 225.1,335.1 231.7,340.7M117.3,300.9L125.3,300 133.2,299.6 140.8,299.5 149.8,300 157.1,300.9 164.3,302.2 171.3,303.8 179.5,306.2 186.1,308.6 193.9,311.9 201.5,315.6 208.8,319.8 216,324.4 222.9,329.4 229.7,334.7 236.3,340.5M122.3,298.7L130.3,297.9 138.1,297.6 145.8,297.7 154.8,298.3 162.1,299.3 169.2,300.7 176.2,302.4 184.3,304.9 191,307.4 198.7,310.9 206.3,314.8 213.6,319.1 220.7,323.8 227.7,328.9 234.4,334.4 240.9,340.3M127.3,296.6L135.3,295.9 143.1,295.7 150.8,295.9 158.3,296.5 165.6,297.5 174.1,299.2 181.1,301.1 189.3,303.7 195.9,306.4 203.6,309.9 211.1,313.9 218.4,318.4 225.5,323.2 232.4,328.5 239.1,334.1 245.6,340.1M132.4,294.4L140.4,293.9 148.2,293.8 155.8,294.1 163.3,294.8 170.6,295.9 179.2,297.8 186.1,299.8 194.2,302.6 200.8,305.3 208.5,309 216,313.2 223.3,317.7 230.3,322.7 237.2,328.1 243.9,333.9 250.3,340M137.5,292.3L145.5,291.9 153.3,291.9 161,292.3 168.4,293.2 175.7,294.4 184.2,296.4 191.2,298.5 199.3,301.5 205.8,304.3 213.5,308.1 221,312.4 228.2,317.1 235.2,322.2 242.1,327.8 248.7,333.6 255.1,339.9M142.7,290.2L150.7,289.9 158.5,290 166.1,290.6 173.6,291.6 180.9,292.9 189.4,295.1 196.3,297.3 204.3,300.4 210.9,303.3 218.5,307.3 226,311.7 233.2,316.6 240.2,321.8 247,327.5 253.5,333.5 259.9,339.8M148,288.2L156,288 163.8,288.2 171.4,288.9 178.8,290 186.1,291.5 194.6,293.7 201.5,296.1 209.5,299.3 216,302.4 223.6,306.5 231,311 238.2,316 245.2,321.4 251.9,327.2 258.5,333.3 264.8,339.8M153.4,286.1L161.3,286 169.1,286.4 176.7,287.2 184.1,288.4 191.4,290 199.8,292.5 206.7,294.9 214.7,298.3 221.2,301.5 228.8,305.7 236.1,310.4 243.3,315.5 250.2,321.1 256.9,327 263.4,333.2 269.7,339.8M158.8,284.1L166.8,284.2 174.5,284.6 182.1,285.6 189.5,286.9 196.7,288.6 205.1,291.2 212,293.7 220,297.3 226.4,300.6 234,305 241.3,309.8 248.4,315.1 255.3,320.7 262,326.8 268.4,333.2 274.7,339.9M164.3,282.1L172.2,282.3 180,282.9 187.6,283.9 194.9,285.4 202.1,287.2 210.5,290 217.3,292.6 225.3,296.3 231.7,299.7 239.2,304.3 246.5,309.3 253.6,314.7 260.4,320.5 267.1,326.6 273.5,333.2 279.7,340M169.9,280.2L177.8,280.4 185.5,281.2 193.1,282.4 200.4,283.9 207.6,285.9 216,288.8 222.8,291.6 230.7,295.4 237.1,299 244.6,303.6 251.8,308.8 258.8,314.3 265.6,320.2 272.2,326.5 278.6,333.2 284.8,340.2M175.5,278.2L183.4,278.6 191.2,279.5 198.7,280.8 206,282.5 213.2,284.6 221.5,287.6 228.2,290.6 236.1,294.5 242.5,298.2 249.9,303 257.1,308.3 264.1,314 270.9,320 277.4,326.5 283.7,333.3 289.9,340.4M181.3,276.3L189.1,276.9 196.8,277.9 204.3,279.3 211.6,281.1 218.8,283.3 227.1,286.5 233.8,289.6 241.6,293.7 248,297.5 255.4,302.4 262.5,307.9 269.5,313.7 276.2,319.9 282.7,326.5 288.9,333.4 295,340.7M187.1,274.4L194.9,275.1 202.6,276.2 210.1,277.8 217.4,279.8 224.4,282.1 232.7,285.4 239.4,288.6 247.2,292.9 253.5,296.8 260.9,301.9 268,307.5 274.9,313.4 281.5,319.8 288,326.5 294.2,333.6 300.2,340.9M51.9,336.6L68.5,327 86.1,317.6 104.5,308.6 122.3,300.6 140.9,292.9 158.6,286.2 179.1,279.2 198.6,273.1M57.5,335L74.1,325.6 91.7,316.6 110.1,307.8 127.9,300.1 146.5,292.7 164.2,286.3 184.6,279.6 204.1,273.9M63,333.6L79.7,324.5 97.2,315.7 115.7,307.3 133.5,299.8 152.1,292.8 169.7,286.6 190.1,280.3 209.5,274.9M68.4,332.4L85.1,323.6 102.7,315.1 121.2,306.9 138.9,299.8 157.5,293 175.2,287.2 195.5,281.2 214.8,276.1M73.8,331.4L90.5,322.9 108.1,314.7 126.6,306.8 144.3,300 162.9,293.5 180.5,288 200.7,282.3 220,277.5M79.1,330.6L95.9,322.4 113.4,314.4 131.9,306.9 149.6,300.4 168.1,294.2 185.7,288.9 205.9,283.6 225.1,279.1M84.3,330L101.1,322 118.7,314.4 135.6,307.8 153.2,301.5 171.6,295.6 190.8,290.1 211,285.1 230.1,280.9M89.5,329.6L106.3,321.9 123.9,314.6 140.7,308.2 158.3,302.2 176.7,296.6 195.9,291.5 216,286.7 235,282.9M94.6,329.4L111.4,322 129,315 145.8,308.9 163.4,303.2 181.7,297.9 200.9,293 220.9,288.6 239.8,285.1M99.7,329.4L116.4,322.2 132.5,316.1 150.8,309.7 168.3,304.3 186.6,299.3 205.7,294.8 225.7,290.7 244.6,287.4M104.6,329.5L121.4,322.7 137.5,316.8 155.7,310.7 173.2,305.6 191.5,300.9 210.5,296.7 230.4,292.9 249.2,290M109.6,329.8L126.3,323.3 142.3,317.7 160.6,311.9 178,307.1 196.3,302.7 215.2,298.8 235,295.3 253.8,292.7M114.4,330.3L131.1,324.1 147.1,318.7 165.4,313.3 182.8,308.8 200.9,304.7 219.9,301 239.6,297.9 258.2,295.6M119.2,331L135.9,325 151.9,320 170.1,314.8 187.5,310.6 205.6,306.8 224.4,303.5 244,300.7 262.6,298.6M123.9,331.9L140.6,326.2 156.6,321.3 174.7,316.5 192,312.6 210.1,309.1 228.9,306.1 248.4,303.6 266.9,301.8M128.5,332.9L145.2,327.5 161.2,322.9 179.3,318.4 196.6,314.7 214.5,311.5 233.3,308.8 252.7,306.6 271.1,305.1M133.1,334L149.8,328.9 165.7,324.6 183.8,320.4 201,317 218.9,314.1 237.6,311.7 256.9,309.8 275.2,308.6M137.6,335.4L154.3,330.5 170.2,326.5 188.2,322.6 205.4,319.5 223.2,316.9 241.8,314.8 261.1,313.2 279.3,312.3M142.1,336.8L158.7,332.3 174.6,328.5 192.5,324.9 209.7,322.1 227.5,319.8 245.9,317.9 265.1,316.7 283.2,316M146.5,338.4L163.1,334.2 178.9,330.7 196.8,327.4 213.9,324.8 231.6,322.8 250,321.3 269.1,320.3 287.1,319.9M150.8,340.2L167.4,336.2 183.2,333 201,330 218,327.7 235.7,326 254,324.7 273,324.1 291,324M155.1,342.1L171.6,338.4 187.4,335.5 205.2,332.7 222.1,330.7 239.7,329.3 258,328.3 276.9,327.9 294.7,328.1M159.3,344.2L175.8,340.7 191.5,338 209.3,335.6 226.2,333.9 243.7,332.7 261.8,332 280.6,331.9 298.4,332.4M163.5,346.4L179.9,343.2 195.6,340.8 213.3,338.6 230.1,337.2 247.5,336.3 265.6,335.9 284.3,336.1 301.9,336.8" fill="none" stroke="#b4b4b4" stroke-opacity="0.3" stroke-width="0.4"/>
<path d="M50.8,452.1L44,282.1" stroke="#222" stroke-width="1" fill="none" />
<path d="M50.8,452.1L190.8,501.6" stroke="#222" stroke-width="0.9" fill="none" />
<path d="M190.8,501.6L300.5,445.2" stroke="#222" stroke-width="0.9" fill="none" />
<path d="M50.8,452.1h-3M49.1,411.5h-3M47.5,369.6h-3M45.7,326.5h-3M44,282.1h-3M50.8,452.1L47.3,453.4M81.9,463.1L78.5,464.5M115.4,475L112,476.4M151.6,487.8L148.2,489.3M190.8,501.6L187.5,503.3M190.8,501.6L194.9,503M212,490.7L216.1,492M231.9,480.5L235.9,481.7M250.6,470.8L254.6,472M268.2,461.8L272.1,462.9M284.8,453.3L288.7,454.3M300.5,445.2L304.3,446.2" stroke="#222" stroke-width="0.8" fill="none"/>
<text transform="matrix(0.999 -0.365 0.878 0.312 51.968 454.302)" font-size="10" text-anchor="end" font-weight="normal" fill="#333" font-family="Liberation Sans" letter-spacing="0.8">6.0</text>
<text transform="matrix(0.995 -0.393 0.945 0.336 83.384 465.461)" font-size="10" text-anchor="end" font-weight="normal" fill="#333" font-family="Liberation Sans" letter-spacing="0.8">6.5</text>
<text transform="matrix(0.988 -0.425 1.019 0.362 117.224 477.480)" font-size="10" text-anchor="end" font-weight="normal" fill="#333" font-family="Liberation Sans" letter-spacing="0.8">7.0</text>
<text transform="matrix(0.977 -0.460 1.103 0.392 153.780 490.465)" font-size="10" text-anchor="end" font-weight="normal" fill="#333" font-family="Liberation Sans" letter-spacing="0.8">7.5</text>
<text transform="matrix(0.960 -0.500 1.197 0.425 193.394 504.535)" font-size="10" text-anchor="end" font-weight="normal" fill="#333" font-family="Liberation Sans" letter-spacing="0.8">8.0</text>
<text transform="matrix(1.115 0.397 -0.897 0.467 192.399 505.053)" font-size="10" text-anchor="start" font-weight="normal" fill="#333" font-family="Liberation Sans" letter-spacing="0.3">30</text>
<text transform="matrix(1.102 0.372 -0.839 0.437 213.773 493.929)" font-size="10" text-anchor="start" font-weight="normal" fill="#333" font-family="Liberation Sans" letter-spacing="0.3">31</text>
<text transform="matrix(1.089 0.349 -0.788 0.410 233.806 483.503)" font-size="10" text-anchor="start" font-weight="normal" fill="#333" font-family="Liberation Sans" letter-spacing="0.3">32</text>
<text transform="matrix(1.075 0.329 -0.740 0.385 252.620 473.711)" font-size="10" text-anchor="start" font-weight="normal" fill="#333" font-family="Liberation Sans" letter-spacing="0.3">33</text>
<text transform="matrix(1.061 0.310 -0.697 0.363 270.325 464.497)" font-size="10" text-anchor="start" font-weight="normal" fill="#333" font-family="Liberation Sans" letter-spacing="0.3">34</text>
<text transform="matrix(1.047 0.292 -0.658 0.342 287.014 455.812)" font-size="10" text-anchor="start" font-weight="normal" fill="#333" font-family="Liberation Sans" letter-spacing="0.3">35</text>
<text transform="matrix(1.032 0.277 -0.622 0.324 302.773 447.610)" font-size="10" text-anchor="start" font-weight="normal" fill="#333" font-family="Liberation Sans" letter-spacing="0.3">36</text>
<text transform="matrix(0.971 -0.356 0.050 1.186 45.378 457.539)" font-size="10" text-anchor="end" font-weight="bold" fill="#000" >18.0</text>
<text transform="matrix(0.987 -0.311 0.051 1.221 43.666 416.703)" font-size="10" text-anchor="end" font-weight="bold" fill="#000" >18.5</text>
<text transform="matrix(1.003 -0.264 0.053 1.257 41.905 374.675)" font-size="10" text-anchor="end" font-weight="bold" fill="#000" >19.0</text>
<text transform="matrix(1.021 -0.213 0.054 1.294 40.092 331.402)" font-size="10" text-anchor="end" font-weight="bold" fill="#000" >19.5</text>
<text transform="matrix(1.038 -0.160 0.056 1.333 38.224 286.828)" font-size="10" text-anchor="end" font-weight="bold" fill="#000" >20.0</text>
<text transform="matrix(1.241 0.473 -1.282 0.556 91.355 491.478)" font-size="10" text-anchor="middle" font-weight="bold" fill="#000" >Fermentation time (d)</text>
<text transform="matrix(0.914 -0.513 1.421 0.437 278.258 483.414)" font-size="10" text-anchor="middle" font-weight="bold" fill="#000" >Fermentation temperature (°C)</text>
<text transform="matrix(-0.080 -1.591 1.310 -0.339 17.353 377.388)" font-size="10" text-anchor="middle" font-weight="bold" fill="#000" >True protein (%)</text>
</g>
<g id="pE">
<path d="M74,707.7L69.6,542.1M99.2,698.7L96.1,537.8M122.9,690.3L121,533.8M145.2,682.3L144.4,530M186.7,679.9L187.8,529M207.7,685.3L209.9,531.6M229.6,691L232.9,534.4M252.4,696.8L256.8,537.3M276.1,702.9L281.8,540.3M46.8,702.4L166.4,661.8M166.4,661.8L301.4,694.8M45.5,664.8L166.4,628.9M166.4,628.9L302.9,658.2M44.1,626.4L166.5,595.5M166.5,595.5L304.5,620.8M42.7,587L166.5,561.3M166.5,561.3L306.2,582.5" stroke="#e0e0e0" stroke-width="0.6" fill="none"/>
<path d="M41.3,546.6L166.6,526.4M166.6,526.4L307.9,543.4" stroke="#666" stroke-width="0.7" fill="none"/>
<path d="M166.4,674.7L166.6,526.4" stroke="#999" stroke-width="0.9" fill="none" />
<path d="M300.7,709.2L307.9,543.4" stroke="#888" stroke-width="0.8" fill="none" />
<path d="M47.3,717.2L188.6,764.2 300.7,709.2 166.4,674.7Z" fill="#f2f25a"/>
<path d="M74,707.7L214.1,751.7M99.2,698.7L238,740M122.9,690.3L260.3,729.1M145.2,682.3L281.1,718.8M68.3,724.2L186.7,679.9M90.2,731.5L207.7,685.3M113.1,739.1L229.6,691M137.1,747.1L252.4,696.8M162.2,755.5L276.1,702.9" stroke="#dcdcc8" stroke-opacity="0.65" stroke-width="0.5" fill="none"/>
<path d="M172.5,758.9L194.6,761.3" stroke="#5d00c0" stroke-width="0.7" stroke-opacity="0.42" fill="none"/>
<path d="M151.3,751.8L164.2,753.5 176.5,754.9 188.4,756.1 202.5,757.4" stroke="#005fff" stroke-width="0.7" stroke-opacity="0.42" fill="none"/>
<path d="M127.5,743.9L148.3,746.9 169.6,749.5 190,751.6 211.2,753.1" stroke="#00fdc5" stroke-width="0.7" stroke-opacity="0.42" fill="none"/>
<path d="M98.8,734.4L114.6,737.2 130,739.7 145,741.8 162.4,744 178.2,745.6 191.9,746.7 206.1,747.7 221,748.3" stroke="#16f600" stroke-width="0.7" stroke-opacity="0.42" fill="none"/>
<path d="M54.9,719.8L65.9,722.5 77.2,725.1 89,727.6 99.2,729.6 109.8,731.5 123.1,733.7 144.1,736.7 155.8,738.2 167.3,739.4 178,740.4 190.8,741.3 202.1,741.9 211.1,742.3 223.4,742.5 232.9,742.5M299.3,709.9L297.7,708.4" stroke="#f0fe00" stroke-width="0.7" stroke-opacity="0.42" fill="none"/>
<path d="M55.3,714.4L65.6,717.1 78.4,720.1 91.9,722.9 104.9,725.4 119,727.8 132.5,729.9 146.6,731.7 158.9,733.1 171.8,734.2 183.8,735.1 197.2,735.7 209.5,736 220.6,736 230.8,735.6 240,735 250.3,733.9M284.4,717.2L284.3,715.9 283.6,713.8 282.5,711.7 280.8,709.4 278.8,707.4 276.9,705.7 274.6,704 271.3,701.7" stroke="#ff9900" stroke-width="0.7" stroke-opacity="0.42" fill="none"/>
<path d="M65.1,710.9L73.7,713.1 84.5,715.6 95.9,718 105.9,719.9 116.3,721.7 127.6,723.4 140.3,725 150.5,726.2 162.2,727.3 171.9,728 181.7,728.5 193.2,728.9 202.3,728.9 211.1,728.7 219,728.3 226,727.7 231.2,727.1 238.2,725.9 244.3,724.6 249.4,722.9 253.6,721.1 255.9,719.7 256.8,719 258.4,717.5 259,716.7 259.9,715 260.3,713.3 260.3,712.3 259.8,710.3 259.4,709.3 258.3,707.5 257,705.9 255.9,704.7 253,702.2 248.7,699.2 243.8,696.3 236.8,692.8" stroke="#fc2f00" stroke-width="0.7" stroke-opacity="0.42" fill="none"/>
<path d="M76.4,706.8L85,708.9 96.5,711.5 105.9,713.3 117.7,715.3 128.5,716.9 139.8,718.3 150.6,719.3 160.2,720.1 170,720.6 180.8,720.8 187.8,720.8 197.4,720.4 204.5,719.9 210.6,719.1 217.1,717.9 222.5,716.4 226.7,714.6 229,713.3 229.9,712.6 230.6,711.8 231.6,710.5 232.1,709.4 232.3,708.5 232.4,707.6 232.2,706.6 231.9,705.6 230.7,703.4 229.8,702.3 228.3,700.8 226.4,699.2 224.4,697.7 219.9,695 214.2,692 207.3,689 200.5,686.4 192,683.5 183.1,680.9 174,678.5 163.1,675.9" stroke="#f90500" stroke-width="0.7" stroke-opacity="0.42" fill="none"/>
<path d="M90.9,701.7L97.8,703.3 105.1,704.8 112.7,706.2 120.7,707.5 134.4,709.2 140.7,709.8 148.9,710.4 161.3,710.8 167.5,710.7 173.5,710.5 178.8,710 183.4,709.3 187.3,708.5 190.6,707.5 193.3,706.3 195.2,704.9 195.9,704.2 196.4,703.4 196.7,702.5 196.8,701.6 196.4,700.1 195.5,698.5 193.7,696.6 191,694.6 188.4,693 184,690.7 180.1,689 174.8,687 169.2,685.1 163.4,683.4 151,680.2" stroke="#f70500" stroke-width="0.7" stroke-opacity="0.42" fill="none"/>
<g fill="currentColor" stroke="currentColor" stroke-width="0.7" stroke-linejoin="round">
<path d="M162.6,560.4l4.6 .4 3.9 4.5-4.6-.4z" color="#f10500"/>
<path d="M160.6,558.2l4.6 .5 2 2.1-4.6-.4z" color="#e60500"/>
<path d="M167.2,560.8l4.6 .5 3.9 4.5-4.6-.5z" color="#f10500"/>
<path d="M158.5,556.2l4.7 .5 2 2-4.6-.5z" color="#da0400"/>
<path d="M165.2,558.7l4.6 .5 2 2.1-4.6-.5z" color="#e50500"/>
<path d="M171.8,561.3l4.7 .7 3.9 4.5-4.7-.7z" color="#f10500"/>
<path d="M156.5,554.4l4.7 .4 2 1.9-4.7-.5z" color="#cf0400"/>
<path d="M163.2,556.7l4.6 .6 2 1.9-4.6-.5z" color="#d90400"/>
<path d="M154.5,552.6l4.6 .5 2.1 1.7-4.7-.4z" color="#c50400"/>
<path d="M169.8,559.2l4.7 .7 2 2.1-4.7-.7z" color="#e50500"/>
<path d="M176.5,562l4.7 .8 3.9 4.5-4.7-.8z" color="#f10500"/>
<path d="M161.2,554.8l4.6 .6 2 1.9-4.6-.6z" color="#ce0400"/>
<path d="M152.4,551l4.7 .4 2 1.7-4.6-.5z" color="#bb0400"/>
<path d="M167.8,557.3l4.7 .7 2 1.9-4.7-.7z" color="#d90400"/>
<path d="M159.1,553.1l4.7 .6 2 1.7-4.6-.6z" color="#c40400"/>
<path d="M174.5,559.9l4.8 .9 1.9 2-4.7-.8z" color="#e50500"/>
<path d="M150.4,549.4l4.6 .5 2.1 1.5-4.7-.4z" color="#b20400"/>
<path d="M181.2,562.8l4.8 1 3.9 4.5-4.8-1z" color="#f10500"/>
<path d="M165.8,555.4l4.7 .7 2 1.9-4.7-.7z" color="#ce0400"/>
<path d="M157.1,551.4l4.7 .7 2 1.6-4.7-.6z" color="#ba0400"/>
<path d="M172.5,558l4.8 .8 2 2-4.8-.9z" color="#d90400"/>
<path d="M163.8,553.7l4.7 .7 2 1.7-4.7-.7z" color="#c40400"/>
<path d="M146.2,546.8l4.7 .5 4.1 2.6-4.6-.5z" color="#a50300"/>
<path d="M179.3,560.8l4.8 1 1.9 2-4.8-1z" color="#e60500"/>
<path d="M155,549.9l4.7 .7 2.1 1.5-4.7-.7z" color="#b10400"/>
<path d="M186,563.8l4.8 1.2 3.9 4.4-4.8-1.1z" color="#f10500"/>
<path d="M170.5,556.1l4.8 .9 2 1.8-4.8-.8z" color="#cf0400"/>
<path d="M161.8,552.1l4.7 .7 2 1.6-4.7-.7z" color="#ba0400"/>
<path d="M177.3,558.8l4.8 1.1 2 1.9-4.8-1z" color="#db0400"/>
<path d="M168.5,554.4l4.8 .9 2 1.7-4.8-.9z" color="#c40400"/>
<path d="M150.9,547.3l4.7 .7 4.1 2.6-4.7-.7z" color="#a50300"/>
<path d="M184.1,561.8l4.8 1.1 1.9 2.1-4.8-1.2z" color="#e80500"/>
<path d="M190.8,565l4.9 1.2 3.8 4.4-4.8-1.2z" color="#f10500"/>
<path d="M159.7,550.6l4.7 .7 2.1 1.5-4.7-.7z" color="#b10400"/>
<path d="M142,544.6l4.7 .6 4.2 2.1-4.7-.5z" color="#960300"/>
<path d="M175.3,557l4.8 1 2 1.9-4.8-1.1z" color="#d00400"/>
<path d="M166.5,552.8l4.8 .9 2 1.6-4.8-.9z" color="#bb0400"/>
<path d="M182.1,559.9l4.8 1.1 2 1.9-4.8-1.1z" color="#dc0400"/>
<path d="M173.3,555.3l4.8 1.1 2 1.6-4.8-1z" color="#c60400"/>
<path d="M188.9,562.9l4.8 1.3 2 2-4.9-1.2z" color="#ea0500"/>
<path d="M155.6,548l4.7 .8 4.1 2.5-4.7-.7z" color="#a50300"/>
<path d="M195.7,566.2l4.9 1.4 3.8 4.4-4.9-1.4z" color="#f10500"/>
<path d="M164.4,551.3l4.8 1 2.1 1.4-4.8-.9z" color="#b20400"/>
<path d="M146.7,545.2l4.7 .7 4.2 2.1-4.7-.7z" color="#960300"/>
<path d="M180.1,558l4.8 1.2 2 1.8-4.8-1.1z" color="#d20400"/>
<path d="M137.7,542.9l4.7 .6 4.3 1.7-4.7-.6z" color="#8a0300"/>
<path d="M171.3,553.7l4.8 1.1 2 1.6-4.8-1.1z" color="#bc0400"/>
<path d="M186.9,561l4.9 1.3 1.9 1.9-4.8-1.3z" color="#df0400"/>
<path d="M178.1,556.4l4.8 1.1 2 1.7-4.8-1.2z" color="#c80400"/>
<path d="M193.7,564.2l4.9 1.5 2 1.9-4.9-1.4z" color="#ed0500"/>
<path d="M200.6,567.6l4.9 1.6 3.8 4.3-4.9-1.5z" color="#f10500"/>
<path d="M160.3,548.8l4.8 .9 4.1 2.6-4.8-1z" color="#a60300"/>
<path d="M169.2,552.3l4.8 1.1 2.1 1.4-4.8-1.1z" color="#b30400"/>
<path d="M151.4,545.9l4.7 .8 4.2 2.1-4.7-.8z" color="#970300"/>
<path d="M184.9,559.2l4.9 1.3 2 1.8-4.9-1.3z" color="#d40400"/>
<path d="M142.4,543.5l4.7 .8 4.3 1.6-4.7-.7z" color="#8a0300"/>
<path d="M133.4,541.8l4.7 .6 4.3 1.1-4.7-.6z" color="#800300"/>
<path d="M191.8,562.3l4.9 1.5 1.9 1.9-4.9-1.5z" color="#e20500"/>
<path d="M174,553.4l4.9 1.2 4 2.9-4.8-1.1z" color="#ba0400"/>
<path d="M182.9,557.5l4.9 1.4 2 1.6-4.9-1.3z" color="#ca0400"/>
<path d="M198.6,565.7l5 1.5 1.9 2-4.9-1.6z" color="#f00500"/>
<path d="M205.5,569.2l5 1.8 3.8 4.2-5-1.7z" color="#f10500"/>
<path d="M165.1,549.7l4.8 1.2 4.1 2.5-4.8-1.1z" color="#a70300"/>
<path d="M189.8,560.5l4.9 1.5 2 1.8-4.9-1.5z" color="#d70400"/>
<path d="M156.1,546.7l4.8 1 4.2 2-4.8-.9z" color="#980300"/>
<path d="M147.1,544.3l4.8 .9 4.2 1.5-4.7-.8z" color="#8b0300"/>
<path d="M196.7,563.8l4.9 1.6 2 1.8-5-1.5z" color="#e50500"/>
<path d="M138.1,542.4l4.7 .8 4.3 1.1-4.7-.8z" color="#810300"/>
<path d="M129,541.2l4.7 .7 4.4 .5-4.7-.6z" color="#790200"/>
<path d="M178.9,554.6l4.9 1.4 4 2.9-4.9-1.4z" color="#bc0400"/>
<path d="M187.8,558.9l4.9 1.5 2 1.6-4.9-1.5z" color="#cd0400"/>
<path d="M210.5,571l5 1.8 3.7 4.3-4.9-1.9z" color="#f20500"/>
<path d="M169.9,550.9l4.9 1.2 4.1 2.5-4.9-1.2z" color="#a90300"/>
<path d="M194.7,562l5 1.6 1.9 1.8-4.9-1.6z" color="#db0400"/>
<path d="M201.6,565.4l5 1.8 3.9 3.8-5-1.8z" color="#ef0500"/>
<path d="M160.9,547.7l4.9 1.2 4.1 2-4.8-1.2z" color="#990300"/>
<path d="M151.9,545.2l4.8 1 4.2 1.5-4.8-1z" color="#8c0300"/>
<path d="M142.8,543.2l4.8 1 4.3 1-4.8-.9z" color="#810300"/>
<path d="M133.7,541.9l4.8 .8 4.3 .5-4.7-.8z" color="#7a0200"/>
<path d="M183.8,556l4.9 1.5 4 2.9-4.9-1.5z" color="#c00400"/>
<path d="M192.7,560.4l5 1.6 2 1.6-5-1.6z" color="#d10400"/>
<path d="M215.5,572.8l5 2.1 3.8 4.2-5.1-2z" color="#f20500"/>
<path d="M124.6,541.2l4.7 .7 4.4 0-4.7-.7z" color="#750200"/>
<path d="M174.8,552.1l4.9 1.5 4.1 2.4-4.9-1.4z" color="#ac0300"/>
<path d="M199.7,563.6l5 1.8 1.9 1.8-5-1.8z" color="#df0500"/>
<path d="M206.6,567.2l5 1.9 3.9 3.7-5-1.8z" color="#f10500"/>
<path d="M165.8,548.9l4.9 1.3 4.1 1.9-4.9-1.2z" color="#9c0300"/>
<path d="M222.4,576.9l5.1 2.2 1.8 2.1-5-2.1z" color="#f20500"/>
<path d="M156.7,546.2l4.9 1.2 4.2 1.5-4.9-1.2z" color="#8e0300"/>
<path d="M147.6,544.2l4.8 1.1 4.3 .9-4.8-1z" color="#830300"/>
<path d="M188.7,557.5l5 1.7 4 2.8-5-1.6z" color="#c40400"/>
<path d="M197.7,562l5 1.8 2 1.6-5-1.8z" color="#d50400"/>
<path d="M138.5,542.7l4.8 1 4.3 .5-4.8-1z" color="#7b0200"/>
<path d="M129.3,541.9l4.8 .9 4.4-.1-4.8-.8z" color="#750200"/>
<path d="M179.7,553.6l5 1.5 4 2.4-4.9-1.5z" color="#b00400"/>
<path d="M120.2,541.7l4.7 .7 4.4-.5-4.7-.7z" color="#720200"/>
<path d="M220.5,574.9l5.1 2.2 1.9 2-5.1-2.2z" color="#f20500"/>
<path d="M211.6,569.1l5.1 2.1 3.8 3.7-5-2.1z" color="#f10500"/>
<path d="M204.7,565.4l5 2 1.9 1.7-5-1.9z" color="#e40500"/>
<path d="M170.7,550.2l4.9 1.5 4.1 1.9-4.9-1.5z" color="#9f0300"/>
<path d="M227.5,579.1l5.1 2.3 1.8 2.2-5.1-2.4z" color="#f20500"/>
<path d="M161.6,547.4l4.9 1.4 4.2 1.4-4.9-1.3z" color="#910300"/>
<path d="M152.4,545.3l4.9 1.2 4.3 .9-4.9-1.2z" color="#850300"/>
<path d="M193.7,559.2l5 1.8 4 2.8-5-1.8z" color="#c80400"/>
<path d="M202.7,563.8l5 2 2 1.6-5-2z" color="#db0400"/>
<path d="M143.3,543.7l4.8 1.2 4.3 .4-4.8-1.1z" color="#7c0300"/>
<path d="M134.1,542.8l4.8 1 4.4-.1-4.8-1z" color="#760200"/>
<path d="M184.7,555.1l5 1.8 4 2.3-5-1.7z" color="#b40400"/>
<path d="M225.6,577.1l5.1 2.3 1.9 2-5.1-2.3z" color="#f20500"/>
<path d="M216.7,571.2l5.1 2.2 3.8 3.7-5.1-2.2z" color="#f10500"/>
<path d="M209.7,567.4l5.1 2.1 1.9 1.7-5.1-2.1z" color="#ea0500"/>
<path d="M124.9,542.4l4.8 1 4.4-.6-4.8-.9z" color="#730200"/>
<path d="M115.7,542.7l4.7 .8 4.5-1.1-4.7-.7z" color="#720200"/>
<path d="M175.6,551.7l4.9 1.6 4.2 1.8-5-1.5z" color="#a20300"/>
<path d="M232.6,581.4l5.1 2.5 1.9 2.1-5.2-2.4z" color="#f20500"/>
<path d="M166.5,548.8l4.9 1.5 4.2 1.4-4.9-1.5z" color="#940300"/>
<path d="M198.7,561l5.1 2.1 3.9 2.7-5-2z" color="#cd0400"/>
<path d="M157.3,546.5l4.9 1.4 4.3 .9-4.9-1.4z" color="#880300"/>
<path d="M207.7,565.8l5.1 2.1 2 1.6-5.1-2.1z" color="#e00500"/>
<path d="M148.1,544.9l4.9 1.3 4.3 .3-4.9-1.2z" color="#7f0300"/>
<path d="M230.7,579.4l5.2 2.5 1.8 2-5.1-2.5z" color="#f20500"/>
<path d="M221.8,573.4l5.2 2.4 3.7 3.6-5.1-2.3z" color="#f10500"/>
<path d="M189.7,556.9l5 1.9 4 2.2-5-1.8z" color="#b90400"/>
<path d="M214.8,569.5l5.1 2.2 1.9 1.7-5.1-2.2z" color="#f00500"/>
<path d="M138.9,543.8l4.8 1.2 4.4-.1-4.8-1.2z" color="#780200"/>
<path d="M129.7,543.4l4.8 1.1 4.4-.7-4.8-1z" color="#740200"/>
<path d="M237.7,583.9l5.2 2.7 1.9 2.1-5.2-2.7z" color="#f20500"/>
<path d="M180.5,553.3l5.1 1.8 4.1 1.8-5-1.8z" color="#a70300"/>
<path d="M120.4,543.5l4.8 1 4.5-1.1-4.8-1z" color="#730200"/>
<path d="M111.2,544.3l4.7 .9 4.5-1.7-4.7-.8z" color="#750200"/>
<path d="M171.4,550.3l5 1.7 4.1 1.3-4.9-1.6z" color="#980300"/>
<path d="M212.8,567.9l5.1 2.3 2 1.5-5.1-2.2z" color="#e70500"/>
<path d="M203.8,563.1l5.1 2.1 3.9 2.7-5.1-2.1z" color="#d30400"/>
<path d="M162.2,547.9l5 1.6 4.2 .8-4.9-1.5z" color="#8b0300"/>
<path d="M235.9,581.9l5.2 2.7 1.8 2-5.2-2.7z" color="#f20500"/>
<path d="M227,575.8l5.1 2.6 3.8 3.5-5.2-2.5z" color="#f20500"/>
<path d="M153,546.2l4.9 1.4 4.3 .3-4.9-1.4z" color="#820300"/>
<path d="M194.7,558.8l5.1 2 4 2.3-5.1-2.1z" color="#be0400"/>
<path d="M143.7,545l4.9 1.3 4.4-.1-4.9-1.3z" color="#7b0200"/>
<path d="M242.9,586.6l5.3 2.8 1.8 2.1-5.2-2.8z" color="#f31000"/>
<path d="M134.5,544.5l4.8 1.2 4.4-.7-4.8-1.2z" color="#760200"/>
<path d="M185.6,555.1l5 1.9 4.1 1.8-5-1.9z" color="#ac0300"/>
<path d="M217.9,570.2l5.2 2.5 3.9 3.1-5.2-2.4z" color="#f10500"/>
<path d="M125.2,544.5l4.8 1.2 4.5-1.2-4.8-1.1z" color="#750200"/>
<path d="M115.9,545.2l4.8 1.1 4.5-1.8-4.8-1z" color="#760200"/>
<path d="M176.4,552l5 1.8 4.2 1.3-5.1-1.8z" color="#9c0300"/>
<path d="M234,580.1l5.2 2.7 1.9 1.8-5.2-2.7z" color="#f20500"/>
<path d="M106.6,546.6l4.7 .9 4.6-2.3-4.7-.9z" color="#7a0200"/>
<path d="M208.9,565.2l5.1 2.4 3.9 2.6-5.1-2.3z" color="#da0400"/>
<path d="M167.2,549.5l4.9 1.7 4.3 .8-5-1.7z" color="#8f0300"/>
<path d="M241.1,584.6l5.2 2.9 1.9 1.9-5.3-2.8z" color="#f20500"/>
<path d="M199.8,560.8l5.1 2.2 4 2.2-5.1-2.1z" color="#c40400"/>
<path d="M157.9,547.6l5 1.6 4.3 .3-5-1.6z" color="#850300"/>
<path d="M248.2,589.4l5.2 3 1.8 2-5.2-2.9z" color="#f41e00"/>
<path d="M148.6,546.3l4.9 1.5 4.4-.2-4.9-1.4z" color="#7e0300"/>
<path d="M232.1,578.4l5.3 2.7 1.8 1.7-5.2-2.7z" color="#f20500"/>
<path d="M223.1,572.7l5.2 2.6 3.8 3.1-5.1-2.6z" color="#f10500"/>
<path d="M190.6,557l5.1 2.1 4.1 1.7-5.1-2z" color="#b10400"/>
<path d="M139.3,545.7l4.9 1.4 4.4-.8-4.9-1.3z" color="#790200"/>
<path d="M239.2,582.8l5.3 2.9 1.8 1.8-5.2-2.9z" color="#f20500"/>
<path d="M130,545.7l4.8 1.3 4.5-1.3-4.8-1.2z" color="#770200"/>
<path d="M181.4,553.8l5.1 2 4.1 1.2-5-1.9z" color="#a10300"/>
<path d="M120.7,546.3l4.8 1.2 4.5-1.8-4.8-1.2z" color="#780200"/>
<path d="M214,567.6l5.2 2.4 3.9 2.7-5.2-2.5z" color="#e10500"/>
<path d="M111.3,547.5l4.8 1.1 4.6-2.3-4.8-1.1z" color="#7b0300"/>
<path d="M246.3,587.5l5.3 3 1.8 1.9-5.2-3z" color="#f30c00"/>
<path d="M102,549.4l4.7 1 4.6-2.9-4.7-.9z" color="#820300"/>
<path d="M172.1,551.2l5.1 1.9 4.2 .7-5-1.8z" color="#940300"/>
<path d="M253.4,592.4l5.3 3.2 1.8 2-5.3-3.2z" color="#f42d00"/>
<path d="M204.9,563l5.1 2.4 4 2.2-5.1-2.4z" color="#cb0400"/>
<path d="M162.9,549.2l5 1.8 4.2 .2-4.9-1.7z" color="#890300"/>
<path d="M237.4,581.1l5.2 2.9 1.9 1.7-5.3-2.9z" color="#f20500"/>
<path d="M228.3,575.3l5.3 2.8 3.8 3-5.3-2.7z" color="#f10500"/>
<path d="M153.5,547.8l5 1.7 4.4-.3-5-1.6z" color="#810300"/>
<path d="M195.7,559.1l5.1 2.3 4.1 1.6-5.1-2.2z" color="#b80400"/>
<path d="M244.5,585.7l5.3 3 1.8 1.8-5.3-3z" color="#f20500"/>
<path d="M144.2,547.1l4.9 1.6 4.4-.9-4.9-1.5z" color="#7c0300"/>
<path d="M186.5,555.8l5.1 2.1 4.1 1.2-5.1-2.1z" color="#a70300"/>
<path d="M134.8,547l4.9 1.4 4.5-1.3-4.9-1.4z" color="#7a0200"/>
<path d="M219.2,570l5.2 2.7 3.9 2.6-5.2-2.6z" color="#e90500"/>
<path d="M251.6,590.5l5.3 3.2 1.8 1.9-5.3-3.2z" color="#f31c00"/>
<path d="M125.5,547.5l4.8 1.3 4.5-1.8-4.8-1.3z" color="#7a0200"/>
<path d="M116.1,548.6l4.8 1.3 4.6-2.4-4.8-1.2z" color="#7d0300"/>
<path d="M177.2,553.1l5.1 2 4.2 .7-5.1-2z" color="#990300"/>
<path d="M258.7,595.6l5.4 3.3 1.8 2-5.4-3.3z" color="#f53d00"/>
<path d="M106.7,550.4l4.8 1.1 4.6-2.9-4.8-1.1z" color="#830300"/>
<path d="M97.3,552.8l4.8 1 4.6-3.4-4.7-1z" color="#8c0300"/>
<path d="M210,565.4l5.2 2.6 4 2-5.2-2.4z" color="#d20400"/>
<path d="M242.6,584l5.3 3 1.9 1.7-5.3-3z" color="#f20500"/>
<path d="M167.9,551l5 1.9 4.3 .2-5.1-1.9z" color="#8e0300"/>
<path d="M233.6,578.1l5.2 2.9 3.8 3-5.2-2.9z" color="#f20500"/>
<path d="M200.8,561.4l5.2 2.4 4 1.6-5.1-2.4z" color="#be0400"/>
<path d="M158.5,549.5l5 1.8 4.4-.3-5-1.8z" color="#860300"/>
<path d="M249.8,588.7l5.3 3.2 1.8 1.8-5.3-3.2z" color="#f30b00"/>
<path d="M149.1,548.7l5 1.7 4.4-.9-5-1.7z" color="#800300"/>
<path d="M256.9,593.7l5.4 3.3 1.8 1.9-5.4-3.3z" color="#f42c00"/>
<path d="M224.4,572.7l5.3 2.8 3.9 2.6-5.3-2.8z" color="#f10500"/>
<path d="M191.6,557.9l5.1 2.4 4.1 1.1-5.1-2.3z" color="#ad0400"/>
<path d="M139.7,548.4l5 1.7 4.4-1.4-4.9-1.6z" color="#7d0300"/>
<path d="M240.7,582.4l5.3 3.1 1.9 1.5-5.3-3z" color="#f20500"/>
<path d="M264.1,598.9l5.4 3.5 1.7 1.9-5.3-3.4z" color="#f54e00"/>
<path d="M130.3,548.8l4.9 1.6 4.5-2-4.9-1.4z" color="#7d0300"/>
<path d="M182.3,555.1l5.1 2.2 4.2 .6-5.1-2.1z" color="#9f0300"/>
<path d="M120.9,549.9l4.9 1.4 4.5-2.5-4.8-1.3z" color="#800300"/>
<path d="M215.2,568l5.3 2.7 3.9 2-5.2-2.7z" color="#da0400"/>
<path d="M247.9,587l5.4 3.3 1.8 1.6-5.3-3.2z" color="#f20500"/>
<path d="M111.5,551.5l4.8 1.4 4.6-3-4.8-1.3z" color="#850300"/>
<path d="M102.1,553.8l4.7 1.3 4.7-3.6-4.8-1.1z" color="#8d0300"/>
<path d="M92.6,556.8l4.8 1.1 4.7-4.1-4.8-1z" color="#980300"/>
<path d="M172.9,552.9l5.1 2.1 4.3 .1-5.1-2z" color="#940300"/>
<path d="M255.1,591.9l5.4 3.4 1.8 1.7-5.4-3.3z" color="#f31c00"/>
<path d="M206,563.8l5.2 2.6 4 1.6-5.2-2.6z" color="#c60400"/>
<path d="M163.5,551.3l5.1 2 4.3-.4-5-1.9z" color="#8b0300"/>
<path d="M238.8,581l5.4 3.1 1.8 1.4-5.3-3.1z" color="#f20500"/>
<path d="M262.3,597l5.4 3.5 1.8 1.9-5.4-3.5z" color="#f53d00"/>
<path d="M229.7,575.5l5.3 3 3.8 2.5-5.2-2.9z" color="#f10500"/>
<path d="M154.1,550.4l5 1.9 4.4-1-5-1.8z" color="#850300"/>
<path d="M196.7,560.3l5.2 2.5 4.1 1-5.2-2.4z" color="#b50400"/>
<path d="M269.5,602.4l5.4 3.6 1.7 2-5.4-3.7z" color="#f66100"/>
<path d="M246,585.5l5.4 3.3 1.9 1.5-5.4-3.3z" color="#f20500"/>
<path d="M144.7,550.1l5 1.7 4.4-1.4-5-1.7z" color="#820300"/>
<path d="M187.4,557.3l5.1 2.4 4.2 .6-5.1-2.4z" color="#a60300"/>
<path d="M220.5,570.7l5.3 2.9 3.9 1.9-5.3-2.8z" color="#e30500"/>
<path d="M135.2,550.4l5 1.6 4.5-1.9-5-1.7z" color="#810300"/>
<path d="M253.3,590.3l5.3 3.4 1.9 1.6-5.4-3.4z" color="#f30c00"/>
<path d="M125.8,551.3l4.9 1.6 4.5-2.5-4.9-1.6z" color="#830300"/>
<path d="M116.3,552.9l4.9 1.4 4.6-3-4.9-1.4z" color="#880300"/>
<path d="M260.5,595.3l5.4 3.5 1.8 1.7-5.4-3.5z" color="#f42d00"/>
<path d="M178,555l5.1 2.3 4.3 0-5.1-2.2z" color="#9a0300"/>
<path d="M106.8,555.1l4.9 1.4 4.6-3.6-4.8-1.4z" color="#900300"/>
<path d="M211.2,566.4l5.3 2.8 4 1.5-5.3-2.7z" color="#ce0400"/>
<path d="M97.4,557.9l4.8 1.3 4.6-4.1-4.7-1.3z" color="#9a0300"/>
<path d="M87.9,561.4l4.8 1.2 4.7-4.7-4.8-1.1z" color="#a70300"/>
<path d="M267.7,600.5l5.4 3.7 1.8 1.8-5.4-3.6z" color="#f65000"/>
<path d="M244.2,584.1l5.3 3.3 1.9 1.4-5.4-3.3z" color="#f20500"/>
<path d="M168.6,553.3l5.1 2.2 4.3-.5-5.1-2.1z" color="#910300"/>
<path d="M235,578.5l5.3 3.2 3.9 2.4-5.4-3.1z" color="#f10500"/>
<path d="M274.9,606l5.4 3.9 1.8 1.9-5.5-3.8z" color="#f77400"/>
<path d="M201.9,562.8l5.2 2.6 4.1 1-5.2-2.6z" color="#bc0400"/>
<path d="M251.4,588.8l5.4 3.4 1.8 1.5-5.3-3.4z" color="#f20500"/>
<path d="M159.1,552.3l5.1 2 4.4-1-5.1-2z" color="#8a0300"/>
<path d="M149.7,551.8l5 2 4.4-1.5-5-1.9z" color="#860300"/>
<path d="M258.6,593.7l5.4 3.6 1.9 1.5-5.4-3.5z" color="#f41e00"/>
<path d="M225.8,573.6l5.3 3 3.9 1.9-5.3-3z" color="#ec0500"/>
<path d="M192.5,559.7l5.2 2.6 4.2 .5-5.2-2.5z" color="#ad0400"/>
<path d="M140.2,552l5 1.9 4.5-2.1-5-1.7z" color="#850300"/>
<path d="M265.9,598.8l5.4 3.8 1.8 1.6-5.4-3.7z" color="#f54000"/>
<path d="M130.7,552.9l5 1.7 4.5-2.6-5-1.6z" color="#870300"/>
<path d="M85.5,563.9l4.8 1.2 2.4-2.5-4.8-1.2z" color="#b40400"/>
<path d="M183.1,557.3l5.2 2.4 4.2 0-5.1-2.4z" color="#a10300"/>
<path d="M280.3,609.9l2.8 2 1.7 1.9-2.7-2z" color="#f78300"/>
<path d="M216.5,569.2l5.3 2.9 4 1.5-5.3-2.9z" color="#d70400"/>
<path d="M273.1,604.2l5.5 3.9 1.7 1.8-5.4-3.9z" color="#f66300"/>
<path d="M121.2,554.3l4.9 1.7 4.6-3.1-4.9-1.6z" color="#8b0300"/>
<path d="M249.5,587.4l5.4 3.5 1.9 1.3-5.4-3.4z" color="#f20500"/>
<path d="M111.7,556.5l4.8 1.5 4.7-3.7-4.9-1.4z" color="#930300"/>
<path d="M240.3,581.7l5.4 3.4 3.8 2.3-5.3-3.3z" color="#f20500"/>
<path d="M102.2,559.2l4.8 1.5 4.7-4.2-4.9-1.4z" color="#9c0300"/>
<path d="M173.7,555.5l5.1 2.3 4.3-.5-5.1-2.3z" color="#970300"/>
<path d="M92.7,562.6l4.7 1.3 4.8-4.7-4.8-1.3z" color="#a90300"/>
<path d="M256.8,592.2l5.4 3.6 1.8 1.5-5.4-3.6z" color="#f31000"/>
<path d="M207.1,565.4l5.3 2.8 4.1 1-5.3-2.8z" color="#c50400"/>
<path d="M283.1,611.9l2.7 2 1.8 1.9-2.8-2z" color="#f78e00"/>
<path d="M164.2,554.3l5.1 2.3 4.4-1.1-5.1-2.2z" color="#900300"/>
<path d="M264,597.3l5.5 3.7 1.8 1.6-5.4-3.8z" color="#f43100"/>
<path d="M83.2,566.6l4.7 1.3 2.4-2.8-4.8-1.2z" color="#bd0400"/>
<path d="M231.1,576.6l5.3 3.2 3.9 1.9-5.3-3.2z" color="#f10500"/>
<path d="M154.7,553.8l5.1 2.1 4.4-1.6-5.1-2z" color="#8c0300"/>
<path d="M197.7,562.3l5.3 2.7 4.1 .4-5.2-2.6z" color="#b50400"/>
<path d="M278.6,608.1l2.7 2 1.8 1.8-2.8-2z" color="#f77200"/>
<path d="M271.3,602.6l5.5 3.9 1.8 1.6-5.5-3.9z" color="#f65300"/>
<path d="M247.6,586.2l5.4 3.5 1.9 1.2-5.4-3.5z" color="#f20500"/>
<path d="M145.2,553.9l5 2 4.5-2.1-5-2z" color="#8a0300"/>
<path d="M285.8,613.9l2.8 2.1 1.7 1.8-2.7-2z" color="#f79800"/>
<path d="M221.8,572.1l5.3 3.1 4 1.4-5.3-3z" color="#e10500"/>
<path d="M188.3,559.7l5.2 2.6 4.2 0-5.2-2.6z" color="#a80300"/>
<path d="M254.9,590.9l5.4 3.6 1.9 1.3-5.4-3.6z" color="#f20500"/>
<path d="M135.7,554.6l5 1.9 4.5-2.6-5-1.9z" color="#8c0300"/>
<path d="M90.3,565.1l4.8 1.5 2.3-2.7-4.7-1.3z" color="#b60400"/>
<path d="M80.8,569.4l4.7 1.4 2.4-2.9-4.7-1.3z" color="#c70400"/>
<path d="M281.3,610.1l2.8 2 1.7 1.8-2.7-2z" color="#f77c00"/>
<path d="M126.1,556l5 1.8 4.6-3.2-5-1.7z" color="#900300"/>
<path d="M262.2,595.8l5.5 3.8 1.8 1.4-5.5-3.7z" color="#f42300"/>
<path d="M116.5,558l5 1.7 4.6-3.7-4.9-1.7z" color="#960300"/>
<path d="M178.8,557.8l5.2 2.5 4.3-.6-5.2-2.4z" color="#9e0300"/>
<path d="M288.6,616l2.7 2.1 1.8 1.8-2.8-2.1z" color="#f7a400"/>
<path d="M107,560.7l4.9 1.6 4.6-4.3-4.8-1.5z" color="#a00300"/>
<path d="M212.4,568.2l5.3 3 4.1 .9-5.3-2.9z" color="#ce0400"/>
<path d="M97.4,563.9l4.9 1.6 4.7-4.8-4.8-1.5z" color="#ac0300"/>
<path d="M276.8,606.5l2.7 2 1.8 1.6-2.7-2z" color="#f66200"/>
<path d="M269.5,601l5.5 3.9 1.8 1.6-5.5-3.9z" color="#f54400"/>
<path d="M245.7,585.1l5.4 3.5 1.9 1.1-5.4-3.5z" color="#f20500"/>
<path d="M169.3,556.6l5.2 2.3 4.3-1.1-5.1-2.3z" color="#970300"/>
<path d="M236.4,579.8l5.4 3.5 3.9 1.8-5.4-3.4z" color="#f10500"/>
<path d="M284.1,612.1l2.7 2.1 1.8 1.8-2.8-2.1z" color="#f78700"/>
<path d="M203,565l5.3 2.9 4.1 .3-5.3-2.8z" color="#be0400"/>
<path d="M253,589.7l5.5 3.6 1.8 1.2-5.4-3.6z" color="#f20500"/>
<path d="M78.4,572.4l4.7 1.4 2.4-3-4.7-1.4z" color="#d20400"/>
<path d="M87.9,567.9l4.8 1.4 2.4-2.7-4.8-1.5z" color="#c00400"/>
<path d="M291.3,618.1l2.8 2.1 1.7 1.9-2.7-2.2z" color="#f7af00"/>
<path d="M159.8,555.9l5.1 2.3 4.4-1.6-5.1-2.3z" color="#920300"/>
<path d="M279.5,608.5l2.8 2 1.8 1.6-2.8-2z" color="#f76d00"/>
<path d="M267.7,599.6l2.7 2 1.8 1.4-2.7-2z" color="#f43100"/>
<path d="M260.3,594.5l5.5 3.8 1.9 1.3-5.5-3.8z" color="#f31500"/>
<path d="M150.2,555.9l5.1 2.2 4.5-2.2-5.1-2.1z" color="#900300"/>
<path d="M227.1,575.2l5.4 3.3 3.9 1.3-5.3-3.2z" color="#eb0500"/>
<path d="M286.8,614.2l2.8 2.2 1.7 1.7-2.7-2.1z" color="#f79300"/>
<path d="M193.5,562.3l5.3 2.8 4.2-.1-5.3-2.7z" color="#b00400"/>
<path d="M275,604.9l2.7 2.1 1.8 1.5-2.7-2z" color="#f65300"/>
<path d="M140.7,556.5l5 2.1 4.5-2.7-5-2z" color="#910300"/>
<path d="M294.1,620.2l2.8 2.3 1.7 1.8-2.8-2.2z" color="#f7bb00"/>
<path d="M131.1,557.8l5 2 4.6-3.3-5-1.9z" color="#940300"/>
<path d="M282.3,610.5l2.8 2.1 1.7 1.6-2.7-2.1z" color="#f77700"/>
<path d="M95.1,566.6l4.8 1.5 2.4-2.6-4.9-1.6z" color="#b90400"/>
<path d="M76,575.6l4.7 1.4 2.4-3.2-4.7-1.4z" color="#dd0400"/>
<path d="M184,560.3l5.3 2.7 4.2-.7-5.2-2.6z" color="#a60300"/>
<path d="M85.5,570.8l4.8 1.4 2.4-2.9-4.8-1.4z" color="#ca0400"/>
<path d="M217.7,571.2l5.4 3.2 4 .8-5.3-3.1z" color="#d70400"/>
<path d="M270.4,601.6l2.8 2 1.8 1.3-2.8-1.9z" color="#f53b00"/>
<path d="M121.5,559.7l4.9 1.9 4.7-3.8-5-1.8z" color="#9b0300"/>
<path d="M251.1,588.6l5.5 3.7 1.9 1-5.5-3.6z" color="#f20500"/>
<path d="M289.6,616.4l2.8 2.1 1.7 1.7-2.8-2.1z" color="#f79e00"/>
<path d="M111.9,562.3l4.9 1.8 4.7-4.4-5-1.7z" color="#a40300"/>
<path d="M241.8,583.3l5.5 3.5 3.8 1.8-5.4-3.5z" color="#f20500"/>
<path d="M102.3,565.5l4.9 1.7 4.7-4.9-4.9-1.6z" color="#af0400"/>
<path d="M277.7,607l2.8 2 1.8 1.5-2.8-2z" color="#f65e00"/>
<path d="M174.5,558.9l5.2 2.6 4.3-1.2-5.2-2.5z" color="#9e0300"/>
<path d="M296.9,622.5l2.8 2.2 1.7 1.8-2.8-2.2z" color="#f7c700"/>
<path d="M265.8,598.3l2.8 2 1.8 1.3-2.7-2z" color="#f42400"/>
<path d="M258.5,593.3l5.5 3.9 1.8 1.1-5.5-3.8z" color="#f30900"/>
<path d="M208.3,567.9l5.3 3 4.1 .3-5.3-3z" color="#c70400"/>
<path d="M285.1,612.6l2.7 2.2 1.8 1.6-2.8-2.2z" color="#f78300"/>
<path d="M164.9,558.2l5.2 2.4 4.4-1.7-5.2-2.3z" color="#990300"/>
<path d="M273.2,603.6l2.7 2 1.8 1.4-2.7-2.1z" color="#f54600"/>
<path d="M292.4,618.5l2.8 2.3 1.7 1.7-2.8-2.3z" color="#f7aa00"/>
<path d="M73.6,578.9l4.7 1.4 2.4-3.3-4.7-1.4z" color="#e90500"/>
<path d="M92.7,569.3l4.8 1.6 2.4-2.8-4.8-1.5z" color="#c30400"/>
<path d="M83.1,573.8l4.8 1.5 2.4-3.1-4.8-1.4z" color="#d50400"/>
<path d="M232.5,578.5l5.4 3.5 3.9 1.3-5.4-3.5z" color="#f10500"/>
<path d="M280.5,609l2.8 2.2 1.8 1.4-2.8-2.1z" color="#f76900"/>
<path d="M155.3,558.1l5.1 2.3 4.5-2.2-5.1-2.3z" color="#960300"/>
<path d="M299.7,624.7l2.8 2.3 1.7 1.8-2.8-2.3z" color="#f7d300"/>
<path d="M198.8,565.1l5.3 3 4.2-.2-5.3-2.9z" color="#b90400"/>
<path d="M268.6,600.3l2.7 2 1.9 1.3-2.8-2z" color="#f42e00"/>
<path d="M287.8,614.8l2.8 2.2 1.8 1.5-2.8-2.1z" color="#f78e00"/>
<path d="M145.7,558.6l5.1 2.3 4.5-2.8-5.1-2.2z" color="#970300"/>
<path d="M275.9,605.6l2.8 2.1 1.8 1.3-2.8-2z" color="#f65000"/>
<path d="M295.2,620.8l2.8 2.2 1.7 1.7-2.8-2.2z" color="#f7b600"/>
<path d="M264,597.2l2.7 1.9 1.9 1.2-2.8-2z" color="#f31800"/>
<path d="M223.1,574.4l5.4 3.4 4 .7-5.4-3.3z" color="#e20500"/>
<path d="M256.6,592.3l5.5 3.8 1.9 1.1-5.5-3.9z" color="#f20500"/>
<path d="M189.3,563l5.2 2.8 4.3-.7-5.3-2.8z" color="#ae0400"/>
<path d="M136.1,559.8l5 2.1 4.6-3.3-5-2.1z" color="#9a0300"/>
<path d="M283.3,611.2l2.8 2.1 1.7 1.5-2.7-2.2z" color="#f77400"/>
<path d="M247.3,586.8l5.5 3.8 3.8 1.7-5.5-3.7z" color="#f20500"/>
<path d="M99.9,568.1l4.9 1.8 2.4-2.7-4.9-1.7z" color="#bd0400"/>
<path d="M90.3,572.2l4.8 1.7 2.4-3-4.8-1.6z" color="#cd0400"/>
<path d="M80.7,577l4.8 1.6 2.4-3.3-4.8-1.5z" color="#e00500"/>
<path d="M126.4,561.6l5.1 2.1 4.6-3.9-5-2z" color="#9f0300"/>
<path d="M271.3,602.3l2.8 2.1 1.8 1.2-2.7-2z" color="#f53900"/>
<path d="M290.6,617l2.8 2.2 1.8 1.6-2.8-2.3z" color="#f79a00"/>
<path d="M116.8,564.1l5 1.9 4.6-4.4-4.9-1.9z" color="#a80300"/>
<path d="M179.7,561.5l5.2 2.7 4.4-1.2-5.3-2.7z" color="#a60300"/>
<path d="M213.6,570.9l5.4 3.3 4.1 .2-5.4-3.2z" color="#d10400"/>
<path d="M107.2,567.2l4.9 1.9 4.7-5-4.9-1.8z" color="#b30400"/>
<path d="M278.7,607.7l2.8 2.1 1.8 1.4-2.8-2.2z" color="#f65b00"/>
<path d="M298,623l2.8 2.3 1.7 1.7-2.8-2.3z" color="#f7c200"/>
<path d="M68.7,586l4.8 1.5 4.8-7.2-4.7-1.4z" color="#f10500"/>
<path d="M266.7,599.1l2.8 2.1 1.8 1.1-2.7-2z" color="#f42200"/>
<path d="M170.1,560.6l5.2 2.7 4.4-1.8-5.2-2.6z" color="#a00300"/>
<path d="M286.1,613.3l2.8 2.2 1.7 1.5-2.8-2.2z" color="#f77f00"/>
<path d="M237.9,582l5.5 3.6 3.9 1.2-5.5-3.5z" color="#f10500"/>
<path d="M274.1,604.4l2.8 2.1 1.8 1.2-2.8-2.1z" color="#f54300"/>
<path d="M262.1,596.1l2.7 2 1.9 1-2.7-1.9z" color="#f30d00"/>
<path d="M293.4,619.2l2.8 2.3 1.8 1.5-2.8-2.2z" color="#f7a600"/>
<path d="M204.1,568.1l5.3 3.1 4.2-.3-5.3-3z" color="#c20400"/>
<path d="M97.5,570.9l4.9 1.8 2.4-2.8-4.9-1.8z" color="#c60400"/>
<path d="M78.3,580.3l4.8 1.7 2.4-3.4-4.8-1.6z" color="#ec0500"/>
<path d="M87.9,575.3l4.9 1.7 2.3-3.1-4.8-1.7z" color="#d80400"/>
<path d="M160.4,560.4l5.2 2.6 4.5-2.4-5.2-2.4z" color="#9d0300"/>
<path d="M281.5,609.8l2.8 2.2 1.8 1.3-2.8-2.1z" color="#f66600"/>
<path d="M269.5,601.2l2.8 2.1 1.8 1.1-2.8-2.1z" color="#f42d00"/>
<path d="M228.5,577.8l5.4 3.5 4 .7-5.4-3.5z" color="#ed0500"/>
<path d="M150.8,560.9l5.1 2.4 4.5-2.9-5.1-2.3z" color="#9d0300"/>
<path d="M288.9,615.5l2.8 2.3 1.7 1.4-2.8-2.2z" color="#f78b00"/>
<path d="M194.5,565.8l5.3 3.1 4.3-.8-5.3-3z" color="#b70400"/>
<path d="M252.8,590.6l5.5 3.9 3.8 1.6-5.5-3.8z" color="#f20500"/>
<path d="M276.9,606.5l2.8 2.1 1.8 1.2-2.8-2.1z" color="#f54e00"/>
<path d="M296.2,621.5l2.9 2.3 1.7 1.5-2.8-2.3z" color="#f7b300"/>
<path d="M141.1,561.9l5.1 2.4 4.6-3.4-5.1-2.3z" color="#a00300"/>
<path d="M264.8,598.1l2.8 2.1 1.9 1-2.8-2.1z" color="#f31700"/>
<path d="M284.3,612l2.8 2.2 1.8 1.3-2.8-2.2z" color="#f77200"/>
<path d="M104.8,569.9l4.9 1.9 2.4-2.7-4.9-1.9z" color="#c10400"/>
<path d="M131.5,563.7l5 2.2 4.6-4-5-2.1z" color="#a50300"/>
<path d="M66.3,589.8l4.8 1.6 2.4-3.9-4.8-1.5z" color="#f20500"/>
<path d="M95.1,573.9l4.9 1.8 2.4-3-4.9-1.8z" color="#d10400"/>
<path d="M184.9,564.2l5.3 2.9 4.3-1.3-5.2-2.8z" color="#ae0400"/>
<path d="M85.5,578.6l4.8 1.7 2.5-3.3-4.9-1.7z" color="#e30500"/>
<path d="M272.3,603.3l2.7 2.1 1.9 1.1-2.8-2.1z" color="#f53800"/>
<path d="M219,574.2l5.4 3.4 4.1 .2-5.4-3.4z" color="#db0400"/>
<path d="M121.8,566l5 2.2 4.7-4.5-5.1-2.1z" color="#ad0400"/>
<path d="M291.7,617.8l2.8 2.3 1.7 1.4-2.8-2.3z" color="#f79700"/>
<path d="M243.4,585.6l5.5 3.9 3.9 1.1-5.5-3.8z" color="#f20500"/>
<path d="M112.1,569.1l5 2 4.7-5.1-5-1.9z" color="#b80400"/>
<path d="M279.7,608.6l2.8 2.2 1.8 1.2-2.8-2.2z" color="#f65a00"/>
<path d="M175.3,563.3l5.2 2.8 4.4-1.9-5.2-2.7z" color="#a80300"/>
<path d="M267.6,600.2l2.8 2.1 1.9 1-2.8-2.1z" color="#f42200"/>
<path d="M73.5,587.5l4.8 1.7 4.8-7.2-4.8-1.7z" color="#f10500"/>
<path d="M287.1,614.2l2.8 2.3 1.8 1.3-2.8-2.3z" color="#f77d00"/>
<path d="M209.4,571.2l5.4 3.3 4.2-.3-5.4-3.3z" color="#cc0400"/>
<path d="M258.3,594.5l2.7 2.1 3.8 1.5-2.7-2z" color="#f20500"/>
<path d="M275,605.4l2.8 2.1 1.9 1.1-2.8-2.1z" color="#f54300"/>
<path d="M165.6,563l5.2 2.7 4.5-2.4-5.2-2.7z" color="#a50300"/>
<path d="M294.5,620.1l2.8 2.3 1.8 1.4-2.9-2.3z" color="#f7a400"/>
<path d="M63.9,593.7l4.7 1.7 2.5-4-4.8-1.6z" color="#f20500"/>
<path d="M102.4,572.7l4.9 2 2.4-2.9-4.9-1.9z" color="#cb0400"/>
<path d="M92.8,577l4.8 1.9 2.4-3.2-4.9-1.8z" color="#dc0400"/>
<path d="M233.9,581.3l5.5 3.7 4 .6-5.5-3.6z" color="#f10500"/>
<path d="M83.1,582l4.8 1.7 2.4-3.4-4.8-1.7z" color="#ef0500"/>
<path d="M282.5,610.8l2.8 2.3 1.8 1.1-2.8-2.2z" color="#f66500"/>
<path d="M199.8,568.9l5.4 3.1 4.2-.8-5.3-3.1z" color="#c00400"/>
<path d="M155.9,563.3l5.2 2.6 4.5-2.9-5.2-2.6z" color="#a40300"/>
<path d="M270.4,602.3l2.8 2.1 1.8 1-2.7-2.1z" color="#f42d00"/>
<path d="M289.9,616.5l2.8 2.3 1.8 1.3-2.8-2.3z" color="#f78a00"/>
<path d="M261,596.6l2.8 2 3.8 1.6-2.8-2.1z" color="#f30900"/>
<path d="M146.2,564.3l5.2 2.5 4.5-3.5-5.1-2.4z" color="#a60300"/>
<path d="M277.8,607.5l2.8 2.3 1.9 1-2.8-2.2z" color="#f54e00"/>
<path d="M224.4,577.6l5.4 3.6 4.1 .1-5.4-3.5z" color="#e70500"/>
<path d="M190.2,567.1l5.3 3.1 4.3-1.3-5.3-3.1z" color="#b70400"/>
<path d="M62.3,596.5l4.7 1.6 1.6-2.7-4.7-1.7z" color="#f20500"/>
<path d="M136.5,565.9l5.1 2.4 4.6-4-5.1-2.4z" color="#ab0300"/>
<path d="M285.3,613.1l2.8 2.2 1.8 1.2-2.8-2.3z" color="#f77100"/>
<path d="M109.7,571.8l5 2 2.4-2.7-5-2z" color="#c60400"/>
<path d="M248.9,589.5l5.5 4 3.9 1-5.5-3.9z" color="#f20500"/>
<path d="M100,575.7l5 2 2.3-3-4.9-2z" color="#d50400"/>
<path d="M71.1,591.4l4.7 1.7 2.5-3.9-4.8-1.7z" color="#f20500"/>
<path d="M273.2,604.4l2.8 2.2 1.8 .9-2.8-2.1z" color="#f53800"/>
<path d="M126.8,568.2l5.1 2.3 4.6-4.6-5-2.2z" color="#b30400"/>
<path d="M292.7,618.8l2.8 2.4 1.8 1.2-2.8-2.3z" color="#f79600"/>
<path d="M180.5,566.1l5.3 3 4.4-2-5.3-2.9z" color="#b10400"/>
<path d="M117.1,571.1l5 2.2 4.7-5.1-5-2.2z" color="#bd0400"/>
<path d="M263.8,598.6l2.8 2.2 3.8 1.5-2.8-2.1z" color="#f31400"/>
<path d="M280.6,609.8l2.9 2.2 1.8 1.1-2.8-2.3z" color="#f65900"/>
<path d="M214.8,574.5l5.4 3.5 4.2-.4-5.4-3.4z" color="#d70400"/>
<path d="M60.6,599.3l4.8 1.6 1.6-2.8-4.7-1.6z" color="#f30a00"/>
<path d="M87.9,583.7l4.9 2 4.8-6.8-4.8-1.9z" color="#ed0500"/>
<path d="M78.3,589.2l4.8 1.9 4.8-7.4-4.8-1.7z" color="#f10500"/>
<path d="M288.1,615.3l2.8 2.4 1.8 1.1-2.8-2.3z" color="#f77d00"/>
<path d="M239.4,585l5.5 3.9 4 .6-5.5-3.9z" color="#f10500"/>
<path d="M170.8,565.7l5.3 2.8 4.4-2.4-5.2-2.8z" color="#ad0400"/>
<path d="M276,606.6l2.8 2.2 1.8 1-2.8-2.3z" color="#f54300"/>
<path d="M107.3,574.7l5 2.1 2.4-3-5-2z" color="#d00400"/>
<path d="M205.2,572l5.4 3.4 4.2-.9-5.4-3.3z" color="#cb0400"/>
<path d="M68.6,595.4l4.8 1.7 2.4-4-4.7-1.7z" color="#f20500"/>
<path d="M97.6,578.9l5 2 2.4-3.2-5-2z" color="#e00500"/>
<path d="M266.6,600.8l2.8 2.1 3.8 1.5-2.8-2.1z" color="#f41f00"/>
<path d="M59,602.1l4.7 1.7 1.7-2.9-4.8-1.6z" color="#f31a00"/>
<path d="M161.1,565.9l5.2 2.8 4.5-3-5.2-2.7z" color="#ac0300"/>
<path d="M283.5,612l2.8 2.3 1.8 1-2.8-2.2z" color="#f66500"/>
<path d="M254.4,593.5l2.8 2 3.8 1.1-2.7-2.1z" color="#f20500"/>
<path d="M290.9,617.7l2.8 2.4 1.8 1.1-2.8-2.4z" color="#f78900"/>
<path d="M229.8,581.2l5.5 3.8 4.1 0-5.5-3.7z" color="#f10500"/>
<path d="M151.4,566.8l5.2 2.6 4.5-3.5-5.2-2.6z" color="#ae0400"/>
<path d="M195.5,570.2l5.4 3.3 4.3-1.5-5.4-3.1z" color="#c10400"/>
<path d="M278.8,608.8l2.8 2.3 1.9 .9-2.9-2.2z" color="#f64f00"/>
<path d="M124.4,570.7l5.1 2.3 2.4-2.5-5.1-2.3z" color="#bf0400"/>
<path d="M57.4,605.1l4.7 1.7 1.6-3-4.7-1.7z" color="#f42b00"/>
<path d="M141.6,568.3l5.2 2.6 4.6-4.1-5.2-2.5z" color="#b20400"/>
<path d="M67,598.1l4.8 1.8 1.6-2.8-4.8-1.7z" color="#f20500"/>
<path d="M269.4,602.9l2.8 2.3 3.8 1.4-2.8-2.2z" color="#f42a00"/>
<path d="M114.7,573.8l5 2.3 2.4-2.8-5-2.2z" color="#cb0400"/>
<path d="M286.3,614.3l2.8 2.4 1.8 1-2.8-2.4z" color="#f77100"/>
<path d="M76.7,591.8l4.8 1.9 1.6-2.6-4.8-1.9z" color="#f20500"/>
<path d="M257.2,595.5l2.8 2.1 3.8 1-2.8-2z" color="#f20500"/>
<path d="M105,577.7l4.9 2.2 2.4-3.1-5-2.1z" color="#da0400"/>
<path d="M131.9,570.5l5.1 2.4 4.6-4.6-5.1-2.4z" color="#b90400"/>
<path d="M185.8,569.1l5.4 3.1 4.3-2-5.3-3.1z" color="#ba0400"/>
<path d="M220.2,578l5.5 3.7 4.1-.5-5.4-3.6z" color="#e30500"/>
<path d="M244.9,588.9l5.5 4.1 4 .5-5.5-4z" color="#f20500"/>
<path d="M281.6,611.1l2.8 2.3 1.9 .9-2.8-2.3z" color="#f65b00"/>
<path d="M55.8,608.1l4.7 1.7 1.6-3-4.7-1.7z" color="#f53c00"/>
<path d="M176.1,568.5l5.3 3.1 4.4-2.5-5.3-3z" color="#b60400"/>
<path d="M65.4,600.9l4.8 1.9 1.6-2.9-4.8-1.8z" color="#f30f00"/>
<path d="M92.8,585.7l5 2.1 4.8-6.9-5-2z" color="#f10500"/>
<path d="M75,594.4l4.9 1.9 1.6-2.6-4.8-1.9z" color="#f20500"/>
<path d="M83.1,591.1l4.9 2 4.8-7.4-4.9-2z" color="#f10500"/>
<path d="M289.1,616.7l2.8 2.4 1.8 1-2.8-2.4z" color="#f77e00"/>
<path d="M272.2,605.2l2.8 2.2 3.8 1.4-2.8-2.2z" color="#f43500"/>
<path d="M210.6,575.4l5.4 3.6 4.2-1-5.4-3.5z" color="#d60400"/>
<path d="M260,597.6l2.8 2.2 3.8 1-2.8-2.2z" color="#f20500"/>
<path d="M122.1,573.3l5.1 2.4 2.3-2.7-5.1-2.3z" color="#c80400"/>
<path d="M112.3,576.8l5 2.3 2.4-3-5-2.3z" color="#d50400"/>
<path d="M166.3,568.7l5.3 2.9 4.5-3.1-5.3-2.8z" color="#b40400"/>
<path d="M102.6,580.9l4.9 2.2 2.4-3.2-4.9-2.2z" color="#e50500"/>
<path d="M235.3,585l5.6 3.9 4 0-5.5-3.9z" color="#f10500"/>
<path d="M54.1,611.1l4.7 1.8 1.7-3.1-4.7-1.7z" color="#f54d00"/>
<path d="M284.4,613.4l2.9 2.4 1.8 .9-2.8-2.4z" color="#f66700"/>
<path d="M63.7,603.8l4.8 1.9 1.7-2.9-4.8-1.9z" color="#f41f00"/>
<path d="M73.4,597.1l4.8 2 1.7-2.8-4.9-1.9z" color="#f20500"/>
<path d="M200.9,573.5l5.4 3.4 4.3-1.5-5.4-3.4z" color="#cb0400"/>
<path d="M156.6,569.4l5.2 2.9 4.5-3.6-5.2-2.8z" color="#b60400"/>
<path d="M275,607.4l2.9 2.3 3.7 1.4-2.8-2.3z" color="#f54100"/>
<path d="M262.8,599.8l2.8 2.2 3.8 .9-2.8-2.1z" color="#f30f00"/>
<path d="M250.4,593l2.8 2.1 4 .4-2.8-2z" color="#f20500"/>
<path d="M129.5,573l5.1 2.5 2.4-2.6-5.1-2.4z" color="#c60400"/>
<path d="M146.8,570.9l5.2 2.7 4.6-4.2-5.2-2.6z" color="#ba0400"/>
<path d="M52.5,614.3l4.7 1.8 1.6-3.2-4.7-1.8z" color="#f65f00"/>
<path d="M225.7,581.7l5.5 3.8 4.1-.5-5.5-3.8z" color="#ef0500"/>
<path d="M119.7,576.1l5.1 2.4 2.4-2.8-5.1-2.4z" color="#d10400"/>
<path d="M191.2,572.2l5.4 3.4 4.3-2.1-5.4-3.3z" color="#c40400"/>
<path d="M62.1,606.8l4.8 1.9 1.6-3-4.8-1.9z" color="#f43000"/>
<path d="M287.3,615.8l2.8 2.4 1.8 .9-2.8-2.4z" color="#f77300"/>
<path d="M137,572.9l5.1 2.7 4.7-4.7-5.2-2.6z" color="#c00400"/>
<path d="M71.8,599.9l4.8 2 1.6-2.8-4.8-2z" color="#f20500"/>
<path d="M81.5,593.7l4.9 2 1.6-2.6-4.9-2z" color="#f20500"/>
<path d="M109.9,579.9l5.1 2.3 2.3-3.1-5-2.3z" color="#e00500"/>
<path d="M277.9,609.7l2.8 2.4 3.7 1.3-2.8-2.3z" color="#f54d00"/>
<path d="M265.6,602l2.8 2.3 3.8 .9-2.8-2.3z" color="#f31a00"/>
<path d="M181.4,571.6l5.4 3.2 4.4-2.6-5.4-3.1z" color="#bf0400"/>
<path d="M253.2,595.1l2.8 2.1 4 .4-2.8-2.1z" color="#f20500"/>
<path d="M50.8,617.5l4.8 1.9 1.6-3.3-4.7-1.8z" color="#f77200"/>
<path d="M216,579l5.5 3.7 4.2-1-5.5-3.7z" color="#e10500"/>
<path d="M60.5,609.8l4.8 2 1.6-3.1-4.8-1.9z" color="#f54100"/>
<path d="M97.8,587.8l4.9 2.3 4.8-7-4.9-2.2z" color="#f10500"/>
<path d="M70.2,602.8l4.8 2 1.6-2.9-4.8-2z" color="#f31500"/>
<path d="M88,593.1l4.9 2.2 4.9-7.5-5-2.1z" color="#f20500"/>
<path d="M79.9,596.3l4.9 2.1 1.6-2.7-4.9-2z" color="#f20500"/>
<path d="M127.2,575.7l5.1 2.5 2.3-2.7-5.1-2.5z" color="#cf0400"/>
<path d="M240.9,588.9l5.5 4.2 4-.1-5.5-4.1z" color="#f20500"/>
<path d="M171.6,571.6l5.3 3.1 4.5-3.1-5.3-3.1z" color="#bd0400"/>
<path d="M117.3,579.1l5.1 2.4 2.4-3-5.1-2.4z" color="#db0400"/>
<path d="M280.7,612.1l2.9 2.4 3.7 1.3-2.9-2.4z" color="#f65900"/>
<path d="M107.5,583.1l5.1 2.4 2.4-3.3-5.1-2.3z" color="#eb0500"/>
<path d="M49.2,620.8l4.7 1.9 1.7-3.3-4.8-1.9z" color="#f78500"/>
<path d="M206.3,576.9l5.5 3.7 4.2-1.6-5.4-3.6z" color="#d70400"/>
<path d="M268.4,604.3l2.8 2.3 3.8 .8-2.8-2.2z" color="#f42600"/>
<path d="M256,597.2l2.9 2.2 3.9 .4-2.8-2.2z" color="#f20500"/>
<path d="M161.8,572.3l5.3 3 4.5-3.7-5.3-2.9z" color="#be0400"/>
<path d="M58.8,612.9l4.8 2 1.7-3.1-4.8-2z" color="#f65300"/>
<path d="M68.5,605.7l4.9 2 1.6-2.9-4.8-2z" color="#f42500"/>
<path d="M78.2,599.1l4.9 2.1 1.7-2.8-4.9-2.1z" color="#f20500"/>
<path d="M231.2,585.5l5.6 4 4.1-.6-5.6-3.9z" color="#f10500"/>
<path d="M152,573.6l5.2 2.9 4.6-4.2-5.2-2.9z" color="#c20400"/>
<path d="M134.6,575.5l5.2 2.7 2.3-2.6-5.1-2.7z" color="#cd0400"/>
<path d="M196.6,575.6l5.4 3.5 4.3-2.2-5.4-3.4z" color="#cf0400"/>
<path d="M47.6,624.2l4.7 1.9 1.6-3.4-4.7-1.9z" color="#f79900"/>
<path d="M283.6,614.5l2.8 2.5 3.7 1.2-2.8-2.4z" color="#f66600"/>
<path d="M124.8,578.5l5.1 2.6 2.4-2.9-5.1-2.5z" color="#d80400"/>
<path d="M142.1,575.6l5.2 2.8 4.7-4.8-5.2-2.7z" color="#c80400"/>
<path d="M57.2,616.1l4.8 2 1.6-3.2-4.8-2z" color="#f66500"/>
<path d="M271.2,606.6l2.9 2.3 3.8 .8-2.9-2.3z" color="#f43200"/>
<path d="M246.4,593.1l2.8 2.1 4-.1-2.8-2.1z" color="#f20500"/>
<path d="M258.9,599.4l2.8 2.3 3.9 .3-2.8-2.2z" color="#f20500"/>
<path d="M66.9,608.7l4.8 2.1 1.7-3.1-4.9-2z" color="#f53600"/>
<path d="M115,582.2l5 2.5 2.4-3.2-5.1-2.4z" color="#e60500"/>
<path d="M76.6,601.9l4.9 2.1 1.6-2.8-4.9-2.1z" color="#f30b00"/>
<path d="M86.4,595.7l4.9 2.3 1.6-2.7-4.9-2.2z" color="#f20500"/>
<path d="M186.8,574.8l5.4 3.4 4.4-2.6-5.4-3.4z" color="#ca0400"/>
<path d="M221.5,582.7l5.5 3.9 4.2-1.1-5.5-3.8z" color="#ee0500"/>
<path d="M95.3,591.5l5 2.3 2.4-3.7-4.9-2.3z" color="#f20500"/>
<path d="M45.9,627.6l4.8 2 1.6-3.5-4.7-1.9z" color="#f7ae00"/>
<path d="M55.6,619.4l4.8 2 1.6-3.3-4.8-2z" color="#f77800"/>
<path d="M176.9,574.7l5.4 3.3 4.5-3.2-5.4-3.2z" color="#c70400"/>
<path d="M102.7,590.1l5.1 2.4 4.8-7-5.1-2.4z" color="#f10500"/>
<path d="M65.3,611.8l4.8 2.1 1.6-3.1-4.8-2.1z" color="#f54800"/>
<path d="M132.3,578.2l5.1 2.8 2.4-2.8-5.2-2.7z" color="#d60400"/>
<path d="M274.1,608.9l2.8 2.4 3.8 .8-2.8-2.4z" color="#f53e00"/>
<path d="M75,604.8l4.9 2.2 1.6-3-4.9-2.1z" color="#f31c00"/>
<path d="M84.8,598.4l4.9 2.3 1.6-2.7-4.9-2.3z" color="#f20500"/>
<path d="M261.7,601.7l2.8 2.3 3.9 .3-2.8-2.3z" color="#f30e00"/>
<path d="M249.2,595.2l2.8 2.2 4-.2-2.8-2.1z" color="#f20500"/>
<path d="M211.8,580.6l5.5 3.8 4.2-1.7-5.5-3.7z" color="#e20500"/>
<path d="M122.4,581.5l5.1 2.7 2.4-3.1-5.1-2.6z" color="#e20500"/>
<path d="M44.3,631.1l4.7 2 1.7-3.5-4.8-2z" color="#f7c200"/>
<path d="M112.6,585.5l5 2.5 2.4-3.3-5-2.5z" color="#f10500"/>
<path d="M167.1,575.3l5.3 3.2 4.5-3.8-5.3-3.1z" color="#c80400"/>
<path d="M236.8,589.5l5.6 4.2 4-.6-5.5-4.2z" color="#f10500"/>
<path d="M53.9,622.7l4.8 2.1 1.7-3.4-4.8-2z" color="#f78b00"/>
<path d="M92.9,595.3l5 2.4 2.4-3.9-5-2.3z" color="#f20500"/>
<path d="M63.6,614.9l4.9 2.1 1.6-3.1-4.8-2.1z" color="#f65900"/>
<path d="M202,579.1l5.4 3.7 4.4-2.2-5.5-3.7z" color="#da0400"/>
<path d="M73.4,607.7l4.8 2.2 1.7-2.9-4.9-2.2z" color="#f42c00"/>
<path d="M83.1,601.2l5 2.3 1.6-2.8-4.9-2.3z" color="#f20500"/>
<path d="M157.2,576.5l5.3 3.1 4.6-4.3-5.3-3z" color="#cb0400"/>
<path d="M276.9,611.3l2.9 2.5 3.8 .7-2.9-2.4z" color="#f54a00"/>
<path d="M139.8,578.2l5.2 2.9 2.3-2.7-5.2-2.8z" color="#d50400"/>
<path d="M264.5,604l2.8 2.3 3.9 .3-2.8-2.3z" color="#f31a00"/>
<path d="M252,597.4l2.9 2.2 4-.2-2.9-2.2z" color="#f20500"/>
<path d="M129.9,581.1l5.2 2.8 2.3-2.9-5.1-2.8z" color="#e00500"/>
<path d="M147.3,578.4l5.3 3 4.6-4.9-5.2-2.9z" color="#d10400"/>
<path d="M227,586.6l5.6 4.1 4.2-1.2-5.6-4z" color="#f10500"/>
<path d="M52.3,626.1l4.8 2.1 1.6-3.4-4.8-2.1z" color="#f79f00"/>
<path d="M192.2,578.2l5.4 3.6 4.4-2.7-5.4-3.5z" color="#d40400"/>
<path d="M62,618.1l4.8 2.2 1.7-3.3-4.9-2.1z" color="#f76c00"/>
<path d="M71.7,610.8l4.9 2.2 1.6-3.1-4.8-2.2z" color="#f53d00"/>
<path d="M91.3,598l5 2.4 1.6-2.7-5-2.4z" color="#f20500"/>
<path d="M81.5,604l4.9 2.4 1.7-2.9-5-2.3z" color="#f31300"/>
<path d="M100.3,593.8l5.1 2.5 2.4-3.8-5.1-2.4z" color="#f20500"/>
<path d="M279.8,613.8l2.8 2.4 3.8 .8-2.8-2.5z" color="#f65700"/>
<path d="M267.3,606.3l2.9 2.4 3.9 .2-2.9-2.3z" color="#f42600"/>
<path d="M254.9,599.6l2.8 2.3 4-.2-2.8-2.3z" color="#f20500"/>
<path d="M182.3,578l5.4 3.5 4.5-3.3-5.4-3.4z" color="#d20400"/>
<path d="M117.6,588l5.2 2.7 4.7-6.5-5.1-2.7z" color="#f10500"/>
<path d="M50.7,629.6l4.7 2.1 1.7-3.5-4.8-2.1z" color="#f7b400"/>
<path d="M217.3,584.4l5.5 4 4.2-1.8-5.5-3.9z" color="#ef0500"/>
<path d="M137.4,581l5.2 2.9 2.4-2.8-5.2-2.9z" color="#de0400"/>
<path d="M107.8,592.5l5 2.7 4.8-7.2-5-2.5z" color="#f10500"/>
<path d="M60.4,621.4l4.8 2.2 1.6-3.3-4.8-2.2z" color="#f77e00"/>
<path d="M70.1,613.9l4.9 2.2 1.6-3.1-4.9-2.2z" color="#f64f00"/>
<path d="M89.7,600.7l5 2.4 1.6-2.7-5-2.4z" color="#f20500"/>
<path d="M79.9,607l4.9 2.3 1.6-2.9-4.9-2.4z" color="#f42400"/>
<path d="M242.4,593.7l5.6 4.5 4-.8-5.6-4.3z" color="#f20500"/>
<path d="M127.5,584.2l5.2 2.8 2.4-3.1-5.2-2.8z" color="#ea0500"/>
<path d="M172.4,578.5l5.4 3.4 4.5-3.9-5.4-3.3z" color="#d20400"/>
<path d="M207.4,582.8l5.6 3.9 4.3-2.3-5.5-3.8z" color="#e60500"/>
<path d="M270.2,608.7l2.9 2.4 3.8 .2-2.8-2.4z" color="#f43200"/>
<path d="M49,633.1l4.8 2.2 1.6-3.6-4.7-2.1z" color="#f7c900"/>
<path d="M257.7,601.9l2.8 2.3 4-.2-2.8-2.3z" color="#f30600"/>
<path d="M97.9,597.7l5 2.5 2.5-3.9-5.1-2.5z" color="#f20500"/>
<path d="M162.5,579.6l5.3 3.3 4.6-4.4-5.3-3.2z" color="#d40400"/>
<path d="M58.7,624.8l4.8 2.2 1.7-3.4-4.8-2.2z" color="#f79200"/>
<path d="M68.5,617l4.8 2.3 1.7-3.2-4.9-2.2z" color="#f66100"/>
<path d="M145,581.1l5.2 3 2.4-2.7-5.3-3z" color="#dd0400"/>
<path d="M78.2,609.9l5 2.4 1.6-3-4.9-2.3z" color="#f43500"/>
<path d="M88.1,603.5l4.9 2.5 1.7-2.9-5-2.4z" color="#f30c00"/>
<path d="M232.6,590.7l5.6 4.3 4.2-1.3-5.6-4.2z" color="#f10500"/>
<path d="M152.6,581.4l5.3 3.2 4.6-5-5.3-3.1z" color="#da0400"/>
<path d="M135.1,583.9l5.2 2.9 2.3-2.9-5.2-2.9z" color="#e80500"/>
<path d="M197.6,581.8l5.5 3.8 4.3-2.8-5.4-3.7z" color="#e00500"/>
<path d="M273.1,611.1l2.8 2.5 3.9 .2-2.9-2.5z" color="#f53f00"/>
<path d="M57.1,628.2l4.8 2.3 1.6-3.5-4.8-2.2z" color="#f7a600"/>
<path d="M260.5,604.2l2.9 2.4 3.9-.3-2.8-2.3z" color="#f31200"/>
<path d="M248,598.2l2.8 2.2 4.1-.8-2.9-2.2z" color="#f20500"/>
<path d="M106.2,595l5 2.7 1.6-2.5-5-2.7z" color="#f20500"/>
<path d="M66.8,620.3l4.9 2.3 1.6-3.3-4.8-2.3z" color="#f77300"/>
<path d="M96.3,600.4l5 2.6 1.6-2.8-5-2.5z" color="#f20500"/>
<path d="M76.6,613l4.9 2.4 1.7-3.1-5-2.4z" color="#f54600"/>
<path d="M86.4,606.4l5 2.5 1.6-2.9-4.9-2.5z" color="#f31c00"/>
<path d="M222.8,588.4l5.6 4.2 4.2-1.9-5.6-4.1z" color="#f10500"/>
<path d="M187.7,581.5l5.4 3.7 4.5-3.4-5.4-3.6z" color="#dd0400"/>
<path d="M122.8,590.7l5.1 2.9 4.8-6.6-5.2-2.8z" color="#f10500"/>
<path d="M142.6,583.9l5.3 3.1 2.3-2.9-5.2-3z" color="#e70500"/>
<path d="M112.8,595.2l5.2 2.8 4.8-7.3-5.2-2.7z" color="#f20500"/>
<path d="M55.4,631.7l4.8 2.3 1.7-3.5-4.8-2.3z" color="#f7bb00"/>
<path d="M275.9,613.6l2.9 2.5 3.8 .1-2.8-2.4z" color="#f54b00"/>
<path d="M177.8,581.9l5.4 3.6 4.5-4-5.4-3.5z" color="#dc0400"/>
<path d="M104.5,597.6l5.1 2.7 1.6-2.6-5-2.7z" color="#f20500"/>
<path d="M65.2,623.6l4.8 2.4 1.7-3.4-4.9-2.3z" color="#f78600"/>
<path d="M132.7,587l5.2 3 2.4-3.2-5.2-2.9z" color="#f10500"/>
<path d="M263.4,606.6l2.8 2.4 4-.3-2.9-2.4z" color="#f41e00"/>
<path d="M94.7,603.1l5 2.6 1.6-2.7-5-2.6z" color="#f30700"/>
<path d="M75,616.1l4.9 2.5 1.6-3.2-4.9-2.4z" color="#f65700"/>
<path d="M250.8,600.4l2.9 2.3 4-.8-2.8-2.3z" color="#f20500"/>
<path d="M84.8,609.3l5 2.5 1.6-2.9-5-2.5z" color="#f42d00"/>
<path d="M213,586.7l5.5 4 4.3-2.3-5.5-4z" color="#f10500"/>
<path d="M167.8,582.9l5.4 3.5 4.6-4.5-5.4-3.4z" color="#de0400"/>
<path d="M238.2,595l5.7 4.5 4.1-1.3-5.6-4.5z" color="#f20500"/>
<path d="M53.8,635.3l4.8 2.3 1.6-3.6-4.8-2.3z" color="#f7d000"/>
<path d="M150.2,584.1l5.3 3.2 2.4-2.7-5.3-3.2z" color="#e70500"/>
<path d="M63.5,627l4.9 2.4 1.6-3.4-4.8-2.4z" color="#f79a00"/>
<path d="M102.9,600.2l5.1 2.8 1.6-2.7-5.1-2.7z" color="#f20500"/>
<path d="M203.1,585.6l5.5 4 4.4-2.9-5.6-3.9z" color="#ec0500"/>
<path d="M73.3,619.3l5 2.5 1.6-3.2-4.9-2.5z" color="#f76900"/>
<path d="M93,606l5.1 2.6 1.6-2.9-5-2.6z" color="#f31600"/>
<path d="M83.2,612.3l4.9 2.6 1.7-3.1-5-2.5z" color="#f53e00"/>
<path d="M157.9,584.6l5.3 3.4 4.6-5.1-5.3-3.3z" color="#e30500"/>
<path d="M266.2,609l2.9 2.5 4-.4-2.9-2.4z" color="#f42b00"/>
<path d="M253.7,602.7l2.8 2.4 4-.9-2.8-2.3z" color="#f20500"/>
<path d="M228.4,592.6l5.6 4.3 4.2-1.9-5.6-4.3z" color="#f20500"/>
<path d="M193.1,585.2l5.5 3.9 4.5-3.5-5.5-3.8z" color="#e80500"/>
<path d="M111.2,597.7l5.2 2.8 1.6-2.5-5.2-2.8z" color="#f20500"/>
<path d="M120.4,594.3l5.1 2.9 2.4-3.6-5.1-2.9z" color="#f20500"/>
<path d="M61.9,630.5l4.9 2.4 1.6-3.5-4.9-2.4z" color="#f7ae00"/>
<path d="M101.3,603l5.1 2.7 1.6-2.7-5.1-2.8z" color="#f20500"/>
<path d="M137.9,590l5.3 3.1 4.7-6.1-5.3-3.1z" color="#f10500"/>
<path d="M71.7,622.6l4.9 2.5 1.7-3.3-5-2.5z" color="#f77c00"/>
<path d="M91.4,608.9l5 2.6 1.7-2.9-5.1-2.6z" color="#f42600"/>
<path d="M81.5,615.4l5 2.6 1.6-3.1-4.9-2.6z" color="#f64f00"/>
<path d="M269.1,611.5l2.9 2.5 3.9-.4-2.8-2.5z" color="#f53700"/>
<path d="M127.9,593.6l5.2 3.1 4.8-6.7-5.2-3z" color="#f10500"/>
<path d="M147.9,587l5.3 3.2 2.3-2.9-5.3-3.2z" color="#f00500"/>
<path d="M243.9,599.5l2.8 2.3 4.1-1.4-2.8-2.2z" color="#f20500"/>
<path d="M256.5,605.1l2.9 2.4 4-.9-2.9-2.4z" color="#f30e00"/>
<path d="M183.2,585.5l5.4 3.7 4.5-4-5.4-3.7z" color="#e70500"/>
<path d="M218.5,590.7l5.6 4.3 4.3-2.4-5.6-4.2z" color="#f10500"/>
<path d="M109.6,600.3l5.1 2.9 1.7-2.7-5.2-2.8z" color="#f20500"/>
<path d="M60.2,634l4.9 2.5 1.7-3.6-4.9-2.4z" color="#f7c300"/>
<path d="M99.7,605.7l5.1 2.8 1.6-2.8-5.1-2.7z" color="#f31100"/>
<path d="M70,626l5 2.5 1.6-3.4-4.9-2.5z" color="#f78f00"/>
<path d="M89.8,611.8l5 2.7 1.6-3-5-2.6z" color="#f53700"/>
<path d="M79.9,618.6l5 2.6 1.6-3.2-5-2.6z" color="#f66100"/>
<path d="M173.2,586.4l5.4 3.6 4.6-4.5-5.4-3.6z" color="#e90500"/>
<path d="M118,598l5.1 3 2.4-3.8-5.1-2.9z" color="#f20500"/>
<path d="M234,596.9l2.8 2.3 4.2-1.9-2.8-2.3z" color="#f20500"/>
<path d="M272,614l2.9 2.6 3.9-.5-2.9-2.5z" color="#f54400"/>
<path d="M208.6,589.6l5.6 4.1 4.3-3-5.5-4z" color="#f10500"/>
<path d="M246.7,601.8l2.8 2.4 4.2-1.5-2.9-2.3z" color="#f20500"/>
<path d="M259.4,607.5l2.8 2.5 4-1-2.8-2.4z" color="#f31a00"/>
<path d="M163.2,588l5.4 3.5 4.6-5.1-5.4-3.5z" color="#ee0500"/>
<path d="M58.6,637.6l4.9 2.5 1.6-3.6-4.9-2.5z" color="#f7d800"/>
<path d="M108,603l5.1 2.9 1.6-2.7-5.1-2.9z" color="#f20500"/>
<path d="M68.4,629.4l4.9 2.6 1.7-3.5-5-2.5z" color="#f7a300"/>
<path d="M98.1,608.6l5 2.8 1.7-2.9-5.1-2.8z" color="#f42100"/>
<path d="M78.3,621.8l4.9 2.7 1.7-3.3-5-2.6z" color="#f77300"/>
<path d="M88.1,614.9l5.1 2.7 1.6-3.1-5-2.7z" color="#f54800"/>
<path d="M153.2,590.2l5.3 3.5 4.7-5.7-5.3-3.4z" color="#f10500"/>
<path d="M198.6,589.1l5.6 4 4.4-3.5-5.5-4z" color="#f10500"/>
<path d="M236.8,599.2l2.9 2.3 4.2-2-2.9-2.2z" color="#f20500"/>
<path d="M116.4,600.5l5.1 3.1 1.6-2.6-5.1-3z" color="#f20500"/>
<path d="M125.5,597.2l5.3 3.2 2.3-3.7-5.2-3.1z" color="#f20500"/>
<path d="M262.2,610l2.9 2.5 4-1-2.9-2.5z" color="#f42700"/>
<path d="M249.5,604.2l2.9 2.4 4.1-1.5-2.8-2.4z" color="#f20500"/>
<path d="M143.2,593.1l5.3 3.4 4.7-6.3-5.3-3.2z" color="#f10500"/>
<path d="M106.4,605.7l5.1 2.9 1.6-2.7-5.1-2.9z" color="#f30e00"/>
<path d="M66.8,632.9l4.9 2.6 1.6-3.5-4.9-2.6z" color="#f7b800"/>
<path d="M96.4,611.5l5.1 2.9 1.6-3-5-2.8z" color="#f43100"/>
<path d="M76.6,625.1l5 2.7 1.6-3.3-4.9-2.7z" color="#f78600"/>
<path d="M86.5,618l5 2.8 1.7-3.2-5.1-2.7z" color="#f65900"/>
<path d="M224.1,595l5.6 4.5 4.3-2.6-5.6-4.3z" color="#f20500"/>
<path d="M188.6,589.2l5.5 4 4.5-4.1-5.5-3.9z" color="#f10500"/>
<path d="M133.1,596.7l5.3 3.3 4.8-6.9-5.3-3.1z" color="#f20500"/>
<path d="M114.7,603.2l5.2 3 1.6-2.6-5.1-3.1z" color="#f20500"/>
<path d="M178.6,590l5.5 3.9 4.5-4.7-5.4-3.7z" color="#f10500"/>
<path d="M239.7,601.5l2.8 2.4 4.2-2.1-2.8-2.3z" color="#f20500"/>
<path d="M265.1,612.5l2.9 2.6 4-1.1-2.9-2.5z" color="#f43400"/>
<path d="M104.8,608.5l5.1 3 1.6-2.9-5.1-2.9z" color="#f31d00"/>
<path d="M65.1,636.5l4.9 2.6 1.7-3.6-4.9-2.6z" color="#f7cc00"/>
<path d="M252.4,606.6l2.9 2.5 4.1-1.6-2.9-2.4z" color="#f30e00"/>
<path d="M94.8,614.5l5.1 2.9 1.6-3-5.1-2.9z" color="#f54200"/>
<path d="M75,628.5l4.9 2.7 1.7-3.4-5-2.7z" color="#f79900"/>
<path d="M214.2,593.7l5.6 4.4 4.3-3.1-5.6-4.3z" color="#f10500"/>
<path d="M84.9,621.2l5 2.8 1.6-3.2-5-2.8z" color="#f76b00"/>
<path d="M123.1,601l5.2 3.1 2.5-3.7-5.3-3.2z" color="#f20500"/>
<path d="M168.6,591.5l5.4 3.8 4.6-5.3-5.4-3.6z" color="#f10500"/>
<path d="M113.1,605.9l5.2 3.1 1.6-2.8-5.2-3z" color="#f30b00"/>
<path d="M63.5,640.1l4.9 2.7 1.6-3.7-4.9-2.6z" color="#f7e200"/>
<path d="M204.2,593.1l5.5 4.3 4.5-3.7-5.6-4.1z" color="#f10500"/>
<path d="M229.7,599.5l2.9 2.3 4.2-2.6-2.8-2.3z" color="#f20500"/>
<path d="M103.1,611.4l5.2 3 1.6-2.9-5.1-3z" color="#f42d00"/>
<path d="M73.3,632l5 2.7 1.6-3.5-4.9-2.7z" color="#f7ad00"/>
<path d="M93.2,617.6l5 2.9 1.7-3.1-5.1-2.9z" color="#f65300"/>
<path d="M268,615.1l2.9 2.6 4-1.1-2.9-2.6z" color="#f54100"/>
<path d="M158.5,593.7l5.4 3.6 4.7-5.8-5.4-3.5z" color="#f10500"/>
<path d="M83.2,624.5l5.1 2.8 1.6-3.3-5-2.8z" color="#f77d00"/>
<path d="M242.5,603.9l2.9 2.4 4.1-2.1-2.8-2.4z" color="#f20500"/>
<path d="M255.3,609.1l2.9 2.5 4-1.6-2.8-2.5z" color="#f31a00"/>
<path d="M140.8,596.5l5.3 3.4 2.4-3.4-5.3-3.4z" color="#f20500"/>
<path d="M130.8,600.4l5.2 3.3 2.4-3.7-5.3-3.3z" color="#f20500"/>
<path d="M148.5,596.5l5.3 3.6 4.7-6.4-5.3-3.5z" color="#f10500"/>
<path d="M121.5,603.6l5.2 3.2 1.6-2.7-5.2-3.1z" color="#f20500"/>
<path d="M194.1,593.2l5.6 4.1 4.5-4.2-5.6-4z" color="#f10500"/>
<path d="M111.5,608.6l5.2 3.2 1.6-2.8-5.2-3.1z" color="#f31a00"/>
<path d="M72.1,634.6l5 2.8 1.2-2.7-5-2.7z" color="#f7bf00"/>
<path d="M219.8,598.1l2.8 2.2 4.3-3.1-2.8-2.2z" color="#f20500"/>
<path d="M101.5,614.4l5.1 3 1.7-3-5.2-3z" color="#f53d00"/>
<path d="M91.5,620.8l5.1 2.9 1.6-3.2-5-2.9z" color="#f66400"/>
<path d="M81.6,627.8l5 2.9 1.7-3.4-5.1-2.8z" color="#f79000"/>
<path d="M232.6,601.8l2.8 2.3 4.3-2.6-2.9-2.3z" color="#f20500"/>
<path d="M245.4,606.3l2.8 2.4 4.2-2.1-2.9-2.4z" color="#f30500"/>
<path d="M258.2,611.6l2.8 2.5 4.1-1.6-2.9-2.5z" color="#f42700"/>
<path d="M184.1,593.9l5.5 4 4.5-4.7-5.5-4z" color="#f10500"/>
<path d="M70.9,637.3l4.9 2.8 1.3-2.7-5-2.8z" color="#f7cf00"/>
<path d="M119.9,606.2l5.2 3.3 1.6-2.7-5.2-3.2z" color="#f30a00"/>
<path d="M138.4,600l5.3 3.4 2.4-3.5-5.3-3.4z" color="#f20500"/>
<path d="M109.9,611.5l5.2 3.2 1.6-2.9-5.2-3.2z" color="#f42a00"/>
<path d="M99.9,617.4l5.1 3.1 1.6-3.1-5.1-3z" color="#f54e00"/>
<path d="M89.9,624l5.1 3 1.6-3.3-5.1-2.9z" color="#f77600"/>
<path d="M79.9,631.2l5.1 3 1.6-3.5-5-2.9z" color="#f7a400"/>
<path d="M128.3,604.1l5.3 3.4 2.4-3.8-5.2-3.3z" color="#f20500"/>
<path d="M222.6,600.3l2.8 2.3 4.3-3.1-2.8-2.3z" color="#f20500"/>
<path d="M174,595.3l5.5 3.9 4.6-5.3-5.5-3.9z" color="#f10500"/>
<path d="M69.6,640l5 2.9 1.2-2.8-4.9-2.8z" color="#f7df00"/>
<path d="M235.4,604.1l2.9 2.4 4.2-2.6-2.8-2.4z" color="#f20500"/>
<path d="M261,614.1l2.9 2.6 4.1-1.6-2.9-2.6z" color="#f43400"/>
<path d="M209.7,597.4l5.7 4.4 4.4-3.7-5.6-4.4z" color="#f20500"/>
<path d="M248.2,608.7l2.9 2.5 4.2-2.1-2.9-2.5z" color="#f31100"/>
<path d="M156.2,596.8l5.4 3.7 2.3-3.2-5.4-3.6z" color="#f20500"/>
<path d="M118.3,609l5.2 3.2 1.6-2.7-5.2-3.3z" color="#f31900"/>
<path d="M163.9,597.3l5.5 3.9 4.6-5.9-5.4-3.8z" color="#f20500"/>
<path d="M108.3,614.4l5.1 3.2 1.7-2.9-5.2-3.2z" color="#f53a00"/>
<path d="M146.1,599.9l5.3 3.6 2.4-3.4-5.3-3.6z" color="#f20500"/>
<path d="M98.2,620.5l5.2 3.1 1.6-3.1-5.1-3.1z" color="#f65f00"/>
<path d="M78.3,634.7l5 3 1.7-3.5-5.1-3z" color="#f7b800"/>
<path d="M88.3,627.3l5 3 1.7-3.3-5.1-3z" color="#f78900"/>
<path d="M68.4,642.8l4.9 2.9 1.3-2.8-5-2.9z" color="#f7ef00"/>
<path d="M199.7,597.3l5.6 4.3 4.4-4.2-5.5-4.3z" color="#f20500"/>
<path d="M136,603.7l5.3 3.5 2.4-3.8-5.3-3.4z" color="#f20500"/>
<path d="M225.4,602.6l2.9 2.4 4.3-3.2-2.9-2.3z" color="#f20500"/>
<path d="M126.7,606.8l5.3 3.4 1.6-2.7-5.3-3.4z" color="#f30a00"/>
<path d="M238.3,606.5l2.8 2.4 4.3-2.6-2.9-2.4z" color="#f20500"/>
<path d="M263.9,616.7l3 2.7 4-1.7-2.9-2.6z" color="#f54100"/>
<path d="M251.1,611.2l2.9 2.5 4.2-2.1-2.9-2.5z" color="#f41e00"/>
<path d="M116.7,611.8l5.2 3.3 1.6-2.9-5.2-3.2z" color="#f42800"/>
<path d="M106.6,617.4l5.2 3.2 1.6-3-5.1-3.2z" color="#f54a00"/>
<path d="M77.1,637.4l5 3 1.2-2.7-5-3z" color="#f7ca00"/>
<path d="M181.8,596.5l5.5 4 2.3-2.6-5.5-4z" color="#f20500"/>
<path d="M96.6,623.7l5.1 3.2 1.7-3.3-5.2-3.1z" color="#f77100"/>
<path d="M86.6,630.7l5.1 3.1 1.6-3.5-5-3z" color="#f79c00"/>
<path d="M189.6,597.9l5.6 4.2 4.5-4.8-5.6-4.1z" color="#f20500"/>
<path d="M153.8,600.1l5.4 3.7 2.4-3.3-5.4-3.7z" color="#f20500"/>
<path d="M215.4,601.8l2.8 2.3 4.4-3.8-2.8-2.2z" color="#f20500"/>
<path d="M125.1,609.5l5.3 3.4 1.6-2.7-5.3-3.4z" color="#f31900"/>
<path d="M143.7,603.4l5.4 3.7 2.3-3.6-5.3-3.6z" color="#f20500"/>
<path d="M228.3,605l2.8 2.3 4.3-3.2-2.8-2.3z" color="#f20500"/>
<path d="M171.7,598.1l5.5 4 2.3-2.9-5.5-3.9z" color="#f20500"/>
<path d="M75.8,640.1l5 3 1.3-2.7-5-3z" color="#f7da00"/>
<path d="M115.1,614.7l5.2 3.3 1.6-2.9-5.2-3.3z" color="#f53800"/>
<path d="M241.1,608.9l2.9 2.5 4.2-2.7-2.8-2.4z" color="#f30c00"/>
<path d="M254,613.7l2.9 2.6 4.1-2.2-2.8-2.5z" color="#f42b00"/>
<path d="M105,620.5l5.2 3.2 1.6-3.1-5.2-3.2z" color="#f65b00"/>
<path d="M133.6,607.5l5.3 3.6 2.4-3.9-5.3-3.5z" color="#f30800"/>
<path d="M95,627l5.1 3.2 1.6-3.3-5.1-3.2z" color="#f78300"/>
<path d="M85,634.2l5 3 1.7-3.4-5.1-3.1z" color="#f7b000"/>
<path d="M197.4,599.6l2.8 2.2 2.3-2.4-2.8-2.1z" color="#f20500"/>
<path d="M161.6,600.5l5.4 3.9 2.4-3.2-5.5-3.9z" color="#f20500"/>
<path d="M205.3,601.6l2.8 2.3 4.4-4.3-2.8-2.2z" color="#f20500"/>
<path d="M74.6,642.9l5 3 1.2-2.8-5-3z" color="#f7ea00"/>
<path d="M123.5,612.2l5.3 3.5 1.6-2.8-5.3-3.4z" color="#f42800"/>
<path d="M218.2,604.1l2.8 2.3 4.4-3.8-2.8-2.3z" color="#f20500"/>
<path d="M179.5,599.2l5.5 4.1 2.3-2.8-5.5-4z" color="#f20500"/>
<path d="M151.4,603.5l5.4 3.8 2.4-3.5-5.4-3.7z" color="#f20500"/>
<path d="M113.4,617.6l5.2 3.4 1.7-3-5.2-3.3z" color="#f54800"/>
<path d="M231.1,607.3l2.9 2.5 4.3-3.3-2.9-2.4z" color="#f20500"/>
<path d="M103.4,623.6l5.1 3.3 1.7-3.2-5.2-3.2z" color="#f76c00"/>
<path d="M187.3,600.5l2.8 2.2 2.3-2.7-2.8-2.1z" color="#f20500"/>
<path d="M244,611.4l2.9 2.6 4.2-2.8-2.9-2.5z" color="#f31900"/>
<path d="M256.9,616.3l2.9 2.7 4.1-2.3-2.9-2.6z" color="#f53800"/>
<path d="M93.3,630.3l5.1 3.2 1.7-3.3-5.1-3.2z" color="#f79600"/>
<path d="M83.3,637.7l5.1 3.1 1.6-3.6-5-3z" color="#f7c500"/>
<path d="M73.3,645.7l5.1 3 1.2-2.8-5-3z" color="#f2f700"/>
<path d="M141.3,607.2l5.4 3.7 2.4-3.8-5.4-3.7z" color="#f20500"/>
<path d="M132,610.2l5.3 3.5 1.6-2.6-5.3-3.6z" color="#f31a00"/>
<path d="M169.4,601.2l5.4 4 2.4-3.1-5.5-4z" color="#f20500"/>
<path d="M200.2,601.8l2.8 2.2 2.3-2.4-2.8-2.2z" color="#f20500"/>
<path d="M208.1,603.9l2.8 2.3 4.5-4.4-2.9-2.2z" color="#f20500"/>
<path d="M121.9,615.1l5.3 3.5 1.6-2.9-5.3-3.5z" color="#f53700"/>
<path d="M111.8,620.6l5.2 3.4 1.6-3-5.2-3.4z" color="#f65800"/>
<path d="M159.2,603.8l5.5 3.9 2.3-3.3-5.4-3.9z" color="#f20500"/>
<path d="M221,606.4l2.9 2.4 4.4-3.8-2.9-2.4z" color="#f20500"/>
<path d="M195.2,602.1l2.7 2.2 2.3-2.5-2.8-2.2z" color="#f20500"/>
<path d="M82.1,640.4l5 3.1 1.3-2.7-5.1-3.1z" color="#f7d700"/>
<path d="M101.7,626.9l5.2 3.3 1.6-3.3-5.1-3.3z" color="#f77e00"/>
<path d="M91.7,633.8l5.1 3.2 1.6-3.5-5.1-3.2z" color="#f7a900"/>
<path d="M234,609.8l2.8 2.5 4.3-3.4-2.8-2.4z" color="#f30b00"/>
<path d="M259.8,619l2.9 2.7 4.2-2.3-3-2.7z" color="#f54500"/>
<path d="M246.9,614l2.9 2.6 4.2-2.9-2.9-2.5z" color="#f42600"/>
<path d="M190.1,602.7l2.8 2.1 2.3-2.7-2.8-2.1z" color="#f20500"/>
<path d="M177.2,602.1l5.5 4.2 2.3-3-5.5-4.1z" color="#f20500"/>
<path d="M130.4,612.9l5.3 3.6 1.6-2.8-5.3-3.5z" color="#f42800"/>
<path d="M149.1,607.1l5.4 3.8 2.3-3.6-5.4-3.8z" color="#f20500"/>
<path d="M120.3,618l5.2 3.5 1.7-2.9-5.3-3.5z" color="#f54700"/>
<path d="M185,603.3l2.8 2.2 2.3-2.8-2.8-2.2z" color="#f20500"/>
<path d="M80.8,643.1l5.1 3.2 1.2-2.8-5-3.1z" color="#f7e600"/>
<path d="M138.9,611.1l5.4 3.7 2.4-3.9-5.4-3.7z" color="#f31800"/>
<path d="M210.9,606.2l2.8 2.3 4.5-4.4-2.8-2.3z" color="#f20500"/>
<path d="M203,604l2.8 2.3 2.3-2.4-2.8-2.3z" color="#f20500"/>
<path d="M110.2,623.7l5.2 3.5 1.6-3.2-5.2-3.4z" color="#f76900"/>
<path d="M167,604.4l5.5 4 2.3-3.2-5.4-4z" color="#f20500"/>
<path d="M100.1,630.2l5.1 3.3 1.7-3.3-5.2-3.3z" color="#f79100"/>
<path d="M90,637.2l5.1 3.3 1.7-3.5-5.1-3.2z" color="#f7bd00"/>
<path d="M223.9,608.8l2.8 2.4 4.4-3.9-2.8-2.3z" color="#f20500"/>
<path d="M197.9,604.3l2.9 2.3 2.2-2.6-2.8-2.2z" color="#f20500"/>
<path d="M236.8,612.3l2.9 2.5 4.3-3.4-2.9-2.5z" color="#f31700"/>
<path d="M249.8,616.6l2.9 2.6 4.2-2.9-2.9-2.6z" color="#f43300"/>
<path d="M128.8,615.7l5.3 3.6 1.6-2.8-5.3-3.6z" color="#f53700"/>
<path d="M79.6,645.9l5.1 3.2 1.2-2.8-5.1-3.2z" color="#f7f600"/>
<path d="M156.8,607.3l5.5 3.9 2.4-3.5-5.5-3.9z" color="#f20500"/>
<path d="M192.9,604.8l2.8 2.2 2.2-2.7-2.7-2.2z" color="#f20500"/>
<path d="M118.6,621l5.3 3.5 1.6-3-5.2-3.5z" color="#f65700"/>
<path d="M147.5,609.6l5.4 3.8 1.6-2.5-5.4-3.8z" color="#f31200"/>
<path d="M108.5,626.9l5.2 3.5 1.7-3.2-5.2-3.5z" color="#f77b00"/>
<path d="M187.8,605.5l2.8 2.1 2.3-2.8-2.8-2.1z" color="#f20500"/>
<path d="M174.8,605.2l5.6 4.2 2.3-3.1-5.5-4.2z" color="#f20500"/>
<path d="M98.4,633.5l5.2 3.4 1.6-3.4-5.1-3.3z" color="#f7a400"/>
<path d="M213.7,608.5l2.9 2.4 4.4-4.5-2.8-2.3z" color="#f20500"/>
<path d="M88.4,640.8l5.1 3.3 1.6-3.6-5.1-3.3z" color="#f7d200"/>
<path d="M205.8,606.3l2.9 2.3 2.2-2.4-2.8-2.3z" color="#f20500"/>
<path d="M137.3,613.7l5.4 3.8 1.6-2.7-5.4-3.7z" color="#f42a00"/>
<path d="M78.4,648.7l5 3.2 1.3-2.8-5.1-3.2z" color="#d9f600"/>
<path d="M182.7,606.3l2.8 2.1 2.3-2.9-2.8-2.2z" color="#f20500"/>
<path d="M226.7,611.2l2.9 2.5 4.4-3.9-2.9-2.5z" color="#f30e00"/>
<path d="M127.2,618.6l5.3 3.6 1.6-2.9-5.3-3.6z" color="#f54600"/>
<path d="M200.8,606.6l2.8 2.2 2.2-2.5-2.8-2.3z" color="#f20500"/>
<path d="M239.7,614.8l2.9 2.6 4.3-3.4-2.9-2.6z" color="#f42400"/>
<path d="M252.7,619.2l2.9 2.7 4.2-2.9-2.9-2.7z" color="#f54000"/>
<path d="M164.7,607.7l5.4 4.1 2.4-3.4-5.5-4z" color="#f20500"/>
<path d="M117,624l5.3 3.6 1.6-3.1-5.3-3.5z" color="#f66700"/>
<path d="M145.9,612.1l5.4 3.9 1.6-2.6-5.4-3.8z" color="#f41f00"/>
<path d="M195.7,607l2.8 2.3 2.3-2.7-2.9-2.3z" color="#f20500"/>
<path d="M106.9,630.2l5.2 3.5 1.6-3.3-5.2-3.5z" color="#f78d00"/>
<path d="M87.1,643.5l5.2 3.3 1.2-2.7-5.1-3.3z" color="#f7e400"/>
<path d="M96.8,637l5.2 3.4 1.6-3.5-5.2-3.4z" color="#f7b700"/>
<path d="M154.5,610.9l5.4 4 2.4-3.7-5.5-3.9z" color="#f31400"/>
<path d="M135.7,616.5l5.4 3.8 1.6-2.8-5.4-3.8z" color="#f53900"/>
<path d="M190.6,607.6l2.8 2.3 2.3-2.9-2.8-2.2z" color="#f20500"/>
<path d="M216.6,610.9l2.8 2.4 4.5-4.5-2.9-2.4z" color="#f30800"/>
<path d="M208.7,608.6l2.8 2.3 2.2-2.4-2.8-2.3z" color="#f20500"/>
<path d="M125.5,621.5l5.3 3.7 1.7-3-5.3-3.6z" color="#f65600"/>
<path d="M229.6,613.7l2.9 2.6 4.3-4-2.8-2.5z" color="#f31a00"/>
<path d="M185.5,608.4l2.8 2.2 2.3-3-2.8-2.1z" color="#f20500"/>
<path d="M172.5,608.4l5.5 4.3 2.4-3.3-5.6-4.2z" color="#f20500"/>
<path d="M85.9,646.3l5.1 3.3 1.3-2.8-5.2-3.3z" color="#f7f400"/>
<path d="M242.6,617.4l2.9 2.6 4.3-3.4-2.9-2.6z" color="#f43100"/>
<path d="M115.4,627.2l5.2 3.6 1.7-3.2-5.3-3.6z" color="#f77800"/>
<path d="M255.6,621.9l2.9 2.7 4.2-2.9-2.9-2.7z" color="#f54d00"/>
<path d="M203.6,608.8l2.8 2.4 2.3-2.6-2.9-2.3z" color="#f20500"/>
<path d="M144.3,614.8l5.4 3.9 1.6-2.7-5.4-3.9z" color="#f42d00"/>
<path d="M105.2,633.5l5.3 3.6 1.6-3.4-5.2-3.5z" color="#f7a000"/>
<path d="M180.4,609.4l2.7 2.2 2.4-3.2-2.8-2.1z" color="#f20500"/>
<path d="M95.1,640.5l5.2 3.5 1.7-3.6-5.2-3.4z" color="#f7cb00"/>
<path d="M198.5,609.3l2.8 2.3 2.3-2.8-2.8-2.2z" color="#f20500"/>
<path d="M162.3,611.2l5.5 4.2 2.3-3.6-5.4-4.1z" color="#f31400"/>
<path d="M134.1,619.3l5.3 3.9 1.7-2.9-5.4-3.8z" color="#f54800"/>
<path d="M84.7,649.1l5.1 3.4 1.2-2.9-5.1-3.3z" color="#def600"/>
<path d="M152.9,613.4l5.4 4.1 1.6-2.6-5.4-4z" color="#f42400"/>
<path d="M123.9,624.5l5.3 3.8 1.6-3.1-5.3-3.7z" color="#f66700"/>
<path d="M219.4,613.3l2.9 2.5 4.4-4.6-2.8-2.4z" color="#f31400"/>
<path d="M193.4,609.9l2.8 2.2 2.3-2.8-2.8-2.3z" color="#f30500"/>
<path d="M211.5,610.9l2.8 2.4 2.3-2.4-2.9-2.4z" color="#f30c00"/>
<path d="M113.7,630.4l5.3 3.7 1.6-3.3-5.2-3.6z" color="#f78a00"/>
<path d="M232.5,616.3l2.9 2.5 4.3-4-2.9-2.5z" color="#f42600"/>
<path d="M142.7,617.5l5.4 4 1.6-2.8-5.4-3.9z" color="#f53b00"/>
<path d="M245.5,620l2.9 2.7 4.3-3.5-2.9-2.6z" color="#f53e00"/>
<path d="M224.5,613.4l2.9 2.5 2.2-2.2-2.9-2.5z" color="#f31b00"/>
<path d="M188.3,610.6l2.8 2.3 2.3-3-2.8-2.3z" color="#f30900"/>
<path d="M103.6,636.9l5.2 3.6 1.7-3.4-5.3-3.6z" color="#f7b300"/>
<path d="M93.5,644.1l5.2 3.5 1.6-3.6-5.2-3.5z" color="#f7e000"/>
<path d="M206.4,611.2l2.8 2.3 2.3-2.6-2.8-2.3z" color="#f30c00"/>
<path d="M83.4,651.9l5.1 3.4 1.3-2.8-5.1-3.4z" color="#bef500"/>
<path d="M170.1,611.8l5.6 4.3 2.3-3.4-5.5-4.3z" color="#f31500"/>
<path d="M132.5,622.2l5.3 3.9 1.6-2.9-5.3-3.9z" color="#f65700"/>
<path d="M183.1,611.6l2.8 2.2 2.4-3.2-2.8-2.2z" color="#f30e00"/>
<path d="M201.3,611.6l2.8 2.3 2.3-2.7-2.8-2.4z" color="#f30e00"/>
<path d="M151.3,616l5.4 4.1 1.6-2.6-5.4-4.1z" color="#f43100"/>
<path d="M122.3,627.6l5.3 3.8 1.6-3.1-5.3-3.8z" color="#f77700"/>
<path d="M178,612.7l2.8 2.2 2.3-3.3-2.7-2.2z" color="#f31300"/>
<path d="M112.1,633.7l5.3 3.7 1.6-3.3-5.3-3.7z" color="#f79d00"/>
<path d="M159.9,614.9l5.5 4.2 2.4-3.7-5.5-4.2z" color="#f42600"/>
<path d="M196.2,612.1l2.8 2.4 2.3-2.9-2.8-2.3z" color="#f31000"/>
<path d="M214.3,613.3l2.9 2.5 2.2-2.5-2.8-2.4z" color="#f31800"/>
<path d="M92.3,646.8l5.1 3.6 1.3-2.8-5.2-3.5z" color="#f7f200"/>
<path d="M102,640.4l5.2 3.6 1.6-3.5-5.2-3.6z" color="#f7c600"/>
<path d="M141.1,620.3l5.4 4 1.6-2.8-5.4-4z" color="#f54a00"/>
<path d="M235.4,618.8l2.9 2.7 4.3-4.1-2.9-2.6z" color="#f43300"/>
<path d="M248.4,622.7l3 2.8 4.2-3.6-2.9-2.7z" color="#f54c00"/>
<path d="M227.4,615.9l2.9 2.6 2.2-2.2-2.9-2.6z" color="#f42700"/>
<path d="M167.8,615.4l2.7 2.2 2.4-3.6-2.8-2.2z" color="#f42200"/>
<path d="M191.1,612.9l2.8 2.3 2.3-3.1-2.8-2.2z" color="#f31400"/>
<path d="M209.2,613.5l2.9 2.5 2.2-2.7-2.8-2.4z" color="#f31800"/>
<path d="M130.8,625.2l5.4 3.9 1.6-3-5.3-3.9z" color="#f66700"/>
<path d="M185.9,613.8l2.8 2.3 2.4-3.2-2.8-2.3z" color="#f31800"/>
<path d="M149.7,618.7l5.4 4.1 1.6-2.7-5.4-4.1z" color="#f53f00"/>
<path d="M120.6,630.8l5.4 3.8 1.6-3.2-5.3-3.8z" color="#f78900"/>
<path d="M222.3,615.8l2.9 2.5 2.2-2.4-2.9-2.5z" color="#f42500"/>
<path d="M91,649.6l5.2 3.6 1.2-2.8-5.1-3.6z" color="#e2f700"/>
<path d="M204.1,613.9l2.9 2.4 2.2-2.8-2.8-2.3z" color="#f31900"/>
<path d="M110.5,637.1l5.2 3.7 1.7-3.4-5.3-3.7z" color="#f7af00"/>
<path d="M180.8,614.9l2.8 2.2 2.3-3.3-2.8-2.2z" color="#f41e00"/>
<path d="M100.3,644l5.2 3.6 1.7-3.6-5.2-3.6z" color="#f7db00"/>
<path d="M139.4,623.2l5.4 4 1.7-2.9-5.4-4z" color="#f65900"/>
<path d="M217.2,615.8l2.9 2.5 2.2-2.5-2.9-2.5z" color="#f42400"/>
<path d="M199,614.5l2.8 2.3 2.3-2.9-2.8-2.3z" color="#f31c00"/>
<path d="M158.3,617.5l5.5 4.2 1.6-2.6-5.5-4.2z" color="#f53700"/>
<path d="M238.3,621.5l2.9 2.6 4.3-4.1-2.9-2.6z" color="#f54000"/>
<path d="M175.7,616.1l2.8 2.3 2.3-3.5-2.8-2.2z" color="#f42500"/>
<path d="M251.4,625.5l2.9 2.7 4.2-3.6-2.9-2.7z" color="#f65900"/>
<path d="M129.2,628.3l5.4 3.9 1.6-3.1-5.4-3.9z" color="#f77700"/>
<path d="M230.3,618.5l2.9 2.6 2.2-2.3-2.9-2.5z" color="#f43400"/>
<path d="M89.8,652.5l5.1 3.5 1.3-2.8-5.2-3.6z" color="#c1f500"/>
<path d="M193.9,615.2l2.8 2.3 2.3-3-2.8-2.4z" color="#f41f00"/>
<path d="M212.1,616l2.8 2.5 2.3-2.7-2.9-2.5z" color="#f42400"/>
<path d="M170.5,617.6l2.8 2.2 2.4-3.7-2.8-2.1z" color="#f42c00"/>
<path d="M119,634.1l5.3 3.8 1.7-3.3-5.4-3.8z" color="#f79b00"/>
<path d="M148.1,621.5l5.4 4.1 1.6-2.8-5.4-4.1z" color="#f54e00"/>
<path d="M108.8,640.5l5.3 3.8 1.6-3.5-5.2-3.7z" color="#f7c300"/>
<path d="M165.4,619.1l2.8 2.2 2.3-3.7-2.7-2.2z" color="#f43500"/>
<path d="M225.2,618.3l2.9 2.6 2.2-2.4-2.9-2.6z" color="#f43200"/>
<path d="M188.7,616.1l2.8 2.3 2.4-3.2-2.8-2.3z" color="#f42300"/>
<path d="M98.7,647.6l5.2 3.7 1.6-3.7-5.2-3.6z" color="#f7ef00"/>
<path d="M207,616.3l2.8 2.5 2.3-2.8-2.9-2.5z" color="#f42500"/>
<path d="M137.8,626.1l5.4 4.1 1.6-3-5.4-4z" color="#f76900"/>
<path d="M88.5,655.3l5.2 3.6 1.2-2.9-5.1-3.5z" color="#a0f400"/>
<path d="M183.6,617.1l2.8 2.3 2.3-3.3-2.8-2.3z" color="#f42900"/>
<path d="M156.7,620.1l5.5 4.3 1.6-2.7-5.5-4.2z" color="#f54500"/>
<path d="M220.1,618.3l2.8 2.5 2.3-2.5-2.9-2.5z" color="#f43000"/>
<path d="M241.2,624.1l2.9 2.8 4.3-4.2-2.9-2.7z" color="#f54e00"/>
<path d="M127.6,631.4l5.3 4 1.7-3.2-5.4-3.9z" color="#f78900"/>
<path d="M201.8,616.8l2.9 2.5 2.3-3-2.9-2.4z" color="#f42700"/>
<path d="M178.5,618.4l2.8 2.2 2.3-3.5-2.8-2.2z" color="#f42f00"/>
<path d="M233.2,621.1l2.9 2.6 2.2-2.2-2.9-2.7z" color="#f54100"/>
<path d="M117.4,637.4l5.3 3.9 1.6-3.4-5.3-3.8z" color="#f7ad00"/>
<path d="M146.5,624.3l5.4 4.2 1.6-2.9-5.4-4.1z" color="#f65d00"/>
<path d="M196.7,617.5l2.8 2.4 2.3-3.1-2.8-2.3z" color="#f42a00"/>
<path d="M214.9,618.5l2.9 2.5 2.3-2.7-2.9-2.5z" color="#f43000"/>
<path d="M97.4,650.4l5.2 3.7 1.3-2.8-5.2-3.7z" color="#e3f700"/>
<path d="M107.2,644l5.2 3.8 1.7-3.5-5.3-3.8z" color="#f7d700"/>
<path d="M173.3,619.8l2.8 2.2 2.4-3.6-2.8-2.3z" color="#f53700"/>
<path d="M228.1,620.9l2.9 2.6 2.2-2.4-2.9-2.6z" color="#f53e00"/>
<path d="M136.2,629.1l5.4 4.1 1.6-3-5.4-4.1z" color="#f77900"/>
<path d="M191.5,618.4l2.9 2.4 2.3-3.3-2.8-2.3z" color="#f42e00"/>
<path d="M168.2,621.3l2.7 2.2 2.4-3.7-2.8-2.2z" color="#f53f00"/>
<path d="M163.8,621.7l2.8 2.2 1.6-2.6-2.8-2.2z" color="#f54600"/>
<path d="M209.8,618.8l2.9 2.5 2.2-2.8-2.8-2.5z" color="#f43100"/>
<path d="M155.1,622.8l5.5 4.3 1.6-2.7-5.5-4.3z" color="#f65300"/>
<path d="M126,634.6l5.3 4 1.6-3.2-5.3-4z" color="#f79a00"/>
<path d="M186.4,619.4l2.8 2.4 2.3-3.4-2.8-2.3z" color="#f43400"/>
<path d="M244.1,626.9l2.9 2.8 4.4-4.2-3-2.8z" color="#f65b00"/>
<path d="M222.9,620.8l2.9 2.6 2.3-2.5-2.9-2.6z" color="#f53d00"/>
<path d="M96.2,653.2l5.2 3.7 1.2-2.8-5.2-3.7z" color="#c3f500"/>
<path d="M204.7,619.3l2.8 2.4 2.3-2.9-2.8-2.5z" color="#f43300"/>
<path d="M115.7,640.8l5.3 3.9 1.7-3.4-5.3-3.9z" color="#f7c000"/>
<path d="M144.8,627.2l5.5 4.2 1.6-2.9-5.4-4.2z" color="#f76c00"/>
<path d="M236.1,623.7l2.9 2.8 2.2-2.4-2.9-2.6z" color="#f54e00"/>
<path d="M105.5,647.6l5.3 3.8 1.6-3.6-5.2-3.8z" color="#f7eb00"/>
<path d="M181.3,620.6l2.8 2.4 2.3-3.6-2.8-2.3z" color="#f53a00"/>
<path d="M217.8,621l2.9 2.6 2.2-2.8-2.8-2.5z" color="#f53c00"/>
<path d="M199.5,619.9l2.9 2.5 2.3-3.1-2.9-2.5z" color="#f43600"/>
<path d="M134.6,632.2l5.4 4.1 1.6-3.1-5.4-4.1z" color="#f78a00"/>
<path d="M176.1,622l2.8 2.3 2.4-3.7-2.8-2.2z" color="#f54200"/>
<path d="M162.2,624.4l2.8 2.2 1.6-2.7-2.8-2.2z" color="#f65300"/>
<path d="M231,623.5l2.9 2.7 2.2-2.5-2.9-2.6z" color="#f54b00"/>
<path d="M94.9,656l5.2 3.8 1.3-2.9-5.2-3.7z" color="#a2f400"/>
<path d="M153.5,625.6l5.5 4.3 1.6-2.8-5.5-4.3z" color="#f66100"/>
<path d="M194.4,620.8l2.8 2.4 2.3-3.3-2.8-2.4z" color="#f53a00"/>
<path d="M124.3,637.9l5.4 4 1.6-3.3-5.3-4z" color="#f7ad00"/>
<path d="M212.7,621.3l2.8 2.5 2.3-2.8-2.9-2.5z" color="#f53d00"/>
<path d="M170.9,623.5l2.8 2.3 2.4-3.8-2.8-2.2z" color="#f54a00"/>
<path d="M166.6,623.9l2.8 2.3 1.5-2.7-2.7-2.2z" color="#f65000"/>
<path d="M114.1,644.3l5.3 3.9 1.6-3.5-5.3-3.9z" color="#f7d400"/>
<path d="M247,629.7l3 2.8 4.3-4.3-2.9-2.7z" color="#f76900"/>
<path d="M225.8,623.4l2.9 2.7 2.3-2.6-2.9-2.6z" color="#f54a00"/>
<path d="M143.2,630.2l5.5 4.2 1.6-3-5.5-4.2z" color="#f77c00"/>
<path d="M189.2,621.8l2.8 2.4 2.4-3.4-2.9-2.4z" color="#f53f00"/>
<path d="M103.9,651.3l5.2 3.8 1.7-3.7-5.3-3.8z" color="#e7f700"/>
<path d="M207.5,621.7l2.9 2.6 2.3-3-2.9-2.5z" color="#f53f00"/>
<path d="M239,626.5l2.9 2.7 2.2-2.3-2.9-2.8z" color="#f65b00"/>
<path d="M93.7,658.9l5.2 3.8 1.2-2.9-5.2-3.8z" color="#81f300"/>
<path d="M184.1,623l2.8 2.3 2.3-3.5-2.8-2.4z" color="#f54500"/>
<path d="M132.9,635.4l5.5 4.1 1.6-3.2-5.4-4.1z" color="#f79b00"/>
<path d="M220.7,623.6l2.9 2.6 2.2-2.8-2.9-2.6z" color="#f54900"/>
<path d="M160.6,627.1l2.8 2.3 1.6-2.8-2.8-2.2z" color="#f66200"/>
<path d="M202.4,622.4l2.8 2.5 2.3-3.2-2.8-2.4z" color="#f54200"/>
<path d="M151.9,628.5l5.5 4.3 1.6-2.9-5.5-4.3z" color="#f77000"/>
<path d="M122.7,641.3l5.3 4 1.7-3.4-5.4-4z" color="#f7bf00"/>
<path d="M233.9,626.2l2.9 2.7 2.2-2.4-2.9-2.8z" color="#f65900"/>
<path d="M178.9,624.3l2.8 2.4 2.4-3.7-2.8-2.4z" color="#f54c00"/>
<path d="M165,626.6l2.8 2.3 1.6-2.7-2.8-2.3z" color="#f65e00"/>
<path d="M112.4,647.8l5.3 4 1.7-3.6-5.3-3.9z" color="#f7e800"/>
<path d="M215.5,623.8l2.9 2.6 2.3-2.8-2.9-2.6z" color="#f54a00"/>
<path d="M197.2,623.2l2.9 2.5 2.3-3.3-2.9-2.5z" color="#f54600"/>
<path d="M102.6,654.1l5.3 3.9 1.2-2.9-5.2-3.8z" color="#c2f500"/>
<path d="M173.7,625.8l2.8 2.3 2.4-3.8-2.8-2.3z" color="#f65500"/>
<path d="M169.4,626.2l2.7 2.3 1.6-2.7-2.8-2.3z" color="#f65b00"/>
<path d="M141.6,633.2l5.5 4.3 1.6-3.1-5.5-4.2z" color="#f78c00"/>
<path d="M228.7,626.1l2.9 2.7 2.3-2.6-2.9-2.7z" color="#f65700"/>
<path d="M192,624.2l2.9 2.4 2.3-3.4-2.8-2.4z" color="#f54b00"/>
<path d="M241.9,629.2l2.9 2.8 2.2-2.3-2.9-2.8z" color="#f76900"/>
<path d="M210.4,624.3l2.9 2.5 2.2-3-2.8-2.5z" color="#f54b00"/>
<path d="M131.3,638.6l5.4 4.2 1.7-3.3-5.5-4.1z" color="#f7ad00"/>
<path d="M159,629.9l2.8 2.3 1.6-2.8-2.8-2.3z" color="#f77000"/>
<path d="M186.9,625.3l2.8 2.5 2.3-3.6-2.8-2.4z" color="#f65000"/>
<path d="M223.6,626.2l2.9 2.7 2.2-2.8-2.9-2.7z" color="#f65600"/>
<path d="M150.3,631.4l5.5 4.4 1.6-3-5.5-4.3z" color="#f77f00"/>
<path d="M101.4,656.9l5.2 3.9 1.3-2.8-5.3-3.9z" color="#a2f400"/>
<path d="M121,644.7l5.4 4.1 1.6-3.5-5.3-4z" color="#f7d200"/>
<path d="M205.2,624.9l2.9 2.5 2.3-3.1-2.9-2.6z" color="#f54e00"/>
<path d="M163.4,629.4l2.8 2.2 1.6-2.7-2.8-2.3z" color="#f76c00"/>
<path d="M236.8,628.9l2.9 2.8 2.2-2.5-2.9-2.7z" color="#f66600"/>
<path d="M110.8,651.4l5.3 4.1 1.6-3.7-5.3-4z" color="#eef700"/>
<path d="M181.7,626.7l2.8 2.4 2.4-3.8-2.8-2.3z" color="#f65800"/>
<path d="M140,636.3l5.4 4.3 1.7-3.1-5.5-4.3z" color="#f79d00"/>
<path d="M167.8,628.9l2.7 2.3 1.6-2.7-2.7-2.3z" color="#f76800"/>
<path d="M218.4,626.4l2.9 2.7 2.3-2.9-2.9-2.6z" color="#f65600"/>
<path d="M200.1,625.7l2.8 2.5 2.3-3.3-2.8-2.5z" color="#f65100"/>
<path d="M176.5,628.1l2.8 2.4 2.4-3.8-2.8-2.4z" color="#f66000"/>
<path d="M172.1,628.5l2.8 2.3 1.6-2.7-2.8-2.3z" color="#f66500"/>
<path d="M231.6,628.8l3 2.8 2.2-2.7-2.9-2.7z" color="#f66400"/>
<path d="M100.1,659.8l5.3 3.9 1.2-2.9-5.2-3.9z" color="#81f300"/>
<path d="M129.7,641.9l5.4 4.3 1.6-3.4-5.4-4.2z" color="#f7bf00"/>
<path d="M244.8,632l3 2.9 2.2-2.4-3-2.8z" color="#f77700"/>
<path d="M194.9,626.6l2.8 2.5 2.4-3.4-2.9-2.5z" color="#f65600"/>
<path d="M213.3,626.8l2.8 2.7 2.3-3.1-2.9-2.6z" color="#f65800"/>
<path d="M157.4,632.8l2.8 2.3 1.6-2.9-2.8-2.3z" color="#f77f00"/>
<path d="M119.4,648.2l5.3 4.1 1.7-3.5-5.4-4.1z" color="#f7e600"/>
<path d="M148.7,634.4l5.5 4.4 1.6-3-5.5-4.4z" color="#f79000"/>
<path d="M226.5,628.9l2.9 2.7 2.2-2.8-2.9-2.7z" color="#f66300"/>
<path d="M161.8,632.2l2.8 2.3 1.6-2.9-2.8-2.2z" color="#f77b00"/>
<path d="M109.1,655.1l5.3 4.1 1.7-3.7-5.3-4.1z" color="#c4f500"/>
<path d="M189.7,627.8l2.8 2.4 2.4-3.6-2.9-2.4z" color="#f65c00"/>
<path d="M208.1,627.4l2.9 2.6 2.3-3.2-2.9-2.5z" color="#f65a00"/>
<path d="M239.7,631.7l2.9 2.8 2.2-2.5-2.9-2.8z" color="#f77400"/>
<path d="M138.4,639.5l5.4 4.4 1.6-3.3-5.4-4.3z" color="#f7af00"/>
<path d="M98.9,662.7l5.2 4 1.3-3-5.3-3.9z" color="#60f100"/>
<path d="M166.2,631.6l2.7 2.4 1.6-2.8-2.7-2.3z" color="#f77700"/>
<path d="M184.5,629.1l2.8 2.4 2.4-3.7-2.8-2.5z" color="#f66300"/>
<path d="M221.3,629.1l2.9 2.7 2.3-2.9-2.9-2.7z" color="#f66300"/>
<path d="M170.5,631.2l2.8 2.3 1.6-2.7-2.8-2.3z" color="#f77300"/>
<path d="M202.9,628.2l2.9 2.6 2.3-3.4-2.9-2.5z" color="#f65e00"/>
<path d="M128,645.3l5.4 4.3 1.7-3.4-5.4-4.3z" color="#f7d200"/>
<path d="M234.6,631.6l2.9 2.8 2.2-2.7-2.9-2.8z" color="#f77200"/>
<path d="M179.3,630.5l2.8 2.4 2.4-3.8-2.8-2.4z" color="#f76b00"/>
<path d="M174.9,630.8l2.8 2.4 1.6-2.7-2.8-2.4z" color="#f77000"/>
<path d="M155.8,635.8l2.8 2.3 1.6-3-2.8-2.3z" color="#f78f00"/>
<path d="M117.7,651.8l5.4 4.2 1.6-3.7-5.3-4.1z" color="#f2f700"/>
<path d="M147.1,637.5l5.5 4.5 1.6-3.2-5.5-4.4z" color="#f7a100"/>
<path d="M107.9,658l5.3 4 1.2-2.8-5.3-4.1z" color="#9ff400"/>
<path d="M216.1,629.5l2.9 2.6 2.3-3-2.9-2.7z" color="#f66400"/>
<path d="M197.7,629.1l2.9 2.6 2.3-3.5-2.8-2.5z" color="#f66200"/>
<path d="M160.2,635.1l2.8 2.3 1.6-2.9-2.8-2.3z" color="#f78a00"/>
<path d="M229.4,631.6l2.9 2.8 2.3-2.8-3-2.8z" color="#f77100"/>
<path d="M136.7,642.8l5.5 4.4 1.6-3.3-5.4-4.4z" color="#f7c100"/>
<path d="M192.5,630.2l2.9 2.6 2.3-3.7-2.8-2.5z" color="#f76800"/>
<path d="M242.6,634.5l3 2.9 2.2-2.5-3-2.9z" color="#f78200"/>
<path d="M164.6,634.5l2.7 2.3 1.6-2.8-2.7-2.4z" color="#f78600"/>
<path d="M211,630l2.9 2.7 2.2-3.2-2.8-2.7z" color="#f66700"/>
<path d="M126.4,648.8l5.4 4.3 1.6-3.5-5.4-4.3z" color="#f7e500"/>
<path d="M168.9,634l2.8 2.3 1.6-2.8-2.8-2.3z" color="#f78200"/>
<path d="M106.6,660.8l5.3 4.1 1.3-2.9-5.3-4z" color="#7ff300"/>
<path d="M187.3,631.5l2.9 2.5 2.3-3.8-2.8-2.4z" color="#f76f00"/>
<path d="M224.2,631.8l2.9 2.7 2.3-2.9-2.9-2.7z" color="#f77000"/>
<path d="M205.8,630.8l2.9 2.6 2.3-3.4-2.9-2.6z" color="#f76a00"/>
<path d="M173.3,633.5l2.9 2.4 1.5-2.7-2.8-2.4z" color="#f77e00"/>
<path d="M116.1,655.5l5.3 4.2 1.7-3.7-5.4-4.2z" color="#c9f600"/>
<path d="M154.2,638.8l2.7 2.3 1.7-3-2.8-2.3z" color="#f7a000"/>
<path d="M237.5,634.4l2.9 2.8 2.2-2.7-2.9-2.8z" color="#f78000"/>
<path d="M145.4,640.6l5.5 4.6 1.7-3.2-5.5-4.5z" color="#f7b200"/>
<path d="M182.1,632.9l2.9 2.5 2.3-3.9-2.8-2.4z" color="#f77600"/>
<path d="M177.7,633.2l2.9 2.4 1.5-2.7-2.8-2.4z" color="#f77c00"/>
<path d="M158.6,638.1l2.7 2.3 1.7-3-2.8-2.3z" color="#f79a00"/>
<path d="M219,632.1l2.9 2.8 2.3-3.1-2.9-2.7z" color="#f77200"/>
<path d="M200.6,631.7l2.9 2.6 2.3-3.5-2.9-2.6z" color="#f76f00"/>
<path d="M143.8,643.9l2.7 2.2 1.7-3.2-2.8-2.3z" color="#f7be00"/>
<path d="M135.1,646.2l5.4 4.4 1.7-3.4-5.5-4.4z" color="#f7d300"/>
<path d="M232.3,634.4l2.9 2.8 2.3-2.8-2.9-2.8z" color="#f77e00"/>
<path d="M105.4,663.7l5.3 4.2 1.2-3-5.3-4.1z" color="#5ef100"/>
<path d="M163,637.4l2.7 2.4 1.6-3-2.7-2.3z" color="#f79500"/>
<path d="M195.4,632.8l2.8 2.5 2.4-3.6-2.9-2.6z" color="#f77400"/>
<path d="M213.9,632.7l2.8 2.7 2.3-3.3-2.9-2.6z" color="#f77400"/>
<path d="M124.7,652.3l5.5 4.4 1.6-3.6-5.4-4.3z" color="#f4f700"/>
<path d="M167.3,636.8l2.8 2.4 1.6-2.9-2.8-2.3z" color="#f79100"/>
<path d="M114.4,659.2l5.4 4.2 1.6-3.7-5.3-4.2z" color="#a0f400"/>
<path d="M227.1,634.5l3 2.8 2.2-2.9-2.9-2.8z" color="#f77e00"/>
<path d="M152.6,642l2.7 2.3 1.6-3.2-2.7-2.3z" color="#f7b000"/>
<path d="M171.7,636.3l2.9 2.5 1.6-2.9-2.9-2.4z" color="#f78d00"/>
<path d="M190.2,634l2.8 2.5 2.4-3.7-2.9-2.6z" color="#f77b00"/>
<path d="M208.7,633.4l2.8 2.7 2.4-3.4-2.9-2.7z" color="#f77700"/>
<path d="M240.4,637.2l3 2.9 2.2-2.7-3-2.9z" color="#f78e00"/>
<path d="M104.1,666.7l5.4 4.2 1.2-3-5.3-4.2z" color="#3cf000"/>
<path d="M176.2,635.9l2.8 2.5 1.6-2.8-2.9-2.4z" color="#f78a00"/>
<path d="M156.9,641.1l2.8 2.4 1.6-3.1-2.7-2.3z" color="#f7ab00"/>
<path d="M185,635.4l2.8 2.5 2.4-3.9-2.9-2.5z" color="#f78200"/>
<path d="M142.2,647.2l2.7 2.3 1.6-3.4-2.7-2.2z" color="#f7d000"/>
<path d="M133.4,649.6l5.5 4.4 1.6-3.4-5.4-4.4z" color="#f7e600"/>
<path d="M221.9,634.9l3 2.7 2.2-3.1-2.9-2.7z" color="#f77f00"/>
<path d="M180.6,635.6l2.8 2.5 1.6-2.7-2.9-2.5z" color="#f78800"/>
<path d="M203.5,634.3l2.8 2.6 2.4-3.5-2.9-2.6z" color="#f77b00"/>
<path d="M161.3,640.4l2.8 2.4 1.6-3-2.7-2.4z" color="#f7a500"/>
<path d="M235.2,637.2l3 2.9 2.2-2.9-2.9-2.8z" color="#f78d00"/>
<path d="M123.1,656l5.4 4.3 1.7-3.6-5.5-4.4z" color="#ccf600"/>
<path d="M146.5,646.1l2.8 2.3 1.6-3.2-2.7-2.3z" color="#f7c900"/>
<path d="M165.7,639.8l2.8 2.4 1.6-3-2.8-2.4z" color="#f7a100"/>
<path d="M113.2,662l5.3 4.3 1.3-2.9-5.4-4.2z" color="#7af200"/>
<path d="M216.7,635.4l3 2.7 2.2-3.2-2.9-2.8z" color="#f78100"/>
<path d="M198.2,635.3l2.9 2.6 2.4-3.6-2.9-2.6z" color="#f78000"/>
<path d="M150.9,645.2l2.8 2.3 1.6-3.2-2.7-2.3z" color="#f7c200"/>
<path d="M170.1,639.2l2.9 2.5 1.6-2.9-2.9-2.5z" color="#f79c00"/>
<path d="M230.1,637.3l2.9 2.9 2.2-3-2.9-2.8z" color="#f78c00"/>
<path d="M174.6,638.8l2.8 2.4 1.6-2.8-2.8-2.5z" color="#f79900"/>
<path d="M193,636.5l2.9 2.6 2.3-3.8-2.8-2.5z" color="#f78700"/>
<path d="M155.3,644.3l2.8 2.3 1.6-3.1-2.8-2.4z" color="#f7bb00"/>
<path d="M211.5,636.1l2.9 2.7 2.3-3.4-2.8-2.7z" color="#f78400"/>
<path d="M140.5,650.6l2.8 2.3 1.6-3.4-2.7-2.3z" color="#f7e300"/>
<path d="M131.8,653.1l5.5 4.5 1.6-3.6-5.5-4.4z" color="#f3f700"/>
<path d="M179,638.4l2.8 2.5 1.6-2.8-2.8-2.5z" color="#f79600"/>
<path d="M111.9,664.9l5.4 4.3 1.2-2.9-5.3-4.3z" color="#5af100"/>
<path d="M159.7,643.5l2.8 2.4 1.6-3.1-2.8-2.4z" color="#f7b600"/>
<path d="M224.9,637.6l2.9 2.9 2.3-3.2-3-2.8z" color="#f78d00"/>
<path d="M187.8,637.9l2.9 2.6 2.3-4-2.8-2.5z" color="#f78f00"/>
<path d="M121.4,659.7l5.4 4.4 1.7-3.8-5.4-4.3z" color="#a3f400"/>
<path d="M183.4,638.1l2.8 2.6 1.6-2.8-2.8-2.5z" color="#f79400"/>
<path d="M144.9,649.5l2.8 2.3 1.6-3.4-2.8-2.3z" color="#f7db00"/>
<path d="M206.3,636.9l2.9 2.7 2.3-3.5-2.8-2.7z" color="#f78800"/>
<path d="M238.2,640.1l2.9 2.9 2.3-2.9-3-2.9z" color="#f79b00"/>
<path d="M164.1,642.8l2.8 2.4 1.6-3-2.8-2.4z" color="#f7b100"/>
<path d="M149.3,648.4l2.8 2.4 1.6-3.3-2.8-2.3z" color="#f7d300"/>
<path d="M219.7,638.1l2.9 2.8 2.3-3.3-3-2.7z" color="#f78f00"/>
<path d="M168.5,642.2l2.9 2.4 1.6-2.9-2.9-2.5z" color="#f7ac00"/>
<path d="M201.1,637.9l2.9 2.7 2.3-3.7-2.8-2.6z" color="#f78d00"/>
<path d="M110.7,667.9l5.4 4.3 1.2-3-5.4-4.3z" color="#39f000"/>
<path d="M233,640.2l2.9 2.9 2.3-3-3-2.9z" color="#f79b00"/>
<path d="M173,641.7l2.8 2.5 1.6-3-2.8-2.4z" color="#f7a800"/>
<path d="M153.7,647.5l2.8 2.4 1.6-3.3-2.8-2.3z" color="#f7cd00"/>
<path d="M130.2,656.7l5.4 4.5 1.7-3.6-5.5-4.5z" color="#ccf600"/>
<path d="M138.9,654l2.7 2.4 1.7-3.5-2.8-2.3z" color="#f7f600"/>
<path d="M195.9,639.1l2.9 2.7 2.3-3.9-2.9-2.6z" color="#f79400"/>
<path d="M214.4,638.8l3 2.8 2.3-3.5-3-2.7z" color="#f79200"/>
<path d="M177.4,641.2l2.8 2.6 1.6-2.9-2.8-2.5z" color="#f7a500"/>
<path d="M158.1,646.6l2.8 2.5 1.6-3.2-2.8-2.4z" color="#f7c700"/>
<path d="M119.8,663.4l5.4 4.5 1.6-3.8-5.4-4.4z" color="#79f200"/>
<path d="M143.3,652.9l2.7 2.3 1.7-3.4-2.8-2.3z" color="#f7ed00"/>
<path d="M181.8,640.9l2.8 2.6 1.6-2.8-2.8-2.6z" color="#f7a200"/>
<path d="M227.8,640.5l2.9 2.9 2.3-3.2-2.9-2.9z" color="#f79b00"/>
<path d="M162.5,645.9l2.8 2.4 1.6-3.1-2.8-2.4z" color="#f7c100"/>
<path d="M190.7,640.5l2.8 2.6 2.4-4-2.9-2.6z" color="#f79b00"/>
<path d="M209.2,639.6l2.9 2.8 2.3-3.6-2.9-2.7z" color="#f79600"/>
<path d="M186.2,640.7l2.9 2.6 1.6-2.8-2.9-2.6z" color="#f7a000"/>
<path d="M109.5,670.9l5.3 4.3 1.3-3-5.4-4.3z" color="#17ef00"/>
<path d="M147.7,651.8l2.7 2.3 1.7-3.3-2.8-2.4z" color="#f7e600"/>
<path d="M166.9,645.2l2.8 2.5 1.7-3.1-2.9-2.4z" color="#f7bc00"/>
<path d="M222.6,640.9l2.9 2.9 2.3-3.3-2.9-2.9z" color="#f79d00"/>
<path d="M152.1,650.8l2.8 2.4 1.6-3.3-2.8-2.4z" color="#f7df00"/>
<path d="M204,640.6l2.9 2.7 2.3-3.7-2.9-2.7z" color="#f79b00"/>
<path d="M171.4,644.6l2.8 2.5 1.6-2.9-2.8-2.5z" color="#f7b800"/>
<path d="M128.5,660.3l5.5 4.6 1.6-3.7-5.4-4.5z" color="#a3f400"/>
<path d="M137.3,657.6l2.7 2.3 1.6-3.5-2.7-2.4z" color="#d4f600"/>
<path d="M235.9,643.1l3 2.9 2.2-3-2.9-2.9z" color="#f7a900"/>
<path d="M118.5,666.3l5.4 4.5 1.3-2.9-5.4-4.5z" color="#53f100"/>
<path d="M175.8,644.2l2.8 2.5 1.6-2.9-2.8-2.6z" color="#f7b400"/>
<path d="M156.5,649.9l2.8 2.4 1.6-3.2-2.8-2.5z" color="#f7d800"/>
<path d="M217.4,641.6l2.9 2.8 2.3-3.5-2.9-2.8z" color="#f79f00"/>
<path d="M198.8,641.8l2.9 2.7 2.3-3.9-2.9-2.7z" color="#f7a100"/>
<path d="M141.6,656.4l2.8 2.3 1.6-3.5-2.7-2.3z" color="#e5f700"/>
<path d="M180.2,643.8l2.9 2.5 1.5-2.8-2.8-2.6z" color="#f7b100"/>
<path d="M160.9,649.1l2.8 2.4 1.6-3.2-2.8-2.4z" color="#f7d200"/>
<path d="M230.7,643.4l3 2.9 2.2-3.2-2.9-2.9z" color="#f7aa00"/>
<path d="M184.6,643.5l2.9 2.6 1.6-2.8-2.9-2.6z" color="#f7af00"/>
<path d="M146,655.2l2.8 2.4 1.6-3.5-2.7-2.3z" color="#f6f700"/>
<path d="M193.5,643.1l2.9 2.7 2.4-4-2.9-2.7z" color="#f7a800"/>
<path d="M212.1,642.4l2.9 2.8 2.4-3.6-3-2.8z" color="#f7a300"/>
<path d="M165.3,648.3l2.8 2.5 1.6-3.1-2.8-2.5z" color="#f7cd00"/>
<path d="M189.1,643.3l2.9 2.6 1.5-2.8-2.8-2.6z" color="#f7ad00"/>
<path d="M117.3,669.2l5.4 4.5 1.2-2.9-5.4-4.5z" color="#32f000"/>
<path d="M150.4,654.1l2.8 2.5 1.7-3.4-2.8-2.4z" color="#f7f100"/>
<path d="M169.7,647.7l2.9 2.5 1.6-3.1-2.8-2.5z" color="#f7c800"/>
<path d="M126.8,664.1l5.5 4.6 1.7-3.8-5.5-4.6z" color="#7af200"/>
<path d="M225.5,643.8l2.9 2.9 2.3-3.3-2.9-2.9z" color="#f7ab00"/>
<path d="M135.6,661.2l2.7 2.3 1.7-3.6-2.7-2.3z" color="#acf400"/>
<path d="M206.9,643.3l2.9 2.8 2.3-3.7-2.9-2.8z" color="#f7a800"/>
<path d="M174.2,647.1l2.8 2.6 1.6-3-2.8-2.5z" color="#f7c400"/>
<path d="M154.9,653.2l2.7 2.4 1.7-3.3-2.8-2.4z" color="#f7ea00"/>
<path d="M140,659.9l2.8 2.4 1.6-3.6-2.8-2.3z" color="#bef500"/>
<path d="M178.6,646.7l2.9 2.6 1.6-3-2.9-2.5z" color="#f7c100"/>
<path d="M220.3,644.4l2.9 2.9 2.3-3.5-2.9-2.9z" color="#f7ae00"/>
<path d="M159.3,652.3l2.8 2.5 1.6-3.3-2.8-2.4z" color="#f7e400"/>
<path d="M201.7,644.5l2.9 2.7 2.3-3.9-2.9-2.7z" color="#f7ae00"/>
<path d="M116.1,672.2l5.4 4.5 1.2-3-5.4-4.5z" color="#11ee00"/>
<path d="M183.1,646.3l2.8 2.7 1.6-2.9-2.9-2.6z" color="#f7be00"/>
<path d="M144.4,658.7l2.8 2.4 1.6-3.5-2.8-2.4z" color="#cff600"/>
<path d="M233.7,646.3l2.9 3 2.3-3.3-3-2.9z" color="#f7b800"/>
<path d="M163.7,651.5l2.8 2.5 1.6-3.2-2.8-2.5z" color="#f7de00"/>
<path d="M187.5,646.1l2.9 2.6 1.6-2.8-2.9-2.6z" color="#f7bc00"/>
<path d="M215,645.2l3 2.8 2.3-3.6-2.9-2.8z" color="#f7b100"/>
<path d="M196.4,645.8l2.9 2.7 2.4-4-2.9-2.7z" color="#f7b500"/>
<path d="M148.8,657.6l2.8 2.4 1.6-3.4-2.8-2.5z" color="#dff600"/>
<path d="M125.2,667.9l5.4 4.6 1.7-3.8-5.5-4.6z" color="#50f100"/>
<path d="M192,645.9l2.8 2.7 1.6-2.8-2.9-2.7z" color="#f7ba00"/>
<path d="M134,664.9l2.7 2.4 1.6-3.8-2.7-2.3z" color="#84f300"/>
<path d="M168.1,650.8l2.9 2.6 1.6-3.2-2.9-2.5z" color="#f7d900"/>
<path d="M123.9,670.8l2.8 2.3 1.2-2.9-2.7-2.3z" color="#35f000"/>
<path d="M228.4,646.7l3 2.9 2.3-3.3-3-2.9z" color="#f7ba00"/>
<path d="M172.6,650.2l2.8 2.6 1.6-3.1-2.8-2.6z" color="#f7d400"/>
<path d="M153.2,656.6l2.8 2.4 1.6-3.4-2.7-2.4z" color="#eef700"/>
<path d="M114.8,675.2l5.4 4.6 1.3-3.1-5.4-4.5z" color="#00ee11"/>
<path d="M209.8,646.1l2.9 2.8 2.3-3.7-2.9-2.8z" color="#f7b600"/>
<path d="M138.3,663.5l2.8 2.4 1.7-3.6-2.8-2.4z" color="#97f400"/>
<path d="M177,649.7l2.9 2.6 1.6-3-2.9-2.6z" color="#f7d100"/>
<path d="M157.6,655.6l2.8 2.5 1.7-3.3-2.8-2.5z" color="#f7f600"/>
<path d="M223.2,647.3l3 2.9 2.2-3.5-2.9-2.9z" color="#f7bc00"/>
<path d="M142.8,662.3l2.7 2.4 1.7-3.6-2.8-2.4z" color="#a8f400"/>
<path d="M181.5,649.3l2.8 2.6 1.6-2.9-2.8-2.7z" color="#f7cd00"/>
<path d="M204.6,647.2l2.9 2.8 2.3-3.9-2.9-2.8z" color="#f7bc00"/>
<path d="M162.1,654.8l2.8 2.5 1.6-3.3-2.8-2.5z" color="#f7ef00"/>
<path d="M185.9,649l2.9 2.6 1.6-2.9-2.9-2.6z" color="#f7cb00"/>
<path d="M122.7,673.7l2.7 2.4 1.3-3-2.8-2.3z" color="#14ee00"/>
<path d="M147.2,661.1l2.7 2.5 1.7-3.6-2.8-2.4z" color="#b9f500"/>
<path d="M132.3,668.7l2.7 2.4 1.7-3.8-2.7-2.4z" color="#5af100"/>
<path d="M166.5,654l2.8 2.6 1.7-3.2-2.9-2.6z" color="#f7ea00"/>
<path d="M190.4,648.7l2.8 2.7 1.6-2.8-2.8-2.7z" color="#f7c900"/>
<path d="M218,648l2.9 2.9 2.3-3.6-2.9-2.9z" color="#f7bf00"/>
<path d="M199.3,648.5l2.9 2.8 2.4-4.1-2.9-2.7z" color="#f7c300"/>
<path d="M194.8,648.6l2.9 2.7 1.6-2.8-2.9-2.7z" color="#f7c700"/>
<path d="M151.6,660l2.8 2.5 1.6-3.5-2.8-2.4z" color="#c8f600"/>
<path d="M171,653.4l2.8 2.6 1.6-3.2-2.8-2.6z" color="#f7e500"/>
<path d="M231.4,649.6l3 3.1 2.2-3.4-2.9-3z" color="#f7c800"/>
<path d="M136.7,667.3l2.8 2.4 1.6-3.8-2.8-2.4z" color="#6ef200"/>
<path d="M175.4,652.8l2.8 2.6 1.7-3.1-2.9-2.6z" color="#f7e100"/>
<path d="M126.7,673.1l2.7 2.4 1.2-3-2.7-2.3z" color="#20ef00"/>
<path d="M212.7,648.9l2.9 2.9 2.4-3.8-3-2.8z" color="#f7c400"/>
<path d="M156,659l2.8 2.5 1.6-3.4-2.8-2.5z" color="#d6f600"/>
<path d="M121.5,676.7l2.7 2.4 1.2-3-2.7-2.4z" color="#00ee0e"/>
<path d="M141.1,665.9l2.8 2.5 1.6-3.7-2.7-2.4z" color="#80f300"/>
<path d="M179.9,652.3l2.8 2.7 1.6-3.1-2.8-2.6z" color="#f7dd00"/>
<path d="M226.2,650.2l2.9 3 2.3-3.6-3-2.9z" color="#f7cb00"/>
<path d="M160.4,658.1l2.9 2.6 1.6-3.4-2.8-2.5z" color="#e3f700"/>
<path d="M184.3,651.9l2.9 2.7 1.6-3-2.9-2.6z" color="#f7da00"/>
<path d="M207.5,650l2.9 2.9 2.3-4-2.9-2.8z" color="#f7ca00"/>
<path d="M145.5,664.7l2.8 2.5 1.6-3.6-2.7-2.5z" color="#92f300"/>
<path d="M130.6,672.5l2.8 2.4 1.6-3.8-2.7-2.4z" color="#30f000"/>
<path d="M164.9,657.3l2.8 2.6 1.6-3.3-2.8-2.6z" color="#eff700"/>
<path d="M188.8,651.6l2.9 2.8 1.5-3-2.8-2.7z" color="#f7d800"/>
<path d="M125.4,676.1l2.8 2.3 1.2-2.9-2.7-2.4z" color="#00ee01"/>
<path d="M220.9,650.9l2.9 3 2.4-3.7-3-2.9z" color="#f7ce00"/>
<path d="M149.9,663.6l2.8 2.5 1.7-3.6-2.8-2.5z" color="#a2f400"/>
<path d="M193.2,651.4l2.9 2.8 1.6-2.9-2.9-2.7z" color="#f7d600"/>
<path d="M169.3,656.6l2.9 2.6 1.6-3.2-2.8-2.6z" color="#f7f600"/>
<path d="M135,671.1l2.8 2.4 1.7-3.8-2.8-2.4z" color="#44f000"/>
<path d="M202.2,651.3l2.9 2.8 2.4-4.1-2.9-2.8z" color="#f7d000"/>
<path d="M120.2,679.8l2.7 2.3 1.3-3-2.7-2.4z" color="#00f02f"/>
<path d="M197.7,651.3l2.9 2.8 1.6-2.8-2.9-2.8z" color="#f7d500"/>
<path d="M173.8,656l2.8 2.6 1.6-3.2-2.8-2.6z" color="#f7f200"/>
<path d="M154.4,662.5l2.8 2.5 1.6-3.5-2.8-2.5z" color="#b1f500"/>
<path d="M139.5,669.7l2.7 2.4 1.7-3.7-2.8-2.5z" color="#58f100"/>
<path d="M215.6,651.8l3 3 2.3-3.9-2.9-2.9z" color="#f7d200"/>
<path d="M178.2,655.4l2.9 2.7 1.6-3.1-2.8-2.7z" color="#f7ee00"/>
<path d="M158.8,661.5l2.8 2.6 1.7-3.4-2.9-2.6z" color="#bef500"/>
<path d="M129.4,675.5l2.7 2.4 1.3-3-2.8-2.4z" color="#0aee00"/>
<path d="M229.1,653.2l3 3 2.3-3.5-3-3.1z" color="#f7da00"/>
<path d="M182.7,655l2.9 2.7 1.6-3.1-2.9-2.7z" color="#f7ea00"/>
<path d="M143.9,668.4l2.8 2.5 1.6-3.7-2.8-2.5z" color="#6af200"/>
<path d="M124.2,679.1l2.7 2.4 1.3-3.1-2.8-2.3z" color="#00ef23"/>
<path d="M163.3,660.7l2.8 2.6 1.6-3.4-2.8-2.6z" color="#cbf600"/>
<path d="M210.4,652.9l2.9 2.9 2.3-4-2.9-2.9z" color="#f7d800"/>
<path d="M187.2,654.6l2.9 2.8 1.6-3-2.9-2.8z" color="#f7e700"/>
<path d="M148.3,667.2l2.8 2.5 1.6-3.6-2.8-2.5z" color="#7af200"/>
<path d="M133.4,674.9l2.7 2.5 1.7-3.9-2.8-2.4z" color="#1aef00"/>
<path d="M191.7,654.4l2.8 2.7 1.6-2.9-2.9-2.8z" color="#f7e500"/>
<path d="M167.7,659.9l2.8 2.6 1.7-3.3-2.9-2.6z" color="#d6f600"/>
<path d="M223.8,653.9l3 3 2.3-3.7-2.9-3z" color="#f7dd00"/>
<path d="M196.1,654.2l2.9 2.8 1.6-2.9-2.9-2.8z" color="#f7e300"/>
<path d="M205.1,654.1l2.9 2.9 2.4-4.1-2.9-2.9z" color="#f7de00"/>
<path d="M152.7,666.1l2.8 2.5 1.7-3.6-2.8-2.5z" color="#8af300"/>
<path d="M172.2,659.2l2.8 2.7 1.6-3.3-2.8-2.6z" color="#e0f600"/>
<path d="M128.2,678.4l2.7 2.5 1.2-3-2.7-2.4z" color="#00ef17"/>
<path d="M137.8,673.5l2.8 2.5 1.6-3.9-2.7-2.4z" color="#2eef00"/>
<path d="M200.6,654.1l2.9 2.9 1.6-2.9-2.9-2.8z" color="#f7e200"/>
<path d="M122.9,682.1l2.8 2.4 1.2-3-2.7-2.4z" color="#00f045"/>
<path d="M176.6,658.6l2.9 2.7 1.6-3.2-2.9-2.7z" color="#e9f700"/>
<path d="M157.2,665l2.8 2.6 1.6-3.5-2.8-2.6z" color="#99f400"/>
<path d="M218.6,654.8l2.9 2.9 2.3-3.8-2.9-3z" color="#f7e100"/>
<path d="M142.2,672.1l2.8 2.5 1.7-3.7-2.8-2.5z" color="#41f000"/>
<path d="M181.1,658.1l2.9 2.7 1.6-3.1-2.9-2.7z" color="#f1f700"/>
<path d="M161.6,664.1l2.9 2.6 1.6-3.4-2.8-2.6z" color="#a6f400"/>
<path d="M132.1,677.9l2.8 2.4 1.2-2.9-2.7-2.5z" color="#00ee0c"/>
<path d="M185.6,657.7l2.9 2.8 1.6-3.1-2.9-2.8z" color="#f7f700"/>
<path d="M146.7,670.9l2.7 2.5 1.7-3.7-2.8-2.5z" color="#52f100"/>
<path d="M213.3,655.8l2.9 3 2.4-4-3-3z" color="#f7e600"/>
<path d="M126.9,681.5l2.7 2.4 1.3-3-2.7-2.5z" color="#00f039"/>
<path d="M166.1,663.3l2.8 2.6 1.6-3.4-2.8-2.6z" color="#b2f500"/>
<path d="M190.1,657.4l2.8 2.8 1.6-3.1-2.8-2.7z" color="#f7f500"/>
<path d="M194.5,657.1l2.9 2.9 1.6-3-2.9-2.8z" color="#f7f300"/>
<path d="M151.1,669.7l2.8 2.6 1.6-3.7-2.8-2.5z" color="#63f200"/>
<path d="M226.8,656.9l3 3.1 2.3-3.8-3-3z" color="#f7ec00"/>
<path d="M170.5,662.5l2.9 2.7 1.6-3.3-2.8-2.7z" color="#bdf500"/>
<path d="M136.1,677.4l2.8 2.5 1.7-3.9-2.8-2.5z" color="#03ee00"/>
<path d="M199,657l2.9 2.9 1.6-2.9-2.9-2.9z" color="#f7f100"/>
<path d="M208,657l2.9 3 2.4-4.2-2.9-2.9z" color="#f7ed00"/>
<path d="M175,661.9l2.9 2.7 1.6-3.3-2.9-2.7z" color="#c7f500"/>
<path d="M155.5,668.6l2.8 2.6 1.7-3.6-2.8-2.6z" color="#72f200"/>
<path d="M203.5,657l2.9 2.9 1.6-2.9-2.9-2.9z" color="#f7f000"/>
<path d="M130.9,680.9l2.7 2.4 1.3-3-2.8-2.4z" color="#00ef2d"/>
<path d="M140.6,676l2.7 2.5 1.7-3.9-2.8-2.5z" color="#17ef00"/>
<path d="M179.5,661.3l2.9 2.8 1.6-3.3-2.9-2.7z" color="#cff600"/>
<path d="M221.5,657.7l3 3.1 2.3-3.9-3-3z" color="#f7f000"/>
<path d="M125.7,684.5l2.7 2.5 1.2-3.1-2.7-2.4z" color="#00f15b"/>
<path d="M160,667.6l2.8 2.7 1.7-3.6-2.9-2.6z" color="#80f300"/>
<path d="M145.4,673.7l2.8 2.5 1.2-2.8-2.7-2.5z" color="#2eef00"/>
<path d="M184,660.8l2.9 2.8 1.6-3.1-2.9-2.8z" color="#d6f600"/>
<path d="M164.5,666.7l2.8 2.7 1.6-3.5-2.8-2.6z" color="#8df300"/>
<path d="M188.5,660.5l2.8 2.8 1.6-3.1-2.8-2.8z" color="#ddf600"/>
<path d="M216.2,658.8l3 3 2.3-4.1-2.9-2.9z" color="#f7f500"/>
<path d="M134.9,680.3l2.8 2.5 1.2-2.9-2.8-2.5z" color="#00ef23"/>
<path d="M149.4,673.4l2.8 2.6 1.7-3.7-2.8-2.6z" color="#3bf000"/>
<path d="M192.9,660.2l2.9 2.8 1.6-3-2.9-2.9z" color="#e1f600"/>
<path d="M168.9,665.9l2.9 2.7 1.6-3.4-2.9-2.7z" color="#99f400"/>
<path d="M129.6,683.9l2.8 2.5 1.2-3.1-2.7-2.4z" color="#00f14f"/>
<path d="M197.4,660l3 2.9 1.5-3-2.9-2.9z" color="#e5f700"/>
<path d="M173.4,665.2l2.9 2.7 1.6-3.3-2.9-2.7z" color="#a3f400"/>
<path d="M153.9,672.3l2.8 2.6 1.6-3.7-2.8-2.6z" color="#4bf100"/>
<path d="M144.2,676.5l2.8 2.6 1.2-2.9-2.8-2.5z" color="#0fee00"/>
<path d="M210.9,660l3 2.9 2.3-4.1-2.9-3z" color="#f0f700"/>
<path d="M201.9,659.9l3 2.9 1.5-2.9-2.9-2.9z" color="#e8f700"/>
<path d="M138.9,679.9l2.8 2.5 1.6-3.9-2.7-2.5z" color="#00ee14"/>
<path d="M206.4,659.9l3 2.9 1.5-2.8-2.9-3z" color="#e9f700"/>
<path d="M177.9,664.6l2.8 2.7 1.7-3.2-2.9-2.8z" color="#acf400"/>
<path d="M158.3,671.2l2.9 2.7 1.6-3.6-2.8-2.7z" color="#59f100"/>
<path d="M224.5,660.8l3 3.1 2.3-3.9-3-3.1z" color="#e9f700"/>
<path d="M133.6,683.3l2.8 2.6 1.3-3.1-2.8-2.5z" color="#00f044"/>
<path d="M182.4,664.1l2.8 2.8 1.7-3.3-2.9-2.8z" color="#b5f500"/>
<path d="M128.4,687l2.8 2.5 1.2-3.1-2.8-2.5z" color="#00f271"/>
<path d="M162.8,670.3l2.9 2.6 1.6-3.5-2.8-2.7z" color="#67f200"/>
<path d="M148.2,676.2l2.8 2.6 1.2-2.8-2.8-2.6z" color="#17ef00"/>
<path d="M186.9,663.6l2.8 2.8 1.6-3.1-2.8-2.8z" color="#bbf500"/>
<path d="M167.3,669.4l2.8 2.7 1.7-3.5-2.9-2.7z" color="#74f200"/>
<path d="M191.3,663.3l2.9 2.8 1.6-3.1-2.9-2.8z" color="#c1f500"/>
<path d="M142.9,679.5l2.8 2.5 1.3-2.9-2.8-2.6z" color="#00ee11"/>
<path d="M219.2,661.8l2.9 3 2.4-4-3-3.1z" color="#dff600"/>
<path d="M195.8,663l3 2.9 1.6-3-3-2.9z" color="#c6f500"/>
<path d="M137.7,682.8l2.7 2.6 1.3-3-2.8-2.5z" color="#00f03a"/>
<path d="M152.2,676l2.9 2.6 1.6-3.7-2.8-2.6z" color="#22ef00"/>
<path d="M171.8,668.6l2.8 2.8 1.7-3.5-2.9-2.7z" color="#7ff300"/>
<path d="M200.4,662.9l2.9 2.9 1.6-3-3-2.9z" color="#c9f600"/>
<path d="M132.4,686.4l2.8 2.5 1.2-3-2.8-2.6z" color="#00f266"/>
<path d="M213.9,662.9l2.9 3.1 2.4-4.2-3-3z" color="#d3f600"/>
<path d="M176.3,667.9l2.8 2.8 1.6-3.4-2.8-2.7z" color="#89f300"/>
<path d="M204.9,662.8l2.9 3 1.6-3-3-2.9z" color="#cbf600"/>
<path d="M156.7,674.9l2.8 2.7 1.7-3.7-2.9-2.7z" color="#32f000"/>
<path d="M147,679.1l2.8 2.6 1.2-2.9-2.8-2.6z" color="#00ee09"/>
<path d="M209.4,662.8l2.9 3 1.6-2.9-3-2.9z" color="#ccf600"/>
<path d="M180.7,667.3l2.9 2.9 1.6-3.3-2.8-2.8z" color="#92f300"/>
<path d="M141.7,682.4l2.8 2.6 1.2-3-2.8-2.5z" color="#00f031"/>
<path d="M161.2,673.9l2.8 2.7 1.7-3.7-2.9-2.6z" color="#40f000"/>
<path d="M185.2,666.9l2.9 2.8 1.6-3.3-2.8-2.8z" color="#99f400"/>
<path d="M136.4,685.9l2.8 2.5 1.2-3-2.7-2.6z" color="#00f15b"/>
<path d="M165.7,672.9l2.8 2.8 1.6-3.6-2.8-2.7z" color="#4ef100"/>
<path d="M189.7,666.4l2.9 2.9 1.6-3.2-2.9-2.8z" color="#a0f400"/>
<path d="M131.2,689.5l2.7 2.5 1.3-3.1-2.8-2.5z" color="#00f388"/>
<path d="M151,678.8l2.8 2.7 1.3-2.9-2.9-2.6z" color="#00ee02"/>
<path d="M222.1,664.8l3 3.1 2.4-4-3-3.1z" color="#c0f500"/>
<path d="M194.2,666.1l3 3 1.6-3.2-3-2.9z" color="#a5f400"/>
<path d="M170.1,672.1l2.9 2.8 1.6-3.5-2.8-2.8z" color="#5af100"/>
<path d="M145.7,682l2.8 2.7 1.3-3-2.8-2.6z" color="#00ef29"/>
<path d="M198.8,665.9l2.9 3 1.6-3.1-2.9-2.9z" color="#a9f400"/>
<path d="M174.6,671.4l2.9 2.8 1.6-3.5-2.8-2.8z" color="#64f200"/>
<path d="M140.4,685.4l2.8 2.6 1.3-3-2.8-2.6z" color="#00f152"/>
<path d="M155.1,678.6l2.8 2.7 1.6-3.7-2.8-2.7z" color="#09ee00"/>
<path d="M203.3,665.8l2.9 3 1.6-3-2.9-3z" color="#acf400"/>
<path d="M216.8,666l3 3.1 2.3-4.3-2.9-3z" color="#b5f500"/>
<path d="M207.8,665.8l2.9 3 1.6-3-2.9-3z" color="#aef400"/>
<path d="M135.2,688.9l2.7 2.6 1.3-3.1-2.8-2.5z" color="#00f37d"/>
<path d="M179.1,670.7l2.9 2.9 1.6-3.4-2.9-2.9z" color="#6ef200"/>
<path d="M212.3,665.8l3 3.1 1.5-2.9-2.9-3.1z" color="#aef400"/>
<path d="M159.5,677.6l2.9 2.7 1.6-3.7-2.8-2.7z" color="#19ef00"/>
<path d="M149.8,681.7l2.8 2.7 1.2-2.9-2.8-2.7z" color="#00ef21"/>
<path d="M183.6,670.2l2.9 2.8 1.6-3.3-2.9-2.8z" color="#76f200"/>
<path d="M164,676.6l2.9 2.7 1.6-3.6-2.8-2.8z" color="#27ef00"/>
<path d="M144.5,685l2.8 2.6 1.2-2.9-2.8-2.7z" color="#00f149"/>
<path d="M188.1,669.7l2.9 2.9 1.6-3.3-2.9-2.9z" color="#7ef300"/>
<path d="M139.2,688.4l2.8 2.7 1.2-3.1-2.8-2.6z" color="#00f273"/>
<path d="M192.6,669.3l3 3 1.6-3.2-3-3z" color="#84f300"/>
<path d="M168.5,675.7l2.9 2.8 1.6-3.6-2.9-2.8z" color="#33f000"/>
<path d="M153.8,681.5l2.8 2.7 1.3-2.9-2.8-2.7z" color="#00ef1b"/>
<path d="M133.9,692l2.8 2.6 1.2-3.1-2.7-2.6z" color="#00f49f"/>
<path d="M197.2,669.1l2.9 2.9 1.6-3.1-2.9-3z" color="#89f300"/>
<path d="M173,674.9l2.9 2.8 1.6-3.5-2.9-2.8z" color="#3ff000"/>
<path d="M201.7,668.9l2.9 3 1.6-3.1-2.9-3z" color="#8cf300"/>
<path d="M148.5,684.7l2.8 2.7 1.3-3-2.8-2.7z" color="#00f041"/>
<path d="M206.2,668.8l2.9 3 1.6-3-2.9-3z" color="#8ff300"/>
<path d="M177.5,674.2l2.9 2.8 1.6-3.4-2.9-2.9z" color="#49f100"/>
<path d="M219.8,669.1l3 3.1 2.3-4.3-3-3.1z" color="#96f400"/>
<path d="M157.9,681.3l2.8 2.8 1.7-3.8-2.9-2.7z" color="#00ee10"/>
<path d="M143.2,688l2.8 2.7 1.3-3.1-2.8-2.6z" color="#00f26a"/>
<path d="M210.7,668.8l3 3 1.6-2.9-3-3.1z" color="#90f300"/>
<path d="M182,673.6l2.9 2.8 1.6-3.4-2.9-2.8z" color="#53f100"/>
<path d="M215.3,668.9l2.9 3.1 1.6-2.9-3-3.1z" color="#90f300"/>
<path d="M137.9,691.5l2.8 2.7 1.3-3.1-2.8-2.7z" color="#00f395"/>
<path d="M162.4,680.3l2.8 2.8 1.7-3.8-2.9-2.7z" color="#00ee01"/>
<path d="M186.5,673l2.9 3 1.6-3.4-2.9-2.9z" color="#5bf100"/>
<path d="M152.6,684.4l2.8 2.7 1.2-2.9-2.8-2.7z" color="#00f03a"/>
<path d="M166.9,679.3l2.8 2.8 1.7-3.6-2.9-2.8z" color="#0cee00"/>
<path d="M191,672.6l2.9 3 1.7-3.3-3-3z" color="#62f100"/>
<path d="M147.3,687.6l2.8 2.7 1.2-2.9-2.8-2.7z" color="#00f162"/>
<path d="M195.6,672.3l2.9 3 1.6-3.3-2.9-2.9z" color="#67f200"/>
<path d="M171.4,678.5l2.8 2.8 1.7-3.6-2.9-2.8z" color="#19ef00"/>
<path d="M142,691.1l2.8 2.6 1.2-3-2.8-2.7z" color="#00f38b"/>
<path d="M200.1,672l2.9 3 1.6-3.1-2.9-3z" color="#6cf200"/>
<path d="M156.6,684.2l2.9 2.8 1.2-2.9-2.8-2.8z" color="#00f034"/>
<path d="M136.7,694.6l2.8 2.7 1.2-3.1-2.8-2.7z" color="#00f5b7"/>
<path d="M175.9,677.7l2.8 2.9 1.7-3.6-2.9-2.8z" color="#24ef00"/>
<path d="M204.6,671.9l3 3 1.5-3.1-2.9-3z" color="#6ff200"/>
<path d="M151.3,687.4l2.9 2.7 1.2-3-2.8-2.7z" color="#00f15a"/>
<path d="M209.1,671.8l3 3.1 1.6-3.1-3-3z" color="#71f200"/>
<path d="M180.4,677l2.9 2.9 1.6-3.5-2.9-2.8z" color="#2eef00"/>
<path d="M213.7,671.8l3 3.2 1.5-3-2.9-3.1z" color="#72f200"/>
<path d="M160.7,684.1l2.9 2.8 1.6-3.8-2.8-2.8z" color="#00ef2a"/>
<path d="M146,690.7l2.8 2.7 1.3-3.1-2.8-2.7z" color="#00f383"/>
<path d="M218.2,672l3 3.1 1.6-2.9-3-3.1z" color="#71f200"/>
<path d="M184.9,676.4l2.9 3 1.6-3.4-2.9-3z" color="#37f000"/>
<path d="M140.7,694.2l2.8 2.6 1.3-3.1-2.8-2.6z" color="#00f4ad"/>
<path d="M165.2,683.1l2.9 2.8 1.6-3.8-2.8-2.8z" color="#00ef1c"/>
<path d="M189.4,676l2.9 2.9 1.6-3.3-2.9-3z" color="#3ef000"/>
<path d="M155.4,687.1l2.8 2.8 1.3-2.9-2.9-2.8z" color="#00f154"/>
<path d="M193.9,675.6l3 3 1.6-3.3-2.9-3z" color="#45f000"/>
<path d="M169.7,682.1l2.9 2.9 1.6-3.7-2.8-2.8z" color="#00ee0e"/>
<path d="M150.1,690.3l2.8 2.8 1.3-3-2.9-2.7z" color="#00f27b"/>
<path d="M198.5,675.3l2.9 3 1.6-3.3-2.9-3z" color="#4af100"/>
<path d="M174.2,681.3l2.9 2.9 1.6-3.6-2.8-2.9z" color="#00ee02"/>
<path d="M203,675l3 3.1 1.6-3.2-3-3z" color="#4ef100"/>
<path d="M144.8,693.7l2.8 2.8 1.2-3.1-2.8-2.7z" color="#00f4a4"/>
<path d="M159.5,687l2.8 2.8 1.3-2.9-2.9-2.8z" color="#00f14e"/>
<path d="M207.6,674.9l2.9 3.1 1.6-3.1-3-3.1z" color="#51f100"/>
<path d="M178.7,680.6l2.9 2.9 1.7-3.6-2.9-2.9z" color="#08ee00"/>
<path d="M139.5,697.3l2.8 2.7 1.2-3.2-2.8-2.6z" color="#00f6d0"/>
<path d="M212.1,674.9l3 3.1 1.6-3-3-3.2z" color="#53f100"/>
<path d="M154.2,690.1l2.8 2.8 1.2-3-2.8-2.8z" color="#00f274"/>
<path d="M216.7,675l2.9 3.1 1.6-3-3-3.1z" color="#53f100"/>
<path d="M183.3,679.9l2.9 3 1.6-3.5-2.9-3z" color="#12ee00"/>
<path d="M163.6,686.9l2.8 2.8 1.7-3.8-2.9-2.8z" color="#00f044"/>
<path d="M187.8,679.4l2.9 3 1.6-3.5-2.9-2.9z" color="#1aef00"/>
<path d="M148.8,693.4l2.9 2.7 1.2-3-2.8-2.8z" color="#00f49c"/>
<path d="M192.3,678.9l3 3.1 1.6-3.4-3-3z" color="#22ef00"/>
<path d="M168.1,685.9l2.8 2.9 1.7-3.8-2.9-2.9z" color="#00f036"/>
<path d="M143.5,696.8l2.8 2.8 1.3-3.1-2.8-2.8z" color="#00f5c6"/>
<path d="M158.2,689.9l2.9 2.8 1.2-2.9-2.8-2.8z" color="#00f26e"/>
<path d="M196.9,678.6l2.9 3 1.6-3.3-2.9-3z" color="#28ef00"/>
<path d="M172.6,685l2.9 2.9 1.6-3.7-2.9-2.9z" color="#00ef2a"/>
<path d="M201.4,678.3l3 3.1 1.6-3.3-3-3.1z" color="#2cef00"/>
<path d="M152.9,693.1l2.9 2.8 1.2-3-2.8-2.8z" color="#00f395"/>
<path d="M206,678.1l2.9 3.1 1.6-3.2-2.9-3.1z" color="#30f000"/>
<path d="M177.1,684.2l2.9 3 1.6-3.7-2.9-2.9z" color="#00ef1e"/>
<path d="M210.5,678l3 3.2 1.6-3.2-3-3.1z" color="#32f000"/>
<path d="M147.6,696.5l2.8 2.7 1.3-3.1-2.9-2.7z" color="#00f5bd"/>
<path d="M162.3,689.8l2.9 2.8 1.2-2.9-2.8-2.8z" color="#00f269"/>
<path d="M181.6,683.5l2.9 3 1.7-3.6-2.9-3z" color="#00ee14"/>
<path d="M215.1,678l2.9 3.2 1.6-3.1-2.9-3.1z" color="#34f000"/>
<path d="M142.3,700l2.8 2.8 1.2-3.2-2.8-2.8z" color="#00f7e8"/>
<path d="M186.2,682.9l2.9 3 1.6-3.5-2.9-3z" color="#00ee0a"/>
<path d="M157,692.9l2.8 2.8 1.3-3-2.9-2.8z" color="#00f38e"/>
<path d="M166.4,689.7l2.9 2.9 1.6-3.8-2.8-2.9z" color="#00f15f"/>
<path d="M190.7,682.4l2.9 3 1.7-3.4-3-3.1z" color="#00ee02"/>
<path d="M151.7,696.1l2.8 2.9 1.3-3.1-2.9-2.8z" color="#00f5b6"/>
<path d="M195.3,682l2.9 3 1.6-3.4-2.9-3z" color="#04ee00"/>
<path d="M170.9,688.8l2.9 2.9 1.7-3.8-2.9-2.9z" color="#00f152"/>
<path d="M146.3,699.6l2.9 2.8 1.2-3.2-2.8-2.7z" color="#00f6df"/>
<path d="M199.8,681.6l3 3.1 1.6-3.3-3-3.1z" color="#0aee00"/>
<path d="M161.1,692.7l2.9 2.9 1.2-3-2.9-2.8z" color="#00f388"/>
<path d="M175.5,687.9l2.9 3 1.6-3.7-2.9-3z" color="#00f045"/>
<path d="M204.4,681.4l2.9 3.1 1.6-3.3-2.9-3.1z" color="#0eee00"/>
<path d="M208.9,681.2l3 3.2 1.6-3.2-3-3.2z" color="#12ee00"/>
<path d="M155.8,695.9l2.8 2.8 1.2-3-2.8-2.8z" color="#00f5af"/>
<path d="M180,687.2l2.9 2.9 1.6-3.6-2.9-3z" color="#00f03a"/>
<path d="M213.5,681.2l3 3.2 1.5-3.2-2.9-3.2z" color="#14ee00"/>
<path d="M150.4,699.2l2.9 2.9 1.2-3.1-2.8-2.9z" color="#00f6d7"/>
<path d="M184.5,686.5l3 3 1.6-3.6-2.9-3z" color="#00f030"/>
<path d="M165.2,692.6l2.9 2.9 1.2-2.9-2.9-2.9z" color="#00f384"/>
<path d="M145.1,702.8l2.8 2.8 1.3-3.2-2.9-2.8z" color="#00edf7"/>
<path d="M189.1,685.9l2.9 3.1 1.6-3.6-2.9-3z" color="#00ef27"/>
<path d="M159.8,695.7l2.9 2.9 1.3-3-2.9-2.9z" color="#00f4a9"/>
<path d="M193.6,685.4l3 3.1 1.6-3.5-2.9-3z" color="#00ef20"/>
<path d="M169.3,692.6l2.9 3 1.6-3.9-2.9-2.9z" color="#00f27b"/>
<path d="M154.5,699l2.9 2.8 1.2-3.1-2.8-2.8z" color="#00f6d0"/>
<path d="M198.2,685l2.9 3.2 1.7-3.5-3-3.1z" color="#00ef19"/>
<path d="M173.8,691.7l2.9 3 1.7-3.8-2.9-3z" color="#00f26e"/>
<path d="M202.8,684.7l2.9 3.2 1.6-3.4-2.9-3.1z" color="#00ee14"/>
<path d="M149.2,702.4l2.8 2.8 1.3-3.1-2.9-2.9z" color="#00f5f7"/>
<path d="M164,695.6l2.8 2.9 1.3-3-2.9-2.9z" color="#00f4a4"/>
<path d="M207.3,684.5l3 3.2 1.6-3.3-3-3.2z" color="#00ee10"/>
<path d="M178.4,690.9l2.9 3 1.6-3.8-2.9-2.9z" color="#00f162"/>
<path d="M211.9,684.4l3 3.3 1.6-3.3-3-3.2z" color="#00ee0e"/>
<path d="M158.6,698.7l2.9 2.9 1.2-3-2.9-2.9z" color="#00f6c9"/>
<path d="M182.9,690.1l2.9 3.1 1.7-3.7-3-3z" color="#00f157"/>
<path d="M187.5,689.5l2.9 3.1 1.6-3.6-2.9-3.1z" color="#00f14d"/>
<path d="M153.3,702.1l2.8 2.8 1.3-3.1-2.9-2.8z" color="#00f7f2"/>
<path d="M168.1,695.5l2.8 3 1.3-2.9-2.9-3z" color="#00f49f"/>
<path d="M192,689l3 3.1 1.6-3.6-3-3.1z" color="#00f045"/>
<path d="M147.9,705.6l2.9 2.8 1.2-3.2-2.8-2.8z" color="#00d3f7"/>
<path d="M162.7,698.6l2.9 2.9 1.2-3-2.8-2.9z" color="#00f5c4"/>
<path d="M196.6,688.5l2.9 3.2 1.6-3.5-2.9-3.2z" color="#00f03e"/>
<path d="M172.2,695.6l2.9 3 1.6-3.9-2.9-3z" color="#00f497"/>
<path d="M201.1,688.2l3 3.1 1.6-3.4-2.9-3.2z" color="#00f038"/>
<path d="M157.4,701.8l2.8 2.9 1.3-3.1-2.9-2.9z" color="#00f7eb"/>
<path d="M205.7,687.9l3 3.2 1.6-3.4-3-3.2z" color="#00f033"/>
<path d="M176.7,694.7l2.9 3 1.7-3.8-2.9-3z" color="#00f38a"/>
<path d="M210.3,687.7l3 3.3 1.6-3.3-3-3.3z" color="#00f02f"/>
<path d="M152,705.2l2.9 2.9 1.2-3.2-2.8-2.8z" color="#00dbf7"/>
<path d="M166.8,698.5l2.9 3 1.2-3-2.8-3z" color="#00f5bf"/>
<path d="M181.3,693.9l2.9 3.1 1.6-3.8-2.9-3.1z" color="#00f37e"/>
<path d="M185.8,693.2l3 3.1 1.6-3.7-2.9-3.1z" color="#00f274"/>
<path d="M161.5,701.6l2.8 3 1.3-3.1-2.9-2.9z" color="#00f7e5"/>
<path d="M190.4,692.6l2.9 3.1 1.7-3.6-3-3.1z" color="#00f26b"/>
<path d="M170.9,698.5l2.9 3 1.3-2.9-2.9-3z" color="#00f5bb"/>
<path d="M156.1,704.9l2.9 3 1.2-3.2-2.8-2.9z" color="#00e2f7"/>
<path d="M195,692.1l2.9 3.2 1.6-3.6-2.9-3.2z" color="#00f263"/>
<path d="M150.8,708.4l2.8 2.9 1.3-3.2-2.9-2.9z" color="#00b8f7"/>
<path d="M199.5,691.7l3 3.2 1.6-3.6-3-3.1z" color="#00f15c"/>
<path d="M165.6,701.5l2.9 3 1.2-3-2.9-3z" color="#00f6e0"/>
<path d="M175.1,698.6l2.9 3 1.6-3.9-2.9-3z" color="#00f5b3"/>
<path d="M204.1,691.3l3 3.3 1.6-3.5-3-3.2z" color="#00f157"/>
<path d="M208.7,691.1l3 3.3 1.6-3.4-3-3.3z" color="#00f152"/>
<path d="M160.2,704.7l2.9 3 1.2-3.1-2.8-3z" color="#00e9f7"/>
<path d="M179.6,697.7l2.9 3.1 1.7-3.8-2.9-3.1z" color="#00f4a7"/>
<path d="M154.9,708.1l2.8 3 1.3-3.2-2.9-3z" color="#00c0f7"/>
<path d="M184.2,697l2.9 3.1 1.7-3.8-3-3.1z" color="#00f49c"/>
<path d="M169.7,701.5l2.9 3 1.2-3-2.9-3z" color="#00f6db"/>
<path d="M188.8,696.3l2.9 3.2 1.6-3.8-2.9-3.1z" color="#00f392"/>
<path d="M164.3,704.6l2.9 3 1.3-3.1-2.9-3z" color="#00eef7"/>
<path d="M193.3,695.7l3 3.2 1.6-3.6-2.9-3.2z" color="#00f389"/>
<path d="M173.8,701.5l2.9 3.1 1.3-3-2.9-3z" color="#00f6d8"/>
<path d="M197.9,695.3l3 3.2 1.6-3.6-3-3.2z" color="#00f381"/>
<path d="M159,707.9l2.8 3 1.3-3.2-2.9-3z" color="#00c7f7"/>
<path d="M202.5,694.9l3 3.2 1.6-3.5-3-3.3z" color="#00f27b"/>
<path d="M153.6,711.3l2.9 3 1.2-3.2-2.8-3z" color="#009df7"/>
<path d="M168.5,704.5l2.9 3.1 1.2-3.1-2.9-3z" color="#00f3f7"/>
<path d="M207.1,694.6l3 3.3 1.6-3.5-3-3.3z" color="#00f276"/>
<path d="M178,701.6l2.9 3.1 1.6-3.9-2.9-3.1z" color="#00f6d0"/>
<path d="M163.1,707.7l2.9 3 1.2-3.1-2.9-3z" color="#00cdf7"/>
<path d="M182.5,700.8l3 3.1 1.6-3.8-2.9-3.1z" color="#00f5c4"/>
<path d="M187.1,700.1l3 3.2 1.6-3.8-2.9-3.2z" color="#00f5b9"/>
<path d="M172.6,704.5l2.9 3.1 1.2-3-2.9-3.1z" color="#00f7f7"/>
<path d="M157.7,711.1l2.9 3 1.2-3.2-2.8-3z" color="#00a4f7"/>
<path d="M191.7,699.5l2.9 3.2 1.7-3.8-3-3.2z" color="#00f5b0"/>
<path d="M167.2,707.6l2.9 3.1 1.3-3.1-2.9-3.1z" color="#00d2f7"/>
<path d="M196.3,698.9l2.9 3.3 1.7-3.7-3-3.2z" color="#00f4a8"/>
<path d="M200.9,698.5l2.9 3.3 1.7-3.7-3-3.2z" color="#00f4a1"/>
<path d="M176.7,704.6l3 3.1 1.2-3-2.9-3.1z" color="#00f7f5"/>
<path d="M161.8,710.9l2.9 3 1.3-3.2-2.9-3z" color="#00abf7"/>
<path d="M205.5,698.1l2.9 3.3 1.7-3.5-3-3.3z" color="#00f49b"/>
<path d="M171.4,707.6l2.9 3.1 1.2-3.1-2.9-3.1z" color="#00d6f7"/>
<path d="M156.5,714.3l2.8 3 1.3-3.2-2.9-3z" color="#0082f7"/>
<path d="M180.9,704.7l2.9 3.2 1.7-4-3-3.1z" color="#00f7ee"/>
<path d="M185.5,703.9l2.9 3.2 1.7-3.8-3-3.2z" color="#00f7e2"/>
<path d="M166,710.7l2.9 3.1 1.2-3.1-2.9-3.1z" color="#00b0f7"/>
<path d="M190.1,703.3l2.9 3.2 1.6-3.8-2.9-3.2z" color="#00f6d8"/>
<path d="M175.5,707.6l2.9 3.1 1.3-3-3-3.1z" color="#00daf7"/>
<path d="M160.6,714.1l2.9 3 1.2-3.2-2.9-3z" color="#0088f7"/>
<path d="M194.6,702.7l3 3.2 1.6-3.7-2.9-3.3z" color="#00f6cf"/>
<path d="M199.2,702.2l3 3.3 1.6-3.7-2.9-3.3z" color="#00f5c7"/>
<path d="M170.1,710.7l2.9 3.1 1.3-3.1-2.9-3.1z" color="#00b5f7"/>
<path d="M203.8,701.8l3 3.3 1.6-3.7-2.9-3.3z" color="#00f5c0"/>
<path d="M179.7,707.7l2.9 3.2 1.2-3-2.9-3.2z" color="#00dcf7"/>
<path d="M164.7,713.9l2.9 3.1 1.3-3.2-2.9-3.1z" color="#008ef7"/>
<path d="M174.3,710.7l2.9 3.1 1.2-3.1-2.9-3.1z" color="#00b9f7"/>
<path d="M183.8,707.9l3 3.2 1.6-4-2.9-3.2z" color="#00e3f7"/>
<path d="M159.3,717.3l2.9 3.1 1.3-3.3-2.9-3z" color="#0065f7"/>
<path d="M188.4,707.1l3 3.3 1.6-3.9-2.9-3.2z" color="#00eef7"/>
<path d="M168.9,713.8l2.9 3.1 1.2-3.1-2.9-3.1z" color="#0094f7"/>
<path d="M193,706.5l3 3.3 1.6-3.9-3-3.2z" color="#00f7f7"/>
<path d="M178.4,710.7l3 3.2 1.2-3-2.9-3.2z" color="#00bcf7"/>
<path d="M163.5,717.1l2.9 3.1 1.2-3.2-2.9-3.1z" color="#006cf7"/>
<path d="M197.6,705.9l3 3.3 1.6-3.7-3-3.3z" color="#00f7ee"/>
<path d="M202.2,705.5l3 3.3 1.6-3.7-3-3.3z" color="#00f7e7"/>
<path d="M173,713.8l2.9 3.2 1.3-3.2-2.9-3.1z" color="#0098f7"/>
<path d="M182.6,710.9l2.9 3.2 1.3-3-3-3.2z" color="#00bef7"/>
<path d="M167.6,717l2.9 3.1 1.3-3.2-2.9-3.1z" color="#0071f7"/>
<path d="M177.2,713.8l2.9 3.2 1.3-3.1-3-3.2z" color="#009bf7"/>
<path d="M186.8,711.1l2.9 3.3 1.7-4-3-3.3z" color="#00c5f7"/>
<path d="M162.2,720.4l2.9 3.1 1.3-3.3-2.9-3.1z" color="#0049f7"/>
<path d="M191.4,710.4l2.9 3.3 1.7-3.9-3-3.3z" color="#00cff7"/>
<path d="M171.8,716.9l2.9 3.2 1.2-3.1-2.9-3.2z" color="#0076f7"/>
<path d="M196,709.8l2.9 3.3 1.7-3.9-3-3.3z" color="#00d9f7"/>
<path d="M181.4,713.9l2.9 3.3 1.2-3.1-2.9-3.2z" color="#009ef7"/>
<path d="M200.6,709.2l3 3.4 1.6-3.8-3-3.3z" color="#00e1f7"/>
<path d="M166.4,720.2l2.9 3.2 1.2-3.3-2.9-3.1z" color="#004ff7"/>
<path d="M175.9,717l3 3.2 1.2-3.2-2.9-3.2z" color="#007af7"/>
<path d="M185.5,714.1l3 3.3 1.2-3-2.9-3.3z" color="#009ff7"/>
<path d="M170.5,720.1l2.9 3.2 1.3-3.2-2.9-3.2z" color="#0054f7"/>
<path d="M189.7,714.4l3 3.3 1.6-4-2.9-3.3z" color="#00a5f7"/>
<path d="M180.1,717l2.9 3.3 1.3-3.1-2.9-3.3z" color="#007df7"/>
<path d="M165.1,723.5l2.9 3.2 1.3-3.3-2.9-3.2z" color="#002cf7"/>
<path d="M194.3,713.7l3 3.3 1.6-3.9-2.9-3.3z" color="#00b0f7"/>
<path d="M174.7,720.1l2.9 3.3 1.3-3.2-3-3.2z" color="#0058f7"/>
<path d="M198.9,713.1l3 3.4 1.7-3.9-3-3.4z" color="#00b9f7"/>
<path d="M184.3,717.2l2.9 3.3 1.3-3.1-3-3.3z" color="#007ff7"/>
<path d="M169.3,723.4l2.9 3.2 1.2-3.3-2.9-3.2z" color="#0031f7"/>
<path d="M178.9,720.2l2.9 3.2 1.2-3.1-2.9-3.3z" color="#005cf7"/>
<path d="M188.5,717.4l2.9 3.3 1.3-3-3-3.3z" color="#0080f7"/>
<path d="M173.4,723.3l3 3.3 1.2-3.2-2.9-3.3z" color="#0036f7"/>
<path d="M192.7,717.7l3 3.3 1.6-4-3-3.3z" color="#0086f7"/>
<path d="M183,720.3l3 3.3 1.2-3.1-2.9-3.3z" color="#005ef7"/>
<path d="M168,726.7l2.9 3.2 1.3-3.3-2.9-3.2z" color="#000ef7"/>
<path d="M197.3,717l3 3.4 1.6-3.9-3-3.4z" color="#0090f7"/>
<path d="M177.6,723.4l3 3.2 1.2-3.2-2.9-3.2z" color="#003af7"/>
<path d="M187.2,720.5l3 3.3 1.2-3.1-2.9-3.3z" color="#0060f7"/>
<path d="M172.2,726.6l2.9 3.3 1.3-3.3-3-3.3z" color="#0013f7"/>
<path d="M181.8,723.4l3 3.4 1.2-3.2-3-3.3z" color="#003df7"/>
<path d="M191.4,720.7l3 3.4 1.3-3.1-3-3.3z" color="#0061f7"/>
<path d="M176.4,726.6l2.9 3.3 1.3-3.3-3-3.2z" color="#0017f7"/>
<path d="M195.7,721l2.9 3.5 1.7-4.1-3-3.4z" color="#0066f7"/>
<path d="M186,723.6l3 3.4 1.2-3.2-3-3.3z" color="#003ff7"/>
<path d="M170.9,729.9l3 3.3 1.2-3.3-2.9-3.3z" color="#0c00ef"/>
<path d="M180.6,726.6l2.9 3.4 1.3-3.2-3-3.4z" color="#001bf7"/>
<path d="M190.2,723.8l3 3.4 1.2-3.1-3-3.4z" color="#0040f7"/>
<path d="M175.1,729.9l3 3.3 1.2-3.3-2.9-3.3z" color="#0900f2"/>
<path d="M184.8,726.8l2.9 3.3 1.3-3.1-3-3.4z" color="#001df7"/>
<path d="M194.4,724.1l3 3.5 1.2-3.1-2.9-3.5z" color="#0040f7"/>
<path d="M179.3,729.9l3 3.3 1.2-3.2-2.9-3.4z" color="#0600f3"/>
<path d="M189,727l2.9 3.4 1.3-3.2-3-3.4z" color="#001ff7"/>
<path d="M173.9,733.2l2.9 3.3 1.3-3.3-3-3.3z" color="#2300e0"/>
<path d="M183.5,730l3 3.4 1.2-3.3-2.9-3.3z" color="#0400f5"/>
<path d="M193.2,727.2l3 3.5 1.2-3.1-3-3.5z" color="#0020f7"/>
<path d="M178.1,733.2l2.9 3.3 1.3-3.3-3-3.3z" color="#2000e2"/>
<path d="M187.7,730.1l3 3.5 1.2-3.2-2.9-3.4z" color="#0200f6"/>
<path d="M182.3,733.2l2.9 3.4 1.3-3.2-3-3.4z" color="#1d00e3"/>
<path d="M191.9,730.4l3 3.5 1.3-3.2-3-3.5z" color="#0100f7"/>
<path d="M176.8,736.5l3 3.4 1.2-3.4-2.9-3.3z" color="#3b00d0"/>
<path d="M186.5,733.4l2.9 3.4 1.3-3.2-3-3.5z" color="#1c00e5"/>
<path d="M181,736.5l3 3.5 1.2-3.4-2.9-3.4z" color="#3800d2"/>
<path d="M190.7,733.6l3 3.5 1.2-3.2-3-3.5z" color="#1a00e5"/>
<path d="M185.2,736.6l3 3.5 1.2-3.3-2.9-3.4z" color="#3600d3"/>
<path d="M179.8,739.9l2.9 3.4 1.3-3.3-3-3.5z" color="#5300bf"/>
<path d="M189.4,736.8l3 3.5 1.3-3.2-3-3.5z" color="#3400d4"/>
<path d="M184,740l2.9 3.4 1.3-3.3-3-3.5z" color="#5000c1"/>
<path d="M188.2,740.1l3 3.5 1.2-3.3-3-3.5z" color="#4e00c2"/>
<path d="M182.7,743.3l3 3.5 1.2-3.4-2.9-3.4z" color="#6b00af"/>
<path d="M186.9,743.4l3 3.6 1.3-3.4-3-3.5z" color="#6900b0"/>
<path d="M185.7,746.8l3 3.6 1.2-3.4-3-3.6z" color="#7500a4"/>
</g>
<path d="M49.4,633.3L53.9,623.8 59.8,611.9 65.8,601 71.7,591.1 76.1,584.3 81.9,576 87.7,568.6 93.5,562.2 97.8,557.9 103.5,553.1 109.1,549.1 114.7,546 120.2,543.8 125.6,542.4 131,541.9 136.3,542.2M54.5,635.6L59,626 65,614.1 70.9,603 76.9,593 82.7,583.9 88.6,575.7 94.4,568.5 100.1,562.2 105.8,556.8 111.5,552.3 117.1,548.7 122.6,546 128.1,544.1 133.5,543.1 138.8,542.9 144.1,543.5M59.8,638.2L64.3,628.5 70.2,616.4 76.2,605.3 82.1,595.1 88,585.9 93.8,577.6 99.6,570.2 105.4,563.8 111.1,558.4 116.7,553.8 122.3,550.1 127.8,547.3 133.3,545.3 138.7,544.2 144,544 149.3,544.5M65,640.9L71,628 77,616 82.9,605 88.9,594.9 94.7,585.8 100.6,577.7 106.3,570.5 112.1,564.2 117.8,558.9 123.4,554.4 128.9,550.9 131.7,549.4 135.8,547.6 141.2,546.1 146.6,545.3 151.9,545.4 154.5,545.7 158.4,546.6M70.4,643.9L76.4,630.8 82.3,618.7 88.3,607.6 94.2,597.4 100.1,588.2 105.9,579.9 111.7,572.6 117.4,566.2 123.1,560.8 128.7,556.2 134.3,552.6 137,551.1 141.1,549.3 146.5,547.6 151.9,546.8 157.1,546.8 159.7,547.1 163.6,548M75.7,647.1L81.8,633.9 87.7,621.6 93.7,610.4 99.6,600.1 105.5,590.7 111.3,582.4 117.1,574.9 124.2,567 129.9,561.7 135.5,557.3 141,553.8 143.8,552.3 147.8,550.6 153.2,549.1 155.9,548.6 159.8,548.4 165.1,548.7 167.6,549.2 171.5,550.3M81.2,650.5L87.2,637.1 93.2,624.7 99.1,613.4 106.5,600.5 112.4,591.3 118.2,583 124,575.7 131.1,567.9 136.7,562.7 139.5,560.5 143.7,557.5 149.2,554.4 151.9,553.2 155.9,551.7 161.3,550.5 163.9,550.3 167.8,550.2 173,550.9 175.5,551.6 179.3,552.9M86.7,654.1L92.7,640.6 98.7,628.1 104.6,616.6 112,603.5 117.9,594.2 123.7,585.8 129.5,578.4 136.6,570.5 142.2,565.2 147.8,560.9 153.3,557.4 156,556 160.1,554.3 165.4,552.8 168,552.4 172,552.2 177.1,552.6 179.7,553.1 183.5,554.3M92.2,657.9L98.3,644.3 104.3,631.6 110.2,620 116.1,609.3 122,599.6 127.8,590.9 133.6,583.1 140.7,574.8 146.4,569.2 151.9,564.5 157.4,560.7 160.2,559.1 164.2,557.2 169.6,555.4 172.2,554.9 176.1,554.4 181.3,554.6 183.9,555 187.7,555.9M97.8,661.9L103.9,648.2 109.9,635.4 115.8,623.6 123.2,610.2 129.1,600.7 134.9,592.1 140.6,584.5 147.7,576.3 153.4,570.8 158.9,566.2 164.4,562.6 167.1,561.1 171.1,559.3 176.4,557.6 179.1,557.1 183,556.8 188.1,557.1 190.6,557.5 194.4,558.6M103.5,666.2L109.6,652.3 115.6,639.4 121.5,627.4 128.9,613.9 134.8,604.2 142,593.5 147.7,586 154.8,578 160.4,572.6 163.2,570.3 167.3,567.2 172.7,563.9 175.4,562.6 179.4,561.1 184.7,559.8 187.3,559.5 191.1,559.4 193.7,559.6 197.4,560.3 199.9,561 203.6,562.5M109.2,670.7L115.3,656.6 121.3,643.6 127.2,631.5 134.6,617.8 140.5,608 147.7,597.1 153.5,589.5 160.5,581.3 166.1,575.9 168.9,573.5 173,570.3 175.7,568.5 179.7,566.3 182.4,565 186.4,563.6 191.6,562.4 194.2,562.2 198,562.2 200.5,562.5 204.3,563.3 206.8,564 210.4,565.6M115,675.4L121.1,661.2 128.6,644.8 134.5,632.9 141.9,619.4 147.7,609.7 154.9,598.9 160.6,591.4 167.7,583.4 173.2,578.1 176,575.8 180.1,572.7 182.8,571 186.8,568.8 189.4,567.6 193.4,566.3 196,565.7 199.8,565.2 202.4,565.1 206.2,565.3 208.7,565.8 212.4,566.8 214.8,567.8 218.4,569.6M120.9,680.3L126.9,666 134.4,649.5 140.4,637.4 147.7,623.7 153.6,613.9 160.8,603 166.5,595.4 173.5,587.2 179,581.8 181.8,579.4 185.9,576.3 188.5,574.5 192.6,572.2 195.2,571 199.1,569.6 201.7,568.9 205.6,568.3 208.1,568.2 211.9,568.4 214.4,568.8 218.1,569.8 220.5,570.7 224.1,572.5M126.8,685.5L132.8,671 140.3,654.3 146.3,642.1 153.6,628.2 159.5,618.3 166.7,607.2 173.8,597.7 180.7,589.7 187.6,583.2 190.3,581 194.4,578.2 197,576.6 201,574.6 203.6,573.5 207.5,572.4 210.1,571.9 213.9,571.6 216.4,571.6 220.1,572.1 222.6,572.7 226.2,573.9 228.6,575 232.1,577M132.7,690.9L138.8,676.3 146.3,659.4 153.7,644.1 161,630.4 166.8,620.5 174,609.6 181.1,600.3 188,592.4 190.8,589.7 194.9,586.1 197.6,584 201.6,581.2 204.2,579.7 208.2,577.8 210.8,576.8 214.6,575.8 217.2,575.3 220.9,575.1 223.4,575.2 227.1,575.8 229.6,576.4 233.2,577.8 235.5,578.9 239,581M138.7,696.5L144.8,681.7 152.3,664.7 158.2,652.2 165.6,638 171.4,627.7 178.6,616.4 185.7,606.6 192.6,598.3 198.1,592.7 200.8,590.3 204.9,587.2 207.5,585.3 211.5,583 214.1,581.8 218,580.3 220.5,579.6 224.3,579 226.8,578.9 230.5,579 232.9,579.4 236.6,580.4 239,581.3 242.5,583M144.8,702.4L150.8,687.5 158.3,670.2 164.3,657.6 171.6,643.2 177.4,632.8 184.6,621.3 191.7,611.3 198.6,602.9 205.5,596 208.2,593.6 212.2,590.6 214.8,588.8 218.7,586.6 221.3,585.4 225.2,584 227.7,583.4 231.5,582.9 233.9,582.8 237.6,583.1 240,583.5 243.6,584.6 246,585.5 249.5,587.4M150.9,708.5L156.9,693.4 164.4,676 171.9,660.2 179.2,645.9 185,635.7 192.1,624.3 199.2,614.5 206.1,606.2 212.9,599.5 215.5,597.2 219.5,594.2 222.1,592.5 226,590.4 228.6,589.2 232.4,588 234.9,587.4 238.7,587 241.1,586.9 244.7,587.3 247.1,587.8 250.7,589 254.2,590.6 257.6,592.6M157,714.9L163.1,699.6 170.6,682 178,666 185.4,651.6 191.1,641.2 198.3,629.7 205.3,619.7 212.2,611.3 219,604.4 221.6,602 225.6,598.9 228.2,597.2 232.1,595 234.6,593.8 238.4,592.5 240.9,591.9 244.7,591.3 247.1,591.3 250.7,591.6 253.1,592 256.6,593.1 258.9,594.1 262.4,596M163.3,721.5L169.3,706.1 176.8,688.3 184.2,672.1 191.6,657.5 197.3,647 204.5,635.3 211.5,625.1 218.4,616.5 225.1,609.5 227.8,607.1 231.7,603.9 234.3,602.1 238.2,599.8 240.7,598.6 244.5,597.2 247,596.5 250.7,595.9 253.1,595.8 256.7,596.1 259.1,596.5 262.6,597.5 266,599 269.4,600.9M271.7,602.5L272.8,603.3M169.5,728.3L175.6,712.8 183.1,694.8 190.5,678.4 197.8,663.6 205,650.5 212.1,638.9 219.1,628.9 225.9,620.5 232.6,613.6 235.3,611.2 239.2,608.2 241.8,606.4 245.6,604.2 249.4,602.6 253.1,601.4 255.6,600.9 259.2,600.6 261.6,600.6 265.1,601.1 267.5,601.7 270.9,603 274.3,604.7 277.6,606.9M175.9,735.4L183.4,715.9 190.9,698.1 198.3,681.8 205.6,667.2 212.8,654.2 219.8,642.8 226.7,632.9 233.5,624.7 240.2,617.9 242.8,615.6 246.7,612.7 249.3,611 253.1,608.9 256.8,607.3 260.5,606.2 262.9,605.8 266.5,605.5 270.1,605.8 273.5,606.5 275.8,607.3 279.2,608.8 282.6,610.7 285.8,613.1M182.2,742.8L189.8,723.1 197.3,705 204.7,688.6 212,673.8 219.1,660.6 226.1,649 233.1,639 239.8,630.6 246.5,623.7 249.1,621.3 252.9,618.3 255.5,616.5 259.3,614.3 263,612.7 266.7,611.5 269.1,611 272.7,610.7 276.2,610.9 279.7,611.6 281.9,612.3 285.3,613.7 288.6,615.6 291.9,617.9M296.1,621.7L298.2,623.9M47.6,624.1L56.2,627.7 65,631.9 74,636.7 81.6,641.1 90.8,647 100.3,653.5 109.8,660.6 117.9,667 127.8,675.3 136.1,682.7 146.3,692.2 154.9,700.6 165.3,711.4 174.1,720.9 183,730.8 192.1,741.3M50.9,617.3L59.6,620.9 68.4,624.9 77.3,629.6 84.9,633.9 94.2,639.7 103.6,646 113.2,653 121.3,659.3 131.2,667.4 139.5,674.7 149.7,684.1 158.2,692.4 168.7,703 177.5,712.4 186.4,722.2 195.4,732.6M54.2,610.9L62.9,614.3 71.7,618.3 80.7,622.8 88.3,627 97.5,632.6 106.9,638.8 116.5,645.7 124.6,651.9 134.5,659.9 142.8,667.1 153,676.3 161.6,684.5 172,695 180.8,704.2 189.7,713.9 198.8,724.2M57.5,604.8L66.2,608 75,611.9 84,616.3 91.6,620.4 100.8,625.9 110.3,632 119.9,638.7 128,644.8 137.8,652.7 146.2,659.7 156.3,668.8 164.9,676.9 175.3,687.2 184.2,696.4 193.1,706 202.1,716.1M60.8,598.9L69.5,602.1 78.3,605.8 87.3,610.1 94.9,614.1 104.2,619.5 113.6,625.5 123.2,632 131.3,638 141.1,645.8 149.5,652.7 159.6,661.7 168.2,669.7 178.7,679.8 187.5,688.9 196.4,698.3 205.4,708.3M64.1,593.3L72.8,596.4 81.6,600 90.6,604.2 98.2,608.1 107.5,613.4 116.9,619.2 126.5,625.7 134.6,631.6 144.4,639.2 152.8,646 162.9,654.8 171.5,662.7 182,672.8 190.8,681.7 199.7,691 208.7,700.9M67.4,588.1L76.1,591 84.9,594.5 93.9,598.6 101.5,602.4 110.7,607.5 120.2,613.3 129.8,619.6 137.9,625.4 147.7,632.9 156.1,639.6 166.2,648.3 174.8,656.1 185.2,666 194,674.8 202.9,684 211.9,693.8M70.7,583.1L79.3,585.9 88.2,589.3 97.1,593.3 104.8,597 114,602 123.5,607.7 133,613.9 141.1,619.6 151,626.9 159.3,633.6 169.5,642.1 178.1,649.8 188.5,659.5 197.3,668.2 206.2,677.4 215.2,687M73.9,578.4L82.6,581.1 91.4,584.4 100.4,588.3 108,591.9 117.3,596.8 126.7,602.3 136.3,608.4 144.4,614 154.3,621.3 162.6,627.8 172.7,636.2 181.3,643.8 191.7,653.4 200.5,662 209.4,671 218.4,680.5M77.2,574L85.8,576.6 94.7,579.8 103.7,583.6 111.3,587.1 120.5,591.9 130,597.3 139.5,603.3 147.6,608.8 157.5,615.9 165.8,622.3 176,630.7 184.5,638.1 194.9,647.6 203.7,656.1 212.6,665 221.6,674.4M80.4,569.9L89.1,572.4 97.9,575.5 106.9,579.1 114.5,582.6 123.8,587.3 133.2,592.6 142.8,598.5 150.9,603.8 160.7,610.9 169,617.2 179.2,625.4 187.7,632.7 198.1,642.1 206.9,650.5 215.8,659.3 224.8,668.6M83.6,566L92.3,568.5 101.1,571.5 110.1,575 117.7,578.4 127,583 136.4,588.2 146,593.9 154.1,599.2 163.9,606.1 172.2,612.4 182.4,620.4 190.9,627.7 201.3,636.9 210.1,645.2 218.9,653.9 227.9,663.1M86.8,562.5L95.5,564.8 104.3,567.7 113.3,571.2 120.9,574.5 130.2,579 139.6,584 149.1,589.7 157.2,594.9 167.1,601.7 175.4,607.8 185.5,615.8 194.1,622.9 204.4,632.1 213.2,640.2 222.1,648.8 231,657.9M90,559.2L98.7,561.5 107.5,564.3 116.5,567.6 124.1,570.9 133.4,575.2 142.8,580.2 152.3,585.8 160.4,590.9 170.2,597.6 178.5,603.6 188.7,611.4 197.2,618.5 207.6,627.5 216.3,635.5 225.2,644 234.1,653M93.2,556.2L101.9,558.4 110.7,561.1 119.7,564.4 127.3,567.5 136.5,571.8 145.9,576.7 155.5,582.1 163.5,587.2 173.4,593.7 181.7,599.7 191.8,607.4 200.3,614.3 210.7,623.3 219.4,631.2 228.3,639.6 237.2,648.4M96.4,553.5L105,555.6 113.9,558.2 122.8,561.4 130.4,564.5 139.7,568.7 149.1,573.4 158.6,578.8 166.7,583.7 176.5,590.2 184.8,596.1 194.9,603.7 203.4,610.5 213.7,619.3 222.5,627.1 231.3,635.4 240.2,644.2M99.5,551.1L108.2,553.1 117,555.6 126,558.7 133.5,561.7 142.8,565.8 152.2,570.5 161.7,575.8 169.8,580.6 179.6,587 187.9,592.7 197.9,600.2 206.5,607 216.8,615.7 225.5,623.4 234.3,631.6 243.3,640.3M102.7,548.9L111.3,550.8 120.1,553.3 129.1,556.3 136.7,559.2 145.9,563.2 155.3,567.8 164.8,573 172.8,577.8 182.6,584 190.9,589.7 201,597.1 209.5,603.8 219.8,612.3 228.5,620 237.3,628.1 246.2,636.6M105.8,547L114.4,548.9 123.2,551.3 132.2,554.2 139.7,557 149,560.9 158.3,565.4 167.9,570.5 175.9,575.2 185.7,581.4 194,587 204,594.3 212.5,600.8 222.8,609.3 231.5,616.8 240.3,624.8 249.2,633.3M108.9,545.4L117.5,547.2 126.3,549.5 135.3,552.3 142.8,555.1 152,558.9 161.4,563.3 170.9,568.3 178.9,572.9 188.7,579 197,584.5 207,591.7 215.5,598.2 225.8,606.6 234.5,614 243.3,621.9 252.1,630.3M112,544L120.6,545.7 129.4,548 138.3,550.7 145.9,553.4 155.1,557.2 164.4,561.5 173.9,566.4 181.9,571 191.7,576.9 200,582.4 210,589.5 218.4,595.9 228.7,604.1 237.4,611.5 246.2,619.3 255,627.6M115,542.9L123.6,544.6 132.4,546.7 141.3,549.4 148.9,552.1 158.1,555.8 167.4,560 176.9,564.8 184.9,569.3 194.7,575.1 202.9,580.5 212.9,587.5 221.4,593.8 231.6,602 240.3,609.2 249.1,617 257.9,625.1M118.1,542.1L126.7,543.7 135.5,545.8 144.4,548.4 151.9,551 161.1,554.6 170.4,558.7 179.9,563.5 187.9,567.8 197.6,573.6 205.9,578.9 215.8,585.8 224.3,592.1 234.5,600.1 243.2,607.3 251.9,614.9 260.7,623M121.1,541.5L129.7,543 138.5,545.1 147.4,547.6 154.9,550.1 164.1,553.7 173.4,557.7 182.8,562.4 190.8,566.7 200.6,572.4 208.8,577.6 218.7,584.4 227.2,590.6 237.4,598.5 246,605.6 254.7,613.2 263.6,621.2M124.1,541.2L132.7,542.6 141.4,544.6 150.3,547.1 157.9,549.6 167,553 176.3,557 185.8,561.6 193.7,565.8 203.5,571.5 211.6,576.6 221.6,583.3 230,589.4 240.2,597.2 248.8,604.3 257.5,611.7 266.3,619.6M127.1,541.1L135.7,542.5 144.4,544.4 153.3,546.8 160.8,549.2 169.9,552.6 179.2,556.6 188.7,561.1 196.6,565.2 206.3,570.8 214.5,575.8 224.4,582.5 232.8,588.5 243,596.2 251.6,603.2 260.3,610.5 269.1,618.4M130,541.3L131.5,541.5M134.3,541.9L143,543.5 150.3,545.2 159.2,547.7 166.7,550.2 175.9,553.7 183.7,557.1 193.1,561.6 201.1,565.8 210.8,571.3 219,576.4 227.3,581.9 235.6,587.8 245.8,595.5 254.4,602.3 263,609.6 271.8,617.4M137.2,542.3L140.1,542.8M143,543.3L151.7,545.1 159.1,547.1 166.6,549.4 174.2,552.1 183.4,555.8 191.2,559.3 199.1,563.2 207.1,567.5 215.2,572.2 223.4,577.2 231.7,582.8 240.1,588.7 248.5,595 257.1,601.8 265.8,609 274.5,616.7M159,546.8L166.5,548.9 174,551.4 181.7,554.2 187.8,556.8 195.6,560.3 202,563.4 209.9,567.6 216.4,571.3 231.1,580.5 246.2,591 261.5,602.9 277.1,616.3M161.9,547.6L163.4,547.9M167.8,549.2L175.3,551.5M178.4,552.6L190.6,557.3 203.2,563.1 215.9,569.8 228.9,577.6 242.2,586.4 253.9,594.9 267.6,605.7 279.8,616.1M176.7,552L184.2,554.6 190.4,556.9 202.8,562.3 215.5,568.7 228.4,576.1 241.5,584.5 254.9,594 268.5,604.6 282.4,616.2M194.7,558.6L204,562.6M207.1,564.1L216.6,568.8 226.2,574.1 236,579.9 245.8,586.4 255.9,593.4 266,601 276.3,609.3 284.9,616.6M205.1,563.2L209.8,565.3M217.7,569.2L227.3,574.3 235.3,579 243.5,584.1 251.8,589.6 261.8,596.7 270.3,603.1 278.8,610 287.4,617.2M229.9,575.7L244.5,584.3 259.4,594.2 274.5,605.5 289.9,618.2M247.1,585.8L252,588.9M255.3,591.1L256.9,592.2M260.2,594.5L268.6,600.4 277,606.8 292.4,619.3M262.8,596.2L271.1,602 279.5,608.3 294.8,620.7M276.9,606.3L278.6,607.6M288.7,615.4L297.2,622.4M297.9,622.9L299.6,624.3M296.8,622.3L301.9,626.4" fill="none" stroke="#b4b4b4" stroke-opacity="0.3" stroke-width="0.4"/>
<path d="M47.3,717.2L41.3,546.6" stroke="#222" stroke-width="1" fill="none" />
<path d="M47.3,717.2L188.6,764.2" stroke="#222" stroke-width="0.9" fill="none" />
<path d="M188.6,764.2L300.7,709.2" stroke="#222" stroke-width="0.9" fill="none" />
<path d="M46.8,702.4h-3M45.5,664.8h-3M44.1,626.4h-3M42.7,587h-3M41.3,546.6h-3M47.3,717.2L43.9,718.5M68.3,724.2L64.9,725.5M90.2,731.5L86.8,732.9M113.1,739.1L109.7,740.5M137.1,747.1L133.7,748.6M162.2,755.5L158.8,757M188.6,764.2L185.2,765.9M188.6,764.2L192.6,765.6M214.1,751.7L218.1,753M238,740L241.9,741.2M260.3,729.1L264.2,730.2M281.1,718.8L285,719.9M300.7,709.2L304.5,710.2" stroke="#222" stroke-width="0.8" fill="none"/>
<text transform="matrix(1.123 -0.405 1.024 0.343 48.671 719.334)" font-size="10" text-anchor="end" font-weight="normal" fill="#000" stroke="#000" stroke-width="0.3" >30</text>
<text transform="matrix(1.120 -0.423 1.070 0.358 69.816 726.406)" font-size="10" text-anchor="end" font-weight="normal" fill="#000" stroke="#000" stroke-width="0.3" >31</text>
<text transform="matrix(1.115 -0.442 1.118 0.374 91.909 733.795)" font-size="10" text-anchor="end" font-weight="normal" fill="#000" stroke="#000" stroke-width="0.3" >32</text>
<text transform="matrix(1.109 -0.463 1.170 0.391 115.014 741.522)" font-size="10" text-anchor="end" font-weight="normal" fill="#000" stroke="#000" stroke-width="0.3" >33</text>
<text transform="matrix(1.101 -0.485 1.225 0.410 139.203 749.612)" font-size="10" text-anchor="end" font-weight="normal" fill="#000" stroke="#000" stroke-width="0.3" >34</text>
<text transform="matrix(1.091 -0.509 1.285 0.430 164.554 758.090)" font-size="10" text-anchor="end" font-weight="normal" fill="#000" stroke="#000" stroke-width="0.3" >35</text>
<text transform="matrix(1.079 -0.535 1.349 0.451 191.153 766.986)" font-size="10" text-anchor="end" font-weight="normal" fill="#000" stroke="#000" stroke-width="0.3" >36</text>
<text transform="matrix(1.243 0.417 -0.996 0.494 190.171 767.473)" font-size="10" text-anchor="start" font-weight="bold" fill="#000" >40</text>
<text transform="matrix(1.228 0.388 -0.927 0.460 215.900 754.715)" font-size="10" text-anchor="start" font-weight="bold" fill="#000" >44</text>
<text transform="matrix(1.211 0.363 -0.865 0.429 239.880 742.823)" font-size="10" text-anchor="start" font-weight="bold" fill="#000" >48</text>
<text transform="matrix(1.194 0.339 -0.810 0.401 262.284 731.713)" font-size="10" text-anchor="start" font-weight="bold" fill="#000" >52</text>
<text transform="matrix(1.176 0.318 -0.759 0.376 283.263 721.310)" font-size="10" text-anchor="start" font-weight="bold" fill="#000" >56</text>
<text transform="matrix(1.159 0.299 -0.713 0.353 302.949 711.549)" font-size="10" text-anchor="start" font-weight="bold" fill="#000" >60</text>
<text transform="matrix(0.964 -0.332 0.045 1.210 41.462 707.771)" font-size="10" text-anchor="end" font-weight="bold" fill="#000" >18.0</text>
<text transform="matrix(0.977 -0.294 0.046 1.238 40.060 670.039)" font-size="10" text-anchor="end" font-weight="bold" fill="#000" >18.5</text>
<text transform="matrix(0.990 -0.254 0.047 1.268 38.625 631.417)" font-size="10" text-anchor="end" font-weight="bold" fill="#000" >19.0</text>
<text transform="matrix(1.003 -0.212 0.048 1.298 37.156 591.872)" font-size="10" text-anchor="end" font-weight="bold" fill="#000" >19.5</text>
<text transform="matrix(1.017 -0.168 0.049 1.330 35.652 551.372)" font-size="10" text-anchor="end" font-weight="bold" fill="#000" >20.0</text>
<text transform="matrix(1.273 0.453 -1.268 0.537 92.583 755.890)" font-size="10" text-anchor="middle" font-weight="bold" fill="#000" >Fermentation temperature (°C)</text>
<text transform="matrix(0.982 -0.520 1.540 0.440 287.857 740.409)" font-size="10" text-anchor="middle" font-weight="bold" fill="#000" >Loading (g)</text>
<text transform="matrix(-0.071 -1.593 1.281 -0.335 14.851 641.862)" font-size="10" text-anchor="middle" font-weight="bold" fill="#000" >True protein (%)</text>
</g>
<text x="8.8" y="25.1" font-size="22" text-anchor="start" font-weight="bold" fill="#000" >A</text>
<text x="1.5" y="290" font-size="22" text-anchor="start" font-weight="bold" fill="#000" >C</text>
<text x="1.7" y="554" font-size="22" text-anchor="start" font-weight="bold" fill="#000" >E</text>
</svg></body></html>
